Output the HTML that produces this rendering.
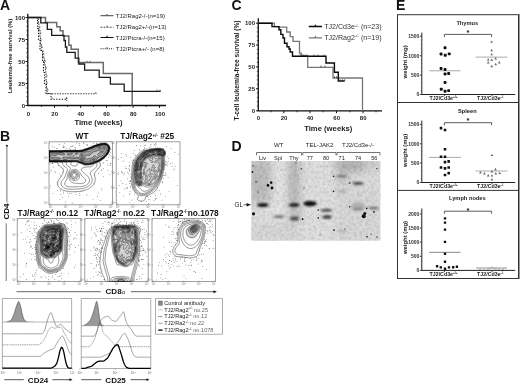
<!DOCTYPE html>
<html><head><meta charset="utf-8"><style>
html,body{margin:0;padding:0;background:#fff;width:520px;height:384px;overflow:hidden}
svg{position:absolute;left:0;top:0;display:block;-webkit-font-smoothing:antialiased;will-change:transform}
text{font-family:"Liberation Sans",sans-serif}
</style></head><body>
<svg width="520" height="384" viewBox="0 0 520 384">
<!-- PANEL A -->
<g id="A">
<text x="0" y="9.7" font-size="14" font-weight="bold" fill="#111">A</text>
<text transform="translate(11.5,56) rotate(-90)" text-anchor="middle" font-size="5.9" font-weight="bold" fill="#222">Leukemia-free survival (%)</text>
<g font-size="6" font-weight="bold" fill="#222" text-anchor="end">
<text x="25" y="19.6">100</text><text x="25" y="41.6">75</text><text x="25" y="63.6">50</text><text x="25" y="85.6">25</text><text x="25" y="107.6">0</text>
</g>
<g stroke="#111" fill="none">
<path d="M27.8,13.8 V105.5 H166" stroke-width="1.3"/>
<path d="M25.6,17.5H27.8M25.6,39.5H27.8M25.6,61.5H27.8M25.6,83.5H27.8M25.6,105.5H27.8" stroke-width="1"/>
<path d="M26.4,21.9H27.8M26.4,26.3H27.8M26.4,30.7H27.8M26.4,35.1H27.8M26.4,43.9H27.8M26.4,48.3H27.8M26.4,52.7H27.8M26.4,57.1H27.8M26.4,65.9H27.8M26.4,70.3H27.8M26.4,74.7H27.8M26.4,79.1H27.8M26.4,87.9H27.8M26.4,92.3H27.8M26.4,96.7H27.8M26.4,101.1H27.8" stroke-width="0.8"/>
<path d="M54.5,105.5V107.8M80.6,105.5V107.8M106.5,105.5V107.8M133,105.5V107.8M159.5,105.5V107.8" stroke-width="1"/>
<path d="M41.4,105.5V107M67.5,105.5V107M93.5,105.5V107M119.8,105.5V107M146.2,105.5V107" stroke-width="0.8"/>
</g>
<g font-size="6" font-weight="bold" fill="#222" text-anchor="middle">
<text x="28.5" y="115.5">0</text><text x="54.7" y="115.5">20</text><text x="80.8" y="115.5">40</text><text x="106.6" y="115.5">60</text><text x="133.3" y="115.5">80</text><text x="160" y="115.5">100</text>
</g>
<text x="98.5" y="125.4" text-anchor="middle" font-size="7.7" font-weight="bold" fill="#222">Time (weeks)</text>
<!-- curves -->
<g fill="none" stroke-linejoin="miter">
<path d="M27.8,17.5 H45.5 V22.5 H56.7 V26.7 H60.2 V30.8 H63 V36 H68.8 V45.2 H71.1 V49.3 H78.3 V62.5 H103.3 V73.4 H132.2 V105.5" stroke="#6a6a6a" stroke-width="1.5"/>
<path d="M27.8,17.5 H40.8 V22.9 H47.3 V29.3 H51.7 V35.4 H64 V40.5 H65.4 V47 H66.8 V52.3 H75.2 V58.1 H78.8 V64 H84.6 V70.2 H99.2 V77.3 H110.4 V84.2 H124.2 V91.3 H160.7" stroke="#1a1a1a" stroke-width="1.3"/>
<path d="M37,17.5 H38.5 V24 H39 V30 H40 V37 H40.5 V44 H41.5 V51 H43 V58 H44.5 V65 H45.5 V72 H46 V80 H46.5 V87 H47 V93.7 H96.4" stroke="#444" stroke-width="1.1" stroke-dasharray="1.5,1.1"/>
<path d="M37,17.5 H37.5 V28.5 H38.5 V39.5 H40 V50.5 H42.5 V61.5 H43.5 V72.5 H44.5 V83.5 H46 V93.5 H51 V99.2 H66.7 M66.7,97.5 V101" stroke="#222" stroke-width="1.1" stroke-dasharray="1.4,1.4"/>
</g>
<g stroke="#444" stroke-width="0.8">
<path d="M40.5,40H42M41.5,47H43M43,54H44.5M44.5,61H46M45.5,68H47M46,76H47.5M46.5,83H48M47,90H48.5M39,27H40.5M40,33H41.5"/>
<path d="M87,60.8V62.5M90,60.8V62.5M157,89.6V91.3M160,89.6V91.3M95.8,92V93.7M52,97.5V99.2M66.4,97.5V99.2"/>
</g>
<!-- legend A -->
<g font-size="6" fill="#222">
<text x="115.8" y="17.8">TJ2/Rag2-/-(n=19)</text>
<text x="115.8" y="29.2">TJ2/Rag2+/-(n=13)</text>
<text x="115.8" y="39.6">TJ2/Ptcra-/-(n=15)</text>
<text x="115.8" y="50.8">TJ2/Ptcra+/- (n=8)</text>
</g>
<g fill="none">
<path d="M100.5,15.7H113.5M107,14V15.7" stroke="#666" stroke-width="1.2"/>
<path d="M100.5,27.2H113.5" stroke="#444" stroke-width="1.1" stroke-dasharray="1.8,1.3"/><path d="M107,25.5V27.2" stroke="#444" stroke-width="0.8"/>
<path d="M100.5,37.5H113.5M107,35.8V37.5" stroke="#111" stroke-width="1.2"/>
<path d="M100.5,48.8H113.5" stroke="#222" stroke-width="1.1" stroke-dasharray="1,1.1"/><path d="M107,47.1V48.8" stroke="#222" stroke-width="0.8"/>
</g>
</g>

<!-- PANEL C -->
<g id="C">
<text x="231.4" y="9.7" font-size="14" font-weight="bold" fill="#111">C</text>
<text transform="translate(239,70.5) rotate(-90)" text-anchor="middle" font-size="6.6" font-weight="bold" fill="#222">T-cell leukemia-free survival (%)</text>
<g font-size="6" font-weight="bold" fill="#222" text-anchor="end">
<text x="255" y="25.3">100</text><text x="255" y="47.1">75</text><text x="255" y="69">50</text><text x="255" y="90.8">25</text><text x="255" y="112.7">0</text>
</g>
<g stroke="#111" fill="none">
<path d="M258.3,18.2 V110.8 H382" stroke-width="1.3"/>
<path d="M256,23.2H258.3M256,45H258.3M256,66.9H258.3M256,88.7H258.3M256,110.8H258.3" stroke-width="1"/>
<path d="M256.9,27.6H258.3M256.9,31.9H258.3M256.9,36.3H258.3M256.9,40.6H258.3M256.9,49.4H258.3M256.9,53.7H258.3M256.9,58.1H258.3M256.9,62.5H258.3M256.9,71.2H258.3M256.9,75.6H258.3M256.9,79.9H258.3M256.9,84.3H258.3M256.9,93H258.3M256.9,97.4H258.3M256.9,101.8H258.3M256.9,106.1H258.3" stroke-width="0.8"/>
<path d="M283.8,110.8V113.2M310,110.8V113.2M336.5,110.8V113.2M363,110.8V113.2" stroke-width="1"/>
<path d="M271,110.8V112.3M297,110.8V112.3M323.2,110.8V112.3M349.8,110.8V112.3M376,110.8V112.3" stroke-width="0.8"/>
</g>
<g font-size="6" font-weight="bold" fill="#222" text-anchor="middle">
<text x="258.3" y="120.3">0</text><text x="284" y="120.3">20</text><text x="310" y="120.3">40</text><text x="336.7" y="120.3">60</text><text x="363.2" y="120.3">80</text>
</g>
<text x="328.2" y="130.5" text-anchor="middle" font-size="7.7" font-weight="bold" fill="#222">Time (weeks)</text>
<g fill="none">
<path d="M258.3,23.2 H274.4 V26.6 H279 V27.1 H286.7 V32 H290.2 V36.7 H293 V41.4 H299.5 V53.1 H301.3 V55.5 H307.7 V67.3 H333 V78 H362.5 V110.8" stroke="#777" stroke-width="1.3"/>
<path d="M258.3,23.2 H272 V26.6 H279 V29.7 H280.8 V34.4 H283 V38 H284.5 V43.2 H287 V46.7 H289 V49 H290.2 V52 H292.5 V56.3 H326 V63 H334.4 V72.2 H338.3 V81 H344.7" stroke="#0a0a0a" stroke-width="1.4"/>
</g>
<g stroke="#333" stroke-width="0.8">
<path d="M300,54.5V56.3M303,54.5V56.3M314,54.5V56.3M318,54.5V56.3M324,54.5V56.3M321,65.6V67.3M325,65.6V67.3M334.5,76.3V78M336.5,76.3V78M340,79.3V81M342.5,79.3V81M344.7,79.3V81"/>
</g>
<g font-size="7.1" fill="#333">
<text x="324.2" y="29.4">TJ2/Cd3e<tspan font-size="4.2" dy="-2.9">-/-</tspan><tspan dy="2.9"> (n=23)</tspan></text>
<text x="324.2" y="40.2">TJ2/Rag2<tspan font-size="4.2" dy="-2.9">-/-</tspan><tspan dy="2.9"> (n=19)</tspan></text>
</g>
<g fill="none">
<path d="M308.8,26.5H322M315.4,24.8V26.5" stroke="#0a0a0a" stroke-width="1.4"/>
<path d="M308.8,37.8H322M315.4,36.1V37.8" stroke="#777" stroke-width="1.2"/>
</g>
</g>

<!-- PANEL E -->
<g id="E">
<text x="395.9" y="10" font-size="14" font-weight="bold" fill="#111">E</text>
<rect x="397.5" y="14.7" width="121" height="263.8" fill="none" stroke="#333" stroke-width="1"/>
<rect x="519" y="14" width="1" height="265" fill="#999"/>
<path d="M397.5,102.5H518.5M397.5,190.4H518.5" stroke="#333" stroke-width="1"/>
<text x="467.3" y="25.3" text-anchor="middle" font-size="5.7" font-weight="bold" fill="#222">Thymus</text>
<text x="468" y="35.4" text-anchor="middle" font-size="7.5" font-weight="bold" fill="#111">*</text>
<path d="M444.4,37V34.4H491.6V37" fill="none" stroke="#333" stroke-width="0.8"/>
<path d="M421.8,32.6V94.5H515.2" fill="none" stroke="#222" stroke-width="1"/>
<path d="M444.4,94.5V96.3M492,94.5V96.3" stroke="#222" stroke-width="0.8"/>
<path d="M419.8,36.2H421.8M419.8,55.7H421.8M419.8,75.2H421.8M419.8,94.5H421.8" stroke="#222" stroke-width="0.8"/>
<path d="M420.8,94.5H421.8M420.8,90.6H421.8M420.8,86.8H421.8M420.8,82.9H421.8M420.8,79.1H421.8M420.8,75.2H421.8M420.8,71.3H421.8M420.8,67.5H421.8M420.8,63.6H421.8M420.8,59.8H421.8M420.8,55.9H421.8M420.8,52H421.8M420.8,48.2H421.8M420.8,44.3H421.8M420.8,40.5H421.8M420.8,36.6H421.8" stroke="#444" stroke-width="0.6"/>
<text x="419.4" y="38" text-anchor="end" font-size="5" font-weight="bold" fill="#333">1500</text>
<text x="419.4" y="57.5" text-anchor="end" font-size="5" font-weight="bold" fill="#333">1000</text>
<text x="419.4" y="77" text-anchor="end" font-size="5" font-weight="bold" fill="#333">500</text>
<text x="419.4" y="96.3" text-anchor="end" font-size="5" font-weight="bold" fill="#333">0</text>
<text transform="translate(406.6,61.9) rotate(-90)" text-anchor="middle" font-size="5.9" font-weight="bold" fill="#222">weight (mg)</text>
<text x="443.6" y="100.4" text-anchor="middle" font-size="5.3" font-weight="bold" fill="#222">TJ2/Cd3e<tspan font-size="3.2" dy="-2.2">+/+</tspan></text>
<text x="490.4" y="100.4" text-anchor="middle" font-size="5.3" font-weight="bold" fill="#222">TJ2/Cd3e<tspan font-size="3.2" dy="-2.2">-/-</tspan></text>
<text x="467.3" y="112.9" text-anchor="middle" font-size="5.7" font-weight="bold" fill="#222">Spleen</text>
<text x="468" y="123.2" text-anchor="middle" font-size="7.5" font-weight="bold" fill="#111">*</text>
<path d="M444.4,125.3V122.7H491.6V125.3" fill="none" stroke="#333" stroke-width="0.8"/>
<path d="M421.8,120.6V182.5H515.2" fill="none" stroke="#222" stroke-width="1"/>
<path d="M444.4,182.5V184.3M492,182.5V184.3" stroke="#222" stroke-width="0.8"/>
<path d="M419.8,124.6H421.8M419.8,143.8H421.8M419.8,163H421.8M419.8,182.5H421.8" stroke="#222" stroke-width="0.8"/>
<path d="M420.8,182.5H421.8M420.8,178.6H421.8M420.8,174.7H421.8M420.8,170.8H421.8M420.8,166.9H421.8M420.8,163H421.8M420.8,159.1H421.8M420.8,155.2H421.8M420.8,151.3H421.8M420.8,147.4H421.8M420.8,143.5H421.8M420.8,139.6H421.8M420.8,135.7H421.8M420.8,131.8H421.8M420.8,127.9H421.8M420.8,124H421.8" stroke="#444" stroke-width="0.6"/>
<text x="419.4" y="126.4" text-anchor="end" font-size="5" font-weight="bold" fill="#333">1500</text>
<text x="419.4" y="145.6" text-anchor="end" font-size="5" font-weight="bold" fill="#333">1000</text>
<text x="419.4" y="164.8" text-anchor="end" font-size="5" font-weight="bold" fill="#333">500</text>
<text x="419.4" y="184.3" text-anchor="end" font-size="5" font-weight="bold" fill="#333">0</text>
<text transform="translate(406.6,150.4) rotate(-90)" text-anchor="middle" font-size="5.9" font-weight="bold" fill="#222">weight (mg)</text>
<text x="443.6" y="188.3" text-anchor="middle" font-size="5.3" font-weight="bold" fill="#222">TJ2/Cd3e<tspan font-size="3.2" dy="-2.2">+/+</tspan></text>
<text x="490.4" y="188.3" text-anchor="middle" font-size="5.3" font-weight="bold" fill="#222">TJ2/Cd3e<tspan font-size="3.2" dy="-2.2">-/-</tspan></text>
<text x="467.3" y="200.3" text-anchor="middle" font-size="5.7" font-weight="bold" fill="#222">Lymph nodes</text>
<text x="468" y="212.6" text-anchor="middle" font-size="7.5" font-weight="bold" fill="#111">*</text>
<path d="M444.4,213.8V211.2H491.6V213.8" fill="none" stroke="#333" stroke-width="0.8"/>
<path d="M421.8,208.5V270.4H515.2" fill="none" stroke="#222" stroke-width="1"/>
<path d="M444.4,270.4V272.2M492,270.4V272.2" stroke="#222" stroke-width="0.8"/>
<path d="M419.8,214H421.8M419.8,228.1H421.8M419.8,242.2H421.8M419.8,256.3H421.8M419.8,270.4H421.8" stroke="#222" stroke-width="0.8"/>
<path d="M420.8,270.4H421.8M420.8,267.6H421.8M420.8,264.8H421.8M420.8,261.9H421.8M420.8,259.1H421.8M420.8,256.3H421.8M420.8,253.5H421.8M420.8,250.7H421.8M420.8,247.8H421.8M420.8,245H421.8M420.8,242.2H421.8M420.8,239.4H421.8M420.8,236.6H421.8M420.8,233.7H421.8M420.8,230.9H421.8M420.8,228.1H421.8M420.8,225.3H421.8M420.8,222.5H421.8M420.8,219.6H421.8M420.8,216.8H421.8M420.8,214H421.8M420.8,211.2H421.8" stroke="#444" stroke-width="0.6"/>
<text x="419.4" y="215.8" text-anchor="end" font-size="5" font-weight="bold" fill="#333">2000</text>
<text x="419.4" y="229.9" text-anchor="end" font-size="5" font-weight="bold" fill="#333">1500</text>
<text x="419.4" y="244" text-anchor="end" font-size="5" font-weight="bold" fill="#333">1000</text>
<text x="419.4" y="258.1" text-anchor="end" font-size="5" font-weight="bold" fill="#333">500</text>
<text x="419.4" y="272.2" text-anchor="end" font-size="5" font-weight="bold" fill="#333">0</text>
<text transform="translate(406.6,237.5) rotate(-90)" text-anchor="middle" font-size="5.9" font-weight="bold" fill="#222">weight (mg)</text>
<text x="443.6" y="276.4" text-anchor="middle" font-size="5.3" font-weight="bold" fill="#222">TJ2/Cd3e<tspan font-size="3.2" dy="-2.2">+/+</tspan></text>
<text x="490.4" y="276.4" text-anchor="middle" font-size="5.3" font-weight="bold" fill="#222">TJ2/Cd3e<tspan font-size="3.2" dy="-2.2">-/-</tspan></text>
<path d="M429.3,70.8H460.5M475.5,57.1H507.3" stroke="#aaa" stroke-width="1"/>
<rect x="443.6" y="46.3" width="2.9" height="2.9" rx="0.8" fill="#111"/><rect x="439.6" y="52.6" width="2.9" height="2.9" rx="0.8" fill="#111"/><rect x="443.8" y="53.8" width="2.9" height="2.9" rx="0.8" fill="#111"/><rect x="447.8" y="52.4" width="2.9" height="2.9" rx="0.8" fill="#111"/><rect x="439.6" y="67" width="2.9" height="2.9" rx="0.8" fill="#111"/><rect x="443.6" y="68.1" width="2.9" height="2.9" rx="0.8" fill="#111"/><rect x="443.6" y="72.5" width="2.9" height="2.9" rx="0.8" fill="#111"/><rect x="447.2" y="72.1" width="2.9" height="2.9" rx="0.8" fill="#111"/><rect x="443.6" y="81" width="2.9" height="2.9" rx="0.8" fill="#111"/><rect x="439.8" y="87.8" width="2.9" height="2.9" rx="0.8" fill="#111"/><rect x="443.6" y="89.8" width="2.9" height="2.9" rx="0.8" fill="#111"/><rect x="447.2" y="89.2" width="2.9" height="2.9" rx="0.8" fill="#111"/>
<path d="M491.7,40.4L493,42.8H490.4Z" fill="#666"/><path d="M491.7,48.8L493,51.2H490.4Z" fill="#666"/><path d="M491.7,52.9L493,55.3H490.4Z" fill="#666"/><path d="M488.2,58.2L489.5,60.6H486.9Z" fill="#666"/><path d="M491.7,58.6L493,61H490.4Z" fill="#666"/><path d="M495.7,57L497,59.4H494.4Z" fill="#666"/><path d="M488.2,61.1L489.5,63.5H486.9Z" fill="#666"/><path d="M495.7,62.8L497,65.2H494.4Z" fill="#666"/><path d="M499.3,61.1L500.6,63.5H498Z" fill="#666"/><path d="M491.7,64.8L493,67.2H490.4Z" fill="#666"/>
<path d="M429,157.4H461M475.7,171H507.5" stroke="#aaa" stroke-width="1"/>
<rect x="439.7" y="126.8" width="2.6" height="2.6" rx="0.3" fill="#111"/><rect x="443.7" y="128.7" width="2.6" height="2.6" rx="0.3" fill="#111"/><rect x="443.7" y="147.9" width="2.6" height="2.6" rx="0.3" fill="#111"/><rect x="439.7" y="155.4" width="2.6" height="2.6" rx="0.3" fill="#111"/><rect x="443.7" y="155.4" width="2.6" height="2.6" rx="0.3" fill="#111"/><rect x="447.4" y="160.1" width="2.6" height="2.6" rx="0.3" fill="#111"/><rect x="443.7" y="160.8" width="2.6" height="2.6" rx="0.3" fill="#111"/><rect x="439.7" y="166.2" width="2.6" height="2.6" rx="0.3" fill="#111"/><rect x="443.7" y="167.1" width="2.6" height="2.6" rx="0.3" fill="#111"/><rect x="447.4" y="166.2" width="2.6" height="2.6" rx="0.3" fill="#111"/><rect x="447.4" y="171.8" width="2.6" height="2.6" rx="0.3" fill="#111"/><rect x="443.7" y="173.7" width="2.6" height="2.6" rx="0.3" fill="#111"/>
<path d="M491.9,153.7L493.2,156.1H490.6Z" fill="#666"/><path d="M495.5,167.8L496.8,170.2H494.2Z" fill="#666"/><path d="M480.4,171.1L481.7,173.5H479.1Z" fill="#666"/><path d="M484.4,172.1L485.7,174.5H483.1Z" fill="#666"/><path d="M491.9,170.1L493.2,172.4H490.6Z" fill="#666"/><path d="M495.8,172.1L497.1,174.5H494.5Z" fill="#666"/><path d="M499.7,171.7L501,174.1H498.4Z" fill="#666"/><path d="M488.2,174L489.5,176.4H486.9Z" fill="#666"/><path d="M491.9,174.2L493.2,176.6H490.6Z" fill="#666"/><path d="M491.9,178L493.2,180.4H490.6Z" fill="#666"/>
<path d="M429.2,252.3H460.6" stroke="#888" stroke-width="1"/><path d="M476,268H507" stroke="#888" stroke-width="0.9"/>
<rect x="443.8" y="217.2" width="2.4" height="2.4" rx="0.3" fill="#111"/><rect x="443.8" y="221.4" width="2.4" height="2.4" rx="0.3" fill="#111"/><rect x="443.8" y="228.4" width="2.4" height="2.4" rx="0.3" fill="#111"/><rect x="443.8" y="240.7" width="2.4" height="2.4" rx="0.3" fill="#111"/><rect x="443.8" y="252.6" width="2.4" height="2.4" rx="0.3" fill="#111"/><rect x="443.8" y="260.5" width="2.4" height="2.4" rx="0.3" fill="#111"/><rect x="435.9" y="265" width="2.4" height="2.4" rx="0.3" fill="#111"/><rect x="439.6" y="266.2" width="2.4" height="2.4" rx="0.3" fill="#111"/><rect x="443.8" y="267.5" width="2.4" height="2.4" rx="0.3" fill="#111"/><rect x="447.8" y="266.2" width="2.4" height="2.4" rx="0.3" fill="#111"/><rect x="452" y="266" width="2.4" height="2.4" rx="0.3" fill="#111"/><rect x="455.7" y="265.5" width="2.4" height="2.4" rx="0.3" fill="#111"/>
<path d="M480,268.5L480.9,270.1H479.1Z" fill="#888"/><path d="M484,268.7L484.9,270.3H483.1Z" fill="#888"/><path d="M488,268.2L488.9,269.8H487.1Z" fill="#888"/><path d="M490,267.2L490.9,268.8H489.1Z" fill="#888"/><path d="M492,266.2L492.9,267.8H491.1Z" fill="#888"/><path d="M494,267.7L494.9,269.3H493.1Z" fill="#888"/><path d="M496,267.7L496.9,269.3H495.1Z" fill="#888"/><path d="M499,268.2L499.9,269.8H498.1Z" fill="#888"/><path d="M503,268.5L503.9,270.1H502.1Z" fill="#888"/>
</g>
<!-- PANEL D -->
<g id="D">
<text x="231.6" y="150.8" font-size="14" font-weight="bold" fill="#111">D</text>
<g font-size="6.1" fill="#222" text-anchor="middle">
<text x="278.8" y="147.3">WT</text><text x="319.6" y="147.3">TEL-JAK2</text><text x="358" y="147.3">TJ2/Cd3e-/-</text>
</g>
<g font-size="5.6" fill="#222" text-anchor="middle">
<text x="262.6" y="160">Liv</text>
<text x="278" y="160">Spl</text>
<text x="294" y="160">Thy</text>
<text x="309.8" y="160">77</text>
<text x="326" y="160">80</text>
<text x="341.7" y="160">71</text>
<text x="358" y="160">74</text>
<text x="374.3" y="160">56</text>
</g>
<path d="M256.5,155.3V152.5H301.5V155.3M302.8,155.3V152.5H336V155.3M337,155.3V152.5H380V155.3" fill="none" stroke="#444" stroke-width="0.75"/>
<text x="243" y="206.8" text-anchor="end" font-size="6.3" fill="#222">GL</text>
<path d="M243.6,204.8H246.3" stroke="#222" stroke-width="0.7"/><path d="M246.5,203.1L251,204.8L246.5,206.5Z" fill="#111"/>
<defs>
<filter id="bl1" x="-50%" y="-50%" width="200%" height="200%"><feGaussianBlur stdDeviation="0.9"/></filter>
<filter id="bl2" x="-50%" y="-50%" width="200%" height="200%"><feGaussianBlur stdDeviation="2"/></filter>
<filter id="bl4" x="-50%" y="-50%" width="200%" height="200%"><feGaussianBlur stdDeviation="4"/></filter>
<filter id="bl05" x="-50%" y="-50%" width="200%" height="200%"><feGaussianBlur stdDeviation="0.5"/></filter>
<filter id="grain" x="0" y="0" width="100%" height="100%"><feTurbulence type="fractalNoise" baseFrequency="0.35" numOctaves="2" seed="3"/><feColorMatrix type="matrix" values="0 0 0 0 0  0 0 0 0 0  0 0 0 0 0  0 0 0 -1.2 0.75"/></filter>
<clipPath id="gelclip"><rect x="251.2" y="161" width="129.3" height="79.7"/></clipPath>
</defs>
<g clip-path="url(#gelclip)">
<rect x="251.2" y="161" width="129.3" height="79.7" fill="#e0e0e0"/>
<g filter="url(#bl4)">
<rect x="249" y="159" width="22" height="44" fill="#bdbdbd"/>
<rect x="274" y="163" width="13" height="80" fill="#e6e6e6"/>
<rect x="288.5" y="158" width="11" height="50" fill="#b4b4b4"/>
<rect x="288.5" y="208" width="11" height="28" fill="#bcbcbc"/>
<rect x="301" y="175" width="35" height="68" fill="#e0e0e0"/>
<rect x="336" y="158" width="28" height="14" fill="#b0b0b0"/>
<rect x="336" y="172" width="14" height="30" fill="#cacaca"/>
<rect x="364" y="158" width="17" height="14" fill="#cfcfcf"/>
<rect x="336" y="185" width="44" height="58" fill="#d9d9d9"/>
<rect x="251" y="222" width="50" height="21" fill="#d8d8d8"/>
</g>
<rect x="251.2" y="161" width="129.3" height="79.7" filter="url(#grain)" opacity="0.2"/>
<g filter="url(#bl1)">
<ellipse cx="262.8" cy="205" rx="5.8" ry="2.1" fill="#181818"/>
<ellipse cx="279" cy="216.6" rx="5.6" ry="1.3" fill="#6a6a6a"/>
<ellipse cx="294.2" cy="205" rx="5.6" ry="1.9" fill="#222"/>
<ellipse cx="294.5" cy="218.5" rx="4.5" ry="2.3" fill="#555"/>
<ellipse cx="310" cy="203.6" rx="6.6" ry="2.6" fill="#080808"/>
<ellipse cx="326.5" cy="210.2" rx="5.5" ry="1.5" fill="#4a4a4a"/>
<ellipse cx="327" cy="217" rx="4.8" ry="1.8" fill="#3a3a3a"/>
<ellipse cx="341.8" cy="176.3" rx="5.8" ry="1.5" fill="#777"/>
<ellipse cx="341.8" cy="191.5" rx="5" ry="1.2" fill="#a8a8a8"/>
<ellipse cx="358" cy="183.3" rx="5.8" ry="1.6" fill="#4a4a4a"/>
<ellipse cx="358" cy="206" rx="7" ry="4" fill="#b0b0b0"/>
<ellipse cx="358" cy="209" rx="5.5" ry="1.5" fill="#8a8a8a"/>
<ellipse cx="373.5" cy="208" rx="5" ry="1.3" fill="#6a6a6a"/>
<ellipse cx="342" cy="231" rx="5" ry="1.3" fill="#b0b0b0"/>
</g>
<g filter="url(#bl05)" fill="#111">
<circle cx="268" cy="185.4" r="1.4"/>
<circle cx="271.2" cy="182.6" r="1.3"/>
<circle cx="272" cy="188" r="1.4"/>
<circle cx="253.5" cy="213.8" r="1.6"/>
<circle cx="302.7" cy="219" r="0.8"/>
<circle cx="318.3" cy="210" r="0.8"/>
<circle cx="318.3" cy="217.9" r="0.8"/>
<circle cx="302.5" cy="219.2" r="0.8"/>
<circle cx="334" cy="230.1" r="0.9"/>
<circle cx="333.5" cy="176.3" r="0.8"/>
<circle cx="333.5" cy="191.2" r="0.8"/>
<circle cx="349.8" cy="183" r="0.8"/>
<circle cx="349.8" cy="206.8" r="0.8"/>
<circle cx="366.7" cy="208.4" r="0.8"/>
<circle cx="373.9" cy="211.8" r="0.9"/>
<circle cx="367" cy="236.7" r="0.8"/>
<circle cx="363.7" cy="216.2" r="2.0"/>
<circle cx="364.8" cy="213.6" r="1.5"/>
<circle cx="256" cy="182" r="0.8"/>
<circle cx="252.5" cy="172" r="0.9"/>
<circle cx="301.3" cy="168.6" r="0.6"/>
<circle cx="376.8" cy="168.6" r="0.6"/>
<circle cx="253" cy="166" r="0.7"/>
<circle cx="258" cy="192" r="0.5"/>
<circle cx="281" cy="170" r="0.4"/>
<circle cx="304" cy="188" r="0.5"/>
<circle cx="320" cy="235" r="0.5"/>
<circle cx="345" cy="229" r="0.5"/>
<circle cx="371" cy="234" r="0.6"/>
<circle cx="377" cy="237" r="0.7"/>
<circle cx="296" cy="163" r="0.6"/>
<circle cx="327" cy="166" r="0.4"/>
</g>
</g>
</g>
<!-- PANEL B -->
<g id="B">
<text x="0" y="141" font-size="14" font-weight="bold" fill="#111">B</text>
<circle cx="6.9" cy="145.7" r="1" fill="#111"/>
<path d="M6.9,146V202.5M6.2,223.4V281" stroke="#666" stroke-width="0.9"/>
<text transform="translate(9.3,211.5) rotate(-90)" text-anchor="middle" font-size="8" font-weight="bold" fill="#111">CD4</text>
<path d="M16.5,291.7H100.6M130.9,291.7H214" stroke="#555" stroke-width="0.9"/>
<path d="M213.5,290.2L216.8,291.7L213.5,293.2Z" fill="#111"/>
<text x="105.6" y="294.2" font-size="8" font-weight="bold" fill="#111">CD8</text><text x="121.8" y="294.2" font-size="6.2" fill="#333">α</text>
<g font-size="8.3" font-weight="bold" fill="#111">
<text x="82" y="139.3" text-anchor="middle">WT</text>
<text x="120.2" y="139.3">TJ/Rag2<tspan font-size="4.6" dy="-2.8">+/-</tspan><tspan dy="2.8"> #25</tspan></text>
<text x="17.4" y="215.6">TJ/Rag2<tspan font-size="4.6" dy="-2.8">-/-</tspan><tspan dy="2.8"> no.12</tspan></text>
<text x="84.2" y="215.6">TJ/Rag2<tspan font-size="4.6" dy="-2.8">-/-</tspan><tspan dy="2.8"> no.22</tspan></text>
<text x="151.1" y="215.6">TJ/Rag2<tspan font-size="4.6" dy="-2.8">-/-</tspan><tspan dy="2.8">no.1078</tspan></text>
</g>
<rect x="49" y="141.8" width="63.5" height="63" fill="#fff" stroke="#888" stroke-width="0.8"/>
<clipPath id="cp_wt"><rect x="49" y="141.8" width="63.5" height="63"/></clipPath>
<g clip-path="url(#cp_wt)">
<path d="M89.4,162.9 88.6,163 87.9,163.1 87.1,163.1 86.4,163.1 85.6,163.1 84.9,163 84.4,162.9 83.7,162.7 83.1,162.5 82.6,162.3 82.1,162.1 81.4,161.9 80.9,161.8 80.4,161.6 79.8,161.4 79.3,161.2 78.9,160.9 78.3,160.7 77.6,160.5 76.9,160.4 76.4,160.4 75.6,160.4 74.9,160.4 74.1,160.4 73.4,160.4 72.6,160.4 71.9,160.4 71.1,160.4 70.4,160.4 69.6,160.4 68.9,160.4 68.1,160.4 67.4,160.4 66.6,160.4 65.9,160.4 65.1,160.4 64.4,160.4 63.6,160.4 62.9,160.4 62.1,160.4 61.4,160.4 60.6,160.4 59.9,160.4 59.1,160.4 58.4,160.3 57.6,160.3 56.9,160.3 56.1,160.3 55.4,160.3 54.6,160.3 53.9,160.3 53.1,160.3 52.4,160.3 51.6,160.3 50.9,160.3 50.1,160.3 49.4,160.3 49,159.9 49,159.2 49,158.4 49,157.7 49,156.9 49,156.2 49,155.4 49,154.7 49,153.9 49,153.2 49.1,152.4 49.6,152.3 50.4,152.3 51.1,152.3 51.9,152.3 52.6,152.3 53.4,152.3 54.1,152.3 54.9,152.3 55.6,152.3 56.4,152.3 57.1,152.3 57.9,152.3 58.6,152.3 59.4,152.3 60.1,152.3 60.9,152.3 61.6,152.3 62.4,152.2 63.1,152.2 63.6,152.1 64.4,152.1 65.1,152 65.9,152 66.6,152 67.4,152 68.1,152 68.9,152 69.6,152 70.4,152 71.1,152 71.9,152 72.6,152 73.4,152 74.1,152 74.9,152 75.6,152 76.4,152 77.1,152 77.9,152 78.6,152 79.4,152 80.1,152 80.7,151.9 81.4,151.8 82.1,151.7 82.6,151.6 83.4,151.4 83.9,151.3 84.4,151.1 85,150.9 85.6,150.7 86.1,150.5 86.6,150.4 87.2,150.2 87.9,150 88.4,149.8 88.9,149.6 89.4,149.4 90.1,149.2 90.6,149 91.1,148.8 91.6,148.6 92.1,148.3 92.6,148.1 93.1,147.9 93.7,147.7 94.3,147.4 94.9,147.2 95.4,147 95.9,146.8 96.4,146.6 96.9,146.4 97.6,146.2 98.1,146 98.6,145.9 99.4,145.7 99.9,145.6 100.5,145.4 101.1,145.3 101.6,145.2 102.4,145 103.1,145 103.9,145 104.6,145 105.4,145.1 105.9,145.3 106.4,145.5 106.9,145.9 107.2,146.2 107.6,146.7 107.8,147.2 107.9,147.7 108,148.4 107.9,149.2 107.8,149.7 107.7,150.4 107.5,150.9 107.3,151.4 107,151.9 106.7,152.4 106.4,152.9 106.1,153.4 105.9,153.7 105.6,154.2 105.2,154.7 104.9,155.1 104.6,155.4 104.1,155.9 103.8,156.2 103.4,156.5 102.9,156.9 102.5,157.2 102.1,157.4 101.6,157.8 101.1,158.1 100.7,158.4 100.3,158.7 99.9,159 99.4,159.3 98.9,159.6 98.4,159.9 97.9,160.1 97.4,160.4 96.9,160.6 96.4,160.8 95.9,161 95.4,161.2 94.7,161.4 94.1,161.7 93.6,161.9 93.1,162.1 92.6,162.3 92.1,162.4 91.4,162.6 90.9,162.7 90.1,162.9 89.5,162.9Z M73.9,155.9 73.4,155.8 73.6,156.1Z" fill="#888" fill-opacity="0.45" stroke="none"/>
<path d="M84.1,161.9 83.6,161.9 82.9,161.7 82.4,161.6 81.8,161.4 81.1,161.2 80.6,161.1 80.1,160.8 79.7,160.4 79.4,160 79.1,159.6 78.9,159.1 78.6,158.7 77.9,158.5 77.1,158.6 76.4,158.7 75.6,158.7 74.9,158.6 74.1,158.6 73.6,158.7 73.1,158.9 72.4,159.2 71.6,159.1 70.9,158.9 70.4,158.8 69.9,158.6 69.2,158.4 68.6,158.3 68.1,158.5 67.6,158.8 67.1,159.1 66.6,159.3 66.1,159.5 65.4,159.5 64.6,159.5 64.1,159.4 63.4,159.2 62.9,159 62.5,158.7 62.3,158.2 62.6,157.7 63,157.4 63.5,157.2 64.1,157 64.9,157 65.6,157 66.4,157 67.1,157.1 67.6,157.2 68.4,157.4 69.1,157.2 69.6,157 70.1,156.9 70.9,156.8 71.4,156.9 72,157.2 72.5,157.4 73.1,157.7 73.6,157.9 74.4,157.8 74.9,157.6 75.6,157.4 76.1,157.4 76.9,157.4 77.4,157.5 78.1,157.5 78.6,157.3 79.1,157 79.5,156.7 79.9,156.2 80,155.7 79.9,154.9 79.9,154.6 80,153.9 80.3,153.4 80.6,153.1 81.1,152.9 81.9,152.7 82.6,152.8 83.4,152.7 83.9,152.5 84.4,152.3 84.9,152 85.4,151.8 85.9,151.7 86.6,151.5 87.1,151.4 87.9,151.3 88.6,151.2 89.4,151.3 89.9,151.4 90.4,151.4 90.8,150.9 91.1,150.4 91.4,150 91.8,149.7 92.4,149.4 92.9,149.3 93.4,149.2 94.1,149 94.6,148.8 95.1,148.6 95.6,148.3 96,147.9 96.4,147.6 96.9,147.2 97.4,146.9 97.9,146.7 98.4,146.6 99.1,146.4 99.6,146.3 100.4,146.3 101.1,146.2 101.9,146.2 102.4,146.2 103.1,146.1 103.9,146 104.6,146.1 105.1,146.3 105.6,146.5 106.1,146.8 106.6,147.2 106.8,147.7 106.9,148.4 106.8,149.2 106.6,149.9 106.5,150.4 106.2,150.9 105.9,151.4 105.6,151.8 105.4,152.2 105,152.7 104.7,153.2 104.5,153.7 104.2,154.2 103.9,154.5 103.5,154.9 103.1,155.2 102.7,155.7 102.4,156 101.9,156.4 101.5,156.7 100.9,156.9 100.1,156.8 99.6,156.7 99.1,156.4 98.6,155.9 98.4,155.7 98,155.2 97.8,154.7 97.9,154.2 98.3,153.7 98.6,153.4 99.1,153.1 99.6,152.8 100.1,152.5 100.6,152.2 101.1,152 101.9,152.1 102.4,152.2 103.1,152.2 103.4,151.9 103.3,151.4 102.9,151.1 102.1,151.2 101.6,151.4 101.1,151.5 100.6,151.3 100.1,151.1 99.6,150.8 99.1,150.5 98.6,150.4 97.9,150.4 97.4,150.7 97.1,150.9 96.6,151.2 96.1,151.4 95.4,151.6 94.6,151.6 94.1,151.7 93.4,151.9 92.9,152.1 92.4,152.4 92.1,152.9 91.9,153.3 91.5,153.7 91.1,154.1 90.8,154.4 90.4,154.8 89.9,155.1 89.4,155.3 88.8,155.4 88.1,155.5 87.4,155.5 86.6,155.6 85.9,155.7 85.4,155.8 84.9,156.1 84.7,156.7 84.9,157.2 85.3,157.7 85.6,158 86,158.4 86.4,158.8 86.9,159.1 87.4,158.9 87.9,158.6 88.4,158.4 89.1,158.3 89.9,158.3 90.6,158.2 91.1,158.1 91.7,157.9 92.2,157.7 92.6,157.4 93.1,156.9 93.4,156.7 93.9,156.2 94.2,155.9 94.6,155.7 95.3,155.7 95.6,155.9 96,156.4 96.3,156.9 96.6,157.2 97.4,157.3 97.9,157.2 98.6,157 98.6,157.4 98.3,157.9 97.9,158.3 97.4,158.7 97.1,158.9 96.6,159.3 96.1,159.7 95.8,159.9 95.4,160.2 94.9,160.5 94.4,160.8 93.9,161 93.3,161.2 92.6,161.4 92.1,161.5 91.6,161.7 90.9,161.8 90.1,161.8 89.4,161.7 88.6,161.7 87.9,161.7 87.1,161.7 86.4,161.7 85.9,161.7 85.4,161.7 84.6,161.9 84.1,161.9Z M56.4,159.5 55.6,159.6 54.9,159.5 54.4,159.4 53.9,159.2 53.1,159 52.4,158.9 51.6,159 50.9,159 50.1,158.9 49.6,158.9 49.1,158.7 49.1,157.9 49.1,157.2 49.1,156.4 49.1,155.7 49.1,154.9 49.1,154.2 49.1,153.5 49.8,153.4 50.4,153.3 51.1,153.2 51.9,153.2 52.6,153.3 53.3,153.4 53.9,153.6 54.6,153.7 55.4,153.6 56.1,153.5 56.9,153.5 57.6,153.6 58.4,153.6 58.9,153.3 59.4,153 59.9,152.9 60.6,152.9 61.4,152.9 61.9,152.9 62.6,153.1 63.1,153.2 63.9,153.4 64.4,153.7 64.7,153.9 64.7,154.7 64.3,154.9 63.6,155.1 62.9,155 62.3,154.9 61.6,154.8 60.9,154.8 60.1,154.7 59.6,154.5 59.1,154.3 58.6,154.1 58.1,154.2 57.6,154.6 57.1,154.9 56.6,155.2 56.1,155.3 55.6,155.4 54.9,155.5 54.1,155.5 53.6,155.4 52.9,155.2 52.3,155.2 51.8,155.2 51.1,155.3 50.6,155.5 50.1,155.8 49.7,156.2 50.1,156.6 50.6,156.8 51.1,157 51.9,157.1 52.4,157.2 52.9,157.2 53.6,157.1 54.4,157.1 55.1,157.1 55.6,157.2 56.4,157.3 56.9,157.4 57.6,157.6 58.1,157.7 58.9,157.8 59.6,157.9 60.1,158 60.6,158.4 60.4,158.9 59.9,159.2 59.1,159.4 58.4,159.3 57.6,159.3 56.9,159.3 56.4,159.5Z M76.6,154.7 75.9,154.7 75.4,154.4 75.1,154 75.1,153.6 75.5,153.2 76.1,153 76.6,152.9 77.2,152.9 77.8,153.2 77.9,153.6 77.6,154 77.2,154.4 76.8,154.7Z M69.9,155.2 69.4,155.2 68.6,155.1 67.9,155 67.4,154.8 66.9,154.4 66.9,154.1 67.3,153.7 67.9,153.5 68.4,153.4 68.9,153.4 69.6,153.5 70.4,153.4 70.9,153.3 71.4,153.1 72.1,153.1 72.6,153.4 72.6,153.7 72.1,154.1 71.7,154.4 71.3,154.7 70.9,154.9 70.1,155.2Z" fill="#444" fill-opacity="0.35" stroke="none"/>
<path d="M74.4,191.7 73.6,191.7 72.9,191.7 72.1,191.7 71.4,191.7 70.8,191.7 70.1,191.6 69.4,191.6 68.6,191.5 68,191.4 67.4,191.3 66.6,191.2 66.1,191.1 65.5,190.9 64.9,190.7 64.4,190.6 63.9,190.4 63.3,190.2 62.7,189.9 62.2,189.7 61.8,189.4 61.3,189.2 60.9,188.9 60.4,188.5 60,188.2 59.6,187.9 59.2,187.4 58.9,187.1 58.6,186.7 58.2,186.2 58,185.7 57.8,185.2 57.6,184.6 57.5,183.9 57.5,183.2 57.6,182.5 57.8,181.9 57.9,181.4 58.2,180.9 58.4,180.4 58.7,179.9 59.1,179.4 59.4,179 59.6,178.7 60,178.2 60.4,177.7 60.6,177.3 60.9,176.9 61.2,176.4 61.5,175.9 61.8,175.4 62.1,174.9 62.3,174.4 62.5,173.9 62.7,173.4 62.9,172.9 63.1,172.3 63.3,171.7 63.4,171.2 63.5,170.4 63.4,169.7 63.2,169.2 62.9,168.7 62.6,168.4 62.2,167.9 61.9,167.7 61.4,167.3 60.9,166.9 60.5,166.7 60.1,166.4 59.6,166 59.2,165.7 58.9,165.4 58.4,164.9 58.1,164.5 57.9,163.9 57.9,163.2 57.6,162.8 57.1,162.6 56.5,162.4 55.9,162.4 55.1,162.3 54.4,162.2 53.6,162.2 53.1,162.2 52.4,162.1 51.6,162.1 50.9,162.1 50.1,162.1 49.4,162.1 49,161.7 48.9,160.9 48.9,160.2 48.9,159.4 48.9,158.7 48.9,157.9 48.9,157.2 48.9,156.4 48.9,155.7 48.9,154.9 48.9,154.2 48.9,153.4 48.9,152.7 48.9,151.9 48.9,151.2 49.1,150.6 49.9,150.6 50.6,150.6 51.4,150.6 52.1,150.6 52.9,150.6 53.6,150.6 54.4,150.6 55.1,150.6 55.9,150.6 56.6,150.6 57.4,150.6 58.1,150.6 58.9,150.6 59.6,150.6 60.4,150.6 61.1,150.6 61.9,150.6 62.6,150.6 63.4,150.5 64.1,150.4 64.6,150.4 65.4,150.4 66.1,150.4 66.9,150.4 67.6,150.4 68.4,150.4 69.1,150.4 69.9,150.4 70.6,150.4 71.4,150.4 72.1,150.4 72.9,150.4 73.6,150.4 74.4,150.4 75.1,150.4 75.9,150.4 76.6,150.4 77.4,150.4 78.1,150.4 78.9,150.4 79.6,150.4 80.4,150.3 81.1,150.2 81.6,150.1 82.4,149.9 82.9,149.8 83.4,149.6 83.9,149.4 84.6,149.2 85.1,149 85.6,148.8 86.2,148.7 86.9,148.4 87.4,148.3 87.9,148.1 88.4,147.9 89.1,147.7 89.6,147.5 90.1,147.3 90.6,147.1 91.1,146.9 91.6,146.7 92.2,146.4 92.8,146.2 93.4,145.9 93.9,145.7 94.4,145.5 94.9,145.3 95.4,145.1 95.9,144.9 96.6,144.7 97.1,144.5 97.6,144.4 98.4,144.2 98.9,144 99.4,143.9 100.1,143.7 100.6,143.6 101.4,143.4 101.9,143.3 102.6,143.2 103.4,143.2 103.9,143.2 104.6,143.1 105.1,143.2 105.9,143.3 106.4,143.4 107,143.7 107.4,143.9 107.9,144.2 108.3,144.7 108.6,145 109,145.4 109.3,145.9 109.6,146.4 109.8,146.9 109.9,147.4 109.9,148.2 109.9,148.7 109.8,149.4 109.6,149.9 109.4,150.7 109.3,151.2 109.1,151.7 108.9,152.2 108.6,152.7 108.3,153.2 108,153.7 107.7,154.2 107.4,154.6 107.1,154.9 106.7,155.4 106.4,155.8 106.1,156.2 105.6,156.7 105.4,157 105,157.4 104.6,157.8 104.2,158.2 103.9,158.4 103.4,158.8 102.9,159.2 102.5,159.4 102.1,159.7 101.6,160.1 101.2,160.4 100.9,160.7 100.4,161.2 100.1,161.4 99.7,161.9 99.6,162.4 99.9,162.9 100.1,163.4 100.3,163.9 100.4,164.4 100.3,164.9 100.1,165.6 99.9,166.2 99.6,166.6 99.4,167 99.1,167.4 98.7,167.9 98.4,168.4 98.1,168.7 97.7,169.2 97.4,169.6 97.1,169.9 96.7,170.4 96.4,170.8 96.1,171.2 95.7,171.7 95.4,172.1 95.1,172.5 94.9,173 94.6,173.7 94.5,174.2 94.5,174.9 94.6,175.7 94.7,176.2 94.9,176.9 95,177.4 95.1,178.2 95.2,178.7 95.2,179.4 95.2,180.2 95.1,180.7 95,181.4 94.8,181.9 94.6,182.5 94.4,183 94.1,183.5 93.9,184 93.6,184.4 93.2,184.9 92.9,185.4 92.6,185.7 92.1,186.2 91.9,186.4 91.4,186.9 91,187.2 90.6,187.5 90.1,187.8 89.6,188.2 89.2,188.4 88.8,188.7 88.4,188.9 87.9,189.2 87.3,189.4 86.7,189.7 86.1,189.9 85.6,190.1 85.1,190.3 84.6,190.4 83.9,190.6 83.4,190.7 82.6,190.9 82.1,191 81.4,191.1 80.9,191.2 80.1,191.3 79.4,191.4 78.8,191.4 78.1,191.5 77.4,191.5 76.6,191.6 75.9,191.6 75.1,191.7 74.6,191.7 M74.4,189.2 73.6,189.2 72.9,189.2 72.1,189.3 71.4,189.3 70.6,189.3 69.9,189.2 69.1,189.2 68.6,189.1 67.9,189 67.4,188.9 66.6,188.8 66.1,188.6 65.5,188.4 64.9,188.2 64.4,187.9 63.9,187.7 63.5,187.4 63.1,187.2 62.6,186.8 62.3,186.4 61.9,186 61.6,185.6 61.4,185.1 61.1,184.4 61.1,183.9 61.1,183.2 61.2,182.7 61.4,182.1 61.6,181.6 61.9,181.1 62.2,180.7 62.5,180.2 62.9,179.7 63.1,179.4 63.5,178.9 63.9,178.4 64.1,178 64.4,177.6 64.6,177.2 64.9,176.7 65.1,176.2 65.4,175.5 65.6,174.9 65.8,174.4 65.9,173.9 66.1,173.4 66.4,172.8 66.6,172.2 66.8,171.7 67,171.2 67.2,170.7 67.4,169.9 67.4,169.5 67.3,168.9 67,168.4 66.6,168 66.3,167.7 65.9,167.3 65.4,166.9 65,166.7 64.6,166.4 64.1,166 63.7,165.7 63.4,165.3 63,164.9 62.7,164.4 62.6,163.9 62.6,163.4 62.6,162.7 62.1,162.5 61.6,162.4 60.9,162.2 60.4,162.2 59.6,162.1 58.9,162.1 58.1,162 57.4,162 56.6,161.9 56.1,161.9 55.4,161.9 54.6,161.9 53.9,161.9 53.1,161.9 52.4,161.9 51.6,161.8 50.9,161.8 50.1,161.8 49.4,161.8 49,161.4 48.9,160.7 48.9,159.9 48.9,159.2 48.9,158.4 48.9,157.7 48.9,156.9 48.9,156.2 48.9,155.4 48.9,154.7 48.9,153.9 48.9,153.2 48.9,152.4 48.9,151.7 49.1,150.9 49.6,150.8 50.4,150.8 51.1,150.8 51.9,150.8 52.6,150.8 53.4,150.8 54.1,150.8 54.9,150.8 55.6,150.8 56.4,150.8 57.1,150.8 57.9,150.8 58.6,150.8 59.4,150.8 60.1,150.8 60.9,150.8 61.6,150.8 62.4,150.8 63.1,150.7 63.9,150.7 64.4,150.6 65.1,150.6 65.9,150.6 66.6,150.6 67.4,150.6 68.1,150.6 68.9,150.6 69.6,150.6 70.4,150.6 71.1,150.6 71.9,150.6 72.6,150.6 73.4,150.6 74.1,150.6 74.9,150.6 75.6,150.6 76.4,150.6 77.1,150.6 77.9,150.6 78.6,150.6 79.4,150.6 80.1,150.6 80.9,150.5 81.4,150.4 82.1,150.2 82.6,150.1 83.1,149.9 83.9,149.7 84.4,149.5 84.9,149.3 85.4,149.2 86.1,148.9 86.6,148.7 87.1,148.6 87.6,148.4 88.4,148.2 88.9,148 89.4,147.8 89.9,147.6 90.4,147.4 91,147.2 91.6,146.9 92.1,146.7 92.6,146.5 93.1,146.3 93.6,146.1 94.1,145.9 94.6,145.7 95.2,145.4 95.9,145.2 96.4,145 96.9,144.8 97.4,144.7 98.1,144.5 98.6,144.3 99.4,144.2 99.9,144 100.4,143.9 101.1,143.7 101.6,143.6 102.4,143.5 103.1,143.5 103.8,143.4 104.4,143.4 104.9,143.4 105.6,143.5 106.2,143.7 106.9,143.9 107.3,144.2 107.7,144.4 108.1,144.8 108.5,145.2 108.8,145.7 109.1,146.1 109.4,146.6 109.6,147.2 109.6,147.8 109.6,148.3 109.6,148.9 109.4,149.7 109.3,150.2 109.1,150.8 109,151.4 108.8,151.9 108.5,152.4 108.2,152.9 107.9,153.4 107.6,153.8 107.4,154.2 107,154.7 106.7,155.2 106.4,155.5 106,155.9 105.6,156.4 105.4,156.7 105,157.2 104.6,157.5 104.1,157.9 103.8,158.2 103.4,158.5 102.9,158.8 102.4,159.2 102,159.4 101.6,159.7 101.1,160.1 100.7,160.4 100.3,160.7 99.9,161 99.4,161.3 98.9,161.7 98.4,161.9 98,162.2 97.6,162.4 97.1,162.8 96.8,163.2 96.6,163.7 96.7,164.2 96.9,164.7 96.9,165.4 96.7,165.9 96.5,166.4 96.2,166.9 95.9,167.4 95.6,167.7 95.2,168.2 94.9,168.5 94.4,168.9 94.1,169.2 93.6,169.6 93.2,169.9 92.8,170.2 92.4,170.5 91.9,170.8 91.4,171.2 91.1,171.5 90.7,171.9 90.4,172.4 90.3,172.9 90.3,173.7 90.4,174.2 90.6,174.8 90.9,175.4 91.1,175.9 91.3,176.4 91.5,176.9 91.7,177.4 91.9,178 92.1,178.7 92.1,179.2 92.2,179.9 92.2,180.7 92.1,181.2 91.9,181.9 91.7,182.4 91.4,182.9 91.1,183.4 90.9,183.8 90.6,184.2 90.2,184.7 89.9,185 89.4,185.4 89.1,185.7 88.6,186 88.1,186.4 87.7,186.7 87.2,186.9 86.7,187.2 86.2,187.4 85.6,187.6 85.1,187.8 84.6,188 84,188.2 83.4,188.3 82.9,188.4 82.1,188.6 81.4,188.7 80.9,188.7 80.1,188.8 79.4,188.9 78.9,188.9 78.1,189 77.4,189 76.6,189.1 75.9,189.1 75.1,189.1 74.4,189.2 M79.4,186.7 78.6,186.7 77.9,186.7 77.1,186.7 76.4,186.7 75.6,186.7 74.9,186.8 74.1,186.8 73.4,186.8 72.6,186.9 71.9,186.9 71.1,186.9 70.4,186.9 69.6,186.8 68.9,186.8 68.4,186.7 67.6,186.5 67.1,186.3 66.6,186.1 66.1,185.8 65.6,185.4 65.4,185.2 65,184.7 64.8,184.2 64.7,183.4 64.9,182.8 65.1,182.2 65.4,181.7 65.6,181.3 65.9,180.9 66.2,180.4 66.5,179.9 66.7,179.4 66.9,178.9 67.1,178.2 67.2,177.7 67.3,176.9 67.4,176.2 67.4,175.7 67.6,174.9 67.7,174.4 67.9,173.7 68,173.2 68.2,172.7 68.5,172.2 68.8,171.7 69.1,171.2 69.4,170.7 69.6,170.3 69.9,169.9 70.2,169.4 70.5,168.9 70.5,168.2 70.1,167.7 69.9,167.4 69.4,167 68.9,166.7 68.5,166.4 68.1,166.2 67.6,165.8 67.2,165.4 66.9,165.2 66.5,164.7 66.3,164.2 66.4,163.6 66.6,163 66.6,162.6 66.1,162.4 65.4,162.2 64.9,162.2 64.1,162.1 63.4,162 62.6,162 62.1,161.9 61.4,161.9 60.6,161.9 59.9,161.8 59.1,161.8 58.4,161.8 57.6,161.8 56.9,161.7 56.1,161.7 55.4,161.7 54.6,161.7 53.9,161.7 53.4,161.7 52.6,161.7 51.9,161.7 51.1,161.7 50.4,161.6 49.6,161.6 49,161.4 48.9,160.7 48.9,159.9 48.9,159.2 48.9,158.4 48.9,157.7 48.9,156.9 48.9,156.2 48.9,155.4 48.9,154.7 48.9,153.9 48.9,153.2 48.9,152.4 48.9,151.7 49.1,151 49.9,151 50.6,151 51.4,151 52.1,151 52.9,151 53.6,151 54.4,151 55.1,151 55.9,151 56.6,151 57.4,151 58.1,151 58.9,151 59.6,151 60.4,151 61.1,151 61.9,151 62.6,150.9 63.1,150.9 63.9,150.8 64.6,150.8 65.4,150.7 66.1,150.7 66.9,150.7 67.6,150.7 68.4,150.7 69.1,150.7 69.9,150.7 70.6,150.7 71.4,150.7 72.1,150.7 72.9,150.7 73.6,150.7 74.4,150.7 75.1,150.7 75.9,150.7 76.6,150.7 77.4,150.7 78.1,150.7 78.9,150.7 79.6,150.7 80.4,150.7 80.9,150.7 81.6,150.5 82.1,150.4 82.9,150.2 83.4,150 83.9,149.8 84.4,149.7 85.1,149.4 85.6,149.3 86.1,149.1 86.6,148.9 87.4,148.7 87.9,148.5 88.4,148.3 88.9,148.2 89.5,147.9 90.1,147.7 90.6,147.5 91.1,147.3 91.6,147.1 92.1,146.9 92.6,146.7 93.2,146.4 93.8,146.2 94.4,145.9 94.9,145.7 95.4,145.5 95.9,145.3 96.4,145.2 97.1,144.9 97.6,144.8 98.1,144.6 98.9,144.5 99.4,144.3 100,144.2 100.6,144 101.1,143.9 101.9,143.8 102.6,143.7 103.1,143.6 103.9,143.6 104.6,143.6 105.4,143.7 105.9,143.8 106.4,143.9 107,144.2 107.4,144.4 107.9,144.8 108.2,145.2 108.6,145.7 108.9,146.1 109.1,146.5 109.3,147.2 109.4,147.7 109.4,148.4 109.4,148.9 109.2,149.7 109.1,150.2 108.9,150.9 108.8,151.4 108.6,151.9 108.3,152.4 108,152.9 107.7,153.4 107.4,153.9 107.1,154.3 106.9,154.7 106.5,155.2 106.1,155.6 105.9,155.9 105.5,156.4 105.1,156.8 104.7,157.2 104.4,157.5 103.9,157.9 103.5,158.2 103.1,158.5 102.6,158.8 102.1,159.2 101.7,159.4 101.4,159.7 100.9,160 100.4,160.4 99.9,160.7 99.6,160.9 99.1,161.2 98.6,161.5 98.1,161.8 97.6,162 97.1,162.3 96.6,162.5 96.1,162.8 95.6,163 95.1,163.3 94.6,163.6 94.2,163.9 93.8,164.2 93.4,164.6 93.1,164.9 92.8,165.4 92.4,165.9 92.1,166.2 91.6,166.4 90.9,166.7 90.4,166.8 89.6,166.8 88.9,166.8 88.1,166.9 87.4,166.9 86.9,167 86.1,167.1 85.6,167.2 84.9,167.3 84.4,167.5 83.7,167.7 83.1,167.9 82.6,168.1 82.1,168.4 81.7,168.7 81.4,169 81.2,169.7 81.4,170.2 81.7,170.7 82.1,171.2 82.4,171.5 82.9,171.9 83.1,172.2 83.6,172.6 84,172.9 84.4,173.2 84.9,173.6 85.3,173.9 85.6,174.2 86.1,174.7 86.4,174.9 86.9,175.4 87.1,175.7 87.6,176.2 87.9,176.5 88.2,176.9 88.5,177.4 88.8,177.9 89.1,178.4 89.3,178.9 89.4,179.4 89.5,180.2 89.5,180.9 89.4,181.4 89.1,182.1 88.9,182.6 88.6,183 88.3,183.4 87.9,183.9 87.6,184.2 87.1,184.5 86.6,184.9 86.1,185.2 85.6,185.4 85.1,185.6 84.6,185.8 84.1,186 83.5,186.2 82.9,186.3 82.3,186.4 81.6,186.5 80.9,186.6 80.1,186.7 79.6,186.7 M75.4,165.9 74.6,166 73.9,166 73.4,165.9 72.6,165.7 72.1,165.5 71.6,165.3 71.2,164.9 70.9,164.6 70.7,163.9 71.1,163.4 71.4,163.1 71.8,162.7 71.4,162.4 70.6,162.2 70.1,162.2 69.4,162.1 68.6,162 67.9,162 67.4,161.9 66.6,161.9 65.9,161.8 65.1,161.8 64.4,161.8 63.6,161.7 62.9,161.7 62.1,161.7 61.6,161.7 60.9,161.7 60.1,161.6 59.4,161.6 58.6,161.6 57.9,161.6 57.1,161.6 56.4,161.6 55.6,161.6 54.9,161.6 54.1,161.5 53.4,161.5 52.6,161.5 51.9,161.5 51.1,161.5 50.4,161.5 49.6,161.5 49.1,161.4 48.9,160.7 48.9,159.9 48.9,159.2 48.9,158.4 48.9,157.7 48.9,156.9 48.9,156.2 48.9,155.4 48.9,154.7 48.9,153.9 48.9,153.2 48.9,152.4 49,151.7 49.1,151.1 49.9,151.1 50.6,151.1 51.4,151.1 52.1,151.1 52.9,151.1 53.6,151.1 54.4,151.1 55.1,151.1 55.9,151.1 56.6,151.1 57.4,151.1 58.1,151.1 58.9,151.1 59.6,151.1 60.4,151.1 61.1,151.1 61.9,151.1 62.6,151.1 63.4,151 64.1,150.9 64.6,150.9 65.4,150.9 66.1,150.9 66.9,150.9 67.6,150.9 68.4,150.9 69.1,150.9 69.9,150.9 70.6,150.9 71.4,150.9 72.1,150.9 72.9,150.9 73.6,150.9 74.4,150.9 75.1,150.9 75.9,150.9 76.6,150.9 77.4,150.9 78.1,150.9 78.9,150.9 79.6,150.9 80.4,150.8 81.1,150.7 81.6,150.7 82.4,150.5 82.9,150.3 83.4,150.2 84.1,149.9 84.6,149.7 85.1,149.6 85.6,149.4 86.3,149.2 86.9,149 87.4,148.8 87.9,148.7 88.6,148.4 89.1,148.2 89.6,148 90.1,147.8 90.6,147.6 91.2,147.4 91.8,147.2 92.4,146.9 92.9,146.7 93.4,146.5 93.9,146.3 94.4,146.1 94.9,145.9 95.4,145.7 96.1,145.4 96.6,145.2 97.1,145.1 97.6,144.9 98.4,144.7 98.9,144.6 99.6,144.4 100.1,144.3 100.6,144.2 101.4,144 101.9,143.9 102.6,143.8 103.4,143.8 104.1,143.7 104.9,143.8 105.6,143.9 106.1,144 106.6,144.2 107.1,144.5 107.6,144.8 108,145.2 108.4,145.6 108.6,146 108.9,146.4 109.1,147.1 109.3,147.7 109.3,148.4 109.2,149.2 109.1,149.7 108.9,150.4 108.8,150.9 108.6,151.4 108.4,152 108.1,152.5 107.9,152.9 107.6,153.4 107.2,153.9 106.9,154.4 106.6,154.8 106.3,155.2 105.9,155.7 105.6,156 105.3,156.4 104.9,156.9 104.5,157.2 104.1,157.5 103.6,157.9 103.3,158.2 102.9,158.4 102.4,158.8 101.9,159.1 101.5,159.4 101.1,159.7 100.6,160 100.1,160.4 99.6,160.7 99.2,160.9 98.8,161.2 98.3,161.4 97.8,161.7 97.3,161.9 96.7,162.2 96.2,162.4 95.6,162.7 95.1,162.9 94.6,163.1 94.1,163.4 93.6,163.6 93.1,163.9 92.6,164.1 92.1,164.2 91.4,164.4 90.9,164.6 90.2,164.7 89.6,164.8 88.9,164.9 88.3,164.9 87.6,165 86.9,165.1 86.1,165.1 85.4,165.2 84.6,165.1 83.9,165 83.4,164.8 82.9,164.4 82.6,164.2 82.1,163.9 81.6,163.6 81.1,163.4 80.4,163.2 79.9,163.1 79.3,162.9 78.6,162.8 78.1,162.7 77.6,162.7 77.3,163.2 77.3,163.9 77.2,164.7 76.9,165.2 76.6,165.4 76.1,165.7 75.4,165.9 M82.4,183.5 81.6,183.6 80.9,183.6 80.1,183.6 79.4,183.6 78.6,183.5 77.9,183.4 77.4,183.4 76.6,183.3 75.9,183.2 75.3,183.2 74.6,183.1 73.9,183 73.4,182.9 72.7,182.7 72.1,182.5 71.6,182.2 71.3,181.9 70.9,181.6 70.6,181.2 70.2,180.7 69.9,180.2 69.7,179.7 69.5,179.2 69.3,178.7 69.1,178.2 68.9,177.4 68.9,176.9 68.8,176.2 68.8,175.4 68.9,174.7 69,174.2 69.1,173.7 69.4,173 69.6,172.5 69.9,172.1 70.2,171.7 70.6,171.2 70.9,170.9 71.4,170.5 71.9,170.2 72.4,169.9 72.9,169.7 73.4,169.5 73.9,169.4 74.6,169.3 75.4,169.4 75.9,169.5 76.4,169.7 76.9,169.9 77.4,170.2 77.9,170.6 78.3,170.9 78.6,171.3 79,171.7 79.4,172.1 79.6,172.4 80,172.9 80.3,173.4 80.6,173.9 80.9,174.3 81.1,174.7 81.4,175.2 81.8,175.7 82.1,176.1 82.4,176.4 82.9,176.9 83.2,177.2 83.6,177.5 84.1,177.9 84.4,178.2 84.8,178.7 85.1,179.1 85.4,179.5 85.6,180.2 85.6,180.7 85.5,181.2 85.3,181.7 84.9,182.2 84.6,182.5 84.1,182.8 83.6,183.1 83.1,183.3 82.6,183.4 M86.1,164.7 85.4,164.7 84.9,164.7 84.1,164.5 83.6,164.3 83.1,164.1 82.6,163.8 82.1,163.6 81.6,163.4 81.1,163.2 80.4,162.9 79.9,162.8 79.4,162.7 78.7,162.4 78.2,162.2 77.6,162 76.9,161.9 76.1,161.9 75.4,161.9 74.6,161.9 74.1,161.9 73.4,161.9 72.6,161.9 71.9,161.9 71.1,161.8 70.4,161.8 69.6,161.8 68.9,161.7 68.1,161.7 67.5,161.7 66.9,161.7 66.1,161.6 65.4,161.6 64.6,161.6 63.9,161.6 63.1,161.6 62.4,161.5 61.6,161.5 60.9,161.5 60.1,161.5 59.4,161.5 58.6,161.5 57.9,161.5 57.1,161.4 56.4,161.4 55.6,161.4 55.1,161.4 54.4,161.4 53.6,161.4 52.9,161.4 52.1,161.4 51.4,161.4 50.6,161.4 49.9,161.4 49.1,161.4 48.9,160.7 48.9,159.9 48.9,159.2 48.9,158.4 48.9,157.7 48.9,156.9 48.9,156.2 48.9,155.4 48.9,154.7 48.9,153.9 48.9,153.2 48.9,152.4 49,151.7 49.4,151.2 50.1,151.2 50.9,151.2 51.6,151.2 52.4,151.2 53.1,151.2 53.9,151.2 54.6,151.2 55.4,151.2 56.1,151.2 56.9,151.2 57.6,151.2 58.4,151.2 59.1,151.2 59.9,151.2 60.6,151.2 61.4,151.2 62.1,151.2 62.8,151.2 63.4,151.1 64.1,151 64.9,151 65.6,151 66.4,151 67.1,151 67.9,151 68.6,151 69.4,151 70.1,151 70.9,151 71.6,151 72.4,151 73.1,151 73.9,151 74.6,151 75.4,151 76.1,151 76.9,151 77.6,151 78.4,151 79.1,151 79.9,151 80.6,150.9 81.1,150.9 81.9,150.7 82.4,150.6 82.9,150.4 83.6,150.2 84.1,150 84.6,149.9 85.2,149.7 85.9,149.4 86.4,149.3 86.9,149.1 87.4,148.9 88.1,148.7 88.6,148.5 89.1,148.3 89.6,148.2 90.2,147.9 90.8,147.7 91.4,147.5 91.9,147.2 92.4,147 92.9,146.8 93.4,146.6 93.9,146.4 94.5,146.2 95.1,145.9 95.6,145.7 96.1,145.5 96.6,145.3 97.2,145.2 97.9,145 98.4,144.8 99.1,144.7 99.6,144.5 100.1,144.4 100.9,144.2 101.4,144.1 102.1,144 102.8,143.9 103.4,143.9 104.1,143.9 104.9,143.9 105.4,144 106.1,144.1 106.6,144.3 107.1,144.6 107.6,144.9 107.9,145.2 108.3,145.7 108.6,146.2 108.9,146.7 109,147.2 109.1,147.9 109.1,148.4 109.1,148.9 109,149.7 108.9,150.2 108.7,150.9 108.5,151.4 108.3,151.9 108,152.4 107.7,152.9 107.4,153.4 107.1,153.9 106.9,154.2 106.6,154.7 106.2,155.2 105.9,155.6 105.6,155.9 105.1,156.4 104.9,156.7 104.4,157.2 104.1,157.4 103.6,157.8 103.1,158.1 102.7,158.4 102.3,158.7 101.9,159 101.4,159.3 100.9,159.7 100.5,159.9 100.1,160.2 99.6,160.5 99.1,160.8 98.6,161.1 98.1,161.4 97.6,161.6 97.1,161.8 96.6,162 96.1,162.3 95.6,162.5 95.1,162.7 94.6,162.9 94,163.2 93.4,163.4 92.9,163.7 92.4,163.9 91.9,164 91.1,164.2 90.6,164.3 89.9,164.4 89.4,164.5 88.6,164.5 87.9,164.6 87.1,164.6 86.4,164.7 M75.6,180.5 74.9,180.5 74.1,180.5 73.6,180.4 72.9,180.2 72.4,180 71.9,179.7 71.5,179.4 71.1,179 70.8,178.7 70.5,178.2 70.2,177.7 70,177.2 69.9,176.7 69.7,175.9 69.7,175.2 69.8,174.4 69.9,173.9 70.1,173.4 70.4,172.9 70.7,172.4 71.1,172 71.4,171.7 71.9,171.3 72.4,171.1 72.9,170.8 73.4,170.7 74.1,170.6 74.9,170.6 75.4,170.7 76.1,170.9 76.6,171.2 77,171.4 77.4,171.7 77.8,172.2 78.1,172.5 78.4,172.9 78.7,173.4 79,173.9 79.2,174.4 79.4,175.2 79.4,175.7 79.5,176.4 79.4,177.2 79.3,177.7 79.1,178.2 78.8,178.7 78.4,179.2 78.1,179.4 77.6,179.8 77.1,180 76.6,180.2 75.9,180.4 M85.9,164.4 85.4,164.4 84.6,164.3 84.1,164.2 83.4,163.9 82.9,163.7 82.4,163.5 81.9,163.3 81.4,163.1 80.9,162.9 80.1,162.7 79.6,162.6 79.1,162.4 78.6,162.1 78.1,161.9 77.4,161.7 76.9,161.7 76.1,161.7 75.4,161.7 74.6,161.6 73.9,161.6 73.1,161.6 72.4,161.6 71.6,161.6 70.9,161.6 70.1,161.6 69.4,161.6 68.6,161.5 67.9,161.5 67.1,161.5 66.4,161.5 65.6,161.5 64.9,161.4 64.1,161.4 63.6,161.4 62.9,161.4 62.1,161.4 61.4,161.4 60.6,161.4 59.9,161.4 59.1,161.4 58.4,161.4 57.6,161.3 56.9,161.3 56.1,161.3 55.4,161.3 54.6,161.3 53.9,161.3 53.1,161.3 52.4,161.3 51.6,161.3 50.9,161.3 50.1,161.3 49.4,161.3 49,160.9 48.9,160.2 48.9,159.4 48.9,158.7 48.9,157.9 48.9,157.2 48.9,156.4 48.9,155.7 48.9,154.9 48.9,154.2 48.9,153.4 48.9,152.7 49,151.9 49.1,151.3 49.9,151.3 50.6,151.3 51.4,151.3 52.1,151.3 52.9,151.3 53.6,151.3 54.4,151.3 55.1,151.3 55.9,151.3 56.6,151.3 57.4,151.3 58.1,151.3 58.9,151.3 59.6,151.3 60.4,151.3 61.1,151.3 61.9,151.3 62.6,151.3 63.4,151.2 63.9,151.2 64.6,151.1 65.4,151.1 66.1,151.1 66.9,151.1 67.6,151.1 68.4,151.1 69.1,151.1 69.9,151.1 70.6,151.1 71.4,151.1 72.1,151.1 72.9,151.1 73.6,151.1 74.4,151.1 75.1,151.1 75.9,151.1 76.6,151.1 77.4,151.1 78.1,151.1 78.9,151.1 79.6,151.1 80.4,151 81.1,151 81.6,150.9 82.4,150.7 82.9,150.5 83.4,150.4 84,150.2 84.6,150 85.1,149.8 85.6,149.6 86.3,149.4 86.9,149.2 87.4,149.1 87.9,148.9 88.5,148.7 89.1,148.5 89.6,148.3 90.1,148.1 90.6,147.9 91.1,147.7 91.7,147.4 92.3,147.2 92.9,146.9 93.4,146.7 93.9,146.5 94.4,146.3 94.9,146.1 95.4,145.9 96,145.7 96.6,145.5 97.1,145.3 97.6,145.2 98.4,145 98.9,144.8 99.5,144.7 100.1,144.5 100.6,144.4 101.4,144.2 101.9,144.1 102.6,144 103.4,144 104.1,144 104.9,144 105.6,144.1 106.1,144.3 106.6,144.5 107.1,144.8 107.6,145.1 107.9,145.4 108.3,145.9 108.6,146.4 108.8,146.9 109,147.4 109,148.2 109,148.9 108.9,149.5 108.7,150.2 108.6,150.7 108.4,151.4 108.2,151.9 107.9,152.4 107.6,152.9 107.4,153.3 107.1,153.7 106.8,154.2 106.4,154.7 106.1,155.1 105.9,155.4 105.5,155.9 105.1,156.3 104.8,156.7 104.4,157 103.9,157.4 103.6,157.7 103.1,158 102.6,158.3 102.1,158.7 101.8,158.9 101.4,159.2 100.9,159.5 100.4,159.9 99.9,160.2 99.5,160.4 99.1,160.7 98.6,161 98.1,161.2 97.6,161.4 97.1,161.7 96.5,161.9 95.9,162.2 95.4,162.4 94.9,162.6 94.4,162.8 93.9,163 93.4,163.3 92.9,163.5 92.2,163.7 91.6,163.9 91.1,164 90.4,164.1 89.7,164.2 89.1,164.3 88.4,164.3 87.6,164.4 86.9,164.4 86.1,164.4 M75.6,179 74.9,179.1 74.1,179.2 73.4,179 72.9,178.9 72.4,178.6 71.9,178.2 71.6,177.9 71.2,177.4 70.9,176.9 70.7,176.4 70.6,175.9 70.5,175.2 70.6,174.5 70.8,173.9 71,173.4 71.4,172.9 71.6,172.6 72.1,172.2 72.5,171.9 73.1,171.7 73.6,171.6 74.4,171.5 75.1,171.6 75.6,171.8 76.1,172 76.6,172.4 77,172.7 77.4,173.2 77.6,173.6 77.9,174.1 78,174.7 78.1,175.4 78.1,175.7 78,176.4 77.9,176.9 77.6,177.4 77.3,177.9 76.9,178.3 76.4,178.6 75.9,178.9 M87.6,164.2 86.9,164.2 86.1,164.3 85.4,164.2 84.8,164.2 84.1,164 83.6,163.8 83.1,163.6 82.6,163.4 82.1,163.2 81.4,162.9 80.9,162.8 80.4,162.6 79.7,162.4 79.1,162.2 78.6,161.9 78.1,161.7 77.6,161.6 76.9,161.5 76.1,161.5 75.4,161.5 74.6,161.5 73.9,161.5 73.1,161.5 72.4,161.5 71.6,161.4 71,161.4 70.4,161.4 69.6,161.4 68.9,161.4 68.1,161.4 67.4,161.4 66.6,161.4 65.9,161.3 65.1,161.3 64.4,161.3 63.6,161.3 62.9,161.3 62.1,161.3 61.4,161.3 60.6,161.3 59.9,161.3 59.1,161.3 58.4,161.2 57.6,161.2 56.9,161.2 56.1,161.2 55.4,161.2 54.6,161.2 53.9,161.2 53.1,161.2 52.4,161.2 51.6,161.2 50.9,161.2 50.1,161.2 49.4,161.2 49,160.9 48.9,160.2 48.9,159.4 48.9,158.7 48.9,157.9 48.9,157.2 48.9,156.4 48.9,155.7 48.9,154.9 48.9,154.2 48.9,153.4 48.9,152.7 49,151.9 49.4,151.4 50.1,151.4 50.9,151.4 51.6,151.4 52.4,151.4 53.1,151.4 53.9,151.4 54.6,151.4 55.4,151.4 56.1,151.4 56.9,151.4 57.6,151.4 58.4,151.4 59.1,151.4 59.9,151.4 60.6,151.4 61.4,151.4 61.9,151.4 62.6,151.4 63.4,151.3 64.1,151.2 64.9,151.2 65.6,151.2 66.4,151.2 67.1,151.2 67.9,151.2 68.6,151.2 69.4,151.2 70.1,151.2 70.9,151.2 71.6,151.2 72.4,151.2 73.1,151.2 73.9,151.2 74.6,151.2 75.4,151.2 76.1,151.2 76.9,151.2 77.6,151.2 78.4,151.2 79,151.2 79.6,151.2 80.4,151.1 81.1,151 81.8,150.9 82.4,150.8 82.9,150.7 83.6,150.4 84.1,150.2 84.6,150.1 85.1,149.9 85.9,149.7 86.4,149.5 86.9,149.3 87.4,149.2 88.1,148.9 88.6,148.7 89.1,148.6 89.6,148.4 90.1,148.2 90.8,147.9 91.4,147.7 91.9,147.5 92.4,147.3 92.9,147 93.4,146.8 93.9,146.6 94.4,146.4 95,146.2 95.6,145.9 96.1,145.7 96.6,145.6 97.1,145.4 97.9,145.2 98.4,145.1 98.9,144.9 99.6,144.7 100.1,144.6 100.9,144.4 101.4,144.3 102.1,144.2 102.6,144.1 103.4,144.1 104.1,144.1 104.9,144.1 105.4,144.2 106.1,144.4 106.6,144.6 107.1,144.9 107.5,145.2 107.9,145.5 108.2,145.9 108.5,146.4 108.7,146.9 108.9,147.7 108.9,148.2 108.9,148.8 108.8,149.4 108.6,150.2 108.5,150.7 108.4,151.2 108.1,151.8 107.9,152.3 107.6,152.7 107.3,153.2 107,153.7 106.7,154.2 106.4,154.6 106.1,154.9 105.8,155.4 105.4,155.9 105.1,156.2 104.6,156.7 104.3,156.9 103.9,157.3 103.4,157.7 103,157.9 102.6,158.2 102.1,158.6 101.6,158.9 101.2,159.2 100.9,159.4 100.4,159.8 99.9,160.1 99.4,160.4 98.9,160.7 98.4,160.9 97.9,161.2 97.4,161.4 96.9,161.6 96.4,161.9 95.9,162.1 95.4,162.3 94.9,162.5 94.4,162.7 93.8,162.9 93.2,163.2 92.6,163.4 92.1,163.6 91.6,163.7 90.9,163.9 90.3,163.9 89.6,164 88.9,164.1 88.1,164.2 87.6,164.2 M74.4,178.2 73.9,178.2 73.1,178 72.6,177.7 72.3,177.4 71.9,177 71.6,176.5 71.4,175.9 71.3,175.4 71.4,174.7 71.5,174.2 71.7,173.7 72.1,173.2 72.4,172.9 72.9,172.6 73.4,172.4 74.1,172.3 74.9,172.4 75.4,172.5 75.9,172.8 76.3,173.2 76.6,173.6 76.9,174 77.1,174.7 77.2,175.2 77.1,175.8 77,176.4 76.7,176.9 76.4,177.3 75.9,177.7 75.5,177.9 74.9,178.1 74.4,178.2 M88.9,164 88.1,164 87.4,164 86.6,164.1 85.9,164.1 85.1,164.1 84.5,163.9 83.9,163.8 83.4,163.6 82.9,163.4 82.4,163.2 81.8,162.9 81.1,162.7 80.6,162.6 80.1,162.4 79.4,162.2 78.9,161.9 78.4,161.7 77.9,161.5 77.4,161.4 76.6,161.3 75.9,161.3 75.1,161.3 74.4,161.3 73.6,161.3 72.9,161.3 72.1,161.3 71.4,161.3 70.6,161.3 69.9,161.3 69.1,161.3 68.4,161.3 67.6,161.2 66.9,161.2 66.1,161.2 65.4,161.2 64.6,161.2 63.9,161.2 63.1,161.2 62.6,161.2 61.9,161.2 61.1,161.2 60.4,161.2 59.6,161.1 58.9,161.1 58.1,161.1 57.4,161.1 56.6,161.1 55.9,161.1 55.1,161.1 54.4,161.1 53.6,161.1 52.9,161.1 52.1,161.1 51.4,161.1 50.6,161.1 49.9,161.1 49.1,161.1 49,160.4 48.9,159.7 48.9,158.9 48.9,158.2 48.9,157.4 48.9,156.7 48.9,155.9 48.9,155.2 48.9,154.4 48.9,153.7 48.9,152.9 49,152.2 49.1,151.5 49.9,151.5 50.6,151.5 51.4,151.5 52.1,151.5 52.9,151.5 53.6,151.5 54.4,151.5 55.1,151.5 55.9,151.5 56.6,151.5 57.4,151.5 58.1,151.5 58.9,151.5 59.6,151.5 60.4,151.5 61.1,151.5 61.9,151.5 62.6,151.5 63.2,151.4 63.9,151.3 64.6,151.3 65.4,151.3 66.1,151.3 66.9,151.3 67.6,151.3 68.4,151.3 69.1,151.3 69.9,151.3 70.6,151.3 71.4,151.3 72.1,151.3 72.9,151.3 73.6,151.3 74.4,151.3 75.1,151.3 75.9,151.3 76.6,151.3 77.4,151.3 78.1,151.3 78.9,151.3 79.6,151.3 80.4,151.2 80.9,151.2 81.6,151.1 82.3,150.9 82.9,150.8 83.4,150.6 83.9,150.4 84.6,150.2 85.1,150 85.6,149.9 86.2,149.7 86.9,149.4 87.4,149.3 87.9,149.1 88.4,148.9 89.1,148.7 89.6,148.5 90.1,148.3 90.6,148.1 91.1,147.9 91.7,147.7 92.3,147.4 92.9,147.2 93.4,147 93.9,146.7 94.4,146.5 94.9,146.3 95.4,146.2 96,145.9 96.6,145.7 97.1,145.5 97.6,145.4 98.4,145.2 98.9,145 99.4,144.9 100.1,144.7 100.6,144.6 101.4,144.4 101.9,144.3 102.6,144.2 103.4,144.2 104.1,144.2 104.9,144.2 105.6,144.4 106.1,144.5 106.6,144.7 107.1,145 107.6,145.4 107.9,145.7 108.2,146.2 108.5,146.7 108.7,147.2 108.8,147.9 108.8,148.7 108.7,149.4 108.6,149.9 108.4,150.7 108.3,151.2 108.1,151.7 107.8,152.2 107.5,152.7 107.2,153.2 106.9,153.7 106.6,154 106.4,154.4 106,154.9 105.6,155.4 105.4,155.7 105,156.2 104.6,156.5 104.2,156.9 103.9,157.2 103.4,157.6 102.9,157.9 102.5,158.2 102.1,158.4 101.6,158.8 101.1,159.1 100.7,159.4 100.3,159.7 99.9,159.9 99.4,160.3 98.9,160.6 98.4,160.8 97.9,161.1 97.4,161.3 96.9,161.5 96.4,161.7 95.8,161.9 95.2,162.2 94.6,162.4 94.1,162.6 93.6,162.8 93.1,163 92.6,163.2 92,163.4 91.4,163.6 90.9,163.7 90.1,163.8 89.4,163.9 88.9,164 M74.6,177 73.9,177 73.4,176.8 72.9,176.5 72.6,176.2 72.4,175.6 72.3,174.9 72.5,174.4 72.8,173.9 73.1,173.6 73.6,173.4 74.4,173.3 74.9,173.5 75.4,173.8 75.7,174.2 76,174.7 76,175.4 75.9,175.9 75.6,176.4 75.1,176.8 74.6,177 M86.6,163.9 85.9,164 85.3,163.9 84.6,163.8 84.1,163.7 83.4,163.4 82.9,163.2 82.4,163 81.9,162.9 81.3,162.7 80.6,162.5 80.1,162.3 79.6,162.1 79.1,161.9 78.6,161.6 78.1,161.4 77.4,161.2 76.6,161.2 75.9,161.2 75.1,161.2 74.4,161.2 73.6,161.2 72.9,161.2 72.4,161.2 71.6,161.2 70.9,161.2 70.1,161.2 69.4,161.1 68.6,161.1 67.9,161.1 67.1,161.1 66.4,161.1 65.6,161.1 64.9,161.1 64.1,161.1 63.4,161.1 62.6,161.1 61.9,161.1 61.1,161.1 60.4,161.1 59.6,161.1 58.9,161.1 58.1,161 57.4,161 56.6,161 55.9,161 55.1,161 54.4,161 53.6,161 52.9,161 52.1,161 51.4,161 50.6,161 49.9,161 49.1,161 49,160.4 49,159.7 48.9,158.9 48.9,158.2 48.9,157.4 48.9,156.7 48.9,155.9 48.9,155.2 48.9,154.4 48.9,153.7 48.9,152.9 49,152.2 49.1,151.6 49.9,151.6 50.6,151.6 51.4,151.6 52.1,151.6 52.9,151.6 53.6,151.6 54.4,151.6 55.1,151.6 55.9,151.6 56.6,151.6 57.4,151.6 58.1,151.6 58.9,151.6 59.6,151.6 60.4,151.6 61.1,151.6 61.9,151.6 62.6,151.6 63.4,151.5 64,151.4 64.6,151.4 65.4,151.4 66.1,151.4 66.9,151.4 67.6,151.4 68.4,151.4 69.1,151.4 69.9,151.4 70.6,151.4 71.4,151.4 72.1,151.4 72.9,151.4 73.6,151.4 74.4,151.4 75.1,151.4 75.9,151.4 76.6,151.4 77.4,151.4 78.1,151.4 78.9,151.4 79.6,151.3 80.4,151.3 81.1,151.2 81.6,151.2 82.4,151 82.9,150.9 83.5,150.7 84.1,150.5 84.6,150.3 85.1,150.1 85.7,149.9 86.4,149.7 86.9,149.5 87.4,149.4 88,149.2 88.6,149 89.1,148.8 89.6,148.6 90.1,148.4 90.7,148.2 91.3,147.9 91.9,147.7 92.4,147.5 92.9,147.3 93.4,147.1 93.9,146.8 94.4,146.7 94.9,146.4 95.6,146.2 96.1,146 96.6,145.8 97.1,145.6 97.8,145.4 98.4,145.3 98.9,145.1 99.6,145 100.1,144.8 100.7,144.7 101.4,144.5 102,144.4 102.6,144.3 103.4,144.3 104.1,144.3 104.9,144.3 105.5,144.4 106.1,144.6 106.6,144.8 107.1,145.1 107.5,145.4 107.9,145.9 108.1,146.2 108.4,146.7 108.6,147.4 108.7,147.9 108.7,148.7 108.6,149.2 108.5,149.9 108.4,150.4 108.2,151.2 108,151.7 107.7,152.2 107.4,152.7 107.1,153.1 106.9,153.5 106.6,153.9 106.3,154.4 105.9,154.9 105.6,155.3 105.3,155.7 104.9,156.2 104.6,156.4 104.1,156.9 103.7,157.2 103.4,157.4 102.9,157.8 102.4,158.1 102,158.4 101.6,158.7 101.1,159 100.6,159.3 100.1,159.7 99.7,159.9 99.3,160.2 98.9,160.4 98.4,160.7 97.9,160.9 97.4,161.2 96.8,161.4 96.2,161.7 95.6,161.9 95.1,162.1 94.6,162.3 94.1,162.5 93.6,162.7 93.1,162.9 92.4,163.2 91.9,163.4 91.4,163.5 90.6,163.6 90.1,163.7 89.4,163.8 88.6,163.8 87.9,163.9 87.1,163.9 86.6,163.9 M88.6,163.7 87.9,163.7 87.1,163.7 86.4,163.8 85.6,163.8 84.9,163.7 84.4,163.6 83.8,163.4 83.2,163.2 82.6,163 82.1,162.8 81.6,162.6 81,162.4 80.4,162.3 79.9,162.1 79.4,161.9 78.9,161.6 78.4,161.4 77.9,161.2 77.1,161.1 76.4,161.1 75.6,161 74.9,161 74.1,161 73.4,161 72.6,161 71.9,161 71.1,161 70.4,161 69.6,161 68.9,161 68.1,161 67.4,161 66.6,161 65.9,161 65.1,161 64.4,161 63.6,161 62.9,160.9 62.1,160.9 61.4,160.9 60.6,160.9 60,160.9 59.4,160.9 58.6,160.9 57.9,160.9 57.1,160.9 56.4,160.9 55.6,160.9 54.9,160.9 54.1,160.9 53.4,160.9 52.6,160.9 51.9,160.9 51.1,160.9 50.4,160.9 49.6,160.9 49.1,160.7 49,159.9 48.9,159.2 48.9,158.4 48.9,157.7 48.9,156.9 48.9,156.2 48.9,155.4 48.9,154.7 48.9,153.9 48.9,153.2 49,152.4 49.1,151.7 49.9,151.7 50.6,151.7 51.4,151.7 52.1,151.7 52.9,151.7 53.6,151.7 54.4,151.7 55.1,151.7 55.9,151.7 56.6,151.7 57.4,151.7 58.1,151.7 58.9,151.7 59.6,151.7 60.4,151.7 61.1,151.7 61.9,151.7 62.6,151.7 63.1,151.6 63.9,151.5 64.6,151.5 65.4,151.5 66.1,151.5 66.9,151.5 67.6,151.5 68.4,151.5 69.1,151.5 69.9,151.5 70.6,151.5 71.4,151.5 72.1,151.5 72.9,151.5 73.6,151.5 74.4,151.5 75.1,151.5 75.9,151.5 76.6,151.5 77.4,151.5 78.1,151.5 78.9,151.5 79.6,151.5 80.4,151.4 80.9,151.4 81.6,151.3 82.1,151.2 82.9,151 83.4,150.8 83.9,150.7 84.6,150.4 85.1,150.3 85.6,150.1 86.1,149.9 86.9,149.7 87.4,149.5 87.9,149.3 88.4,149.2 89.1,148.9 89.6,148.7 90.1,148.5 90.6,148.3 91.1,148.1 91.6,147.9 92.2,147.7 92.8,147.4 93.4,147.2 93.9,147 94.4,146.8 94.9,146.6 95.4,146.4 95.9,146.2 96.6,145.9 97.1,145.7 97.6,145.6 98.2,145.4 98.9,145.3 99.4,145.1 100.1,145 100.6,144.8 101.3,144.7 101.9,144.6 102.6,144.5 103.2,144.4 103.9,144.4 104.5,144.4 105.1,144.5 105.9,144.7 106.4,144.8 106.9,145.1 107.3,145.4 107.6,145.8 107.9,146.2 108.2,146.7 108.4,147.2 108.6,147.9 108.6,148.7 108.5,149.4 108.4,149.9 108.2,150.7 108,151.2 107.8,151.7 107.6,152.2 107.3,152.7 106.9,153.2 106.6,153.6 106.4,154 106.1,154.4 105.7,154.9 105.4,155.4 105.1,155.7 104.7,156.2 104.4,156.5 103.9,156.9 103.5,157.2 103.1,157.5 102.6,157.8 102.1,158.2 101.7,158.4 101.4,158.7 100.9,159 100.4,159.3 99.9,159.7 99.5,159.9 99.1,160.2 98.6,160.4 98.1,160.7 97.6,160.9 97,161.2 96.4,161.4 95.9,161.6 95.4,161.9 94.9,162.1 94.4,162.2 93.9,162.4 93.3,162.7 92.7,162.9 92.1,163.1 91.6,163.3 90.9,163.4 90.4,163.5 89.6,163.6 88.9,163.7 M89.6,163.4 88.9,163.5 88.1,163.6 87.4,163.6 86.6,163.6 85.9,163.6 85.1,163.6 84.4,163.4 83.9,163.3 83.4,163.1 82.9,162.9 82.2,162.7 81.6,162.5 81.1,162.4 80.5,162.2 79.9,161.9 79.4,161.7 78.9,161.5 78.4,161.2 77.9,161 77.1,160.9 76.6,160.9 75.9,160.9 75.1,160.9 74.4,160.9 73.6,160.9 72.9,160.9 72.1,160.9 71.4,160.9 70.6,160.9 69.9,160.9 69.1,160.9 68.4,160.9 67.6,160.9 66.9,160.9 66.1,160.9 65.4,160.9 64.6,160.9 63.9,160.8 63.1,160.8 62.4,160.8 61.6,160.8 60.9,160.8 60.1,160.8 59.4,160.8 58.6,160.8 57.9,160.8 57.1,160.8 56.4,160.8 55.6,160.8 54.9,160.8 54.1,160.8 53.4,160.8 52.6,160.8 51.9,160.8 51.1,160.8 50.4,160.8 49.6,160.8 49.1,160.7 49,159.9 49,159.2 48.9,158.4 48.9,157.7 48.9,156.9 48.9,156.2 48.9,155.4 48.9,154.7 48.9,153.9 48.9,153.2 49,152.4 49.1,151.8 49.9,151.8 50.6,151.8 51.4,151.8 52.1,151.8 52.9,151.8 53.6,151.8 54.4,151.8 55.1,151.8 55.9,151.8 56.6,151.8 57.4,151.8 58.1,151.8 58.9,151.8 59.6,151.8 60.4,151.8 61.1,151.8 61.9,151.8 62.6,151.8 63.4,151.7 63.9,151.7 64.6,151.6 65.4,151.6 66.1,151.6 66.9,151.6 67.6,151.6 68.4,151.6 69.1,151.6 69.9,151.6 70.6,151.6 71.4,151.6 72.1,151.6 72.9,151.6 73.6,151.6 74.4,151.6 75.1,151.6 75.9,151.6 76.6,151.6 77.4,151.6 78.1,151.6 78.9,151.6 79.6,151.6 80.4,151.5 81.1,151.4 81.6,151.4 82.4,151.2 82.9,151.1 83.5,150.9 84.1,150.7 84.6,150.5 85.1,150.4 85.7,150.2 86.4,150 86.9,149.8 87.4,149.6 88,149.4 88.6,149.2 89.1,149 89.6,148.8 90.1,148.6 90.7,148.4 91.3,148.2 91.9,147.9 92.4,147.7 92.9,147.5 93.4,147.3 93.9,147.1 94.4,146.9 94.9,146.7 95.6,146.4 96.1,146.2 96.6,146 97.1,145.9 97.7,145.7 98.4,145.5 98.9,145.4 99.6,145.2 100.1,145.1 100.7,144.9 101.4,144.8 101.9,144.7 102.6,144.6 103.4,144.5 104.1,144.5 104.9,144.6 105.5,144.7 106.1,144.9 106.6,145.1 107.1,145.4 107.4,145.7 107.8,146.2 108.1,146.7 108.3,147.2 108.4,147.7 108.5,148.4 108.4,149.2 108.3,149.7 108.1,150.4 108,150.9 107.8,151.4 107.6,151.9 107.3,152.4 107,152.9 106.6,153.4 106.4,153.8 106.1,154.2 105.8,154.7 105.4,155.2 105.1,155.5 104.8,155.9 104.4,156.3 104,156.7 103.6,157 103.1,157.3 102.6,157.7 102.3,157.9 101.9,158.2 101.4,158.5 100.9,158.9 100.4,159.2 100.1,159.4 99.6,159.7 99.1,160 98.6,160.3 98.1,160.6 97.6,160.8 97.1,161 96.6,161.2 96.1,161.4 95.5,161.7 94.9,161.9 94.4,162.1 93.9,162.3 93.4,162.5 92.9,162.7 92.3,162.9 91.6,163.1 91.1,163.2 90.4,163.4 89.8,163.4 M89.9,163.2 89.1,163.3 88.4,163.3 87.6,163.4 86.9,163.4 86.1,163.4 85.4,163.4 84.6,163.3 84.1,163.1 83.5,162.9 82.9,162.7 82.4,162.5 81.9,162.4 81.2,162.2 80.6,162 80.1,161.8 79.6,161.6 79.1,161.4 78.6,161.1 78.1,160.9 77.4,160.7 76.6,160.7 75.9,160.7 75.1,160.7 74.4,160.7 73.6,160.7 72.9,160.7 72.1,160.7 71.4,160.7 70.6,160.7 69.9,160.7 69.1,160.7 68.6,160.7 67.9,160.7 67.1,160.7 66.4,160.7 65.6,160.7 64.9,160.7 64.1,160.6 63.4,160.6 62.6,160.6 61.9,160.6 61.1,160.6 60.4,160.6 59.6,160.6 58.9,160.6 58.1,160.6 57.4,160.6 56.6,160.6 55.9,160.6 55.1,160.6 54.4,160.6 53.6,160.6 52.9,160.6 52.1,160.6 51.4,160.6 50.6,160.6 49.9,160.6 49.1,160.6 49,159.9 49,159.2 48.9,158.4 48.9,157.7 48.9,156.9 49,156.2 48.9,155.4 48.9,154.7 48.9,153.9 49,153.2 49,152.4 49.4,152 50.1,152 50.9,152 51.6,152 52.4,152 53.1,152 53.9,152 54.6,152 55.4,152 56.1,152 56.9,152 57.6,152 58.4,152 59.1,152 59.9,152 60.6,152 61.4,152 62.1,152 62.9,151.9 63.4,151.9 64.1,151.8 64.9,151.8 65.6,151.8 66.4,151.8 67.1,151.8 67.9,151.8 68.6,151.8 69.4,151.8 70.1,151.8 70.9,151.8 71.6,151.8 72.4,151.8 73.1,151.8 73.9,151.8 74.6,151.8 75.4,151.8 76.1,151.8 76.9,151.8 77.6,151.8 78.4,151.8 79.1,151.8 79.9,151.7 80.6,151.7 81.1,151.6 81.9,151.5 82.4,151.4 83.1,151.2 83.6,151.1 84.1,150.9 84.8,150.7 85.4,150.5 85.9,150.3 86.4,150.2 87.1,149.9 87.6,149.7 88.1,149.6 88.6,149.4 89.3,149.2 89.9,149 90.4,148.8 90.9,148.6 91.4,148.4 91.9,148.2 92.4,147.9 93,147.7 93.6,147.4 94.1,147.2 94.6,147 95.1,146.8 95.6,146.6 96.1,146.4 96.8,146.2 97.4,146 97.9,145.8 98.5,145.7 99.1,145.5 99.6,145.4 100.4,145.2 100.9,145.1 101.5,144.9 102.1,144.8 102.9,144.7 103.6,144.7 104.4,144.7 105.1,144.8 105.7,144.9 106.3,145.2 106.8,145.4 107.1,145.7 107.5,146.2 107.9,146.7 108.1,147.2 108.2,147.7 108.3,148.4 108.2,149.2 108.1,149.7 107.9,150.4 107.8,150.9 107.6,151.4 107.4,151.9 107.1,152.4 106.7,152.9 106.4,153.4 106.1,153.8 105.9,154.2 105.6,154.7 105.2,155.2 104.9,155.5 104.5,155.9 104.1,156.3 103.7,156.7 103.3,156.9 102.9,157.3 102.4,157.6 101.9,157.9 101.5,158.2 101.1,158.5 100.6,158.8 100.1,159.1 99.7,159.4 99.3,159.7 98.9,159.9 98.4,160.2 97.9,160.4 97.4,160.7 96.8,160.9 96.2,161.2 95.6,161.4 95.1,161.6 94.6,161.8 94.1,162 93.6,162.2 93,162.4 92.4,162.7 91.9,162.8 91.4,162.9 90.6,163.1 90,163.2 M88.1,162.9 87.4,163 86.6,163 85.9,163 85.2,162.9 84.6,162.8 84.1,162.7 83.4,162.4 82.9,162.3 82.4,162.1 81.7,161.9 81.1,161.8 80.6,161.6 80.1,161.4 79.5,161.2 79.1,160.9 78.6,160.7 77.9,160.4 77.4,160.3 76.6,160.3 75.9,160.3 75.1,160.3 74.4,160.3 73.6,160.3 72.9,160.3 72.1,160.3 71.4,160.3 70.6,160.3 69.9,160.3 69.1,160.3 68.4,160.3 67.6,160.3 66.9,160.3 66.1,160.3 65.4,160.3 64.6,160.3 63.9,160.3 63.1,160.3 62.4,160.3 61.6,160.3 60.9,160.3 60.1,160.3 59.4,160.3 58.6,160.3 57.9,160.2 57.1,160.2 56.4,160.2 55.6,160.2 54.9,160.2 54.1,160.2 53.4,160.2 52.6,160.2 51.9,160.2 51.1,160.2 50.4,160.2 49.6,160.2 49.1,160.2 49.1,159.4 49,158.7 49,157.9 49,157.2 49,156.4 49,155.7 49,154.9 49,154.2 49,153.4 49.1,152.7 49.4,152.4 50.1,152.4 50.9,152.4 51.6,152.4 52.4,152.4 53.1,152.4 53.9,152.4 54.6,152.4 55.4,152.4 56.1,152.4 56.9,152.4 57.6,152.4 58.4,152.4 59.1,152.4 59.9,152.4 60.6,152.4 61.4,152.4 62.1,152.4 62.9,152.3 63.6,152.2 64.2,152.2 64.9,152.1 65.6,152.1 66.4,152.1 67.1,152.1 67.9,152.1 68.6,152.1 69.4,152.1 70.1,152.1 70.9,152.1 71.6,152.1 72.4,152.1 73.1,152.1 73.9,152.1 74.6,152.1 75.4,152.1 76.1,152.1 76.9,152.1 77.6,152.1 78.4,152.1 79.1,152.1 79.9,152.1 80.6,152 81.3,151.9 81.9,151.8 82.6,151.7 83.1,151.6 83.8,151.4 84.4,151.2 84.9,151.1 85.4,150.9 86,150.7 86.6,150.5 87.1,150.3 87.6,150.1 88.3,149.9 88.9,149.7 89.4,149.5 89.9,149.4 90.4,149.2 91,148.9 91.6,148.7 92.1,148.5 92.6,148.3 93.1,148 93.6,147.8 94.1,147.6 94.6,147.4 95.2,147.2 95.9,146.9 96.4,146.7 96.9,146.5 97.4,146.4 98.1,146.2 98.6,146 99.1,145.9 99.9,145.7 100.4,145.6 100.9,145.4 101.6,145.3 102.1,145.2 102.9,145.1 103.6,145 104.4,145.1 105.1,145.2 105.6,145.3 106.1,145.5 106.6,145.8 107.1,146.2 107.4,146.6 107.6,147 107.8,147.7 107.9,148.2 107.9,148.7 107.8,149.4 107.6,150.1 107.5,150.7 107.3,151.2 107.1,151.7 106.8,152.2 106.5,152.7 106.1,153.2 105.9,153.5 105.6,153.9 105.3,154.4 104.9,154.9 104.6,155.3 104.2,155.7 103.9,156 103.4,156.4 103,156.7 102.6,157 102.1,157.3 101.6,157.7 101.2,157.9 100.9,158.2 100.4,158.5 99.9,158.8 99.4,159.2 99,159.4 98.5,159.7 98.1,159.9 97.5,160.2 97,160.4 96.4,160.7 95.9,160.9 95.4,161.1 94.9,161.3 94.4,161.5 93.8,161.7 93.2,161.9 92.6,162.1 92.1,162.3 91.6,162.5 90.9,162.6 90.4,162.7 89.6,162.8 88.9,162.9 88.3,162.9 M74.3,156.2 74.4,155.9 74,155.4 73.4,155.3 72.9,155.7 72.9,156 73.4,156.4 74.1,156.3 M84.1,161.9 83.6,161.9 82.9,161.7 82.4,161.6 81.8,161.4 81.1,161.2 80.6,161.1 80.1,160.8 79.7,160.4 79.4,160 79.1,159.6 78.9,159.1 78.6,158.7 77.9,158.5 77.1,158.6 76.4,158.7 75.6,158.7 74.9,158.6 74.1,158.6 73.6,158.7 73.1,158.9 72.4,159.2 71.6,159.1 70.9,158.9 70.4,158.8 69.9,158.6 69.2,158.4 68.6,158.3 68.1,158.5 67.6,158.8 67.1,159.1 66.6,159.3 66.1,159.5 65.4,159.5 64.6,159.5 64.1,159.4 63.4,159.2 62.9,159 62.5,158.7 62.3,158.2 62.6,157.7 63,157.4 63.5,157.2 64.1,157 64.9,157 65.6,157 66.4,157 67.1,157.1 67.6,157.2 68.4,157.4 69.1,157.2 69.6,157 70.1,156.9 70.9,156.8 71.4,156.9 72,157.2 72.5,157.4 73.1,157.7 73.6,157.9 74.4,157.8 74.9,157.6 75.6,157.4 76.1,157.4 76.9,157.4 77.4,157.5 78.1,157.5 78.6,157.3 79.1,157 79.5,156.7 79.9,156.2 80,155.7 79.9,154.9 79.9,154.6 80,153.9 80.3,153.4 80.6,153.1 81.1,152.9 81.9,152.7 82.6,152.8 83.4,152.7 83.9,152.5 84.4,152.3 84.9,152 85.4,151.8 85.9,151.7 86.6,151.5 87.1,151.4 87.9,151.3 88.6,151.2 89.4,151.3 89.9,151.4 90.4,151.4 90.8,150.9 91.1,150.4 91.4,150 91.8,149.7 92.4,149.4 92.9,149.3 93.4,149.2 94.1,149 94.6,148.8 95.1,148.6 95.6,148.3 96,147.9 96.4,147.6 96.9,147.2 97.4,146.9 97.9,146.7 98.4,146.6 99.1,146.4 99.6,146.3 100.4,146.3 101.1,146.2 101.9,146.2 102.4,146.2 103.1,146.1 103.9,146 104.6,146.1 105.1,146.3 105.6,146.5 106.1,146.8 106.6,147.2 106.8,147.7 106.9,148.4 106.8,149.2 106.6,149.9 106.5,150.4 106.2,150.9 105.9,151.4 105.6,151.8 105.4,152.2 105,152.7 104.7,153.2 104.5,153.7 104.2,154.2 103.9,154.5 103.5,154.9 103.1,155.2 102.7,155.7 102.4,156 101.9,156.4 101.5,156.7 100.9,156.9 100.1,156.8 99.6,156.7 99.1,156.4 98.6,155.9 98.4,155.7 98,155.2 97.8,154.7 97.9,154.2 98.3,153.7 98.6,153.4 99.1,153.1 99.6,152.8 100.1,152.5 100.6,152.2 101.1,152 101.9,152.1 102.4,152.2 103.1,152.2 103.4,151.9 103.3,151.4 102.9,151.1 102.1,151.2 101.6,151.4 101.1,151.5 100.6,151.3 100.1,151.1 99.6,150.8 99.1,150.5 98.6,150.4 97.9,150.4 97.4,150.7 97.1,150.9 96.6,151.2 96.1,151.4 95.4,151.6 94.6,151.6 94.1,151.7 93.4,151.9 92.9,152.1 92.4,152.4 92.1,152.9 91.9,153.3 91.5,153.7 91.1,154.1 90.8,154.4 90.4,154.8 89.9,155.1 89.4,155.3 88.8,155.4 88.1,155.5 87.4,155.5 86.6,155.6 85.9,155.7 85.4,155.8 84.9,156.1 84.7,156.7 84.9,157.2 85.3,157.7 85.6,158 86,158.4 86.4,158.8 86.9,159.1 87.4,158.9 87.9,158.6 88.4,158.4 89.1,158.3 89.9,158.3 90.6,158.2 91.1,158.1 91.7,157.9 92.2,157.7 92.6,157.4 93.1,156.9 93.4,156.7 93.9,156.2 94.2,155.9 94.6,155.7 95.3,155.7 95.6,155.9 96,156.4 96.3,156.9 96.6,157.2 97.4,157.3 97.9,157.2 98.6,157 98.6,157.4 98.3,157.9 97.9,158.3 97.4,158.7 97.1,158.9 96.6,159.3 96.1,159.7 95.8,159.9 95.4,160.2 94.9,160.5 94.4,160.8 93.9,161 93.3,161.2 92.6,161.4 92.1,161.5 91.6,161.7 90.9,161.8 90.1,161.8 89.4,161.7 88.6,161.7 87.9,161.7 87.1,161.7 86.4,161.7 85.9,161.7 85.4,161.7 84.6,161.9 84.1,161.9 M56.4,159.5 55.6,159.6 54.9,159.5 54.4,159.4 53.9,159.2 53.1,159 52.4,158.9 51.6,159 50.9,159 50.1,158.9 49.6,158.9 49.1,158.7 49.1,157.9 49.1,157.2 49.1,156.4 49.1,155.7 49.1,154.9 49.1,154.2 49.1,153.5 49.8,153.4 50.4,153.3 51.1,153.2 51.9,153.2 52.6,153.3 53.3,153.4 53.9,153.6 54.6,153.7 55.4,153.6 56.1,153.5 56.9,153.5 57.6,153.6 58.4,153.6 58.9,153.3 59.4,153 59.9,152.9 60.6,152.9 61.4,152.9 61.9,152.9 62.6,153.1 63.1,153.2 63.9,153.4 64.4,153.7 64.7,153.9 64.7,154.7 64.3,154.9 63.6,155.1 62.9,155 62.3,154.9 61.6,154.8 60.9,154.8 60.1,154.7 59.6,154.5 59.1,154.3 58.6,154.1 58.1,154.2 57.6,154.6 57.1,154.9 56.6,155.2 56.1,155.3 55.6,155.4 54.9,155.5 54.1,155.5 53.6,155.4 52.9,155.2 52.3,155.2 51.8,155.2 51.1,155.3 50.6,155.5 50.1,155.8 49.7,156.2 50.1,156.6 50.6,156.8 51.1,157 51.9,157.1 52.4,157.2 52.9,157.2 53.6,157.1 54.4,157.1 55.1,157.1 55.6,157.2 56.4,157.3 56.9,157.4 57.6,157.6 58.1,157.7 58.9,157.8 59.6,157.9 60.1,158 60.6,158.4 60.4,158.9 59.9,159.2 59.1,159.4 58.4,159.3 57.6,159.3 56.9,159.3 56.4,159.5 M76.6,154.7 75.9,154.7 75.4,154.4 75.1,154 75.1,153.6 75.5,153.2 76.1,153 76.6,152.9 77.2,152.9 77.8,153.2 77.9,153.6 77.6,154 77.2,154.4 76.8,154.7 M69.9,155.2 69.4,155.2 68.6,155.1 67.9,155 67.4,154.8 66.9,154.4 66.9,154.1 67.3,153.7 67.9,153.5 68.4,153.4 68.9,153.4 69.6,153.5 70.4,153.4 70.9,153.3 71.4,153.1 72.1,153.1 72.6,153.4 72.6,153.7 72.1,154.1 71.7,154.4 71.3,154.7 70.9,154.9 70.1,155.2 M100.4,148.9 99.9,148.9 99.1,148.7 98.6,148.5 98.3,148.2 98.5,147.7 99.1,147.4 99.6,147.3 100.4,147.4 100.9,147.7 101.1,148 101.1,148.5 100.6,148.9 M104.6,149.4 103.9,149.4 103.4,149.2 103.1,148.9 102.8,148.4 102.9,147.9 103.4,147.5 103.9,147.3 104.5,147.4 104.9,147.9 104.9,148.4 104.9,148.9 104.6,149.4 M83.4,160.7 82.6,160.7 82.1,160.7 81.4,160.5 80.9,160.3 80.4,159.9 80.2,159.4 80.2,158.7 80.4,158.2 80.7,157.7 81.1,157.2 81.6,156.9 81.9,156.7 81.9,155.9 81.7,155.4 81.7,154.7 82.1,154.4 82.7,154.4 83.1,154.9 82.9,155.7 82.7,156.2 82.9,156.8 83.2,157.2 83.6,157.7 83.9,158.1 84.1,158.6 84.3,159.2 84.4,159.7 84.2,160.2 83.9,160.5 83.4,160.7 M93.9,160 93.1,160.1 92.4,159.9 92.4,159.4 92.6,159.1 93.1,158.7 93.6,158.4 94.1,158.3 94.6,158.6 94.7,159.2 94.4,159.7 93.9,159.9 M90.6,160.4 90.1,160.4 90.4,160 91,160.2 90.6,160.4 M82.9,159.7 82.1,159.9 81.5,159.7 81.2,159.2 81.4,158.6 81.9,158.3 82.6,158.4 83,158.7 83.2,159.2 83,159.7" fill="none" stroke="#111" stroke-width="0.45"/>
<g fill="#333"><circle cx="101.9" cy="170.7" r="0.42"/><circle cx="60.9" cy="194.5" r="0.42"/><circle cx="111.1" cy="186.9" r="0.42"/><circle cx="54.1" cy="147.1" r="0.42"/><circle cx="56.3" cy="148.8" r="0.42"/><circle cx="67.9" cy="193.1" r="0.42"/><circle cx="83.8" cy="143" r="0.42"/><circle cx="60.6" cy="191" r="0.42"/><circle cx="60.1" cy="189.2" r="0.42"/><circle cx="107.2" cy="160.7" r="0.42"/><circle cx="66.4" cy="148.7" r="0.42"/><circle cx="69.2" cy="148.2" r="0.42"/><circle cx="74.7" cy="147.6" r="0.42"/><circle cx="103.9" cy="158.4" r="0.42"/><circle cx="52.7" cy="163.1" r="0.42"/><circle cx="110.2" cy="165.7" r="0.42"/><circle cx="72.2" cy="203" r="0.42"/><circle cx="101.5" cy="188.6" r="0.42"/><circle cx="108.1" cy="170.4" r="0.42"/><circle cx="65.3" cy="201.9" r="0.42"/><circle cx="64.5" cy="147" r="0.42"/><circle cx="87.5" cy="145.7" r="0.42"/><circle cx="51.1" cy="169.9" r="0.42"/><circle cx="96.9" cy="143.4" r="0.42"/><circle cx="64.2" cy="143.4" r="0.42"/><circle cx="52.4" cy="163.7" r="0.42"/><circle cx="101" cy="160.6" r="0.42"/><circle cx="79.9" cy="195.5" r="0.42"/><circle cx="54.7" cy="171.2" r="0.42"/><circle cx="110.8" cy="163.5" r="0.42"/><circle cx="103.7" cy="162.8" r="0.42"/><circle cx="88.9" cy="147.5" r="0.42"/><circle cx="100.3" cy="142.8" r="0.42"/><circle cx="70.8" cy="146.4" r="0.42"/><circle cx="103.6" cy="176.6" r="0.42"/><circle cx="52.6" cy="146.6" r="0.42"/><circle cx="73.9" cy="149.8" r="0.42"/><circle cx="76.4" cy="142.8" r="0.42"/><circle cx="81.1" cy="191.3" r="0.42"/><circle cx="63.6" cy="145.7" r="0.42"/><circle cx="75.4" cy="148" r="0.42"/><circle cx="79.3" cy="193.4" r="0.42"/><circle cx="52.3" cy="163.5" r="0.42"/><circle cx="75.2" cy="192" r="0.42"/><circle cx="62.8" cy="171.9" r="0.42"/><circle cx="57.1" cy="182.6" r="0.42"/><circle cx="59.2" cy="144.5" r="0.42"/><circle cx="107.8" cy="165" r="0.42"/><circle cx="102.9" cy="163.1" r="0.42"/><circle cx="52.9" cy="193.3" r="0.42"/><circle cx="111.1" cy="149.7" r="0.42"/><circle cx="103.7" cy="168.7" r="0.42"/><circle cx="96.8" cy="143.7" r="0.42"/><circle cx="52.9" cy="150.5" r="0.42"/><circle cx="110.4" cy="148.9" r="0.42"/><circle cx="93.2" cy="145.5" r="0.42"/><circle cx="57.7" cy="190.6" r="0.42"/><circle cx="65.5" cy="150.2" r="0.42"/><circle cx="100.3" cy="200.4" r="0.42"/><circle cx="62.5" cy="168.1" r="0.42"/><circle cx="101.6" cy="169.2" r="0.42"/><circle cx="50.9" cy="171.8" r="0.42"/><circle cx="94.6" cy="175.1" r="0.42"/><circle cx="94.4" cy="145.5" r="0.42"/><circle cx="108.3" cy="157.6" r="0.42"/><circle cx="63.4" cy="147.4" r="0.42"/><circle cx="60.3" cy="150.6" r="0.42"/><circle cx="86.1" cy="144.3" r="0.42"/><circle cx="59.9" cy="199.4" r="0.42"/><circle cx="63.1" cy="146.8" r="0.42"/><circle cx="109.4" cy="174.6" r="0.42"/><circle cx="57.3" cy="148.6" r="0.42"/><circle cx="71" cy="193.3" r="0.42"/><circle cx="59.3" cy="173.9" r="0.42"/><circle cx="73" cy="145.2" r="0.42"/><circle cx="63.3" cy="191.9" r="0.42"/><circle cx="62.5" cy="197.4" r="0.42"/><circle cx="76.4" cy="194.6" r="0.42"/><circle cx="53.2" cy="167" r="0.42"/><circle cx="79.7" cy="145.5" r="0.42"/><circle cx="71.1" cy="146.3" r="0.42"/><circle cx="68.6" cy="196.2" r="0.42"/><circle cx="100.3" cy="165.6" r="0.42"/><circle cx="72.6" cy="146.2" r="0.42"/><circle cx="69.7" cy="193.6" r="0.42"/><circle cx="55.5" cy="172.2" r="0.42"/><circle cx="56.4" cy="150.2" r="0.42"/><circle cx="110.5" cy="152.8" r="0.42"/><circle cx="63.2" cy="147.5" r="0.42"/><circle cx="79.1" cy="143.5" r="0.42"/><circle cx="98.3" cy="193.2" r="0.42"/><circle cx="106.2" cy="160.7" r="0.42"/><circle cx="58.4" cy="165.4" r="0.42"/><circle cx="84.4" cy="148.8" r="0.42"/><circle cx="94" cy="183.9" r="0.42"/><circle cx="93.3" cy="143.2" r="0.42"/><circle cx="80.4" cy="149.9" r="0.42"/><circle cx="103.5" cy="143.3" r="0.42"/><circle cx="87.6" cy="144.8" r="0.42"/><circle cx="92.9" cy="199.3" r="0.42"/><circle cx="98.5" cy="173.5" r="0.42"/><circle cx="110" cy="156" r="0.42"/><circle cx="110.5" cy="163.8" r="0.42"/><circle cx="63.5" cy="193.1" r="0.42"/><circle cx="75.3" cy="149.4" r="0.42"/><circle cx="98.1" cy="168.2" r="0.42"/><circle cx="60.3" cy="176" r="0.42"/><circle cx="70.6" cy="149.7" r="0.42"/><circle cx="50" cy="163.9" r="0.42"/><circle cx="50.5" cy="185.9" r="0.42"/><circle cx="86.8" cy="195" r="0.42"/><circle cx="108.9" cy="145.3" r="0.42"/><circle cx="97.5" cy="196.5" r="0.42"/><circle cx="83.7" cy="142.9" r="0.42"/><circle cx="57.6" cy="184.1" r="0.42"/><circle cx="83.5" cy="190.1" r="0.42"/><circle cx="91.1" cy="145.1" r="0.42"/><circle cx="109" cy="154.5" r="0.42"/><circle cx="101.9" cy="190.3" r="0.42"/><circle cx="105.7" cy="142.9" r="0.42"/></g>
</g>
<g font-size="2.6" fill="#777" text-anchor="end"><text x="48" y="144.3">10<tspan font-size="1.8" dy="-1">4</tspan></text><text x="48" y="159.3">10<tspan font-size="1.8" dy="-1">3</tspan></text><text x="48" y="174.3">10<tspan font-size="1.8" dy="-1">2</tspan></text><text x="48" y="189.3">10<tspan font-size="1.8" dy="-1">1</tspan></text><text x="48" y="204.3">10<tspan font-size="1.8" dy="-1">0</tspan></text></g>
<g font-size="2.6" fill="#777" text-anchor="middle"><text x="50.5" y="208.4">10<tspan font-size="1.8" dy="-1">0</tspan></text><text x="65.6" y="208.4">10<tspan font-size="1.8" dy="-1">1</tspan></text><text x="80.8" y="208.4">10<tspan font-size="1.8" dy="-1">2</tspan></text><text x="95.9" y="208.4">10<tspan font-size="1.8" dy="-1">3</tspan></text><text x="111" y="208.4">10<tspan font-size="1.8" dy="-1">4</tspan></text></g>
<path d="M50.5,204.8v-1M65.6,204.8v-1M80.8,204.8v-1M95.9,204.8v-1M111,204.8v-1M49,143.3h1M49,158.3h1M49,173.3h1M49,188.3h1M49,203.3h1" stroke="#777" stroke-width="0.5"/>
<rect x="116.2" y="141.8" width="63.8" height="63" fill="#fff" stroke="#888" stroke-width="0.8"/>
<clipPath id="cp_p25"><rect x="116.2" y="141.8" width="63.8" height="63"/></clipPath>
<g clip-path="url(#cp_p25)">
<path d="M140.1,184.7 139.3,184.7 138.8,184.6 138.3,184.3 137.8,183.9 137.6,183.6 137.2,183.2 136.9,182.7 136.8,182.2 136.8,181.6 137,180.9 137.1,180.4 137,179.9 136.8,179.4 136.6,178.9 136.4,178.2 136.4,177.4 136.7,176.9 136.9,176.4 136.8,175.7 136.6,175.3 136.3,174.9 136.1,174.4 136,173.7 136.1,173.2 136.4,172.7 136.6,172.2 136.6,171.4 136.5,170.9 136.3,170.2 136.3,169.7 136.3,168.9 136.3,168.3 136.3,167.7 136.3,167.2 136.2,166.4 136.3,165.7 136.4,165.2 136.5,164.4 136.6,163.9 136.8,163.2 136.9,162.7 137.1,162.2 137.3,161.6 137.6,161.1 137.9,160.7 138.3,160.2 138.5,159.7 138.8,159.2 139,158.7 139.3,158.2 139.6,157.9 140.1,157.5 140.5,157.2 140.8,156.9 141.2,156.4 141.5,155.9 141.8,155.4 142.1,155 142.4,154.7 142.8,154.3 143.3,153.9 143.7,153.7 144.1,153.4 144.6,153.1 145.1,152.9 145.8,152.8 146.6,152.7 147.1,152.5 147.6,152.2 148,151.9 148.4,151.7 148.8,151.4 149.6,151.2 150.1,151.1 150.8,151 151.3,150.9 152.1,150.7 152.6,150.5 153.3,150.4 153.8,150.4 154.6,150.2 155.1,150.2 155.8,150.1 156.6,150 157.3,150 158.1,150 158.8,150 159.6,150 160.3,150.2 160.8,150.3 161.3,150.5 161.8,150.7 162.3,151.1 162.7,151.4 163.1,151.9 163.3,152.3 163.5,152.9 163.6,153.4 163.5,153.9 163.3,154.6 163.1,154.9 162.6,155.4 162.1,155.6 161.6,155.7 160.8,155.8 160.1,155.8 159.3,155.9 158.8,156.1 158.3,156.4 158.2,156.9 158.1,157.7 158,158.2 158.1,158.7 158.3,159.2 158.6,159.7 158.8,160.4 158.9,160.9 159,161.7 159.2,162.2 159.5,162.7 159.8,163.2 159.9,163.7 160,164.4 159.9,165.2 159.8,165.7 159.6,166.2 159.3,166.8 159.1,167.4 159,167.9 158.9,168.7 158.8,169.2 158.8,169.9 158.8,170.7 158.6,171.3 158.3,171.7 157.8,172.1 157.3,172.2 156.8,172.1 156.4,171.7 156.1,171.2 155.8,170.9 155.1,170.9 154.8,171.2 154.8,171.9 155.1,172.2 155.6,172.5 156,172.9 156,173.7 156,174.4 156.2,174.9 156.4,175.4 156.6,175.9 156.6,176.5 156.3,176.9 155.9,177.4 155.6,177.8 155.3,178.2 155,178.7 154.6,179.1 154.1,179.2 153.3,179.4 152.9,179.7 152.6,180 152.3,180.4 152,180.9 151.7,181.4 151.4,181.9 151.2,182.4 150.9,182.9 150.7,183.4 150.3,183.9 150,184.2 149.3,184.4 148.6,184.3 148.1,184.1 147.6,183.7 147.3,183.4 146.8,183 146.1,182.9 145.3,183.1 144.6,183 144.1,182.7 143.8,182.4 143.6,181.9 143.5,181.2 142.9,181.2 142.6,181.7 142.5,182.2 142.3,182.7 142.1,183.2 141.7,183.7 141.3,184.1 140.9,184.4 140.3,184.7Z M151.1,159.7 151.6,159.3 151.8,158.8 151.9,158.2 151.8,157.6 151.3,157.3 150.6,157.2 150,157.4 149.7,157.9 149.9,158.4 150.2,158.9 150.5,159.4 150.8,159.8Z M143.8,177.2 144.1,176.9 144.4,176.4 144.3,175.8 144,175.4 143.8,174.9 143.7,174.2 143.7,173.4 143.7,172.7 143.6,171.9 143.6,171.4 143.5,170.7 143.5,169.9 143.6,169.3 143.8,168.8 144.2,168.4 144.6,168.2 145,167.7 145.2,167.2 145.3,166.4 145.4,165.9 145.6,165.3 145.8,164.7 146.1,164.3 146.2,163.7 145.8,163.4 145.1,163.2 144.6,163.1 144.1,162.8 143.6,162.6 142.8,162.5 142.4,162.9 142.4,163.7 142.4,164.4 142.5,165.2 142.4,165.9 142.3,166.4 142.1,167.2 142,167.7 141.9,168.4 141.8,168.9 141.7,169.7 141.6,170.4 141.5,170.9 141.3,171.4 141.1,171.9 141,172.7 141.1,173.2 141.3,173.9 141.4,174.4 141.6,175.1 141.8,175.7 142,176.2 142.3,176.7 142.6,177 143.1,177.2 143.8,177.2Z M153.4,168.2 153.9,167.9 154,167.2 153.6,166.8 153,166.9 152.8,167.4 152.9,167.9 153.3,168.2Z M144.7,178.9 144.6,178.2 144.3,178.2 144.3,178.9 144.7,178.9Z" fill="#888" fill-opacity="0.35" stroke="none"/>
<path d="M139.1,171 138.3,171 137.8,170.8 137.5,170.4 137.2,169.9 137.2,169.2 137.3,168.4 137.4,167.9 137.4,167.2 137.4,166.4 137.4,165.7 137.5,164.9 137.6,164.4 137.8,163.7 137.9,163.2 138.1,162.6 138.4,162.2 138.8,161.8 139.2,161.4 139.5,160.9 139.8,160.4 140,159.9 140.2,159.4 140.4,158.9 140.7,158.4 141.1,158.1 141.5,157.7 141.8,157.2 142.1,156.7 142.3,156.3 142.6,155.9 142.9,155.4 143.3,155 143.7,154.7 144.1,154.4 144.6,154 145.1,153.9 145.8,153.8 146.6,153.8 147.1,153.6 147.6,153.4 148.1,153.1 148.5,152.7 148.8,152.4 149.3,152.1 150.1,152 150.7,151.9 151.3,151.8 151.8,151.6 152.4,151.4 153.1,151.3 153.7,151.4 154.3,151.5 154.9,151.4 155.5,151.2 156.1,151 156.8,151 157.6,150.9 158.1,150.9 158.8,150.8 159.6,150.9 160.1,151 160.7,151.2 161.1,151.4 161.6,151.9 161.9,152.2 162.3,152.7 162.5,153.2 162.6,153.7 162.5,154.2 162.1,154.6 161.6,154.8 160.8,154.9 160.1,154.8 159.3,154.8 158.6,154.8 157.8,154.9 157.1,154.9 156.3,154.8 155.6,154.7 154.8,154.8 154.1,154.9 153.6,155 152.8,155.1 152.3,155.2 151.6,155.3 151.1,155.4 150.3,155.6 149.8,155.8 149.3,156 148.8,156.3 148.3,156.6 147.8,156.8 147.3,156.9 146.8,157.2 146.4,157.7 146.1,158.2 145.8,158.6 145.5,158.9 145.1,159.3 144.6,159.5 144.1,159.9 143.8,160.2 143.3,160.7 142.8,160.9 142.3,161.1 141.8,161.4 141.6,161.7 141.3,162.4 141.3,162.9 141.3,163.7 141.3,164.4 141.2,165.2 141.2,165.9 141.1,166.4 140.8,167.2 140.6,167.7 140.4,168.2 140.3,168.7 140.2,169.4 140.1,170.1 139.8,170.6 139.3,170.9Z M140.3,183.5 139.6,183.7 138.9,183.4 138.6,183.2 138.1,182.7 138,182.2 138.1,181.4 138.3,180.9 138.6,180.6 138.8,180.2 138.8,179.6 138.6,179.2 138.2,178.7 138,178.2 138,177.4 138.2,176.9 138.2,176.2 138.1,175.7 137.8,175.1 137.6,174.7 137.3,173.9 137.4,173.7 137.8,173.2 138.1,172.9 138.6,172.7 139.1,172.7 139.6,172.9 139.9,173.4 140.1,173.9 140.2,174.7 140.3,175.4 140.5,175.9 140.7,176.4 140.9,176.9 141.1,177.6 141.1,178.1 140.9,178.7 140.6,179.2 140.3,179.6 140.3,180.2 140.6,180.7 140.8,181.2 140.9,181.7 141,182.4 140.8,183 140.5,183.4Z" fill="#444" fill-opacity="0.3" stroke="none"/>
<path d="M142.6,201 141.8,201.1 141.1,201.1 140.3,201.1 139.7,200.9 139.1,200.7 138.6,200.5 138.1,200.2 137.8,199.9 137.5,199.4 137.4,198.7 137.6,198.2 137.9,197.7 138.3,197.2 138.5,196.7 138.4,195.9 138.1,195.5 137.8,195.2 137.4,194.7 137.1,194.3 136.7,193.9 136.3,193.5 136,193.2 135.6,192.7 135.3,192.4 134.8,191.9 134.6,191.6 134.2,191.2 133.8,190.7 133.6,190.3 133.3,189.9 133.1,189.4 132.8,188.8 132.7,188.2 132.5,187.7 132.4,186.9 132.3,186.3 132.2,185.7 132.2,184.9 132.1,184.2 132,183.7 131.9,182.9 131.8,182.2 131.8,181.7 131.7,180.9 131.6,180.2 131.6,179.7 131.5,178.9 131.5,178.2 131.5,177.4 131.5,176.7 131.5,175.9 131.5,175.2 131.6,174.4 131.6,173.9 131.6,173.2 131.7,172.4 131.7,171.7 131.7,170.9 131.8,170.2 131.8,169.7 131.9,168.9 131.9,168.2 132,167.4 132.1,166.7 132.1,166.2 132.2,165.4 132.3,164.7 132.4,164.2 132.5,163.4 132.7,162.9 132.8,162.4 133.1,161.7 133.3,161.2 133.6,160.7 133.8,160.2 134.1,159.7 134.3,159.3 134.6,158.9 134.9,158.4 135.2,157.9 135.5,157.4 135.8,156.9 136.1,156.6 136.3,156.2 136.7,155.7 137.1,155.2 137.3,154.9 137.7,154.4 138.1,154 138.4,153.7 138.8,153.3 139.2,152.9 139.6,152.6 140.1,152.2 140.5,151.9 140.9,151.7 141.3,151.4 141.8,151.1 142.3,150.9 142.9,150.7 143.6,150.5 144.1,150.4 144.8,150.2 145.3,150.2 146.1,150 146.6,149.9 147.3,149.7 147.8,149.6 148.6,149.5 149.1,149.4 149.8,149.2 150.3,149.1 151.1,148.9 151.6,148.8 152.3,148.7 152.8,148.6 153.6,148.5 154.3,148.5 154.8,148.4 155.6,148.3 156.3,148.3 157.1,148.2 157.8,148.2 158.6,148.2 159.3,148.2 160.1,148.3 160.8,148.4 161.3,148.5 162,148.7 162.6,148.8 163.1,149.1 163.6,149.4 164,149.7 164.3,150 164.7,150.4 165,150.9 165.2,151.4 165.4,151.9 165.5,152.7 165.5,153.4 165.4,154.2 165.3,154.7 165.1,155.3 164.9,155.9 164.7,156.4 164.6,157 164.5,157.7 164.6,158.4 164.6,158.9 164.6,159.7 164.6,160.4 164.6,161.2 164.6,161.9 164.7,162.7 164.7,163.4 164.7,164.2 164.6,164.9 164.6,165.6 164.5,166.2 164.4,166.9 164.3,167.5 164.2,168.2 164.1,168.8 163.9,169.4 163.8,169.9 163.6,170.7 163.5,171.2 163.3,171.9 163.2,172.4 163.1,172.9 162.9,173.7 162.8,174.2 162.6,174.9 162.5,175.4 162.3,176.1 162.2,176.7 162.1,177.2 161.9,177.9 161.7,178.4 161.6,178.9 161.3,179.7 161.1,180.2 160.9,180.7 160.7,181.2 160.5,181.7 160.2,182.2 160,182.7 159.7,183.2 159.5,183.7 159.2,184.2 159,184.7 158.7,185.2 158.5,185.7 158.2,186.2 157.9,186.7 157.7,187.2 157.4,187.7 157.1,188.2 156.8,188.7 156.6,189.1 156.3,189.4 155.9,189.9 155.6,190.4 155.3,190.7 154.8,191.2 154.6,191.4 154.1,191.8 153.7,192.2 153.3,192.4 152.8,192.8 152.3,193.1 151.8,193.4 151.3,193.7 150.9,193.9 150.4,194.2 150,194.4 149.5,194.7 149,194.9 148.5,195.2 148.1,195.4 147.5,195.7 147,195.9 146.5,196.2 146.1,196.4 145.6,196.8 145.3,197.2 145.3,197.9 145.3,198.4 145.3,198.9 145.1,199.5 144.7,199.9 144.3,200.2 143.8,200.5 143.3,200.7 142.7,200.9 M142.8,195.7 142.1,195.8 141.3,195.8 140.8,195.7 140.1,195.4 139.7,195.2 139.3,194.9 138.8,194.6 138.4,194.2 138.1,193.9 137.6,193.4 137.3,193.2 136.8,192.7 136.6,192.4 136.1,191.9 135.8,191.6 135.4,191.2 135.1,190.8 134.8,190.4 134.4,189.9 134.1,189.4 133.9,188.9 133.7,188.4 133.6,187.9 133.4,187.2 133.3,186.7 133.2,185.9 133.1,185.2 133.1,184.7 133,183.9 132.9,183.2 132.8,182.6 132.7,181.9 132.7,181.2 132.6,180.4 132.5,179.9 132.5,179.2 132.4,178.4 132.4,177.7 132.4,176.9 132.4,176.2 132.5,175.4 132.5,174.7 132.6,173.9 132.6,173.4 132.6,172.7 132.7,171.9 132.7,171.2 132.8,170.4 132.8,169.9 132.9,169.2 133,168.4 133,167.7 133.1,167.2 133.1,166.4 133.2,165.7 133.3,164.9 133.4,164.4 133.6,163.7 133.7,163.2 133.9,162.7 134.1,162.2 134.3,161.6 134.6,161.1 134.8,160.6 135.1,160.1 135.3,159.7 135.7,159.2 136,158.7 136.3,158.2 136.6,157.7 136.8,157.4 137.1,156.9 137.5,156.4 137.8,155.9 138.1,155.6 138.4,155.2 138.8,154.7 139.1,154.4 139.6,153.9 139.9,153.7 140.3,153.2 140.7,152.9 141.1,152.7 141.6,152.3 142.1,152 142.6,151.7 143.1,151.5 143.6,151.3 144.1,151.1 144.7,150.9 145.3,150.8 145.8,150.7 146.6,150.5 147.1,150.3 147.6,150.2 148.3,150 148.8,149.8 149.6,149.7 150.1,149.6 150.7,149.4 151.3,149.3 151.8,149.2 152.6,149.1 153.3,149 153.8,148.9 154.6,148.8 155.3,148.7 156.1,148.7 156.6,148.7 157.3,148.6 158.1,148.6 158.8,148.6 159.6,148.6 160.1,148.7 160.8,148.8 161.5,148.9 162.1,149.1 162.6,149.2 163.1,149.5 163.6,149.8 164,150.2 164.3,150.6 164.6,151 164.8,151.4 165.1,152.2 165.1,152.7 165.2,153.4 165.1,153.9 164.9,154.7 164.7,155.2 164.4,155.7 164.2,156.2 164,156.7 163.8,157.2 163.8,157.9 163.8,158.7 163.8,159.2 163.9,159.9 163.9,160.7 163.9,161.4 164,162.2 164,162.9 164,163.7 164,164.4 163.9,165.2 163.9,165.9 163.8,166.4 163.7,167.2 163.6,167.9 163.5,168.4 163.3,169 163.2,169.7 163,170.2 162.8,170.9 162.7,171.4 162.6,172 162.4,172.7 162.3,173.2 162.1,173.9 162,174.4 161.8,174.9 161.6,175.7 161.5,176.2 161.3,176.8 161.2,177.4 161,177.9 160.8,178.5 160.6,179.2 160.4,179.7 160.1,180.2 159.9,180.7 159.6,181.2 159.3,181.7 159.1,182.1 158.8,182.6 158.6,183 158.3,183.4 158,183.9 157.7,184.4 157.4,184.9 157.1,185.4 156.8,185.9 156.6,186.4 156.3,186.8 156.1,187.2 155.7,187.7 155.4,188.2 155.1,188.5 154.7,188.9 154.3,189.4 154,189.7 153.6,190.1 153.2,190.4 152.8,190.7 152.3,191.1 151.9,191.4 151.6,191.7 151.1,192 150.6,192.4 150.1,192.7 149.8,192.9 149.3,193.2 148.8,193.5 148.3,193.8 147.8,194.1 147.3,194.4 146.8,194.6 146.3,194.8 145.8,195 145.2,195.2 144.6,195.3 144.1,195.5 143.3,195.6 142.8,195.7 M143.8,194.4 143.1,194.5 142.3,194.6 141.6,194.6 140.8,194.5 140.3,194.3 139.8,194.1 139.3,193.7 138.9,193.4 138.6,193.1 138.1,192.7 137.8,192.4 137.4,191.9 137.1,191.6 136.6,191.2 136.3,190.9 135.9,190.4 135.6,190 135.3,189.6 135,189.2 134.8,188.7 134.6,188.2 134.4,187.4 134.3,186.9 134.1,186.2 134.1,185.7 134,184.9 133.9,184.2 133.8,183.7 133.7,182.9 133.6,182.2 133.6,181.6 133.5,180.9 133.4,180.2 133.3,179.4 133.3,178.9 133.3,178.2 133.3,177.4 133.3,176.7 133.3,175.9 133.3,175.2 133.3,174.4 133.3,173.9 133.4,173.2 133.4,172.4 133.5,171.7 133.5,170.9 133.6,170.2 133.6,169.7 133.7,168.9 133.7,168.2 133.8,167.4 133.9,166.9 133.9,166.2 134,165.4 134.1,164.9 134.2,164.2 134.4,163.7 134.6,163.1 134.8,162.4 135,161.9 135.2,161.4 135.4,160.9 135.7,160.4 136,159.9 136.3,159.4 136.6,159 136.8,158.6 137.1,158.2 137.4,157.7 137.7,157.2 138.1,156.7 138.3,156.3 138.7,155.9 139.1,155.5 139.3,155.2 139.8,154.7 140.1,154.4 140.5,153.9 140.8,153.6 141.3,153.2 141.7,152.9 142.1,152.7 142.6,152.4 143.1,152.1 143.6,151.8 144.1,151.6 144.6,151.4 145.3,151.2 145.8,151 146.3,150.9 147.1,150.7 147.6,150.5 148.1,150.4 148.7,150.2 149.3,150 149.8,149.9 150.6,149.7 151.1,149.6 151.8,149.5 152.3,149.4 153.1,149.3 153.8,149.2 154.3,149.1 155.1,149 155.8,149 156.6,148.9 157.1,148.9 157.8,148.8 158.6,148.8 159.3,148.9 159.8,148.9 160.6,149 161.3,149.2 161.8,149.3 162.3,149.5 162.8,149.7 163.3,150 163.8,150.4 164.1,150.7 164.4,151.2 164.6,151.7 164.8,152.4 164.9,152.9 164.8,153.7 164.7,154.2 164.6,154.7 164.3,155.2 164,155.7 163.7,156.2 163.4,156.7 163.2,157.2 163.1,157.9 163.2,158.7 163.2,159.4 163.3,160.2 163.3,160.7 163.4,161.4 163.4,162.2 163.4,162.9 163.5,163.7 163.4,164.4 163.4,165.2 163.3,165.9 163.3,166.4 163.2,167.2 163.1,167.7 162.9,168.4 162.8,168.9 162.6,169.7 162.5,170.2 162.3,170.7 162.1,171.4 162,171.9 161.8,172.6 161.7,173.2 161.5,173.7 161.4,174.4 161.2,174.9 161.1,175.5 160.9,176.2 160.7,176.7 160.6,177.2 160.3,177.9 160.1,178.4 159.9,178.9 159.7,179.4 159.5,179.9 159.2,180.4 158.9,180.9 158.6,181.4 158.3,181.9 158.1,182.3 157.8,182.7 157.5,183.2 157.2,183.7 156.9,184.2 156.6,184.7 156.3,185.1 156.1,185.5 155.8,185.9 155.4,186.4 155.1,186.9 154.8,187.3 154.5,187.7 154.1,188.2 153.8,188.5 153.4,188.9 153.1,189.2 152.6,189.7 152.2,189.9 151.8,190.3 151.3,190.6 150.9,190.9 150.6,191.2 150.1,191.5 149.6,191.9 149.1,192.2 148.8,192.4 148.3,192.7 147.8,193 147.3,193.3 146.8,193.6 146.3,193.8 145.8,194 145.1,194.2 144.6,194.3 144,194.4 M143.3,193.4 142.6,193.5 141.8,193.5 141.3,193.4 140.6,193.2 140.1,192.9 139.8,192.7 139.3,192.3 138.9,191.9 138.6,191.6 138.1,191.2 137.8,190.9 137.4,190.4 137.1,190.1 136.7,189.7 136.3,189.2 136.1,188.8 135.8,188.3 135.6,187.7 135.4,187.2 135.3,186.7 135.1,185.9 135,185.4 134.9,184.7 134.8,184.2 134.6,183.4 134.6,182.9 134.5,182.2 134.4,181.4 134.3,180.8 134.2,180.2 134.1,179.4 134.1,178.8 134,178.2 134,177.4 134,176.7 134,175.9 134,175.2 133.9,174.4 134,173.7 134,172.9 134.1,172.2 134.1,171.7 134.1,170.9 134.1,170.2 134.2,169.4 134.2,168.7 134.3,168.1 134.4,167.4 134.5,166.7 134.5,165.9 134.6,165.4 134.7,164.7 134.8,164.2 135.1,163.4 135.2,162.9 135.4,162.4 135.6,161.9 135.8,161.3 136.1,160.7 136.3,160.3 136.6,159.9 136.9,159.4 137.2,158.9 137.5,158.4 137.8,157.9 138.1,157.5 138.3,157.1 138.6,156.7 139,156.2 139.3,155.9 139.7,155.4 140.1,155 140.4,154.7 140.8,154.2 141.1,153.9 141.6,153.6 142.1,153.2 142.5,152.9 142.9,152.7 143.3,152.4 143.8,152.1 144.3,151.9 144.8,151.7 145.5,151.4 146.1,151.3 146.6,151.1 147.1,150.9 147.8,150.7 148.3,150.5 148.8,150.4 149.6,150.2 150.1,150.1 150.8,149.9 151.3,149.8 151.8,149.7 152.6,149.6 153.3,149.5 153.8,149.4 154.6,149.3 155.3,149.2 156.1,149.2 156.6,149.1 157.3,149.1 158.1,149 158.8,149 159.6,149.1 160.1,149.2 160.8,149.3 161.5,149.4 162.1,149.6 162.6,149.8 163.1,150.1 163.5,150.4 163.8,150.8 164.1,151.2 164.4,151.7 164.6,152.3 164.7,152.9 164.6,153.7 164.5,154.2 164.3,154.7 164,155.2 163.7,155.7 163.3,156.2 163.1,156.5 162.8,156.9 162.6,157.7 162.6,157.9 162.6,158.7 162.7,159.4 162.8,160.2 162.8,160.7 162.9,161.4 162.9,162.2 163,162.9 163,163.7 163,164.4 163,165.2 162.9,165.9 162.8,166.6 162.7,167.2 162.6,167.9 162.5,168.4 162.3,169 162.1,169.7 162,170.2 161.8,170.9 161.7,171.4 161.5,171.9 161.3,172.7 161.2,173.2 161.1,173.7 160.9,174.4 160.7,174.9 160.6,175.4 160.4,176.2 160.2,176.7 160,177.2 159.8,177.7 159.6,178.4 159.3,178.9 159.1,179.4 158.8,179.9 158.6,180.3 158.3,180.7 158,181.2 157.7,181.7 157.3,182.2 157.1,182.6 156.8,183 156.5,183.4 156.2,183.9 155.9,184.4 155.6,184.8 155.3,185.2 155,185.7 154.6,186.2 154.3,186.6 154.1,186.9 153.6,187.4 153.3,187.8 152.9,188.2 152.6,188.5 152.1,188.9 151.8,189.2 151.3,189.5 150.8,189.9 150.4,190.2 150.1,190.4 149.6,190.8 149.1,191.1 148.6,191.4 148.2,191.7 147.8,191.9 147.3,192.2 146.8,192.5 146.3,192.7 145.8,192.9 145.1,193.2 144.6,193.3 143.8,193.4 143.3,193.4 M145.3,191.2 144.6,191.2 144,191.2 143.3,191 142.8,190.8 142.3,190.5 141.8,190.2 141.5,189.9 141.1,189.5 140.8,189.2 140.3,188.7 140.1,188.4 139.6,187.9 139.3,187.7 138.8,187.4 138.3,187.1 137.8,186.8 137.4,186.4 137.1,186.2 136.6,185.7 136.3,185.3 136.1,184.9 135.8,184.4 135.6,183.9 135.3,183.2 135.2,182.7 135.1,181.9 135.1,181.2 135.1,180.7 134.9,179.9 134.8,179.3 134.7,178.7 134.7,177.9 134.7,177.2 134.6,176.4 134.6,175.7 134.5,175.2 134.4,174.4 134.4,173.7 134.5,172.9 134.6,172.2 134.6,171.4 134.5,170.7 134.5,169.9 134.6,169.4 134.7,168.7 134.8,167.9 134.9,167.4 134.9,166.7 134.9,165.9 135,165.2 135.1,164.7 135.3,164 135.5,163.4 135.7,162.9 135.8,162.4 136.1,161.7 136.3,161.2 136.5,160.7 136.8,160.2 137.1,159.7 137.3,159.4 137.6,158.9 137.9,158.4 138.2,157.9 138.5,157.4 138.8,157 139.1,156.7 139.5,156.2 139.8,155.8 140.2,155.4 140.6,155 140.8,154.7 141.3,154.2 141.6,153.9 142.1,153.6 142.6,153.2 143.1,152.9 143.4,152.7 143.9,152.4 144.3,152.2 144.9,151.9 145.5,151.7 146.1,151.5 146.6,151.3 147.1,151.2 147.8,150.9 148.3,150.7 148.8,150.6 149.5,150.4 150.1,150.3 150.6,150.2 151.3,150 151.8,149.9 152.6,149.7 153.2,149.7 153.8,149.6 154.6,149.5 155.2,149.4 155.8,149.4 156.6,149.3 157.3,149.3 158.1,149.2 158.8,149.2 159.6,149.3 160.3,149.4 160.8,149.5 161.6,149.6 162.1,149.8 162.6,150 163.1,150.3 163.5,150.7 163.8,151.1 164.1,151.5 164.3,152.1 164.4,152.7 164.4,153.4 164.3,154 164.1,154.7 163.8,155.1 163.6,155.5 163.2,155.9 162.8,156.3 162.5,156.7 162.1,157.2 162,157.7 162.1,158.4 162.1,158.9 162.2,159.7 162.3,160.4 162.4,160.9 162.5,161.7 162.5,162.4 162.6,163.2 162.6,163.7 162.6,164.4 162.6,164.9 162.5,165.7 162.4,166.4 162.3,167 162.2,167.7 162.1,168.2 161.9,168.9 161.8,169.4 161.6,170.1 161.4,170.7 161.3,171.2 161.1,171.9 160.9,172.4 160.8,172.9 160.6,173.7 160.4,174.2 160.3,174.7 160.1,175.4 159.9,175.9 159.8,176.4 159.6,176.9 159.3,177.6 159.1,178.2 158.8,178.7 158.6,179.1 158.3,179.6 158.1,180 157.8,180.4 157.4,180.9 157.1,181.4 156.8,181.8 156.5,182.2 156.2,182.7 155.8,183.2 155.6,183.5 155.3,183.9 154.9,184.4 154.6,184.9 154.3,185.2 153.9,185.7 153.6,186.1 153.3,186.4 152.8,186.9 152.6,187.2 152.1,187.6 151.7,187.9 151.3,188.2 150.8,188.5 150.3,188.9 149.8,189.2 149.4,189.4 149,189.7 148.5,189.9 148.1,190.2 147.6,190.4 147,190.7 146.4,190.9 145.8,191.1 145.3,191.2 M149.1,187.2 148.3,187.2 147.6,187.2 147.1,187.1 146.4,186.9 145.8,186.8 145.3,186.6 144.8,186.4 144.3,186.2 143.8,185.9 143.1,185.7 142.6,185.6 142.1,185.7 141.3,185.9 140.8,186 140.1,186.1 139.3,186 138.8,185.9 138.1,185.7 137.6,185.4 137.2,185.2 136.8,184.8 136.5,184.4 136.2,183.9 136,183.4 135.8,182.9 135.7,182.2 135.6,181.4 135.6,180.7 135.5,180.2 135.4,179.4 135.2,178.9 135.1,178.2 135.1,177.4 135.1,176.7 135.1,176 135,175.4 134.9,174.7 134.8,173.9 134.9,173.2 134.9,172.4 135,171.7 134.9,170.9 134.9,170.2 134.9,169.4 135.1,168.7 135.1,168.2 135.2,167.4 135.3,166.7 135.3,165.9 135.3,165.4 135.5,164.7 135.7,164.2 135.8,163.7 136.1,162.9 136.2,162.4 136.3,161.9 136.6,161.3 136.8,160.7 137.1,160.3 137.3,159.9 137.6,159.4 138,158.9 138.2,158.4 138.5,157.9 138.8,157.5 139.1,157.1 139.5,156.7 139.8,156.3 140.1,155.9 140.6,155.4 140.8,155.1 141.2,154.7 141.6,154.4 142.1,153.9 142.4,153.7 142.8,153.4 143.3,153.1 143.8,152.7 144.3,152.4 144.8,152.2 145.3,152 145.8,151.8 146.3,151.6 147,151.4 147.6,151.2 148.1,151 148.6,150.9 149.3,150.7 149.8,150.5 150.4,150.4 151.1,150.2 151.6,150.1 152.3,150 152.8,149.9 153.6,149.8 154.3,149.7 154.8,149.6 155.6,149.6 156.3,149.5 157.1,149.5 157.8,149.4 158.3,149.4 159,149.4 159.6,149.5 160.3,149.6 160.9,149.7 161.6,149.8 162.1,150 162.6,150.2 163.1,150.6 163.5,150.9 163.8,151.4 164.1,151.9 164.2,152.4 164.3,153.2 164.2,153.9 164,154.4 163.7,154.9 163.3,155.4 163.1,155.7 162.6,156.2 162.2,156.4 161.8,156.8 161.5,157.2 161.4,157.9 161.5,158.7 161.6,159.2 161.7,159.9 161.8,160.5 161.9,161.2 162,161.9 162.1,162.7 162.1,163.2 162.1,163.9 162.1,164.7 162.1,165.4 162,165.9 161.9,166.7 161.8,167.3 161.7,167.9 161.6,168.4 161.4,169.2 161.2,169.7 161.1,170.2 160.9,170.9 160.7,171.4 160.6,172 160.4,172.7 160.2,173.2 160.1,173.7 159.9,174.4 159.7,174.9 159.6,175.4 159.3,176.1 159.1,176.7 158.9,177.2 158.7,177.7 158.4,178.2 158.2,178.7 157.9,179.2 157.6,179.6 157.3,180 157,180.4 156.6,180.9 156.3,181.3 156,181.7 155.6,182.2 155.3,182.6 155,182.9 154.6,183.4 154.3,183.8 154,184.2 153.6,184.6 153.3,184.9 152.8,185.4 152.5,185.7 152.1,186 151.6,186.3 151.1,186.6 150.6,186.8 150.1,187 149.3,187.2 M149.6,185.7 148.8,185.8 148.1,185.7 147.6,185.7 146.8,185.5 146.3,185.4 145.6,185.2 145.1,185 144.6,184.8 144.1,184.5 143.6,184.4 142.9,184.4 142.3,184.7 141.9,184.9 141.3,185.2 140.8,185.4 140.3,185.5 139.6,185.5 138.8,185.4 138.3,185.3 137.8,185.1 137.3,184.7 137,184.4 136.6,183.9 136.4,183.4 136.2,182.9 136.1,182.4 136,181.7 136,180.9 135.9,180.2 135.8,179.7 135.6,178.9 135.5,178.4 135.5,177.7 135.5,176.9 135.5,176.2 135.3,175.4 135.2,174.9 135.2,174.2 135.2,173.4 135.3,172.7 135.3,171.9 135.3,171.2 135.2,170.4 135.2,169.7 135.3,168.9 135.4,168.4 135.6,167.7 135.6,167.2 135.6,166.4 135.6,165.7 135.8,164.9 135.9,164.4 136.1,163.9 136.3,163.2 136.4,162.7 136.6,162.2 136.8,161.4 137,160.9 137.3,160.4 137.6,160 137.8,159.7 138.1,159.2 138.4,158.7 138.7,158.2 139,157.7 139.3,157.2 139.6,156.9 140.1,156.4 140.3,156.1 140.7,155.7 141.1,155.2 141.4,154.9 141.8,154.5 142.2,154.2 142.6,153.9 143.1,153.5 143.6,153.2 144,152.9 144.4,152.7 144.9,152.4 145.4,152.2 146.1,152 146.6,151.8 147.1,151.6 147.6,151.4 148.2,151.2 148.8,151 149.3,150.9 150.1,150.7 150.6,150.6 151.1,150.4 151.8,150.3 152.3,150.2 153.1,150.1 153.8,150 154.3,149.9 155.1,149.8 155.8,149.7 156.6,149.7 157.1,149.7 157.8,149.6 158.6,149.6 159.3,149.6 159.8,149.7 160.6,149.8 161.2,149.9 161.8,150.1 162.3,150.3 162.8,150.6 163.2,150.9 163.6,151.4 163.8,151.8 164,152.4 164.1,152.9 164.1,153.4 163.9,154.2 163.6,154.7 163.3,155.1 163,155.4 162.6,155.8 162.1,156.2 161.6,156.4 161.2,156.7 160.8,157 160.6,157.7 160.8,158.4 160.9,158.9 161.1,159.6 161.2,160.2 161.3,160.9 161.4,161.4 161.5,162.2 161.6,162.8 161.6,163.4 161.7,164.2 161.6,164.9 161.6,165.7 161.5,166.2 161.4,166.9 161.3,167.4 161.1,168.2 161,168.7 160.8,169.3 160.6,169.9 160.5,170.4 160.3,171 160.1,171.7 160,172.2 159.8,172.7 159.6,173.4 159.5,173.9 159.3,174.4 159.1,175.1 158.9,175.7 158.7,176.2 158.5,176.7 158.3,177.2 158,177.7 157.7,178.2 157.4,178.7 157.1,179.2 156.8,179.5 156.5,179.9 156.1,180.4 155.8,180.8 155.5,181.2 155.1,181.7 154.8,182 154.4,182.4 154.1,182.8 153.7,183.2 153.3,183.6 153,183.9 152.6,184.3 152.1,184.7 151.7,184.9 151.2,185.2 150.6,185.4 150.1,185.6 149.6,185.7 M160.4,159.2 160.2,158.7 159.9,158.2 159.6,157.7 159.5,157.9 159.6,158.5 159.9,158.9 160.3,159.3 M135.7,171.4 135.7,170.7 135.7,169.9 135.7,169.2 135.4,169.4 135.4,170.2 135.4,170.9 135.6,171.5 M135.9,176.4 135.9,175.7 135.7,175.9 135.8,176.6 M139.6,185.2 139.1,185.1 138.5,184.9 138.1,184.7 137.6,184.2 137.3,183.9 137,183.4 136.7,182.9 136.4,182.4 136.4,181.7 136.5,180.9 136.6,180.4 136.5,179.9 136.3,179.4 136.1,178.9 135.9,178.2 136,177.4 136.1,176.9 136.3,176.4 136.3,175.8 136.1,175.2 135.8,174.8 135.6,174.2 135.7,173.4 135.8,172.9 136.1,172.2 136.1,171.7 136.1,171.2 136,170.4 136,169.7 135.9,168.9 135.9,168.2 135.9,167.4 135.9,166.7 135.9,165.9 136,165.2 136.1,164.7 136.3,164 136.5,163.4 136.6,162.9 136.8,162.2 136.9,161.7 137.2,161.2 137.5,160.7 137.8,160.2 138.1,159.8 138.3,159.3 138.6,158.8 138.9,158.4 139.1,157.9 139.5,157.4 139.8,157.1 140.3,156.8 140.7,156.4 141.1,155.9 141.3,155.5 141.6,155.1 142,154.7 142.3,154.3 142.8,154 143.2,153.7 143.6,153.4 144.1,153.1 144.6,152.8 145.1,152.6 145.6,152.4 146.3,152.3 146.8,152.1 147.3,151.9 147.8,151.7 148.3,151.4 148.9,151.2 149.6,151 150.1,150.9 150.8,150.8 151.3,150.6 152,150.4 152.6,150.3 153.3,150.2 153.8,150.1 154.6,150 155.3,150 155.8,149.8 156.6,149.8 157.3,149.8 158.1,149.8 158.8,149.8 159.6,149.8 160.3,149.9 160.8,150 161.4,150.2 162,150.4 162.3,150.7 162.8,151.1 163.2,151.4 163.5,151.9 163.8,152.4 163.9,152.9 163.9,153.7 163.7,154.2 163.5,154.7 163.1,155.1 162.8,155.4 162.3,155.8 161.8,156 161.1,156.1 160.6,156.2 159.8,156.4 159.4,156.7 159.1,157.2 159,157.7 158.9,158.4 159.1,158.9 159.5,159.4 159.8,159.9 160,160.4 160.2,160.9 160.4,161.4 160.8,161.9 160.9,162.4 161,163.2 161.1,163.7 161.1,164.4 161,164.9 160.9,165.7 160.7,166.2 160.6,166.7 160.3,167.4 160.1,167.9 159.9,168.4 159.8,168.9 159.7,169.7 159.6,170.4 159.5,170.9 159.3,171.4 159.1,171.9 158.8,172.4 158.4,172.9 158.1,173.2 157.6,173.6 157.3,174 157.3,174.5 157.5,175.2 157.5,175.9 157.4,176.7 157.1,177.1 156.8,177.4 156.3,177.9 156.1,178.2 155.8,178.9 155.8,179.4 155.6,180 155.2,180.4 154.8,180.8 154.4,181.2 154.2,181.7 153.8,182 153.5,182.4 153.1,182.8 152.7,183.2 152.3,183.5 151.8,183.8 151.3,184.1 150.8,184.4 150.3,184.6 149.8,184.9 149.1,184.9 148.3,184.9 147.6,184.8 147.1,184.5 146.6,184.3 146,184.2 145.3,184.1 144.8,183.9 144.3,183.6 143.6,183.5 142.8,183.5 142.3,183.8 141.9,184.2 141.6,184.5 141.1,184.8 140.6,185 139.8,185.2 M144.1,167.2 144.4,166.7 144.5,165.9 144.7,165.4 144.8,164.9 144.8,164.4 144.3,164 143.8,163.7 143.3,163.6 143.2,164.2 143.3,164.9 143.4,165.4 143.4,166.2 143.4,166.9 143.8,167.3 M142.6,174.2 142.8,173.7 143,172.9 142.8,172.3 142.4,171.9 142.1,171.9 141.7,172.4 141.7,173.2 141.8,173.9 142.1,174.3 142.6,174.2 M140.3,184.7 139.6,184.8 138.8,184.7 138.3,184.4 138,184.2 137.6,183.7 137.3,183.4 137,182.9 136.8,182.4 136.7,181.7 136.8,181.2 137,180.4 136.8,179.7 136.6,179.2 136.4,178.7 136.3,178.2 136.3,177.5 136.6,176.9 136.8,176.4 136.7,175.7 136.4,175.2 136.1,174.7 135.9,174.2 136,173.4 136.2,172.9 136.4,172.4 136.5,171.7 136.4,170.9 136.3,170.4 136.2,169.7 136.2,168.9 136.3,168.2 136.2,167.4 136.1,166.7 136.2,165.9 136.3,165.2 136.4,164.7 136.6,164 136.7,163.4 136.8,162.9 137,162.2 137.2,161.7 137.5,161.2 137.8,160.7 138.1,160.3 138.3,159.9 138.6,159.4 138.8,158.9 139.1,158.4 139.4,157.9 139.8,157.5 140.3,157.2 140.7,156.9 141.1,156.5 141.3,156.1 141.6,155.6 141.9,155.2 142.3,154.7 142.6,154.4 143.1,154 143.6,153.7 143.9,153.4 144.3,153.2 144.9,152.9 145.6,152.7 146.1,152.7 146.8,152.5 147.3,152.3 147.8,152 148.3,151.7 148.7,151.4 149.3,151.2 149.8,151.1 150.6,151 151.2,150.9 151.8,150.7 152.3,150.5 153,150.4 153.6,150.3 154.3,150.2 154.8,150.2 155.6,150 156.3,150 157.1,150 157.8,150 158.6,150 159.3,150 160.1,150.1 160.6,150.2 161.3,150.4 161.8,150.6 162.2,150.9 162.6,151.3 163,151.7 163.3,152.2 163.5,152.7 163.6,153.2 163.6,153.9 163.4,154.4 163.1,154.9 162.8,155.2 162.3,155.6 161.8,155.7 161.1,155.8 160.3,155.9 159.6,155.9 159.1,156.1 158.6,156.4 158.4,156.9 158.3,157.4 158.2,158.2 158.3,158.8 158.6,159.3 158.8,159.8 159,160.4 159.1,160.9 159.2,161.7 159.5,162.2 159.8,162.7 160,163.2 160.1,163.7 160.1,164.4 160.1,165.2 160,165.7 159.8,166.2 159.6,166.7 159.3,167.4 159.2,167.9 159.1,168.5 159,169.2 159,169.9 158.9,170.7 158.8,171.2 158.5,171.7 158.1,172.1 157.6,172.4 157.1,172.4 156.4,172.7 156.3,173.2 156.2,173.9 156.3,174.7 156.5,175.2 156.7,175.7 156.8,176.4 156.5,176.9 156.1,177.4 155.8,177.7 155.5,178.2 155.2,178.7 154.8,179.2 154.3,179.4 153.8,179.5 153.2,179.7 152.8,180 152.5,180.4 152.2,180.9 152.1,181.4 151.8,182 151.5,182.4 151.2,182.9 150.9,183.4 150.6,183.9 150.3,184.2 149.8,184.5 149.1,184.6 148.3,184.4 147.9,184.2 147.6,183.9 147.1,183.4 146.6,183.2 145.8,183.2 145.1,183.3 144.5,183.2 144,182.9 143.6,182.6 143.2,182.2 142.8,182.2 142.5,182.7 142.2,183.2 141.8,183.7 141.6,184 141.1,184.4 140.6,184.7 M151.3,159.2 151.6,158.7 151.7,158.2 151.4,157.7 150.8,157.4 150.2,157.7 150.1,158 150.3,158.6 150.6,159 151.1,159.3 M143.5,176.7 143.8,176.2 143.7,175.4 143.5,174.9 143.5,174.2 143.6,173.5 143.6,172.9 143.6,172.4 143.4,171.7 143.3,170.9 143.3,170.2 143.3,169.7 143.4,169.2 143.6,168.7 144.1,168.3 144.6,168 144.8,167.7 145.1,167.2 145.2,166.4 145.3,165.7 145.5,165.2 145.7,164.7 145.9,164.2 145.8,163.7 145.2,163.4 144.6,163.2 144.1,163 143.6,162.8 143.1,162.6 142.6,162.9 142.5,163.4 142.5,164.2 142.6,164.9 142.6,165.4 142.5,165.9 142.4,166.7 142.3,167.2 142.1,167.9 142,168.4 141.9,169.2 141.8,169.7 141.7,170.4 141.6,171.1 141.3,171.6 141.1,172.2 141.2,172.9 141.3,173.7 141.4,174.2 141.6,174.8 141.8,175.4 142,175.9 142.3,176.4 142.6,176.7 143.3,176.8 M153.7,167.7 153.6,167.2 153.1,167.4 153.1,167.7 153.7,167.7 M156.1,171.9 156,171.4 155.6,171.1 155.1,171.3 155.1,171.8 155.6,172.1 156.1,171.9 M140.1,184.5 139.3,184.5 138.8,184.3 138.3,184 137.9,183.7 137.6,183.3 137.3,182.9 137.1,182.3 137.1,181.7 137.2,181.2 137.3,180.7 137.4,179.9 137.2,179.4 136.9,178.9 136.7,178.4 136.7,177.7 136.9,177.2 137.1,176.7 137.2,175.9 137,175.4 136.6,174.9 136.3,174.4 136.2,173.9 136.3,173.4 136.6,172.9 136.8,172.4 137,171.7 136.8,171.2 136.6,170.4 136.5,169.9 136.5,169.2 136.5,168.4 136.6,167.9 136.6,167.4 136.5,166.7 136.5,165.9 136.6,165.4 136.7,164.7 136.8,164.2 137,163.4 137.1,162.9 137.3,162.2 137.6,161.7 137.8,161.3 138.1,160.9 138.5,160.4 138.8,159.9 139,159.4 139.2,158.9 139.5,158.4 139.8,158 140.2,157.7 140.6,157.4 141.1,157 141.3,156.6 141.6,156.2 141.9,155.7 142.2,155.2 142.6,154.8 143,154.4 143.3,154.2 143.8,153.8 144.3,153.5 144.8,153.2 145.3,153.1 146.1,153 146.7,152.9 147.3,152.7 147.7,152.4 148.1,152.1 148.6,151.8 149.1,151.5 149.6,151.4 150.3,151.3 151.1,151.2 151.6,151 152.1,150.8 152.8,150.7 153.3,150.6 154.1,150.5 154.8,150.4 155.3,150.3 156.1,150.2 156.8,150.2 157.6,150.2 158.3,150.2 159.1,150.2 159.8,150.2 160.6,150.4 161.1,150.6 161.6,150.8 162.1,151.2 162.3,151.4 162.8,151.9 163.1,152.4 163.3,152.9 163.4,153.4 163.3,153.9 163.1,154.6 162.8,154.9 162.3,155.3 161.8,155.5 161.1,155.6 160.3,155.5 159.6,155.6 158.8,155.6 158.3,155.8 157.8,156 157.3,156.3 156.8,156.5 156.3,156.3 155.8,156.2 155.1,156.1 154.6,156.2 154.1,156.5 154,157.2 154.3,157.7 154.6,158.1 154.9,158.4 155.5,158.7 155.8,158.7 156.6,158.5 157.1,158.9 157.3,159.3 157.6,159.9 157.6,160.4 157.3,160.8 156.6,160.7 155.8,160.7 155.3,160.9 155,161.4 154.8,161.9 154.8,162.4 155.3,162.7 155.8,162.6 156.4,162.4 156.8,162.2 157.3,161.8 157.8,161.9 158.3,162.4 158.6,162.9 158.8,163.3 159.1,163.8 159.2,164.4 159.2,165.2 159.1,165.7 158.8,166.2 158.5,166.7 158.2,167.2 158,167.7 158.1,168.2 158.2,168.9 158.2,169.7 158.2,170.4 158,170.9 157.6,171.3 157.1,171.1 156.6,170.7 156.2,170.4 155.6,170.2 154.8,170.3 154.3,170.5 154,170.9 154,171.7 154.1,172.2 154.3,172.8 154.6,173.3 154.8,173.7 155.1,174.2 155.3,174.7 155.6,175.2 155.9,175.7 156,176.4 155.7,176.9 155.3,177.4 155.1,177.7 154.6,178.1 154.1,178.4 153.6,178.6 153.1,178.8 152.6,179.2 152.3,179.5 152,179.9 151.6,180.3 151.1,180.7 150.8,181 150.6,181.7 150.4,182.2 150.2,182.7 150,183.2 149.6,183.5 148.8,183.6 148.3,183.4 147.9,182.9 147.6,182.5 147.1,182.2 146.6,182 145.8,182 145.1,182 144.7,181.7 144.8,181 145.1,180.5 145.3,180.1 145.6,179.4 145.6,178.9 145.6,178.2 145.5,177.7 145.6,177.2 145.8,176.4 145.8,175.9 145.6,175.4 145.3,175 145,174.7 144.6,174.2 144.4,173.7 144.4,172.9 144.3,172.2 144.3,171.7 144.3,170.9 144.2,170.2 144.3,169.4 144.6,169 144.9,168.7 145.3,168.3 145.6,167.9 145.8,167.2 145.8,166.4 145.9,165.9 146.1,165.4 146.4,164.9 146.8,164.6 147.3,164.2 147.2,163.4 146.9,162.9 146.6,162.6 145.8,162.5 145.1,162.5 144.5,162.4 143.8,162.2 143.3,162.1 142.6,162.1 142.2,162.4 142.1,162.9 142.1,163.7 142.1,164.2 142.1,164.9 142.1,165.7 142,166.2 141.8,166.9 141.7,167.4 141.6,167.9 141.4,168.7 141.3,169.2 141.2,169.9 141.1,170.7 141,171.2 140.7,171.7 140.7,172.4 140.8,173.1 140.9,173.7 141,174.4 141.2,174.9 141.3,175.4 141.6,176.1 141.8,176.7 142,177.2 142.3,177.7 142.6,178 143,178.4 143.2,178.9 143.1,179.6 142.8,179.9 142.4,180.4 142.2,180.9 142,181.4 142,182.2 141.8,182.9 141.6,183.4 141.3,183.8 140.8,184.2 140.3,184.4 M151.1,160.7 151.6,160.4 152.1,160 152.4,159.7 152.6,159.2 152.7,158.4 152.8,157.9 153.1,157.2 153.1,156.9 152.5,156.7 151.8,156.6 151.1,156.6 150.6,156.7 149.8,156.9 149.3,157.2 149,157.4 148.6,157.8 148.3,158.2 148.3,158.9 148.8,159.1 149.3,159.4 149.6,159.8 149.8,160.3 150.1,160.7 150.8,160.8 M152.8,170.9 153.2,170.7 153.4,170.2 153.4,169.4 153.8,168.9 154.1,168.7 154.6,168.3 155.1,167.9 155.3,167.4 154.9,166.9 154.6,166.6 154.2,166.2 153.9,165.7 153.7,165.2 153.4,164.7 153.1,164.9 152.9,165.4 152.6,165.9 152.4,166.4 152.2,166.9 152.1,167.5 152,168.2 151.9,168.9 151.6,169.4 151.5,169.9 151.6,170.7 151.8,171 152.6,171 M140.3,184 139.6,184.1 139,183.9 138.5,183.7 138.1,183.3 137.8,182.9 137.5,182.4 137.5,181.7 137.6,181.2 137.9,180.7 138,179.9 137.8,179.4 137.5,178.9 137.3,178.4 137.3,177.7 137.5,177.2 137.7,176.7 137.7,175.9 137.5,175.4 137.2,174.9 136.8,174.5 136.7,173.9 136.8,173.4 137.1,172.9 137.5,172.4 137.6,171.9 137.5,171.4 137.2,170.9 137,170.4 136.8,169.8 136.8,169.2 136.9,168.7 137,167.9 137,167.2 136.9,166.4 136.9,165.7 137.1,165 137.2,164.4 137.3,163.8 137.4,163.2 137.6,162.7 137.8,162.1 138.1,161.7 138.6,161.2 138.8,160.9 139.1,160.4 139.4,159.9 139.6,159.4 139.8,158.8 140.1,158.4 140.6,157.9 140.9,157.7 141.3,157.2 141.6,156.9 141.9,156.4 142.1,155.9 142.5,155.4 142.8,155 143.2,154.7 143.6,154.4 144.1,154 144.6,153.7 145.1,153.5 145.8,153.4 146.3,153.4 147.1,153.2 147.6,153 148,152.7 148.3,152.4 148.8,152 149.3,151.8 149.8,151.7 150.6,151.6 151.3,151.4 151.8,151.2 152.3,151.1 153.1,151 153.8,151 154.5,150.9 155.1,150.8 155.6,150.7 156.3,150.6 157.1,150.6 157.8,150.5 158.6,150.5 159.3,150.5 160.1,150.6 160.6,150.7 161.1,151 161.6,151.3 162,151.7 162.3,152.1 162.6,152.4 162.9,152.9 163,153.7 162.8,154.3 162.6,154.7 162.1,155 161.6,155.2 160.8,155.2 160.3,155.2 159.6,155.1 158.9,155.2 158.3,155.3 157.6,155.4 157.1,155.5 156.3,155.5 155.8,155.4 155.1,155.3 154.3,155.4 153.8,155.5 153.1,155.7 152.6,155.8 151.8,155.9 151.3,156 150.6,156.1 150.1,156.2 149.5,156.4 149.1,156.7 148.6,157 148.1,157.2 147.6,157.5 147.1,157.8 146.8,158.2 146.6,158.7 146.3,159.2 145.8,159.6 145.3,159.9 145,160.2 144.6,160.7 144.3,161.1 143.8,161.3 143.3,161.4 142.6,161.5 142.1,161.8 141.8,162.2 141.7,162.9 141.7,163.7 141.7,164.4 141.7,165.2 141.6,165.9 141.5,166.4 141.3,167 141.1,167.7 140.9,168.2 140.8,168.7 140.7,169.4 140.6,170.2 140.5,170.7 140.3,171.2 140,171.7 140,172.4 140.3,172.9 140.5,173.4 140.6,174.2 140.6,174.7 140.8,175.4 141,175.9 141.2,176.4 141.4,176.9 141.6,177.6 141.7,178.2 141.6,178.9 141.5,179.4 141.4,180.2 141.4,180.9 141.4,181.7 141.5,182.4 141.3,183 141.1,183.4 140.6,183.9 M152.1,162.5 151.3,162.4 151.6,161.9 152.1,161.5 152.6,161.3 153.1,161.4 153.1,161.9 152.6,162.3 152.1,162.5 M148.8,181.2 148.2,181.2 147.6,180.9 147.2,180.7 147,180.2 147.1,179.6 147.2,178.9 147.1,178.3 147,177.7 147.1,177.2 147.3,176.7 147.3,176.1 147,175.7 146.6,175.2 146.3,174.8 146.1,174.4 145.8,173.8 145.8,173.2 146,172.7 146.3,172.4 146.6,171.9 146.8,171.4 147.2,170.9 147.6,170.5 147.9,170.2 148.2,169.7 148.5,169.2 148.9,168.9 149.6,168.9 150,169.2 150.1,169.7 150.1,170.3 150,170.9 150,171.7 150,172.4 150.1,172.9 150.4,173.4 150.8,173.8 151.3,173.9 151.8,173.9 152.4,173.9 152.9,174.2 153.3,174.7 153.6,174.9 154.1,175.3 154.5,175.7 154.7,176.2 154.4,176.7 153.8,176.9 153.3,177.1 152.8,177.2 152.1,177.2 151.6,176.9 151.3,176.7 151.1,176.2 150.9,175.4 150.7,174.9 150.3,174.5 149.8,174.2 149.3,174.1 149,174.4 148.8,175 148.7,175.7 149,176.2 149.4,176.4 149.8,176.8 150.1,177.3 150.3,177.9 150.5,178.4 150.7,178.9 150.3,179.3 149.7,179.4 149.2,179.7 149.2,180.4 149.1,181 M139.1,171 138.3,171 137.8,170.8 137.5,170.4 137.2,169.9 137.2,169.2 137.3,168.4 137.4,167.9 137.4,167.2 137.4,166.4 137.4,165.7 137.5,164.9 137.6,164.4 137.8,163.7 137.9,163.2 138.1,162.6 138.4,162.2 138.8,161.8 139.2,161.4 139.5,160.9 139.8,160.4 140,159.9 140.2,159.4 140.4,158.9 140.7,158.4 141.1,158.1 141.5,157.7 141.8,157.2 142.1,156.7 142.3,156.3 142.6,155.9 142.9,155.4 143.3,155 143.7,154.7 144.1,154.4 144.6,154 145.1,153.9 145.8,153.8 146.6,153.8 147.1,153.6 147.6,153.4 148.1,153.1 148.5,152.7 148.8,152.4 149.3,152.1 150.1,152 150.7,151.9 151.3,151.8 151.8,151.6 152.4,151.4 153.1,151.3 153.7,151.4 154.3,151.5 154.9,151.4 155.5,151.2 156.1,151 156.8,151 157.6,150.9 158.1,150.9 158.8,150.8 159.6,150.9 160.1,151 160.7,151.2 161.1,151.4 161.6,151.9 161.9,152.2 162.3,152.7 162.5,153.2 162.6,153.7 162.5,154.2 162.1,154.6 161.6,154.8 160.8,154.9 160.1,154.8 159.3,154.8 158.6,154.8 157.8,154.9 157.1,154.9 156.3,154.8 155.6,154.7 154.8,154.8 154.1,154.9 153.6,155 152.8,155.1 152.3,155.2 151.6,155.3 151.1,155.4 150.3,155.6 149.8,155.8 149.3,156 148.8,156.3 148.3,156.6 147.8,156.8 147.3,156.9 146.8,157.2 146.4,157.7 146.1,158.2 145.8,158.6 145.5,158.9 145.1,159.3 144.6,159.5 144.1,159.9 143.8,160.2 143.3,160.7 142.8,160.9 142.3,161.1 141.8,161.4 141.6,161.7 141.3,162.4 141.3,162.9 141.3,163.7 141.3,164.4 141.2,165.2 141.2,165.9 141.1,166.4 140.8,167.2 140.6,167.7 140.4,168.2 140.3,168.7 140.2,169.4 140.1,170.1 139.8,170.6 139.3,170.9 M140.3,183.5 139.6,183.7 138.9,183.4 138.6,183.2 138.1,182.7 138,182.2 138.1,181.4 138.3,180.9 138.6,180.6 138.8,180.2 138.8,179.6 138.6,179.2 138.2,178.7 138,178.2 138,177.4 138.2,176.9 138.2,176.2 138.1,175.7 137.8,175.1 137.6,174.7 137.3,173.9 137.4,173.7 137.8,173.2 138.1,172.9 138.6,172.7 139.1,172.7 139.6,172.9 139.9,173.4 140.1,173.9 140.2,174.7 140.3,175.4 140.5,175.9 140.7,176.4 140.9,176.9 141.1,177.6 141.1,178.1 140.9,178.7 140.6,179.2 140.3,179.6 140.3,180.2 140.6,180.7 140.8,181.2 140.9,181.7 141,182.4 140.8,183 140.5,183.4 M139.1,170.3 138.3,170.4 137.8,170.2 137.5,169.7 137.5,168.9 137.7,168.4 137.8,167.9 137.9,167.2 137.8,166.7 137.8,165.9 137.9,165.4 138.1,164.7 138.2,164.2 138.3,163.6 138.5,162.9 138.8,162.5 139.1,162.2 139.6,161.7 139.8,161.3 140.1,160.9 140.4,160.4 140.6,159.8 140.8,159.2 141.1,158.8 141.3,158.4 141.7,157.9 142.1,157.4 142.3,156.9 142.6,156.5 142.8,156 143.1,155.7 143.5,155.2 143.8,154.9 144.3,154.5 144.8,154.2 145.3,154.1 146.1,154.1 146.8,154 147.3,153.9 147.8,153.7 148.3,153.3 148.8,152.9 149.1,152.7 149.6,152.4 150.3,152.3 151.1,152.2 151.6,152.1 152.1,151.9 152.8,151.7 153.6,151.8 154.1,152 154.6,152.2 155.1,152.2 155.6,151.9 156.1,151.6 156.8,151.4 157.3,151.3 158,151.2 158.6,151.1 159.3,151.1 159.8,151.2 160.4,151.4 160.8,151.7 161.3,152.1 161.6,152.4 162,152.9 162.2,153.4 162.1,154 161.6,154.4 161.1,154.5 160.3,154.5 159.6,154.5 158.8,154.5 158.1,154.5 157.3,154.5 156.8,154.3 156.3,154.1 155.6,154 155.1,154.2 154.4,154.4 153.8,154.6 153.1,154.6 152.3,154.6 151.8,154.7 151.1,154.9 150.6,155 150.1,155.2 149.6,155.5 149.1,155.7 148.6,156 148.1,156.3 147.5,156.4 146.8,156.6 146.4,156.9 146.1,157.4 145.8,157.9 145.6,158.3 145.1,158.7 144.7,158.9 144.2,159.2 143.8,159.4 143.3,159.8 142.9,160.2 142.5,160.4 142,160.7 141.6,161 141.2,161.4 141.1,161.9 141,162.7 140.9,163.4 140.9,164.2 140.9,164.9 140.9,165.7 140.8,166.2 140.6,166.9 140.3,167.4 140.1,167.8 139.9,168.4 139.8,168.9 139.7,169.7 139.3,170.1 M140.1,178.8 139.3,178.8 138.8,178.4 138.6,177.9 138.6,177.2 138.8,176.4 138.6,175.7 138.4,175.2 138.2,174.7 138.2,173.9 138.6,173.6 139.3,173.6 139.6,173.9 139.7,174.7 139.7,175.4 139.9,175.9 140.2,176.4 140.5,176.9 140.6,177.4 140.6,178.1 140.3,178.6 M140.1,183.2 139.3,183.2 138.9,182.9 138.6,182.5 138.4,181.9 138.6,181.4 139.1,181 139.6,180.9 140.1,181.1 140.3,181.4 140.6,182 140.6,182.5 140.3,183 M161.1,154.2 160.3,154.3 159.6,154.3 158.8,154.2 158.1,154.2 157.6,154.1 157.1,153.8 156.8,153.4 156.6,152.7 156.8,152.1 157.3,151.8 157.8,151.5 158.3,151.4 159.1,151.4 159.6,151.4 160.2,151.7 160.6,151.9 161.1,152.3 161.4,152.7 161.7,153.2 161.6,153.9 161.3,154.2 M142.1,159.9 141.3,159.9 141.3,159.6 141.6,159 141.8,158.6 142.1,158.2 142.3,157.7 142.6,157.1 142.8,156.6 143.1,156.1 143.4,155.7 143.8,155.2 144.2,154.9 144.6,154.6 145.3,154.4 145.6,154.4 146.3,154.5 146.8,154.4 147.4,154.2 148,153.9 148.4,153.7 148.8,153.4 149.3,153 149.8,152.8 150.6,152.8 151.3,152.7 151.8,152.4 152.3,152.2 152.8,152.1 153.4,152.2 154,152.4 154.5,152.7 154.8,152.9 154.9,153.7 154.6,153.9 154,154.2 153.3,154.3 152.7,154.2 152.1,154 151.6,153.8 151,153.9 150.6,154.2 150.1,154.7 149.7,154.9 149.3,155.2 148.8,155.5 148.3,155.8 147.8,156 147.1,156 146.5,156.2 146.1,156.6 145.8,157.1 145.6,157.6 145.3,158 144.9,158.4 144.4,158.7 143.8,158.9 143.3,159.1 142.8,159.4 142.5,159.7 142.1,159.9 M138.8,169.8 138.1,169.7 137.9,169.2 138.1,168.6 138.3,167.9 138.3,167.4 138.3,166.9 138.2,166.2 138.3,165.5 138.5,164.9 138.8,164.4 139,163.9 139.1,163.4 139.3,162.9 139.7,162.4 140.1,162 140.4,161.9 140.5,162.7 140.5,163.4 140.5,164.2 140.5,164.9 140.5,165.7 140.4,166.4 140.2,166.9 139.8,167.4 139.6,167.8 139.4,168.4 139.3,169.1 139.1,169.6 M139.6,178.2 139.3,177.9 139.2,177.2 139.6,176.8 140.1,177.1 140.2,177.7 139.8,178.1 M139.8,182.7 139.3,182.6 139,182.2 139.2,181.7 139.8,181.7 140.1,182 140.1,182.5 M160.6,154 159.8,154 159.1,154 158.3,153.9 157.8,153.8 157.4,153.4 157.2,152.9 157.3,152.4 157.7,151.9 158.3,151.7 158.8,151.6 159.5,151.7 160.1,151.9 160.4,152.2 160.8,152.5 161.1,152.9 161.2,153.7 160.8,153.9 M154.1,153.7 153.3,153.8 152.8,153.7 152.3,153.3 152.3,152.8 152.8,152.5 153.6,152.7 154,152.9 154.3,153.4 M143.6,158.5 143.1,158.4 142.8,157.9 142.9,157.4 143.1,156.8 143.3,156.3 143.6,155.9 144,155.4 144.3,155.1 144.8,154.8 145.6,154.8 146.2,154.9 146.7,154.9 147.2,154.7 147.7,154.4 148.3,154.2 148.8,154 149.3,153.9 149.4,154.4 149.1,154.8 148.6,155.2 148.1,155.4 147.6,155.6 146.8,155.4 146.6,155.4 146.1,155.9 145.8,156.3 145.6,156.9 145.3,157.4 145.1,157.8 144.6,158.2 144.1,158.4 143.6,158.5 M139.3,167.2 138.8,167 138.7,166.4 138.8,165.7 139,165.2 139.3,164.8 139.6,164.7 140.1,165.1 140.2,165.7 140.1,166.4 139.8,166.8 139.3,167.2 M160.1,153.7 159.3,153.8 158.6,153.7 158.1,153.5 157.8,153.2 157.8,152.4 158.1,152.1 158.6,151.9 159.3,151.9 159.8,152.1 160.3,152.4 160.6,152.8 160.7,153.4 160.3,153.7 M144.6,157.7 143.8,157.9 143.3,157.4 143.5,156.7 143.7,156.2 144.1,155.7 144.4,155.4 144.9,155.2 145.3,155.2 145.6,155.7 145.5,156.2 145.3,156.7 145.1,157.2 144.7,157.7 M159.6,153.5 158.8,153.4 158.3,153.2 158.2,152.7 158.6,152.2 159.3,152.2 159.8,152.5 160.2,152.9 159.8,153.4 M144.3,157.2 143.9,156.9 144.1,156.4 144.4,155.9 145,155.9 144.9,156.7 144.6,157.1" fill="none" stroke="#111" stroke-width="0.45"/>
<g fill="#333"><circle cx="129.7" cy="170.8" r="0.42"/><circle cx="133.8" cy="153.7" r="0.42"/><circle cx="129.3" cy="169.9" r="0.42"/><circle cx="168.1" cy="177.6" r="0.42"/><circle cx="121.3" cy="171.5" r="0.42"/><circle cx="165.6" cy="161.1" r="0.42"/><circle cx="156.9" cy="190.8" r="0.42"/><circle cx="146.1" cy="196.1" r="0.42"/><circle cx="151.1" cy="148.4" r="0.42"/><circle cx="149.1" cy="147.4" r="0.42"/><circle cx="166.1" cy="146.6" r="0.42"/><circle cx="129.8" cy="202.2" r="0.42"/><circle cx="155.4" cy="199.6" r="0.42"/><circle cx="134.2" cy="150.4" r="0.42"/><circle cx="146.3" cy="201.4" r="0.42"/><circle cx="139.2" cy="149.4" r="0.42"/><circle cx="164.9" cy="169.2" r="0.42"/><circle cx="126" cy="168.6" r="0.42"/><circle cx="156.8" cy="198.2" r="0.42"/><circle cx="154.3" cy="144.5" r="0.42"/><circle cx="126.4" cy="156" r="0.42"/><circle cx="163.4" cy="175.7" r="0.42"/><circle cx="144.8" cy="145.4" r="0.42"/><circle cx="139.6" cy="150.7" r="0.42"/><circle cx="172.2" cy="166.2" r="0.42"/><circle cx="165.6" cy="196.3" r="0.42"/><circle cx="126.5" cy="188.1" r="0.42"/><circle cx="130" cy="193.8" r="0.42"/><circle cx="127.2" cy="188.1" r="0.42"/><circle cx="131" cy="183.7" r="0.42"/><circle cx="134.7" cy="194.9" r="0.42"/><circle cx="130.7" cy="181.6" r="0.42"/><circle cx="131.1" cy="185.8" r="0.42"/><circle cx="135.1" cy="154.9" r="0.42"/><circle cx="149.8" cy="148.3" r="0.42"/><circle cx="157.2" cy="187.8" r="0.42"/><circle cx="144.7" cy="148.2" r="0.42"/><circle cx="155.2" cy="198.5" r="0.42"/><circle cx="164.8" cy="175.5" r="0.42"/><circle cx="167" cy="156.8" r="0.42"/><circle cx="149.9" cy="199.3" r="0.42"/><circle cx="144.5" cy="147.8" r="0.42"/><circle cx="173.7" cy="169.8" r="0.42"/><circle cx="150.9" cy="146.2" r="0.42"/><circle cx="141.6" cy="201.2" r="0.42"/><circle cx="165.3" cy="174" r="0.42"/><circle cx="169.1" cy="191.6" r="0.42"/><circle cx="121.8" cy="153.6" r="0.42"/><circle cx="130.1" cy="191.7" r="0.42"/><circle cx="122.8" cy="183.5" r="0.42"/><circle cx="127.6" cy="178.9" r="0.42"/><circle cx="162" cy="200.1" r="0.42"/><circle cx="165.5" cy="163.9" r="0.42"/><circle cx="129.3" cy="162.8" r="0.42"/><circle cx="162.3" cy="182.5" r="0.42"/><circle cx="160.6" cy="194" r="0.42"/><circle cx="130.6" cy="157.1" r="0.42"/><circle cx="121.1" cy="180.9" r="0.42"/><circle cx="143.7" cy="149.5" r="0.42"/><circle cx="127.6" cy="172.4" r="0.42"/><circle cx="124.8" cy="189" r="0.42"/><circle cx="136.5" cy="145.5" r="0.42"/><circle cx="119" cy="185.5" r="0.42"/><circle cx="155.5" cy="143.4" r="0.42"/><circle cx="154" cy="200.7" r="0.42"/><circle cx="175.2" cy="166.3" r="0.42"/><circle cx="132.8" cy="162.2" r="0.42"/><circle cx="131.9" cy="184.6" r="0.42"/><circle cx="129.6" cy="170.4" r="0.42"/><circle cx="177.7" cy="185.4" r="0.42"/><circle cx="155.1" cy="146" r="0.42"/><circle cx="128.4" cy="173.1" r="0.42"/><circle cx="122.6" cy="173" r="0.42"/><circle cx="148.8" cy="199.1" r="0.42"/><circle cx="150.9" cy="144.5" r="0.42"/><circle cx="129.3" cy="165.5" r="0.42"/><circle cx="131.3" cy="177.9" r="0.42"/><circle cx="121.9" cy="172.4" r="0.42"/><circle cx="145.5" cy="145.6" r="0.42"/><circle cx="166" cy="175.1" r="0.42"/><circle cx="144.8" cy="149.8" r="0.42"/><circle cx="146.5" cy="148.9" r="0.42"/><circle cx="147" cy="196.5" r="0.42"/><circle cx="163.2" cy="148.9" r="0.42"/><circle cx="167.1" cy="165.4" r="0.42"/><circle cx="130.5" cy="187.1" r="0.42"/><circle cx="129.7" cy="183.7" r="0.42"/><circle cx="165.1" cy="172.3" r="0.42"/><circle cx="119.8" cy="192.3" r="0.42"/><circle cx="125.4" cy="166.3" r="0.42"/><circle cx="130.3" cy="177.1" r="0.42"/><circle cx="135.1" cy="192.8" r="0.42"/><circle cx="130.5" cy="181.5" r="0.42"/><circle cx="163.6" cy="178.7" r="0.42"/><circle cx="166.2" cy="161.9" r="0.42"/><circle cx="124.2" cy="172.9" r="0.42"/><circle cx="168.2" cy="161.1" r="0.42"/><circle cx="130.1" cy="186.8" r="0.42"/><circle cx="132.1" cy="160.2" r="0.42"/><circle cx="129.3" cy="166.4" r="0.42"/><circle cx="127.6" cy="187.7" r="0.42"/><circle cx="174.6" cy="168.9" r="0.42"/><circle cx="121.5" cy="157.4" r="0.42"/><circle cx="154.8" cy="193.3" r="0.42"/><circle cx="133.9" cy="160.3" r="0.42"/><circle cx="129.5" cy="194.7" r="0.42"/><circle cx="159.4" cy="190.2" r="0.42"/><circle cx="165.8" cy="164.9" r="0.42"/><circle cx="126.1" cy="184.2" r="0.42"/><circle cx="156.1" cy="144.1" r="0.42"/><circle cx="123.2" cy="161" r="0.42"/><circle cx="155.5" cy="195.4" r="0.42"/><circle cx="118.2" cy="174.5" r="0.42"/><circle cx="118.4" cy="172.8" r="0.42"/><circle cx="130.5" cy="180.4" r="0.42"/><circle cx="129.1" cy="181.5" r="0.42"/><circle cx="124" cy="174.6" r="0.42"/><circle cx="172.6" cy="162.9" r="0.42"/><circle cx="171.1" cy="148.4" r="0.42"/><circle cx="178.2" cy="154.1" r="0.42"/><circle cx="125.9" cy="154.5" r="0.42"/><circle cx="170.7" cy="163.7" r="0.42"/><circle cx="148.5" cy="203.7" r="0.42"/><circle cx="168.7" cy="158.3" r="0.42"/><circle cx="166.2" cy="164.9" r="0.42"/><circle cx="118.4" cy="159.7" r="0.42"/><circle cx="130" cy="174.3" r="0.42"/><circle cx="132" cy="200.1" r="0.42"/><circle cx="147.8" cy="196.8" r="0.42"/><circle cx="133.3" cy="159.9" r="0.42"/><circle cx="174.8" cy="152.4" r="0.42"/><circle cx="150.7" cy="196.6" r="0.42"/><circle cx="126.1" cy="168.4" r="0.42"/><circle cx="162.6" cy="182" r="0.42"/><circle cx="140.8" cy="145.8" r="0.42"/><circle cx="123.4" cy="195.9" r="0.42"/><circle cx="135.1" cy="155.6" r="0.42"/><circle cx="129" cy="168.4" r="0.42"/><circle cx="163.8" cy="149" r="0.42"/><circle cx="167.7" cy="163" r="0.42"/></g>
</g>
<g font-size="2.6" fill="#777" text-anchor="end"><text x="115.2" y="144.3">10<tspan font-size="1.8" dy="-1">4</tspan></text><text x="115.2" y="159.3">10<tspan font-size="1.8" dy="-1">3</tspan></text><text x="115.2" y="174.3">10<tspan font-size="1.8" dy="-1">2</tspan></text><text x="115.2" y="189.3">10<tspan font-size="1.8" dy="-1">1</tspan></text><text x="115.2" y="204.3">10<tspan font-size="1.8" dy="-1">0</tspan></text></g>
<g font-size="2.6" fill="#777" text-anchor="middle"><text x="117.7" y="208.4">10<tspan font-size="1.8" dy="-1">0</tspan></text><text x="132.9" y="208.4">10<tspan font-size="1.8" dy="-1">1</tspan></text><text x="148.1" y="208.4">10<tspan font-size="1.8" dy="-1">2</tspan></text><text x="163.3" y="208.4">10<tspan font-size="1.8" dy="-1">3</tspan></text><text x="178.5" y="208.4">10<tspan font-size="1.8" dy="-1">4</tspan></text></g>
<path d="M117.7,204.8v-1M132.9,204.8v-1M148.1,204.8v-1M163.3,204.8v-1M178.5,204.8v-1M116.2,143.3h1M116.2,158.3h1M116.2,173.3h1M116.2,188.3h1M116.2,203.3h1" stroke="#777" stroke-width="0.5"/>
<rect x="17.2" y="218.5" width="63.8" height="63.1" fill="#fff" stroke="#888" stroke-width="0.8"/>
<clipPath id="cp_p12"><rect x="17.2" y="218.5" width="63.8" height="63.1"/></clipPath>
<g clip-path="url(#cp_p12)">
<path d="M48.8,256.9 48.1,256.9 47.6,256.9 46.8,256.7 46.3,256.5 45.8,256.3 45.3,256 44.8,255.6 44.5,255.4 44.1,255 43.8,254.6 43.3,254.1 43.1,253.7 42.8,253.2 42.6,252.6 42.5,252.1 42.4,251.4 42.3,250.6 42.3,250.1 42.3,249.4 42.3,248.6 42.2,247.9 42.2,247.1 42.2,246.4 42.2,245.6 42.2,244.9 42.1,244.1 42.1,243.4 42.1,242.9 42,242.1 42,241.4 42,240.6 42,239.9 42,239.1 42,238.4 41.9,237.6 41.9,236.9 41.9,236.1 42,235.4 42.1,234.9 42.3,234.2 42.5,233.6 42.7,233.1 43,232.6 43.2,232.1 43.5,231.6 43.7,231.1 44,230.6 44.3,230.1 44.6,229.8 45,229.4 45.4,229.1 45.9,228.9 46.6,228.7 47.1,228.6 47.8,228.5 48.6,228.4 49.1,228.4 49.8,228.3 50.6,228.2 51.3,228.2 51.8,228.1 52.6,228 53.3,228 54.1,227.9 54.6,227.9 55.3,227.8 56.1,227.7 56.8,227.6 57.3,227.6 58.1,227.5 58.8,227.5 59.5,227.6 60.1,227.8 60.6,228.1 60.9,228.4 61.2,228.9 61.4,229.4 61.6,230 61.6,230.6 61.6,231.4 61.6,232.1 61.6,232.6 61.5,233.4 61.5,234.1 61.4,234.9 61.4,235.6 61.3,236.4 61.3,236.9 61.2,237.6 61.2,238.4 61.2,239.1 61.1,239.9 61.1,240.6 61,241.1 61,241.9 60.9,242.6 60.9,243.4 60.9,244.1 60.8,244.9 60.8,245.4 60.7,246.1 60.7,246.9 60.6,247.6 60.6,248.4 60.5,248.9 60.4,249.6 60.2,250.1 59.9,250.6 59.6,251.1 59.3,251.4 58.8,251.8 58.5,252.1 58.1,252.5 57.7,252.9 57.3,253.3 57,253.6 56.6,254.1 56.3,254.4 55.8,254.8 55.5,255.1 55.1,255.5 54.6,255.8 54.1,256.1 53.6,256.3 53.1,256.4 52.3,256.5 51.6,256.6 51.1,256.7 50.3,256.8 49.6,256.8 49,256.9Z M45.8,231.1 46.3,230.9 46.6,230.5 46.6,229.9 46.4,229.4 46.1,229.5 45.6,229.7 45.2,230.1 44.8,230.5 44.5,230.9 44.8,231.2 45.6,231.2Z M60.8,234.6 61.3,234.1 61.2,233.4 60.9,233.6 60.8,234.1 60.8,234.7Z M42.6,236.4 42.8,235.9 42.9,235.1 42.8,235.4 42.4,235.9 42.6,236.4Z M53.6,239.6 54.1,239.3 54.3,238.6 54.3,237.9 54.1,237.1 53.9,236.6 53.8,236.1 53.3,236.1 53,236.6 52.6,237.1 52.3,237.5 52.1,238 52,238.6 52.2,239.1 52.6,239.4 53.2,239.6 53.6,239.6Z M42.9,242.4 43.1,241.8 43.2,241.1 43.4,240.6 43.5,239.9 43.1,239.4 42.8,239.4 42.7,240.1 42.7,240.9 42.7,241.6 42.8,242.4Z M52.1,244.9 52.2,244.1 51.8,243.8 51.3,244 51.1,244.6 51.6,245.1 52.1,244.9Z M48.6,248.4 49.1,248.1 49.2,247.4 48.8,247 48.3,246.6 47.8,246.4 47.3,246.2 46.8,246.1 46.3,245.7 46,245.4 45.6,245.1 45.1,245.3 44.9,245.9 45,246.6 45.3,247 45.8,247.3 46.3,247.5 46.8,247.8 47.3,248.1 47.8,248.3 48.3,248.4Z M52.6,249.6 52.6,248.9 52.1,248.7 51.7,249.1 51.8,249.7 52.6,249.7Z M55.3,253.4 55.8,253.1 56.3,253.1 56.8,253 57.2,252.6 57.3,252.2 56.6,252.3 56.1,252 55.6,251.7 55.1,251.9 54.8,252.4 54.8,253.1 55.1,253.5Z M54.4,255.1 54.9,254.9 55.3,254.4 55.1,254.3 54.7,254.6 54.3,255 54.4,255.1Z M50.5,256.1 51.1,256 51.8,256 52.4,255.9 52.1,255.6 51.6,255.2 51.1,255.1 50.6,255.1 50.1,255.4 49.8,255.9 50.1,256.3Z" fill="#888" fill-opacity="0.35" stroke="none"/>
<path d="M47.3,255.4 46.6,255.5 45.8,255.4 45.3,255.2 45,254.9 44.6,254.5 44.3,254.1 44.1,253.7 44.6,253.4 45.1,253.1 45.4,252.9 45.8,252.4 45.8,252 45.3,251.6 44.8,251.4 44.3,251.3 43.6,251.2 43.3,250.9 43.2,250.1 43.6,249.7 43.9,249.4 44.3,249.1 44.8,248.6 45.2,248.4 45.8,248.2 46.6,248.3 47.1,248.6 47.6,248.8 48.1,249.1 48.6,249.2 49.1,249 49.6,248.7 50,248.4 50.3,247.9 50,247.4 49.6,246.9 49.2,246.6 48.8,246.4 48.3,246.1 47.8,245.9 47.3,245.6 46.8,245.3 46.5,244.9 46.3,244.3 46.3,243.8 46.4,243.1 46.3,242.6 45.8,242.1 45.3,242 44.7,241.9 44.3,241.5 44.3,240.9 44.5,240.4 44.8,240 45.6,240 46.1,240.3 46.8,240.3 47.3,239.9 47.6,239.4 47.3,238.7 46.8,238.6 46.1,238.5 45.3,238.6 44.8,238.7 44.2,238.6 43.7,238.4 43.4,237.9 43.3,237.4 43.5,236.9 43.8,236.5 44.1,235.9 43.9,235.1 43.7,234.6 43.7,233.9 44,233.4 44.6,233.2 45.1,233.6 45.3,234.1 45.6,234.5 46.1,234.8 46.8,234.7 47.2,234.4 47.3,233.6 47.1,232.9 46.9,232.4 47.1,231.7 47.3,231.1 47.5,230.6 47.7,230.1 48,229.6 48.6,229.5 49.3,229.4 49.8,229.4 50.6,229.1 51.1,229 51.6,228.8 52.3,228.8 52.8,228.6 53.6,228.6 54.2,228.6 54.8,228.8 55.3,229 56.1,229 56.8,228.9 57.3,228.7 57.8,228.6 58.6,228.4 59.1,228.3 59.8,228.4 60.1,228.6 60.3,229.1 60.4,229.9 60.5,230.6 60.7,231.1 60.8,231.9 60.7,232.6 60.6,233.1 60.3,233.8 60.1,234.4 60.1,234.8 60.3,235.4 60.6,235.7 60.8,236.4 60.8,236.6 60.6,237.4 60.3,237.7 60.1,238.3 60.1,238.6 60.3,239.3 60.5,239.9 60.6,240.6 60.5,241.4 60.4,242.1 60.4,242.9 60.3,243.4 60.1,244.1 59.9,244.6 59.8,245.1 59.9,245.6 60.1,246.2 60.2,246.9 60.2,247.6 60.1,248.4 59.8,248.7 59.3,248.9 58.9,249.4 58.8,249.9 58.7,250.6 58.4,251.1 58,251.4 57.3,251.5 56.7,251.4 56.2,251.1 55.6,250.9 55.2,250.9 54.8,251.1 54.5,251.6 54.3,252.1 54.1,252.9 54,253.4 53.8,254.1 53.6,254.4 53.1,254.7 52.3,254.7 51.8,254.5 51.2,254.4 50.6,254.3 49.8,254.4 49.3,254.5 48.8,254.7 48.3,255 47.8,255.2 47.3,255.4Z M55.3,232.6 55.4,232.1 55.1,231.7 54.8,231.6 54.5,232.1 54.7,232.6 55.3,232.6Z M51.7,233.4 52.1,233.1 52.1,232.6 51.6,232.2 51.1,232.4 50.9,233.1 51.3,233.4Z M50.1,236.6 50.1,235.9 50.1,235.6 50.2,234.9 50.1,234.1 49.7,234.1 49.3,234.4 49,234.9 49.1,235.5 49.3,236 49.6,236.5 50.1,236.7Z M54.2,240.4 54.6,240.1 54.9,239.6 55.1,238.9 55.1,238.1 55,237.4 54.8,236.8 54.7,236.1 54.6,235.6 54.3,235 53.8,234.7 53.2,234.9 52.8,235.2 52.5,235.6 52.1,236.1 51.8,236.4 51.3,236.8 50.9,237.1 50.8,237.7 50.6,238.4 50.4,238.9 50.3,239.4 50.6,239.8 51.1,239.9 51.8,240 52.3,240.2 52.8,240.4 53.6,240.5 54.2,240.4Z M43.8,245.8 43.4,245.4 43.3,244.9 43.3,244.1 43.5,243.6 43.8,243.2 44.3,243.1 44.7,243.4 44.9,243.9 44.7,244.4 44.4,244.9 44.1,245.4 43.8,245.8Z M50.3,252.4 50.6,252.1 50.9,251.6 51.1,251.1 51.6,250.9 52.3,250.6 52.8,250.4 53.1,250.1 53.6,249.7 53.8,249.1 53.4,248.6 53.1,248.3 52.7,247.9 52.5,247.4 52.4,246.6 52.6,246 52.8,245.4 52.9,244.9 53,244.1 52.9,243.4 52.6,243.1 51.8,243 51.3,243.2 50.8,243.4 50.5,243.9 50.5,244.6 50.7,245.1 51.1,245.6 51.3,246 51.7,246.4 51.6,247.1 51.3,247.5 51,247.9 50.7,248.4 50.6,249.1 50.6,249.7 50.3,250.1 49.6,250.3 48.8,250.2 48.1,250.2 47.6,250.5 47.2,250.9 46.8,251.3 46.5,251.6 46.6,252.1 47.3,252.3 48.1,252.3 48.7,252.4 49.3,252.5 50.1,252.5Z M58.2,246.9 58.5,246.4 58.3,245.9 57.6,245.8 57.3,246.1 57.3,246.7 57.8,247Z" fill="#444" fill-opacity="0.35" stroke="none"/>
<path d="M51.3,273.4 50.6,273.5 49.8,273.4 49.3,273.4 48.6,273.2 48.1,273.1 47.5,272.9 47,272.6 46.4,272.4 46,272.1 45.5,271.9 45.1,271.6 44.6,271.3 44.1,271 43.6,270.6 43.2,270.4 42.8,270.1 42.3,269.7 41.9,269.4 41.5,269.1 41.1,268.7 40.6,268.4 40.3,268.1 39.8,267.6 39.6,267.4 39.1,266.9 38.8,266.5 38.6,266.1 38.3,265.6 38.1,265.1 37.8,264.4 37.7,263.9 37.5,263.4 37.4,262.6 37.3,262.1 37.2,261.4 37.1,260.7 37,260.1 36.9,259.4 36.8,258.7 36.8,258.1 36.7,257.4 36.6,256.6 36.5,256.1 36.5,255.4 36.4,254.6 36.3,253.9 36.3,253.4 36.2,252.6 36.1,251.9 36,251.4 36,250.6 35.9,249.9 35.8,249.4 35.8,248.6 35.7,247.9 35.7,247.1 35.7,246.4 35.8,245.6 35.9,245.1 36,244.4 36.1,243.8 36.2,243.1 36.3,242.4 36.4,241.9 36.5,241.1 36.6,240.5 36.7,239.9 36.8,239.1 36.9,238.6 37,237.9 37.1,237.2 37.2,236.6 37.3,235.9 37.4,235.4 37.5,234.6 37.6,234.1 37.7,233.4 37.9,232.9 38.1,232.2 38.3,231.6 38.6,231.2 38.8,230.7 39.1,230.3 39.4,229.9 39.8,229.4 40.1,229 40.4,228.6 40.8,228.1 41.1,227.8 41.4,227.4 41.8,226.9 42.1,226.6 42.6,226.2 43,225.9 43.4,225.6 43.8,225.4 44.4,225.1 45.1,224.9 45.6,224.8 46.3,224.7 47,224.6 47.6,224.6 48.3,224.5 49.1,224.4 49.8,224.4 50.3,224.4 51.1,224.3 51.8,224.2 52.6,224.2 53.3,224.1 53.8,224.1 54.6,224 55.3,224 56.1,223.9 56.7,223.9 57.3,223.8 58.1,223.8 58.8,223.7 59.6,223.7 60.3,223.6 60.8,223.6 61.6,223.6 62.1,223.6 62.8,223.7 63.3,223.9 63.9,224.1 64.3,224.4 64.8,224.9 65.1,225.2 65.4,225.6 65.6,226.1 65.8,226.8 66,227.4 66.1,227.9 66.3,228.6 66.4,229.1 66.6,229.9 66.7,230.4 66.8,231 67,231.6 67.1,232.2 67.2,232.9 67.3,233.4 67.4,234.1 67.5,234.9 67.6,235.4 67.6,236.1 67.6,236.9 67.6,237.6 67.6,238.4 67.6,238.9 67.5,239.6 67.5,240.4 67.5,241.1 67.5,241.9 67.5,242.6 67.5,243.4 67.5,244.1 67.4,244.9 67.4,245.6 67.4,246.4 67.4,247.1 67.3,247.9 67.4,248.6 67.4,249.4 67.4,250.1 67.4,250.9 67.3,251.6 67.3,252.3 67.3,252.9 67.3,253.6 67.3,254.4 67.3,255.1 67.3,255.9 67.3,256.6 67.2,257.4 67.1,258.1 67,258.6 66.8,259.1 66.6,259.8 66.4,260.4 66.1,260.9 65.9,261.4 65.7,261.9 65.5,262.4 65.2,262.9 65,263.4 64.7,263.9 64.5,264.4 64.2,264.9 64,265.4 63.7,265.9 63.5,266.4 63.2,266.9 62.9,267.4 62.6,267.9 62.3,268.2 62,268.6 61.6,269.1 61.3,269.4 60.8,269.8 60.4,270.1 60,270.4 59.5,270.6 59.1,270.9 58.5,271.1 58,271.4 57.4,271.6 56.8,271.8 56.3,272 55.8,272.2 55.3,272.4 54.6,272.6 54.1,272.8 53.6,272.9 52.9,273.1 52.3,273.2 51.6,273.4 M48.4,247.6 48.2,247.1 47.6,246.9 47.3,247.4 47.7,247.6 48.3,247.7 M50.3,272.4 49.8,272.4 49.1,272.2 48.6,272.1 48,271.9 47.4,271.6 46.9,271.4 46.5,271.1 46,270.9 45.6,270.6 45.1,270.3 44.6,270 44.1,269.6 43.7,269.4 43.3,269.1 42.8,268.7 42.4,268.4 42,268.1 41.6,267.8 41.1,267.4 40.8,267.1 40.3,266.7 40,266.4 39.6,265.9 39.3,265.4 39.1,264.9 38.8,264.4 38.7,263.9 38.5,263.4 38.4,262.6 38.3,262.1 38.2,261.4 38.1,260.8 38,260.1 37.9,259.4 37.8,258.9 37.7,258.1 37.6,257.4 37.6,256.9 37.5,256.1 37.4,255.4 37.3,254.8 37.2,254.1 37.2,253.4 37.1,252.7 37,252.1 36.9,251.4 36.8,250.6 36.8,250.1 36.7,249.4 36.6,248.6 36.6,248.1 36.6,247.4 36.6,246.6 36.6,246.1 36.7,245.4 36.8,244.6 36.9,244.1 37,243.4 37.1,242.8 37.2,242.1 37.3,241.4 37.4,240.9 37.5,240.1 37.6,239.5 37.7,238.9 37.8,238.1 37.8,237.6 37.9,236.9 38.1,236.1 38.1,235.6 38.3,234.9 38.3,234.4 38.5,233.6 38.6,233.1 38.8,232.6 39.1,232 39.3,231.5 39.6,231.1 39.9,230.6 40.2,230.1 40.6,229.6 40.8,229.3 41.2,228.9 41.6,228.4 41.8,228.1 42.2,227.6 42.6,227.2 43,226.9 43.3,226.6 43.8,226.2 44.3,226 44.8,225.8 45.4,225.6 46.1,225.5 46.8,225.4 47.3,225.3 48.1,225.3 48.8,225.2 49.6,225.2 50.1,225.1 50.8,225.1 51.6,225 52.3,224.9 53.1,224.9 53.6,224.8 54.3,224.8 55.1,224.7 55.8,224.7 56.4,224.6 57.1,224.6 57.8,224.5 58.6,224.5 59.3,224.4 60.1,224.4 60.8,224.4 61.6,224.4 62.3,224.5 62.8,224.6 63.4,224.9 63.8,225.2 64.3,225.6 64.6,226 64.8,226.5 65.1,227.1 65.2,227.6 65.3,228.1 65.5,228.9 65.6,229.4 65.8,230.1 65.9,230.6 66.1,231.4 66.2,231.9 66.3,232.6 66.4,233.1 66.6,233.9 66.6,234.4 66.7,235.1 66.8,235.9 66.8,236.6 66.8,237.4 66.8,238.1 66.7,238.9 66.7,239.6 66.7,240.4 66.7,241.1 66.7,241.9 66.7,242.6 66.7,243.4 66.6,244.1 66.6,244.9 66.6,245.4 66.5,246.1 66.5,246.9 66.5,247.6 66.5,248.4 66.5,249.1 66.5,249.9 66.5,250.6 66.5,251.4 66.5,252.1 66.5,252.9 66.4,253.6 66.4,254.4 66.4,255.1 66.4,255.9 66.4,256.6 66.3,257.2 66.2,257.9 66.1,258.5 65.9,259.1 65.7,259.6 65.5,260.1 65.3,260.6 65,261.1 64.8,261.6 64.6,262.1 64.3,262.6 64.1,263.1 63.8,263.6 63.6,264.1 63.3,264.6 63,265.1 62.8,265.6 62.5,266.1 62.2,266.6 61.9,267.1 61.6,267.6 61.3,267.9 60.9,268.4 60.6,268.7 60.1,269.1 59.7,269.4 59.2,269.6 58.7,269.9 58.2,270.1 57.6,270.4 57.1,270.6 56.6,270.8 56.1,270.9 55.6,271.1 54.9,271.4 54.3,271.6 53.8,271.7 53.3,271.9 52.6,272.1 52.1,272.2 51.3,272.3 50.6,272.4 M48.5,247.6 48.2,247.1 47.6,246.9 47.3,246.9 47.3,247.4 47.8,247.7 48.5,247.6 M51.6,271.4 50.8,271.5 50.1,271.5 49.3,271.4 48.8,271.3 48.3,271.1 47.8,270.9 47.3,270.6 46.8,270.4 46.3,270.1 45.8,269.8 45.3,269.4 44.9,269.1 44.5,268.9 44.1,268.6 43.6,268.2 43.1,267.9 42.8,267.6 42.3,267.3 41.8,266.9 41.5,266.6 41.1,266.2 40.7,265.9 40.3,265.4 40.1,265 39.8,264.6 39.6,264 39.4,263.4 39.3,262.9 39.1,262.1 39,261.6 38.9,260.9 38.8,260.3 38.7,259.6 38.6,258.9 38.6,258.4 38.5,257.6 38.4,256.9 38.3,256.4 38.2,255.6 38.2,254.9 38.1,254.2 38,253.6 37.9,252.9 37.8,252.1 37.8,251.6 37.7,250.9 37.6,250.1 37.6,249.6 37.5,248.9 37.4,248.1 37.4,247.4 37.4,246.6 37.5,245.9 37.6,245.1 37.6,244.6 37.8,243.9 37.8,243.4 38,242.6 38.1,241.9 38.1,241.4 38.3,240.6 38.3,240.1 38.4,239.4 38.5,238.6 38.6,238.1 38.7,237.4 38.8,236.6 38.8,236.1 38.9,235.4 39.1,234.6 39.2,234.1 39.3,233.5 39.5,232.9 39.7,232.4 40,231.9 40.3,231.4 40.6,230.9 40.8,230.5 41.1,230.1 41.4,229.6 41.8,229.1 42.1,228.7 42.3,228.4 42.8,227.9 43.1,227.6 43.6,227.1 43.9,226.9 44.4,226.6 45,226.4 45.6,226.2 46.1,226.1 46.8,226 47.6,225.9 48.1,225.9 48.8,225.8 49.6,225.7 50.3,225.7 51,225.6 51.6,225.6 52.3,225.5 53.1,225.5 53.8,225.4 54.3,225.4 55.1,225.3 55.8,225.2 56.6,225.2 57.1,225.1 57.8,225.1 58.6,225 59.3,225 60.1,225 60.8,225.1 61.3,225.1 62.1,225.3 62.6,225.5 63.1,225.7 63.5,226.1 63.8,226.5 64.1,227 64.3,227.6 64.5,228.1 64.6,228.6 64.8,229.4 64.9,229.9 65,230.6 65.1,231.1 65.3,231.9 65.4,232.4 65.5,233.1 65.6,233.6 65.8,234.4 65.8,234.9 65.9,235.6 65.9,236.4 65.9,237.1 65.9,237.9 65.9,238.6 65.8,239.4 65.8,239.9 65.8,240.6 65.8,241.4 65.8,242.1 65.8,242.9 65.8,243.6 65.8,244.4 65.7,245.1 65.7,245.9 65.7,246.6 65.7,247.4 65.7,248.1 65.7,248.9 65.7,249.6 65.7,250.4 65.7,251.1 65.7,251.9 65.6,252.6 65.6,253.4 65.6,254.1 65.6,254.9 65.6,255.6 65.6,256.3 65.5,256.9 65.4,257.6 65.3,258.1 65.1,258.9 64.9,259.4 64.7,259.9 64.5,260.4 64.3,260.9 64,261.4 63.8,261.9 63.5,262.4 63.3,262.9 63,263.4 62.8,263.9 62.5,264.4 62.3,264.9 62,265.4 61.7,265.9 61.4,266.4 61.1,266.9 60.8,267.2 60.5,267.6 60.1,268 59.6,268.4 59.3,268.6 58.8,268.9 58.3,269.2 57.8,269.4 57.2,269.6 56.6,269.9 56.1,270.1 55.6,270.2 55.1,270.4 54.4,270.6 53.8,270.8 53.3,271 52.8,271.1 52.1,271.3 51.6,271.4 M48.6,247.6 48.3,247.1 47.8,246.9 47.1,246.9 47.1,247.2 47.5,247.6 48.1,247.8 M51.6,270.6 50.8,270.7 50.1,270.7 49.4,270.6 48.8,270.5 48.3,270.3 47.8,270 47.3,269.8 46.8,269.5 46.3,269.2 45.9,268.9 45.5,268.6 45.1,268.4 44.6,268 44.1,267.6 43.7,267.4 43.3,267.1 42.8,266.7 42.4,266.4 42.1,266.1 41.6,265.6 41.3,265.4 40.9,264.9 40.6,264.4 40.4,263.9 40.2,263.4 40.1,262.9 39.9,262.1 39.8,261.6 39.7,260.9 39.6,260.1 39.5,259.6 39.4,258.9 39.3,258.1 39.3,257.6 39.2,256.9 39.1,256.1 39.1,255.5 39,254.9 38.9,254.1 38.9,253.4 38.8,252.9 38.8,252.1 38.7,251.4 38.6,250.6 38.6,250.1 38.5,249.4 38.4,248.6 38.4,247.9 38.4,247.1 38.5,246.4 38.5,245.6 38.6,245.1 38.7,244.4 38.8,243.6 38.9,243.1 38.9,242.4 39,241.6 39.1,241.1 39.2,240.4 39.2,239.6 39.3,238.9 39.3,238.1 39.3,237.6 39.4,236.9 39.4,236.1 39.5,235.4 39.6,234.9 39.8,234.1 39.9,233.6 40.1,233.1 40.3,232.6 40.6,232.1 40.8,231.6 41.1,231.1 41.4,230.6 41.7,230.1 42,229.6 42.3,229.2 42.6,228.8 42.9,228.4 43.3,227.9 43.7,227.6 44.1,227.3 44.6,227 45.1,226.8 45.8,226.6 46.3,226.5 47.1,226.4 47.6,226.4 48.3,226.3 49.1,226.2 49.8,226.2 50.3,226.1 51.1,226 51.8,226 52.6,225.9 53.2,225.9 53.8,225.8 54.6,225.8 55.3,225.7 56.1,225.6 56.6,225.6 57.3,225.5 58.1,225.5 58.8,225.4 59.6,225.4 60.3,225.5 60.9,225.6 61.6,225.8 62.1,226 62.6,226.4 62.8,226.6 63.2,227.1 63.5,227.6 63.7,228.1 63.8,228.6 64,229.4 64.1,229.9 64.2,230.6 64.3,231.4 64.3,231.9 64.4,232.6 64.5,233.4 64.6,233.9 64.7,234.6 64.8,235.4 64.8,236.1 64.8,236.6 64.8,237.2 64.8,237.9 64.8,238.6 64.7,239.4 64.7,240.1 64.7,240.9 64.7,241.6 64.7,242.4 64.7,243.1 64.7,243.9 64.7,244.6 64.6,245.4 64.6,246.1 64.6,246.9 64.6,247.6 64.6,248.4 64.7,249.1 64.7,249.9 64.7,250.6 64.7,251.4 64.7,252.1 64.7,252.9 64.7,253.6 64.7,254.4 64.7,255.1 64.7,255.9 64.7,256.6 64.6,257.3 64.5,257.9 64.3,258.4 64.1,259.1 63.9,259.6 63.7,260.1 63.4,260.6 63.2,261.1 63,261.6 62.7,262.1 62.5,262.6 62.3,263.1 62,263.6 61.8,264.1 61.5,264.6 61.2,265.1 60.9,265.6 60.6,266.1 60.3,266.6 60.1,266.9 59.6,267.4 59.3,267.6 58.8,268 58.3,268.3 57.8,268.5 57.3,268.7 56.8,269 56.3,269.1 55.7,269.4 55.1,269.6 54.6,269.8 54.1,269.9 53.5,270.1 52.8,270.3 52.3,270.5 51.6,270.6 M53.4,238.4 53.1,238 53.1,238.5 M48.3,247.9 48.6,247.6 48.4,247.1 47.9,246.9 47.3,246.8 46.9,247.1 47.3,247.5 47.8,247.8 48.3,247.9 M51.8,269.6 51.1,269.8 50.3,269.8 49.6,269.7 49.1,269.6 48.6,269.4 48.1,269.1 47.6,268.9 47.1,268.6 46.6,268.3 46.1,267.9 45.6,267.6 45.3,267.4 44.8,267.1 44.3,266.7 43.9,266.4 43.6,266.1 43.1,265.7 42.7,265.4 42.3,265 42,264.6 41.7,264.1 41.4,263.6 41.2,263.1 41.1,262.6 40.9,261.9 40.8,261.3 40.7,260.6 40.6,259.9 40.6,259.2 40.5,258.6 40.5,257.9 40.4,257.1 40.4,256.4 40.3,255.9 40.2,255.1 40.1,254.4 40,253.9 39.9,253.1 39.9,252.4 39.8,251.6 39.8,251.1 39.8,250.4 39.7,249.6 39.7,248.9 39.7,248.1 39.7,247.4 39.8,246.6 39.8,245.9 39.8,245.1 39.8,244.4 39.8,243.6 39.8,242.9 39.8,242.1 39.8,241.6 39.9,240.9 39.9,240.1 39.9,239.4 39.9,238.6 39.9,237.9 39.9,237.1 39.9,236.4 40,235.6 40.1,235.1 40.2,234.4 40.4,233.9 40.6,233.3 40.8,232.7 41.1,232.1 41.3,231.6 41.6,231.2 41.8,230.7 42.1,230.3 42.3,229.9 42.6,229.4 43,228.9 43.3,228.5 43.7,228.1 44.1,227.8 44.6,227.5 45.1,227.2 45.6,227.1 46.3,226.9 46.8,226.8 47.6,226.7 48.3,226.6 48.8,226.6 49.6,226.5 50.3,226.5 51.1,226.4 51.6,226.4 52.3,226.3 53.1,226.2 53.8,226.2 54.4,226.1 55.1,226.1 55.8,226 56.6,225.9 57.2,225.9 57.8,225.8 58.6,225.8 59.3,225.8 60,225.9 60.6,226 61.1,226.2 61.6,226.4 62.1,226.8 62.4,227.1 62.8,227.6 63,228.1 63.2,228.6 63.3,229.1 63.5,229.9 63.5,230.6 63.5,231.4 63.5,232.1 63.5,232.9 63.5,233.6 63.5,234.4 63.5,235.1 63.5,235.9 63.4,236.6 63.4,237.4 63.3,237.9 63.3,238.6 63.2,239.4 63.2,240.1 63.2,240.9 63.1,241.6 63.1,242.4 63.1,242.9 63,243.6 63,244.4 63,245.1 62.9,245.9 62.9,246.6 62.9,247.4 62.9,248.1 62.9,248.9 62.8,249.6 62.8,250.1 62.8,250.9 62.7,251.6 62.7,252.4 62.7,253.1 62.8,253.8 62.9,254.4 63,255.1 63.1,255.9 63.1,256.4 63.1,257 63,257.6 62.9,258.4 62.7,258.9 62.6,259.4 62.3,260.1 62.1,260.6 61.9,261.1 61.7,261.6 61.5,262.1 61.3,262.6 61.1,263.1 60.8,263.6 60.6,264.1 60.3,264.6 60,265.1 59.7,265.6 59.4,266.1 59.1,266.4 58.6,266.9 58.3,267.1 57.8,267.4 57.3,267.7 56.8,267.9 56.3,268.1 55.8,268.4 55.1,268.6 54.6,268.8 54.1,269 53.6,269.2 52.9,269.4 52.3,269.5 51.8,269.6 M53.4,238.6 53.6,238.1 53.3,237.7 52.9,238.1 52.8,238.4 53.3,238.7 M48.5,247.9 48.6,247.4 48.3,247 47.8,246.8 47.1,246.7 46.8,247.1 47.1,247.4 47.6,247.7 48.1,247.9 M52.3,267.9 51.6,268 50.8,268.1 50.1,268 49.3,267.9 48.8,267.7 48.3,267.5 47.8,267.2 47.3,266.9 46.9,266.6 46.6,266.4 46.1,266 45.6,265.6 45.3,265.3 44.9,264.9 44.6,264.5 44.3,264.1 44,263.6 43.7,263.1 43.5,262.6 43.3,261.9 43.3,261.4 43.2,260.6 43.2,259.9 43.3,259.1 43.2,258.4 43.1,257.8 42.8,257.3 42.6,256.9 42.3,256.4 41.9,255.9 41.6,255.4 41.4,254.9 41.1,254.4 41,253.9 40.8,253.3 40.7,252.6 40.6,251.9 40.6,251.1 40.5,250.6 40.5,249.9 40.5,249.1 40.5,248.4 40.5,247.6 40.5,246.9 40.5,246.1 40.5,245.4 40.4,244.6 40.4,243.9 40.4,243.1 40.4,242.4 40.4,241.6 40.4,240.9 40.4,240.1 40.4,239.4 40.4,238.6 40.3,237.9 40.3,237.4 40.3,236.6 40.3,236.1 40.4,235.4 40.6,234.6 40.7,234.1 40.9,233.6 41.1,233.1 41.3,232.5 41.6,232 41.8,231.5 42.1,231 42.3,230.5 42.6,230.1 42.9,229.6 43.2,229.1 43.6,228.7 43.9,228.4 44.3,228 44.8,227.7 45.3,227.5 45.8,227.3 46.6,227.2 47.1,227.1 47.8,227 48.6,226.9 49.3,226.9 49.8,226.8 50.6,226.8 51.3,226.7 52.1,226.6 52.6,226.6 53.3,226.5 54.1,226.5 54.8,226.4 55.3,226.4 56.1,226.3 56.8,226.2 57.6,226.2 58.1,226.1 58.8,226.1 59.3,226.1 60.1,226.2 60.6,226.4 61.1,226.6 61.6,226.9 62,227.4 62.3,227.7 62.6,228.2 62.8,228.9 62.9,229.4 63,230.1 63,230.9 63,231.6 63,232.4 63,233.1 62.9,233.9 62.9,234.6 62.8,235.4 62.8,235.9 62.8,236.6 62.7,237.4 62.7,238.1 62.6,238.9 62.6,239.5 62.5,240.1 62.5,240.9 62.4,241.6 62.4,242.4 62.3,243.1 62.3,243.6 62.3,244.4 62.2,245.1 62.2,245.9 62.2,246.6 62.1,247.4 62.1,247.9 62,248.6 62,249.4 61.8,250.1 61.7,250.6 61.5,251.1 61.3,251.6 61,252.1 60.6,252.6 60.3,253 60.1,253.4 59.7,253.9 59.3,254.4 59.1,254.7 58.8,255.1 58.6,255.6 58.3,256.3 58.2,256.9 58.3,257.5 58.5,258.1 58.6,258.6 58.8,259.4 58.8,259.9 58.9,260.6 58.8,261.1 58.7,261.9 58.6,262.5 58.4,263.1 58.2,263.6 57.9,264.1 57.7,264.6 57.3,265.1 57.1,265.4 56.6,265.9 56.2,266.1 55.8,266.4 55.3,266.7 54.8,267 54.3,267.2 53.8,267.4 53.2,267.6 52.6,267.8 M53.3,238.9 53.7,238.4 53.6,237.7 53.2,237.6 52.8,237.9 52.8,238.6 53.2,238.9 M48.6,247.9 48.6,247.2 48.1,246.9 47.6,246.7 47.1,246.6 46.6,246.8 46.7,247.1 47.1,247.5 47.6,247.8 48.1,248 48.6,247.9 M51.3,255.9 50.8,255.8 51.1,255.9 M51.6,262.9 50.8,263 50.3,262.9 49.8,262.6 49.3,262.1 49.1,261.6 49,261.1 48.9,260.4 48.6,259.9 48.3,259.6 47.8,259.4 47.2,259.1 46.7,258.9 46.1,258.6 45.7,258.4 45.3,258.1 44.8,257.8 44.3,257.4 44.1,257.1 43.6,256.7 43.3,256.4 42.8,255.9 42.6,255.6 42.2,255.1 41.9,254.6 41.6,254.1 41.4,253.6 41.3,253.1 41.1,252.4 41.1,251.7 41,251.1 41,250.4 40.9,249.6 40.9,248.9 40.9,248.1 40.9,247.4 40.9,246.6 40.9,245.9 40.9,245.1 40.8,244.4 40.8,243.9 40.8,243.1 40.8,242.4 40.7,241.6 40.7,240.9 40.7,240.1 40.7,239.4 40.7,238.6 40.7,237.9 40.6,237.1 40.6,236.4 40.7,235.6 40.8,235 41,234.4 41.1,233.9 41.3,233.3 41.6,232.7 41.8,232.2 42.1,231.7 42.3,231.2 42.6,230.7 42.8,230.3 43.1,229.8 43.4,229.4 43.8,228.9 44.1,228.6 44.6,228.2 45.1,227.9 45.6,227.7 46.1,227.6 46.8,227.4 47.3,227.4 48.1,227.3 48.8,227.2 49.6,227.1 50.1,227.1 50.8,227 51.6,227 52.3,226.9 52.8,226.9 53.6,226.8 54.3,226.7 55.1,226.7 55.6,226.6 56.3,226.5 57.1,226.5 57.8,226.4 58.6,226.4 59.3,226.4 60.1,226.5 60.6,226.7 61.1,227 61.6,227.4 61.8,227.7 62.2,228.1 62.4,228.6 62.6,229.3 62.7,229.9 62.7,230.6 62.7,231.4 62.7,232.1 62.6,232.9 62.6,233.6 62.6,234.1 62.5,234.9 62.5,235.6 62.4,236.4 62.3,237.1 62.3,237.6 62.3,238.4 62.2,239.1 62.2,239.9 62.1,240.6 62.1,241.3 62,241.9 62,242.6 62,243.4 61.9,244.1 61.9,244.9 61.8,245.6 61.8,246.1 61.8,246.9 61.7,247.6 61.7,248.4 61.6,249.1 61.5,249.6 61.3,250.3 61.1,250.9 60.8,251.4 60.6,251.8 60.3,252.1 59.9,252.6 59.6,253 59.3,253.4 58.8,253.9 58.6,254.1 58.2,254.6 57.8,255 57.5,255.4 57.1,255.9 56.8,256.2 56.5,256.6 56.1,257.1 55.7,257.4 55.3,257.7 54.8,258.1 54.4,258.4 54,258.6 53.6,259 53.1,259.4 53,259.9 53,260.6 53,261.4 52.8,261.9 52.4,262.4 52.1,262.7 51.6,262.9 M53.6,238.9 53.8,238.4 53.8,237.9 53.3,237.4 52.8,237.8 52.6,238.3 52.6,238.6 53.1,239 53.6,238.9 M48.7,247.9 48.8,247.5 48.6,247.1 48.1,246.8 47.6,246.6 46.8,246.5 46.2,246.4 45.8,246.1 45.8,246.4 46.3,246.8 46.6,247.1 47.1,247.6 47.6,247.9 48.1,248 48.7,247.9 M51.5,255.9 51.1,255.6 50.6,255.9 50.8,255.9 51.5,255.9 M50.1,258.1 49.3,258.2 48.6,258.2 47.8,258.2 47.3,258.1 46.6,257.9 46.1,257.8 45.6,257.5 45.1,257.2 44.6,256.9 44.3,256.6 43.8,256.2 43.5,255.9 43.1,255.5 42.8,255.1 42.4,254.6 42.1,254.1 41.9,253.6 41.7,253.1 41.6,252.5 41.5,251.9 41.4,251.1 41.3,250.4 41.3,249.9 41.3,249.1 41.3,248.4 41.3,247.6 41.3,246.9 41.3,246.1 41.3,245.4 41.2,244.6 41.2,243.9 41.1,243.1 41.1,242.4 41.1,241.6 41.1,240.9 41.1,240.1 41.1,239.5 41.1,238.9 41,238.1 41,237.4 41,236.6 41,235.9 41.1,235.3 41.2,234.6 41.4,234.1 41.6,233.6 41.8,232.9 42.1,232.4 42.3,231.9 42.6,231.4 42.8,230.9 43.1,230.4 43.3,230 43.6,229.6 44,229.1 44.3,228.8 44.8,228.4 45.3,228.1 45.8,227.9 46.3,227.8 47.1,227.7 47.6,227.6 48.3,227.5 49.1,227.5 49.8,227.4 50.3,227.4 51.1,227.3 51.8,227.2 52.6,227.2 53.1,227.1 53.8,227 54.6,227 55.3,226.9 55.8,226.9 56.6,226.8 57.3,226.7 58.1,226.7 58.8,226.7 59.6,226.7 60.1,226.9 60.7,227.1 61.1,227.4 61.6,227.9 61.8,228.2 62.1,228.7 62.3,229.4 62.4,229.9 62.4,230.6 62.4,231.4 62.4,232.1 62.3,232.8 62.3,233.4 62.3,234.1 62.2,234.9 62.2,235.6 62.1,236.4 62.1,236.9 62,237.6 62,238.4 61.9,239.1 61.9,239.9 61.8,240.6 61.8,241.1 61.7,241.9 61.7,242.6 61.7,243.4 61.6,244.1 61.6,244.8 61.5,245.4 61.5,246.1 61.4,246.9 61.4,247.6 61.3,248.4 61.3,248.9 61.2,249.6 61,250.1 60.8,250.7 60.6,251.1 60.2,251.6 59.8,252.1 59.6,252.4 59.1,252.9 58.8,253.2 58.4,253.6 58.1,254 57.8,254.4 57.3,254.8 57.1,255.1 56.6,255.6 56.3,255.9 55.8,256.4 55.5,256.6 55.1,257 54.6,257.2 54.1,257.4 53.5,257.6 52.8,257.8 52.3,257.9 51.6,258 50.8,258.1 50.3,258.1 M45.8,230.1 45.6,229.9 45.3,230.3 M53.5,239.1 53.8,238.8 53.9,238.1 53.8,237.6 53.3,237.2 52.8,237.6 52.6,237.9 52.5,238.6 52.8,239 53.3,239.2 M48.4,248.1 48.9,247.9 48.8,247.3 48.4,246.9 47.8,246.6 47.3,246.5 46.7,246.4 46.2,246.1 45.8,245.8 45.3,246.1 45.8,246.6 46.1,246.9 46.6,247.3 47,247.6 47.4,247.9 48.1,248.1 48.4,248.1 M50.3,256.1 51.1,255.9 51.7,255.9 51.3,255.5 50.6,255.6 50.3,256.1 50.3,256.1 M51.3,257.4 50.6,257.5 49.8,257.5 49.1,257.6 48.3,257.6 47.6,257.6 46.8,257.4 46.3,257.3 45.8,257.1 45.3,256.8 44.8,256.4 44.4,256.1 44.1,255.8 43.6,255.4 43.3,255.1 42.9,254.6 42.6,254.1 42.3,253.6 42.1,253.1 42,252.6 41.9,251.9 41.8,251.4 41.7,250.6 41.7,249.9 41.7,249.1 41.7,248.4 41.7,247.6 41.7,246.9 41.6,246.1 41.6,245.4 41.6,244.6 41.5,244.1 41.5,243.4 41.5,242.6 41.5,241.9 41.4,241.1 41.4,240.4 41.4,239.6 41.4,238.9 41.4,238.1 41.3,237.4 41.3,236.9 41.3,236.2 41.4,235.6 41.5,234.9 41.7,234.4 41.8,233.9 42.1,233.2 42.3,232.7 42.6,232.1 42.8,231.6 43.1,231.1 43.3,230.7 43.6,230.2 43.8,229.9 44.2,229.4 44.6,229 45.1,228.6 45.6,228.4 46.1,228.2 46.6,228.1 47.3,228 48.1,227.9 48.6,227.8 49.3,227.8 50.1,227.7 50.8,227.6 51.3,227.6 52.1,227.5 52.8,227.5 53.6,227.4 54.1,227.3 54.8,227.3 55.6,227.2 56.3,227.1 56.8,227.1 57.6,227 58.3,227 59.1,227 59.8,227.1 60.3,227.3 60.8,227.6 61.1,227.9 61.5,228.4 61.8,228.9 62,229.4 62.1,230.1 62.1,230.6 62.1,231.4 62.1,231.9 62,232.6 62,233.4 61.9,234.1 61.9,234.9 61.8,235.6 61.8,236.1 61.7,236.9 61.7,237.6 61.7,238.4 61.6,239.1 61.6,239.9 61.5,240.4 61.5,241.1 61.4,241.9 61.4,242.6 61.4,243.4 61.3,243.9 61.3,244.6 61.2,245.4 61.2,246.1 61.1,246.9 61.1,247.6 61,248.1 61,248.9 60.8,249.6 60.7,250.1 60.5,250.6 60.2,251.1 59.8,251.6 59.5,251.9 59.1,252.4 58.8,252.6 58.3,253.1 58.1,253.4 57.6,253.9 57.3,254.2 56.9,254.6 56.6,255 56.2,255.4 55.8,255.7 55.3,256.1 55,256.4 54.6,256.6 54,256.9 53.3,257.1 52.8,257.2 52.1,257.3 51.4,257.4 M45.9,230.6 46.2,230.1 46,229.6 45.6,229.8 45.3,230.1 44.8,230.6 45.1,230.7 45.8,230.7 M61.1,234.4 61.1,233.8 61.1,234.4 M53.8,239.1 54,238.6 54.1,238.1 54,237.6 53.7,237.1 53.1,237.1 52.8,237.4 52.4,237.9 52.3,238.4 52.4,238.9 52.8,239.2 53.6,239.3 M42.9,240.9 43.1,240.4 43,239.9 42.8,240.1 42.8,240.9 M51.9,244.6 51.8,244.1 51.4,244.4 51.8,244.7 M48.7,248.1 49.1,247.6 48.8,247.1 48.3,246.8 47.8,246.6 47.2,246.4 46.6,246.2 46.2,245.9 45.8,245.6 45.2,245.6 45.2,246.4 45.6,246.7 46.1,247.1 46.5,247.4 46.9,247.6 47.3,247.9 47.8,248.1 48.6,248.2 M55.6,252.6 55.6,252.2 55.3,252.1 55.1,252.6 55.6,252.6 M50.4,256.1 51.1,256 51.8,255.9 51.7,255.6 51.3,255.4 50.7,255.4 50.3,255.6 50.3,256.2 M50.1,256.9 49.3,257 48.6,257 47.8,257 47.1,256.9 46.6,256.7 46.1,256.5 45.6,256.3 45.1,255.9 44.7,255.6 44.3,255.3 43.9,254.9 43.6,254.6 43.2,254.1 42.9,253.6 42.7,253.1 42.5,252.6 42.4,251.9 42.3,251.4 42.3,250.6 42.2,249.9 42.2,249.1 42.2,248.4 42.2,247.6 42.2,246.9 42.1,246.1 42.1,245.4 42.1,244.6 42,244.1 42,243.4 42,242.6 41.9,241.9 41.9,241.1 41.9,240.4 41.9,239.6 41.9,238.9 41.9,238.1 41.8,237.6 41.8,236.9 41.8,236.1 41.9,235.6 42,234.9 42.2,234.4 42.3,233.9 42.6,233.3 42.8,232.7 43.1,232.2 43.3,231.7 43.6,231.2 43.8,230.7 44.1,230.3 44.4,229.9 44.8,229.4 45.2,229.1 45.7,228.9 46.3,228.6 46.8,228.5 47.6,228.4 48.1,228.4 48.8,228.3 49.6,228.2 50.3,228.2 50.8,228.1 51.6,228 52.3,228 53.1,227.9 53.6,227.9 54.3,227.8 55.1,227.7 55.8,227.6 56.3,227.6 57.1,227.5 57.8,227.5 58.6,227.4 59.3,227.5 59.8,227.6 60.4,227.9 60.8,228.2 61.2,228.6 61.4,229.1 61.6,229.6 61.7,230.4 61.7,231.1 61.7,231.9 61.6,232.6 61.6,233.4 61.6,233.9 61.5,234.6 61.5,235.4 61.4,236.1 61.4,236.9 61.3,237.4 61.3,238.1 61.3,238.9 61.2,239.6 61.2,240.4 61.1,241.1 61.1,241.6 61,242.4 61,243.1 60.9,243.9 60.9,244.6 60.9,245.4 60.8,245.9 60.8,246.6 60.7,247.4 60.7,248.1 60.6,248.9 60.5,249.4 60.3,250 60.1,250.5 59.8,250.9 59.4,251.4 59.1,251.7 58.6,252.1 58.3,252.4 57.8,252.9 57.6,253.1 57.1,253.6 56.8,253.9 56.4,254.4 56.1,254.7 55.6,255.1 55.3,255.4 54.8,255.8 54.3,256.1 53.8,256.3 53.3,256.4 52.6,256.6 52.1,256.7 51.3,256.8 50.6,256.8 50.1,256.9 M45.4,231.1 46.1,231 46.5,230.6 46.6,230.1 46.4,229.6 46.3,229.4 45.7,229.6 45.3,230 44.9,230.4 44.6,230.8 44.6,231.2 45.3,231.1 M61.2,234.4 61.2,233.6 61,233.4 60.8,234.1 60.8,234.5 M42.7,236.1 42.9,235.6 42.8,235.1 42.6,235.5 42.5,236.1 M53.9,239.4 54.2,238.9 54.3,238.1 54.1,237.4 53.9,236.9 53.8,236.4 53.4,236.1 53.1,236.5 52.8,236.9 52.5,237.4 52.2,237.9 52,238.4 52.1,238.9 52.6,239.3 53.1,239.6 53.8,239.5 M42.9,242.4 43,241.6 43.1,241.1 43.3,240.6 43.4,239.9 43.1,239.5 42.8,239.4 42.7,240.1 42.7,240.9 42.7,241.6 42.8,242.4 M52.1,244.9 52.2,244.1 51.8,243.8 51.3,244 51.2,244.6 51.6,245 52.1,244.9 M48.3,248.4 49,248.1 49.2,247.6 49,247.1 48.6,246.8 48.1,246.5 47.6,246.3 46.9,246.1 46.5,245.9 46.1,245.5 45.6,245.2 45.1,245.4 44.9,246.1 45.1,246.7 45.6,247.1 46.1,247.4 46.6,247.6 47,247.9 47.5,248.1 48.1,248.3 48.3,248.4 M52.6,249.6 52.7,249.1 52.3,248.8 51.8,248.9 51.8,249.6 52.3,249.8 M56.6,253.1 57.1,252.7 57.4,252.4 56.8,252.4 56.5,252.4 56.1,252.1 55.6,251.8 55.1,251.9 54.8,252.4 54.8,253.1 55.3,253.3 55.8,253 56.1,252.9 56.6,253.2 M54.3,255.1 54.9,254.9 55.1,254.4 54.6,254.8 54.3,255.1 M50.5,256.1 51.1,256 51.8,256 52.3,255.9 52.1,255.6 51.6,255.3 50.8,255.1 50.2,255.4 49.8,255.9 49.8,256.2 50.5,256.1 M48.3,256.4 47.8,256.4 47.1,256.2 46.6,256.1 46.1,255.9 45.6,255.6 45.1,255.2 44.7,254.9 44.3,254.5 44,254.1 43.6,253.6 43.3,253.1 43.3,252.6 43,252.1 42.8,251.4 42.8,250.6 42.8,250.1 42.7,249.4 42.7,248.6 42.7,247.9 42.7,247.1 42.7,246.4 42.6,245.6 42.6,244.9 42.6,244.1 42.6,243.5 42.5,242.9 42.5,242.1 42.5,241.4 42.5,240.6 42.5,239.9 42.5,239.1 42.6,239.4 42.6,240.1 42.6,240.9 42.6,241.6 42.6,242.4 42.6,243.1 43,242.9 43.3,242.4 43.4,241.9 43.5,241.1 43.6,240.6 43.8,239.9 43.5,239.4 43.1,239 42.7,238.6 42.4,238.1 42.4,237.4 42.6,236.9 42.9,236.4 43.1,235.9 43.1,235.1 43,234.6 42.8,234.2 43.1,233.6 43.3,233.1 43.5,232.6 43.7,232.1 44.1,231.9 44.8,231.7 45.3,231.6 46,231.4 46.4,231.1 46.8,230.6 46.9,230.1 46.8,229.5 46.8,229.1 47.6,228.9 48.3,228.9 48.8,228.9 49.6,228.8 50.3,228.6 51.1,228.6 51.6,228.6 52.3,228.5 53.1,228.4 53.8,228.4 54.3,228.3 55.1,228.3 55.6,228.5 56.3,228.4 56.6,228.1 57.3,227.9 58.1,227.9 58.8,227.9 59.6,228.1 60.1,228.3 60.6,228.6 60.8,228.9 61.1,229.5 60.9,229.9 61,230.6 61.1,231.1 61.3,231.9 61.1,232.6 60.9,233.1 60.8,233.6 60.6,234.4 60.6,234.6 60.8,235.1 61.1,235.9 61.1,236.6 61,237.4 60.8,238 60.9,238.4 60.9,239.1 60.8,239.6 60.8,240.4 60.8,241.1 60.8,241.9 60.6,242.6 60.6,243.4 60.6,243.9 60.5,244.6 60.5,245.4 60.5,246.1 60.4,246.9 60.3,247.4 60.3,248.1 60.3,248.9 60.1,249.4 59.6,249.8 59.6,250.3 59.3,250.6 59.1,251.1 58.7,251.4 58.3,251.7 57.8,252.1 57.1,252 56.4,251.9 55.9,251.6 55.3,251.5 54.8,251.9 54.6,252.4 54.5,252.9 54.6,253.6 54.4,254.4 54.1,254.8 53.8,255.1 53.3,255.5 53,255.9 52.5,255.9 52.6,255.6 52.1,255.3 51.6,255 50.8,254.9 50.1,255.1 49.7,255.4 49.4,255.9 49.1,256.3 48.4,256.4 M61.1,235.3 61,234.6 61.1,234.9 M53.7,239.9 54.1,239.6 54.4,239.1 54.5,238.4 54.4,237.6 54.3,237.1 54.1,236.4 54,235.9 53.6,235.5 53.1,235.8 52.8,236.3 52.6,236.7 52.3,237.1 52,237.6 51.8,238.1 51.7,238.9 52.1,239.4 52.5,239.6 53.1,239.8 53.6,239.9 M52.2,245.1 52.5,244.6 52.4,243.9 52,243.6 51.6,243.6 51.1,243.9 51,244.6 51.3,245.1 51.8,245.3 M49,248.4 49.3,248.1 49.4,247.4 49.1,247 48.6,246.6 48.1,246.4 47.6,246.2 47.1,246 46.6,245.7 46.3,245.4 45.8,244.9 45.3,244.9 45,245.1 44.7,245.6 44.6,246.4 44.8,247.1 45.1,247.4 45.8,247.6 46.3,247.7 46.8,248 47.3,248.2 47.8,248.5 48.6,248.6 M43.3,248.9 43.7,248.6 44.1,248.2 44.1,247.7 43.6,247.6 42.9,247.6 42.9,248.4 43.1,249 M52.7,249.9 53,249.4 52.8,248.8 52.3,248.4 52,248.4 51.6,248.7 51.4,249.4 51.6,249.9 52.3,250 M51.3,256.1 50.6,256.2 50.8,256.1 51.4,256.1 M48.1,255.9 47.3,256 46.6,255.9 46.1,255.8 45.6,255.5 45.1,255.1 44.8,254.8 44.4,254.4 44.1,254 43.7,253.6 43.8,253.1 44.1,252.6 43.9,252.1 43.5,251.9 43.1,251.5 43,250.9 43,250.1 43.1,249.5 43.6,249.2 44,248.9 44.3,248.6 44.8,248.2 45.3,247.9 46.1,247.9 46.7,248.1 47.2,248.4 47.7,248.6 48.3,248.8 49.1,248.6 49.5,248.4 49.8,247.9 49.6,247.3 49.2,246.9 48.8,246.6 48.3,246.3 47.8,246.1 47.3,245.9 46.8,245.6 46.4,245.1 46.1,244.7 45.7,244.4 45.3,244.4 44.8,244.9 44.6,245.3 44.3,245.9 44.2,246.4 44,246.9 43.4,246.9 43.1,246.4 43,245.9 43,245.1 42.9,244.4 43,243.6 43.3,243.1 43.6,242.8 43.8,242.1 43.8,241.4 43.9,240.9 44.1,240.4 44.2,239.6 43.8,239.1 43.5,238.9 43.1,238.5 42.8,237.9 42.8,237.6 43,236.9 43.2,236.4 43.5,235.9 43.4,235.1 43.3,234.6 43.3,233.9 43.5,233.4 43.8,232.9 44.1,232.6 44.8,232.4 45.4,232.6 45.8,232.4 46.1,232 46.5,231.6 46.8,231.3 47.1,230.8 47.3,230.1 47.3,229.4 47.6,229.1 48.3,229 49.1,229.1 49.8,228.9 50.3,228.8 51.1,228.8 51.8,228.7 52.4,228.6 53.1,228.5 53.8,228.5 54.6,228.5 55.1,228.6 55.8,228.8 56.6,228.6 57.1,228.4 57.6,228.1 58.1,228.1 58.8,228 59.4,228.1 60,228.4 60.4,228.6 60.7,229.1 60.7,229.9 60.8,230.6 60.9,231.1 61,231.9 60.9,232.6 60.8,233.1 60.6,233.6 60.3,234.4 60.3,234.7 60.6,235.3 60.8,235.6 60.9,236.4 60.9,237.1 60.7,237.6 60.4,238.1 60.4,238.9 60.6,239.4 60.7,240.1 60.7,240.9 60.7,241.6 60.5,242.1 60.5,242.9 60.4,243.6 60.3,244.2 60.1,244.9 60.2,245.6 60.3,246.1 60.2,246.6 60.3,247.4 60.2,248.1 60.1,248.9 59.8,249.1 59.3,249.4 59.1,249.9 59,250.6 58.8,251.1 58.3,251.5 57.8,251.7 57.1,251.8 56.5,251.6 56,251.4 55.3,251.2 54.8,251.5 54.6,251.9 54.3,252.6 54.3,253.1 54.2,253.9 54,254.4 53.6,254.9 53.2,255.1 52.6,255.1 52.1,254.9 51.6,254.7 50.8,254.6 50.1,254.7 49.6,255 49.1,255.4 48.8,255.6 48.3,255.9 M53.9,240.1 54.3,239.9 54.6,239.4 54.8,238.6 54.7,237.9 54.6,237.1 54.5,236.6 54.4,235.9 54.2,235.4 53.8,235.1 53.3,235.2 52.9,235.6 52.6,236.1 52.3,236.5 52,236.9 51.7,237.4 51.4,237.9 51.3,238.4 51.2,239.1 51.6,239.5 52.1,239.8 52.6,240 53.1,240.2 53.8,240.2 M46.9,239.6 46.8,239.1 46.2,239.1 46,239.6 46.6,239.8 M52.2,245.6 52.6,245.1 52.7,244.6 52.7,243.9 52.3,243.4 51.8,243.3 51.3,243.4 50.8,243.8 50.7,244.4 50.8,244.9 51.2,245.4 51.6,245.7 52.2,245.6 M57.8,246.6 57.8,246.1 57.6,246.4 57.8,246.6 M52.1,250.4 52.7,250.1 53.1,249.8 53.3,249.4 53.2,248.9 52.8,248.4 52.5,248.1 51.8,247.9 51.3,248.4 51.1,248.9 51,249.4 51.1,249.9 51.6,250.4 52.1,250.4 M50.1,251.9 50.4,251.4 50.2,250.9 49.6,250.8 48.8,250.7 48.1,250.7 47.6,251 47.4,251.6 47.9,251.9 48.6,251.9 49.3,252 50.1,251.9 M46.1,255.6 45.6,255.5 45.2,255.1 44.8,254.7 44.5,254.4 44.1,253.9 44.1,253.6 44.6,253.3 45.1,253 45.5,252.6 45.6,252.1 45.3,251.8 44.8,251.5 44.1,251.4 43.6,251.3 43.2,250.9 43.1,250.4 43.3,249.9 43.6,249.6 44.1,249.2 44.5,248.9 44.8,248.6 45.3,248.3 46.1,248.2 46.8,248.4 47.3,248.6 47.7,248.9 48.3,249.1 49.1,248.9 49.6,248.7 49.9,248.4 50.2,247.9 50,247.4 49.6,247 49.1,246.6 48.7,246.4 48.2,246.1 47.7,245.9 47.2,245.6 46.8,245.3 46.5,244.9 46.3,244.4 46.3,243.6 46.4,243.1 46.2,242.6 45.8,242.2 45.3,242.1 44.6,242 44.3,241.6 44.3,240.9 44.5,240.4 44.8,239.9 45.3,239.8 45.8,240.1 46.3,240.3 47,240.1 47.3,239.8 47.5,239.1 47.1,238.7 46.6,238.6 45.8,238.6 45.3,238.8 44.6,238.8 44,238.6 43.6,238.4 43.3,237.9 43.3,237.1 43.6,236.7 43.8,236.3 43.9,235.6 43.8,235.1 43.6,234.4 43.8,233.6 44.1,233.2 44.6,233.1 45,233.4 45.3,233.9 45.6,234.4 45.8,234.6 46.6,234.7 47.1,234.4 47.2,233.9 47.1,233.2 46.8,232.7 46.8,232.1 47,231.6 47.3,231.1 47.4,230.6 47.6,230.1 47.8,229.6 48.6,229.4 49.3,229.4 49.8,229.3 50.5,229.1 51.1,228.9 51.6,228.8 52.3,228.8 52.8,228.6 53.6,228.6 54.3,228.6 54.8,228.8 55.3,229 56.1,229 56.7,228.9 57.3,228.7 57.8,228.6 58.5,228.4 59.1,228.3 59.8,228.4 60.2,228.6 60.4,229.1 60.4,229.9 60.6,230.6 60.7,231.1 60.8,231.7 60.8,232.1 60.7,232.9 60.5,233.4 60.3,233.9 60.1,234.6 60.3,235.3 60.6,235.7 60.8,236.2 60.8,236.9 60.6,237.4 60.3,237.8 60.1,238.4 60.3,239.1 60.5,239.6 60.6,240.1 60.6,240.9 60.5,241.4 60.4,242.1 60.4,242.9 60.3,243.5 60.1,244.1 59.9,244.6 59.9,245.4 60.1,246.1 60.2,246.6 60.2,247.4 60.1,248.1 59.9,248.6 59.6,248.9 59.1,249.2 58.8,249.6 58.7,250.4 58.6,251 58.1,251.4 57.6,251.5 56.8,251.5 56.3,251.3 55.8,251 55.1,251 54.7,251.4 54.4,251.9 54.2,252.4 54.1,253.1 54,253.6 53.8,254.2 53.4,254.6 52.8,254.8 52.1,254.6 51.6,254.5 50.8,254.4 50.3,254.4 49.8,254.4 49.3,254.6 48.7,254.9 48.3,255.1 47.8,255.4 47.1,255.5 46.3,255.6 M55.3,232.4 55.1,231.8 54.6,232.1 54.6,232.4 55.3,232.4 M52,233.1 52.1,232.8 51.7,232.4 51.3,232.4 51,232.9 51.3,233.3 52,233.1 M49.8,236.1 50,235.4 50.1,234.7 50,234.4 49.5,234.4 49.2,234.9 49.3,235.6 49.6,236.1 49.8,236.1 M54.1,240.4 54.6,240 54.8,239.6 55,238.9 55,238.1 54.9,237.4 54.8,236.9 54.7,236.1 54.5,235.6 54.3,235.1 53.8,234.7 53.3,234.9 52.8,235.3 52.5,235.6 52.2,236.1 51.8,236.5 51.4,236.9 51.1,237.3 50.9,237.9 50.7,238.4 50.5,238.9 50.5,239.6 51.1,239.9 51.6,239.9 52.2,240.1 52.8,240.4 53.3,240.5 54.1,240.4 M43.8,245.9 43.4,245.6 43.3,245.1 43.2,244.4 43.3,243.8 43.6,243.4 44.1,243 44.6,243.1 44.9,243.6 44.8,244.3 44.6,244.7 44.3,245.1 44,245.6 M50.2,252.4 50.6,252 50.8,251.6 51.1,251.1 51.6,250.8 52.2,250.6 52.7,250.4 53.1,250.1 53.6,249.6 53.7,249.1 53.3,248.6 53.1,248.4 52.7,247.9 52.4,247.4 52.2,246.9 52.3,246.4 52.6,245.8 52.8,245.2 53,244.6 53,243.9 52.8,243.4 52.3,243.1 51.6,243.1 51.1,243.3 50.7,243.6 50.5,244.1 50.6,244.7 50.8,245.3 51.1,245.6 51.6,246.1 51.8,246.4 51.8,247 51.6,247.4 51.1,247.9 50.8,248.3 50.7,248.9 50.7,249.6 50.4,250.1 49.8,250.3 49.1,250.3 48.3,250.2 47.8,250.4 47.3,250.8 47,251.1 46.7,251.6 46.9,252.1 47.6,252.2 48.3,252.3 49,252.4 49.6,252.5 50.2,252.4 M58.1,246.9 58.4,246.4 58.3,245.9 57.6,245.8 57.3,246.1 57.3,246.7 57.8,247 M46.3,255.2 45.6,255.3 45.1,254.9 44.8,254.6 44.4,254.1 44.8,253.8 45.3,253.6 45.8,253.2 46.3,252.9 46.8,252.7 47.6,252.7 48.3,252.7 49.1,252.9 49.6,253.1 50.3,252.9 50.6,252.6 50.9,252.1 51.2,251.6 51.6,251.2 52.1,250.9 52.6,250.7 53.1,250.4 53.4,250.1 53.8,249.9 54.6,249.7 55.2,249.6 55.6,249.1 55.6,248.6 55.1,248.6 54.6,248.9 54.1,248.9 53.7,248.6 53.3,248.3 53,247.9 52.8,247.4 52.8,246.9 52.9,246.1 53.1,245.4 53.1,244.9 53.3,244.1 53.3,243.4 52.8,242.9 52.3,242.8 51.6,242.9 51.1,243 50.6,243.4 50.3,243.8 50.3,244.4 50.4,244.9 50.7,245.4 51,245.9 51.2,246.4 51.1,247 50.6,247.3 50.1,247 49.6,246.7 49.1,246.4 48.6,246.1 48.1,245.9 47.6,245.6 47.2,245.4 46.8,244.9 46.6,244.4 46.7,243.6 46.8,242.9 46.6,242.3 46.1,241.9 45.6,241.6 45.1,241.5 44.7,241.1 44.8,240.6 45.6,240.5 46.1,240.6 46.8,240.6 47.3,240.4 47.7,240.1 47.9,239.6 48.1,238.9 47.6,238.4 47.1,238.3 46.3,238.2 45.8,238 45.4,237.6 45.3,237.1 45.1,236.4 44.9,235.9 44.6,235.5 44.3,235.1 44.1,234.6 44.1,234.1 44.6,233.8 44.9,234.1 45.1,234.6 45.5,235.1 46.1,235.2 46.7,235.1 47.3,234.9 47.8,234.6 48,234.1 47.9,233.4 47.8,232.9 47.6,232.4 47.5,231.6 47.6,231.1 47.8,230.4 48.1,230 48.6,229.8 49.3,229.7 49.8,229.6 50.6,229.5 51.1,229.3 51.6,229.1 52.3,228.9 52.8,228.9 53.6,228.8 54.2,228.9 54.8,229.1 55.3,229.2 56.1,229.2 56.6,229.1 57.3,229 58.1,229 58.6,228.8 59.3,228.6 59.9,228.9 60.1,229.4 60.2,230.1 60.4,230.6 60.6,231.2 60.7,231.9 60.6,232.6 60.5,233.1 60.2,233.6 60,234.1 59.9,234.9 60.1,235.4 60.4,235.9 60.6,236.4 60.6,236.9 60.3,237.4 60,237.9 59.9,238.6 60.1,239.1 60.3,239.9 60.3,240.4 60.3,240.9 60.1,241.6 60.1,242.4 60.1,243.1 60,243.6 59.8,244.2 59.6,244.9 59.6,245.4 59.7,245.9 59.9,246.4 60.1,246.9 60.1,247.6 60,248.1 59.6,248.5 59.1,248.8 58.7,249.1 58.6,249.7 58.5,250.4 58.3,250.9 57.8,251.2 57.1,251.3 56.6,251.1 56.1,250.8 55.6,250.5 54.9,250.6 54.6,251.1 54.3,251.6 54.1,252.1 54,252.6 53.9,253.4 53.7,253.9 53.3,254.4 52.8,254.5 52.1,254.4 51.6,254.2 51.1,254.1 50.3,254 49.6,253.9 48.8,254.1 48.3,254.2 47.6,254.4 47.3,254.6 46.8,254.9 46.3,255.2 M55.6,232.9 55.6,232.1 55.4,231.6 55.1,231.3 54.5,231.4 54.2,231.9 54.1,232.6 54.6,233.1 55.3,233.1 M54.2,240.6 54.6,240.4 55,239.9 55.2,239.4 55.3,238.6 55.3,237.9 55.1,237.1 55,236.6 54.8,235.9 54.7,235.4 54.5,234.9 54.1,234.4 53.6,234.4 53.1,234.6 52.8,234.9 52.4,235.4 52.1,235.8 51.7,236.1 51.1,236.2 50.6,235.9 50.5,235.4 50.6,234.9 50.8,234.3 51.3,233.9 51.8,233.7 52.3,233.5 52.7,233.1 52.6,232.6 52.1,232.1 51.7,231.9 51.1,231.7 50.6,232.1 50.4,232.6 50.2,233.1 49.8,233.4 49.3,233.7 48.8,234 48.4,234.4 48.3,234.7 48.6,235.4 48.8,235.9 49,236.4 49.1,236.9 49.1,237.6 49.3,238.3 49.6,238.9 49.6,239.4 49.7,240.1 50.1,240.4 50.6,240.4 51.3,240.3 52.1,240.4 52.6,240.6 53.1,240.7 53.8,240.8 M43.8,245 43.6,244.6 43.6,244.1 44.1,243.6 44.3,243.7 44.4,244.4 44.1,244.8 M58.2,247.1 58.6,246.6 58.7,246.1 58.4,245.6 57.8,245.5 57.3,245.7 57.1,246.1 57.1,246.7 57.4,247.1 58.1,247.2 M46.3,251.3 45.6,251.3 45.1,251.1 44.6,250.8 44,250.6 43.8,250.1 44.1,249.7 44.3,249.4 44.8,248.9 45.2,248.6 45.8,248.4 46.6,248.5 47.1,248.7 47.6,249.1 47.9,249.4 47.8,249.9 47.4,250.4 47.1,250.7 46.6,251.1 M49.6,249.9 49.1,249.7 49.1,249.4 49.6,249.1 50.1,249.1 50.1,249.6 49.6,249.9 M57.8,251 57.1,251.1 56.6,250.9 56.1,250.5 55.8,250.1 55.8,249.6 56.1,248.9 56.1,248.4 55.8,248.1 55.2,248.1 54.7,248.4 54.1,248.5 53.6,248.2 53.3,247.9 53.1,247.1 53.3,246.4 53.3,245.8 53.4,245.1 53.5,244.4 53.6,243.9 53.8,243.1 53.5,242.6 52.8,242.4 52.1,242.5 51.5,242.6 50.8,242.8 50.4,243.1 50.1,243.6 50.1,244.1 50.2,244.6 50.4,245.1 50.6,245.6 50.7,246.4 50.3,246.7 49.8,246.6 49.3,246.4 48.8,246.1 48.3,245.8 47.8,245.6 47.3,245.2 47.1,244.9 47,244.1 47.1,243.6 47.3,243.1 47.4,242.4 47.1,242 46.8,241.6 47.1,241.2 47.6,241.4 47.8,242 48.3,242.3 49.1,242.2 49.5,241.9 49.8,241.6 50.2,241.1 50.6,240.9 51.3,240.6 51.6,240.6 52.3,240.8 52.8,241 53.6,241.1 54.3,240.9 54.8,240.7 55.1,240.4 55.5,239.9 55.6,239.4 55.6,238.6 55.6,238.1 55.5,237.4 55.3,236.8 55.2,236.1 55,235.6 54.8,235 54.6,234.4 54.4,233.9 54.8,233.6 55.6,233.4 56,233.1 56.1,232.6 55.9,232.1 55.6,231.6 55.3,231.1 54.9,230.9 54.6,230.9 54.1,231.4 53.9,231.9 53.6,232.3 53.1,232.4 52.6,232.1 52.2,231.9 51.8,231.6 51.3,231.2 51,231.1 50.5,231.4 50.1,231.9 49.8,232.4 49.5,232.6 48.8,232.7 48.4,232.4 48.1,232 47.9,231.4 48.1,230.6 48.3,230.3 48.8,230.1 49.6,230 50.3,229.9 50.8,229.8 51.3,229.6 52,229.4 52.6,229.2 53.2,229.1 53.8,229.1 54.3,229.2 54.9,229.4 55.6,229.4 56.1,229.4 56.8,229.3 57.6,229.3 58.1,229.4 58.8,229.4 59.3,229.2 59.8,229.6 59.9,230.1 60.2,230.6 60.4,231.1 60.6,231.9 60.5,232.6 60.3,233.1 60.1,233.6 59.8,234.1 59.7,234.9 59.9,235.4 60.2,235.9 60.4,236.4 60.3,237 60.1,237.4 59.7,237.9 59.7,238.6 59.9,239.1 60.1,239.8 60.1,240.4 60,240.9 59.8,241.4 59.8,242.1 59.8,242.7 59.8,243.2 59.7,243.9 59.5,244.4 59.3,244.9 59,245.4 58.6,245.3 57.8,245.2 57.3,245.4 57,245.9 56.8,246.6 57.1,247.2 57.6,247.5 58.3,247.4 58.6,247.1 58.9,246.6 59.3,246.2 59.8,246.6 59.9,247.1 59.8,247.9 59.6,248.2 59.1,248.5 58.6,248.8 58.4,249.4 58.3,250 58.2,250.6 57.8,251 M51.6,235.7 51.1,235.5 51,234.9 51.3,234.5 51.8,234.2 52.3,234 52.7,234.4 52.4,234.9 52.1,235.3 51.7,235.6 M47.6,237.9 47,237.9 46.3,237.7 46,237.4 45.8,236.7 45.8,236.1 46.1,235.7 46.6,235.5 47.1,235.4 47.8,235.3 48.2,235.6 48.5,236.1 48.6,236.6 48.6,237.1 48.2,237.6 47.7,237.9 M46.3,250.9 45.6,250.9 45.1,250.7 44.7,250.4 44.5,249.9 44.7,249.4 45.1,249 45.6,248.7 46.1,248.6 46.6,248.7 47.1,249 47.4,249.4 47.3,250 47,250.4 46.6,250.8 M53.1,254.2 52.3,254.2 51.8,254 51.3,253.8 50.8,253.4 50.8,253.1 51.1,252.6 51.3,252 51.6,251.6 52.1,251.2 52.6,250.9 53,250.6 53.5,250.4 54.1,250.2 54.4,250.6 54.3,251.1 54.1,251.8 53.9,252.4 53.8,252.9 53.6,253.6 53.3,254 M57.8,250.7 57.1,250.8 56.6,250.6 56.2,250.1 56.2,249.4 56.4,248.9 56.4,248.1 56.1,247.8 55.3,247.7 54.8,247.9 54.3,248.2 53.8,248.1 53.4,247.6 53.5,246.9 53.6,246.4 53.6,245.6 53.6,244.9 53.8,244.1 54,243.6 54.3,243.1 54.6,242.6 54.6,242.3 54.3,241.9 54.6,241.5 55.1,241.1 55.5,240.9 56,240.9 56.3,241.4 56.6,241.7 57.3,241.8 57.8,241.5 58,240.9 57.6,240.4 57.1,240.1 56.6,239.9 56.3,239.6 56.1,239.1 55.9,238.4 55.8,237.9 55.7,237.1 55.6,236.5 55.4,235.9 55.2,235.4 55.1,234.9 55,234.1 55.3,233.9 56.1,233.6 56.6,233.4 56.6,233 56.3,232.5 56.1,232.1 55.8,231.6 55.6,231.1 55.2,230.6 54.6,230.4 54.1,230.9 53.8,231.3 53.6,231.7 53.1,231.9 52.6,231.8 52.1,231.4 51.8,231.1 51.6,230.6 51.7,230.1 52.1,229.9 52.6,229.6 53.3,229.5 54.1,229.5 54.6,229.7 55.3,229.8 55.9,229.6 56.6,229.5 57.3,229.5 57.8,229.8 58.1,230.3 58.1,230.9 58.3,231.6 58.6,231.6 58.8,231.1 59.1,230.5 59.6,230.3 59.9,230.6 60.2,231.1 60.4,231.6 60.4,232.4 60.3,232.9 60,233.4 59.7,233.9 59.5,234.4 59.5,235.1 59.8,235.6 60.1,236 60.2,236.6 60,237.1 59.6,237.6 59.4,238.1 59.6,238.8 59.8,239.4 59.9,239.9 59.8,240.5 59.6,241.1 59.4,241.6 59.5,242.4 59.6,243.1 59.4,243.9 59.3,244.4 58.9,244.9 58.3,245 57.6,245 57.1,245.3 56.8,245.7 56.6,246.4 56.7,247.1 57.1,247.6 57.6,247.8 58.1,247.9 58.5,247.6 58.8,247.2 59.1,246.9 59.6,247 59.6,247.6 59.3,248 58.8,248.2 58.3,248.6 58.2,249.1 58.1,249.9 58,250.4 M49.1,231.9 48.6,231.7 48.3,231.4 48.4,230.9 48.8,230.4 49.3,230.3 49.8,230.4 50.1,230.9 49.8,231.4 49.6,231.7 49.1,231.9 M47.8,237.4 47.1,237.5 46.6,237.3 46.3,236.9 46.3,236.2 46.6,235.9 47.3,235.7 48,235.9 48.3,236.4 48.1,237.1 47.8,237.4 M50.8,242.4 50.3,242.4 50.3,241.9 50.7,241.4 51.1,241.1 51.8,241.1 52.3,241.4 52.3,241.7 51.8,242.1 51.3,242.3 50.8,242.4 M50.3,246.2 49.6,246.3 49.1,246 48.6,245.8 48.1,245.5 47.6,245.1 47.3,244.7 47.3,244.1 47.6,243.7 47.9,243.4 48.5,243.1 49.1,243 49.6,243.1 49.8,243.9 49.9,244.4 50.1,244.9 50.3,245.6 50.3,246.1 M46.1,250.7 45.6,250.6 45.1,250.2 44.9,249.6 45.3,249.1 45.8,248.9 46.2,248.9 46.8,249.1 47.1,249.5 47.1,249.9 46.7,250.4 46.2,250.6 M53.1,253.9 52.3,253.9 51.8,253.7 51.5,253.4 51.4,252.6 51.6,252.1 51.9,251.6 52.3,251.3 52.8,251 53.3,250.7 53.8,250.6 54.1,251.1 53.8,251.9 53.7,252.4 53.6,253.1 53.4,253.6 53.1,253.9 M59.1,241.1 58.5,240.9 58.1,240.4 57.8,240.1 57.3,239.8 56.8,239.5 56.5,239.1 56.3,238.6 56.1,237.9 56.1,237.1 56,236.6 55.8,236 55.6,235.5 55.4,234.9 55.6,234.2 56.1,234.1 56.8,233.9 57.3,233.6 57.4,233.1 57.1,232.8 56.6,232.4 56.3,232.1 56,231.6 55.8,231.1 55.5,230.6 55.6,230.1 56.1,229.8 56.8,229.6 57.5,229.9 57.8,230.4 57.8,230.9 57.9,231.6 58.1,232.3 58.6,232.1 58.9,231.6 59.2,231.1 59.6,230.8 60,231.1 60.2,231.6 60.2,232.4 60.1,232.9 59.8,233.4 59.5,233.9 59.2,234.4 59.3,235.1 59.6,235.6 59.8,236 60,236.6 59.7,237.1 59.3,237.4 59.1,237.9 59.2,238.4 59.4,238.9 59.6,239.4 59.7,240.1 59.5,240.6 59.1,241.1 M53.3,231.4 52.6,231.4 52.3,231.1 52.3,230.4 52.7,230.1 53.3,230 53.8,230.4 53.6,231 53.3,231.4 M47.6,237 46.9,236.9 46.8,236.4 47.1,236.1 47.6,236.1 47.9,236.6 47.6,237 M54.6,247.7 53.8,247.6 53.8,247.1 54,246.6 54,245.9 53.9,245.1 54,244.4 54.2,243.9 54.6,243.4 54.8,243.1 55.3,242.7 55.8,242.4 56.5,242.6 56.8,242.9 57.3,242.6 57.6,242.3 58.1,241.9 58.6,241.7 59,242.1 59.2,242.6 59.3,243.4 59.1,244.1 58.8,244.5 58.3,244.7 57.6,244.7 57.1,245 56.8,245.4 56.5,245.9 56.3,246.6 56.2,247.1 55.6,247.3 55.1,247.4 54.6,247.7 M49.8,246 49.2,245.9 48.7,245.6 48.3,245.4 47.8,245 47.7,244.4 48,243.9 48.6,243.6 48.9,243.6 49.4,243.9 49.6,244.4 49.8,244.9 50,245.6 M57.6,250.5 56.8,250.4 56.5,250.1 56.5,249.4 56.7,248.9 56.9,248.4 57.6,248.3 57.9,248.6 57.9,249.4 57.8,250.1 57.6,250.5 M46.3,250.3 45.6,250.2 45.3,249.9 45.5,249.4 46.1,249.1 46.6,249.4 46.6,250.1 M52.8,253.7 52.3,253.6 51.9,253.1 51.8,252.6 51.9,252.1 52.3,251.6 52.6,251.4 53.1,251.1 53.7,251.1 53.6,251.9 53.5,252.4 53.4,253.1 53.1,253.5 M57.1,232.1 56.6,231.9 56.3,231.6 56,231.1 56,230.4 56.3,230 57.1,230 57.4,230.4 57.5,231.1 57.4,231.9 57.1,232.1 M58.8,233.6 58.7,233.1 58.9,232.6 59.2,232.1 59.5,231.6 59.8,231.6 59.9,232.4 59.8,232.9 59.4,233.4 58.9,233.6 M59.1,240.2 58.5,240.1 58.1,239.9 57.6,239.5 57.2,239.1 56.8,238.7 56.6,238.1 56.7,237.4 56.8,236.8 56.9,236.1 56.8,235.5 56.8,235.1 57.3,234.7 57.8,234.6 58.3,234.6 58.8,235.1 59.1,235.5 59.4,235.9 59.5,236.6 59.1,237 58.6,237.4 58.5,237.9 58.8,238.4 59,238.9 59.2,239.4 59.2,240.1 M58.3,243.9 58.1,243.4 58.3,242.8 58.7,243.1 58.6,243.8 M55.6,246.2 55.1,246.1 54.6,245.6 54.4,245.1 54.3,244.6 54.5,244.1 54.8,243.8 55.3,243.4 55.8,243.4 56.2,243.6 56.6,244.1 56.7,244.6 56.5,245.1 56.2,245.6 55.8,246.1 M49.3,245.3 48.7,245.1 48.4,244.6 49.1,244.5 49.4,244.9 M52.8,253 52.4,252.6 52.6,252.1 53.1,251.8 53.1,252.4 53,252.9 M56.8,231.4 56.5,230.9 56.8,230.6 57,231.1" fill="none" stroke="#111" stroke-width="0.45"/>
<g fill="#333"><circle cx="67" cy="240.2" r="0.42"/><circle cx="60.7" cy="223.4" r="0.42"/><circle cx="46" cy="278.1" r="0.42"/><circle cx="24.4" cy="253.6" r="0.42"/><circle cx="53.7" cy="223.4" r="0.42"/><circle cx="55.6" cy="274.3" r="0.42"/><circle cx="27" cy="222.8" r="0.42"/><circle cx="66.8" cy="222.3" r="0.42"/><circle cx="66.8" cy="232.6" r="0.42"/><circle cx="32.9" cy="276" r="0.42"/><circle cx="58.9" cy="220.7" r="0.42"/><circle cx="32.3" cy="275.1" r="0.42"/><circle cx="34.4" cy="247.6" r="0.42"/><circle cx="30.9" cy="221.8" r="0.42"/><circle cx="69.6" cy="245.1" r="0.42"/><circle cx="30.1" cy="239.5" r="0.42"/><circle cx="68.2" cy="244.9" r="0.42"/><circle cx="36.6" cy="257.3" r="0.42"/><circle cx="36.5" cy="252" r="0.42"/><circle cx="59" cy="280.2" r="0.42"/><circle cx="25.7" cy="224.2" r="0.42"/><circle cx="38.2" cy="268" r="0.42"/><circle cx="36.4" cy="236.9" r="0.42"/><circle cx="26.5" cy="263.5" r="0.42"/><circle cx="23.3" cy="274" r="0.42"/><circle cx="54.4" cy="279.7" r="0.42"/><circle cx="27.1" cy="229.1" r="0.42"/><circle cx="23.1" cy="239.1" r="0.42"/><circle cx="35" cy="276.3" r="0.42"/><circle cx="59.4" cy="276.5" r="0.42"/><circle cx="37" cy="234.8" r="0.42"/><circle cx="52.3" cy="276" r="0.42"/><circle cx="35.3" cy="236.6" r="0.42"/><circle cx="76.8" cy="234.9" r="0.42"/><circle cx="36" cy="259.7" r="0.42"/><circle cx="69" cy="239.9" r="0.42"/><circle cx="25.3" cy="239" r="0.42"/><circle cx="33.5" cy="235.7" r="0.42"/><circle cx="74.3" cy="238" r="0.42"/><circle cx="54" cy="223.6" r="0.42"/><circle cx="48.4" cy="221.7" r="0.42"/><circle cx="31.2" cy="259.3" r="0.42"/><circle cx="70.7" cy="244.8" r="0.42"/><circle cx="36.3" cy="251.7" r="0.42"/><circle cx="26" cy="266.3" r="0.42"/><circle cx="71.8" cy="226.8" r="0.42"/><circle cx="67.1" cy="227.1" r="0.42"/><circle cx="67.8" cy="229.5" r="0.42"/><circle cx="38.4" cy="231.2" r="0.42"/><circle cx="36.6" cy="260" r="0.42"/><circle cx="70.3" cy="234.9" r="0.42"/><circle cx="69.1" cy="232.2" r="0.42"/><circle cx="36.3" cy="249.1" r="0.42"/><circle cx="71.5" cy="224.6" r="0.42"/><circle cx="49.4" cy="222.9" r="0.42"/><circle cx="35.3" cy="253.7" r="0.42"/><circle cx="34.9" cy="259.6" r="0.42"/><circle cx="70.8" cy="230.7" r="0.42"/><circle cx="35.2" cy="249.2" r="0.42"/><circle cx="63.9" cy="220.6" r="0.42"/><circle cx="27.7" cy="236.6" r="0.42"/><circle cx="78.3" cy="245.6" r="0.42"/><circle cx="33.9" cy="228.3" r="0.42"/><circle cx="32.1" cy="233.6" r="0.42"/><circle cx="75.4" cy="247.5" r="0.42"/><circle cx="69.5" cy="246.5" r="0.42"/><circle cx="60.9" cy="223.8" r="0.42"/><circle cx="67.8" cy="254.3" r="0.42"/><circle cx="54.1" cy="222" r="0.42"/><circle cx="52" cy="277.8" r="0.42"/><circle cx="45.1" cy="225.5" r="0.42"/><circle cx="34.9" cy="228.3" r="0.42"/><circle cx="36.6" cy="225.3" r="0.42"/><circle cx="48.3" cy="279.7" r="0.42"/><circle cx="66.7" cy="230.2" r="0.42"/><circle cx="30.9" cy="247.3" r="0.42"/><circle cx="34.6" cy="279.6" r="0.42"/><circle cx="57.9" cy="276.5" r="0.42"/><circle cx="71.2" cy="220.9" r="0.42"/><circle cx="29.6" cy="242.5" r="0.42"/><circle cx="36.1" cy="247.1" r="0.42"/><circle cx="31.6" cy="254.2" r="0.42"/><circle cx="38.2" cy="232.8" r="0.42"/><circle cx="69.6" cy="232.5" r="0.42"/><circle cx="56.6" cy="219.7" r="0.42"/><circle cx="27.2" cy="221" r="0.42"/><circle cx="35.6" cy="244.2" r="0.42"/><circle cx="34.6" cy="222.2" r="0.42"/><circle cx="64.5" cy="225.4" r="0.42"/><circle cx="21.5" cy="232.8" r="0.42"/><circle cx="51.5" cy="221.9" r="0.42"/><circle cx="51.4" cy="220.7" r="0.42"/><circle cx="61" cy="275.3" r="0.42"/><circle cx="34.5" cy="238.2" r="0.42"/><circle cx="34.6" cy="225.6" r="0.42"/><circle cx="33.6" cy="254.7" r="0.42"/><circle cx="50.3" cy="219.8" r="0.42"/><circle cx="36.6" cy="228" r="0.42"/><circle cx="41.8" cy="277.3" r="0.42"/><circle cx="36.3" cy="274.1" r="0.42"/><circle cx="35.1" cy="249.1" r="0.42"/><circle cx="75.4" cy="222.3" r="0.42"/><circle cx="66.8" cy="231.9" r="0.42"/><circle cx="28.4" cy="220.7" r="0.42"/><circle cx="39.6" cy="226.5" r="0.42"/><circle cx="57.6" cy="220.5" r="0.42"/><circle cx="47.3" cy="223.3" r="0.42"/><circle cx="69.2" cy="248.8" r="0.42"/><circle cx="59.4" cy="222.7" r="0.42"/><circle cx="67.1" cy="223.8" r="0.42"/><circle cx="34.4" cy="274.3" r="0.42"/><circle cx="36.7" cy="233" r="0.42"/><circle cx="75" cy="232.5" r="0.42"/><circle cx="46.4" cy="222.4" r="0.42"/><circle cx="75.7" cy="265.1" r="0.42"/><circle cx="74.3" cy="251.9" r="0.42"/><circle cx="71.6" cy="244" r="0.42"/><circle cx="70.4" cy="247.8" r="0.42"/><circle cx="59.1" cy="222.6" r="0.42"/><circle cx="68.7" cy="228.5" r="0.42"/><circle cx="31.6" cy="246.2" r="0.42"/><circle cx="40.8" cy="276.8" r="0.42"/><circle cx="63.3" cy="268.3" r="0.42"/><circle cx="69.2" cy="249.3" r="0.42"/><circle cx="67.8" cy="242.3" r="0.42"/><circle cx="44.6" cy="220.1" r="0.42"/><circle cx="61.2" cy="273.7" r="0.42"/><circle cx="27.2" cy="221.8" r="0.42"/><circle cx="54.2" cy="223.3" r="0.42"/><circle cx="29.2" cy="253.4" r="0.42"/><circle cx="74.2" cy="267.7" r="0.42"/><circle cx="26.2" cy="264" r="0.42"/><circle cx="73.4" cy="239" r="0.42"/><circle cx="64.4" cy="224.3" r="0.42"/><circle cx="28.7" cy="220.9" r="0.42"/><circle cx="57.5" cy="271.6" r="0.42"/><circle cx="61.7" cy="278.4" r="0.42"/><circle cx="30.1" cy="228" r="0.42"/><circle cx="35.5" cy="272.7" r="0.42"/><circle cx="68.7" cy="236.3" r="0.42"/><circle cx="29.8" cy="231.5" r="0.42"/><circle cx="69.9" cy="241.5" r="0.42"/><circle cx="44" cy="220" r="0.42"/><circle cx="76.1" cy="238.4" r="0.42"/><circle cx="29.1" cy="225.3" r="0.42"/><circle cx="70" cy="254.9" r="0.42"/><circle cx="31" cy="241.6" r="0.42"/><circle cx="56.6" cy="272.7" r="0.42"/><circle cx="68.6" cy="273.8" r="0.42"/><circle cx="35" cy="232" r="0.42"/><circle cx="34.7" cy="229.9" r="0.42"/><circle cx="45" cy="276.2" r="0.42"/><circle cx="36.2" cy="241.6" r="0.42"/><circle cx="48.6" cy="222.7" r="0.42"/><circle cx="51.2" cy="221.2" r="0.42"/><circle cx="26.5" cy="279.5" r="0.42"/><circle cx="30.6" cy="246" r="0.42"/><circle cx="53.2" cy="221.4" r="0.42"/><circle cx="26.2" cy="242.1" r="0.42"/><circle cx="36.6" cy="241.7" r="0.42"/><circle cx="35.4" cy="238.2" r="0.42"/><circle cx="20" cy="276.9" r="0.42"/><circle cx="48.3" cy="276.6" r="0.42"/><circle cx="42.8" cy="223.4" r="0.42"/><circle cx="55" cy="223.8" r="0.42"/><circle cx="69" cy="236.6" r="0.42"/><circle cx="36.3" cy="270.5" r="0.42"/><circle cx="32.4" cy="248.3" r="0.42"/><circle cx="35.1" cy="256.7" r="0.42"/><circle cx="35.5" cy="245.6" r="0.42"/></g>
</g>
<g font-size="2.6" fill="#777" text-anchor="end"><text x="16.2" y="221">10<tspan font-size="1.8" dy="-1">4</tspan></text><text x="16.2" y="236">10<tspan font-size="1.8" dy="-1">3</tspan></text><text x="16.2" y="251.1">10<tspan font-size="1.8" dy="-1">2</tspan></text><text x="16.2" y="266.1">10<tspan font-size="1.8" dy="-1">1</tspan></text><text x="16.2" y="281.1">10<tspan font-size="1.8" dy="-1">0</tspan></text></g>
<g font-size="2.6" fill="#777" text-anchor="middle"><text x="18.7" y="285.2">10<tspan font-size="1.8" dy="-1">0</tspan></text><text x="33.9" y="285.2">10<tspan font-size="1.8" dy="-1">1</tspan></text><text x="49.1" y="285.2">10<tspan font-size="1.8" dy="-1">2</tspan></text><text x="64.3" y="285.2">10<tspan font-size="1.8" dy="-1">3</tspan></text><text x="79.5" y="285.2">10<tspan font-size="1.8" dy="-1">4</tspan></text></g>
<path d="M18.7,281.6v-1M33.9,281.6v-1M49.1,281.6v-1M64.3,281.6v-1M79.5,281.6v-1M17.2,220h1M17.2,235h1M17.2,250.1h1M17.2,265.1h1M17.2,280.1h1" stroke="#777" stroke-width="0.5"/>
<rect x="84.8" y="218.5" width="63.4" height="63.1" fill="#fff" stroke="#888" stroke-width="0.8"/>
<clipPath id="cp_p22"><rect x="84.8" y="218.5" width="63.4" height="63.1"/></clipPath>
<g clip-path="url(#cp_p22)">
<path d="M125.9,265.4 125.4,265.4 124.7,265.2 124.2,265.1 123.7,264.9 123,264.6 122.4,264.4 121.9,264.2 121.4,264 120.9,263.8 120.4,263.5 119.9,263.3 119.4,263 118.9,262.6 118.7,262.4 118.2,261.9 117.9,261.4 117.7,260.9 117.4,260.4 117.2,259.9 117,259.4 116.8,258.9 116.6,258.4 116.4,257.9 116.2,257.3 115.9,256.6 115.8,256.1 115.6,255.6 115.4,255.1 115.2,254.5 115,253.9 114.8,253.4 114.6,252.9 114.4,252.1 114.3,251.6 114.2,250.9 114.1,250.4 114,249.6 114,248.9 113.9,248.4 113.8,247.6 113.8,246.9 113.7,246.1 113.6,245.6 113.5,244.9 113.5,244.1 113.4,243.6 113.3,242.9 113.2,242.1 113.2,241.4 113.1,240.9 113,240.1 113,239.4 112.9,238.7 112.9,238.1 112.9,237.4 112.9,236.9 113,236.1 113,235.4 113,234.6 113,233.9 113,233.1 113.1,232.4 113.1,231.6 113.1,230.9 113.2,230.4 113.3,229.6 113.4,229.1 113.7,228.6 114.1,228.1 114.4,227.9 115,227.6 115.7,227.4 116.2,227.4 116.9,227.3 117.7,227.2 118.4,227.2 119.2,227.2 119.9,227.2 120.6,227.1 121.2,227.1 121.9,227 122.7,227 123.4,227 124.2,226.9 124.9,226.9 125.7,226.9 126.2,226.9 126.9,226.9 127.7,226.9 128.4,226.9 129.2,226.9 129.7,226.9 130.4,226.9 130.9,226.9 131.6,226.9 132.2,226.9 132.9,227 133.5,227.1 134.2,227.4 134.6,227.6 135,227.9 135.4,228.4 135.7,228.8 135.9,229.4 136,229.9 136,230.6 136,231.4 135.9,232.1 135.9,232.6 135.9,233.4 135.9,234.1 135.9,234.7 136,235.4 136,236.1 136.1,236.9 136.1,237.6 136.2,238.1 136.2,238.9 136.2,239.6 136.2,240.4 136.2,241.1 136.2,241.9 136.2,242.6 136.2,243.4 136.2,244.1 136.2,244.6 136.1,245.4 136.1,246.1 136,246.9 136,247.6 136,248.4 136,249.1 136,249.9 135.9,250.6 135.9,251.1 135.8,251.9 135.7,252.4 135.5,253.1 135.4,253.6 135.2,254.2 134.9,254.9 134.8,255.4 134.6,255.9 134.4,256.4 134.2,257.1 134,257.6 133.8,258.1 133.6,258.6 133.4,259.2 133.2,259.7 132.9,260.2 132.7,260.6 132.3,261.1 131.9,261.5 131.4,261.9 131.1,262.1 130.7,262.4 130.2,262.8 129.8,263.1 129.4,263.4 128.9,263.8 128.5,264.1 128.2,264.4 127.7,264.7 127.2,265 126.7,265.2 126,265.4Z M113.5,239.4 113.4,238.9 113.4,239.4Z M128.4,263.6 128.9,263.2 129.2,262.9 129.4,262.5 129.1,262.1 128.7,261.7 127.9,261.8 127.6,262.1 127.7,262.7 128.2,263.1 128.4,263.6Z M125.7,281.4 124.9,281.4 124.2,281.4 123.4,281.4 122.7,281.4 121.9,281.4 121.2,281.4 120.4,281.4 119.7,281.4 118.9,281.4 118.2,281.4 117.4,281.4 116.7,281.4 116.2,281.3 115.7,281 115.4,280.4 115.8,279.9 116.2,279.6 116.9,279.4 117.4,279.2 117.9,279.1 118.7,279 119.4,278.9 119.9,278.9 120.7,278.8 121.4,278.8 122.2,278.9 122.7,278.9 123.4,279 124.2,279.1 124.7,279.2 125.2,279.4 125.7,279.6 126.2,279.9 126.6,280.4 126.4,280.9 125.9,281.3Z" fill="#888" fill-opacity="0.22" stroke="none"/>
<path d="M124.9,263.7 124.2,263.8 123.4,263.8 122.9,263.6 122.4,263.4 121.9,263.1 121.4,262.8 120.9,262.4 120.4,262.2 119.9,261.9 119.4,261.6 119.1,261.4 118.7,260.9 118.4,260.6 118.2,260.1 117.9,259.5 117.7,258.9 117.5,258.4 117.3,257.9 117.2,257.3 117,256.6 117,255.9 117.1,255.1 117.2,254.4 117.2,254 116.9,253.4 116.7,253.1 116.2,252.7 115.9,252.4 115.6,251.9 115.4,251.3 115.3,250.6 115.2,249.9 115.2,249.4 115.1,248.6 115,247.9 115.1,247.1 115.1,246.4 115.1,245.6 115,244.9 115.1,244.1 115.3,243.6 115.6,243.1 115.9,242.7 116.2,242.4 116.6,241.9 116.9,241.6 117.4,241.4 118.2,241.1 118.7,241 119.2,240.6 119.4,240.2 119.6,239.6 119.7,239.1 119.8,238.4 119.8,237.6 119.4,237.2 118.9,237.1 118.3,237.1 117.7,237.2 116.9,237.1 116.6,236.9 116.6,236.1 116.4,235.5 115.9,235.1 115.2,235.2 114.6,235.1 114.2,234.7 113.9,234.2 113.8,233.6 113.8,232.9 113.9,232.2 114.1,231.6 114.2,231.1 114.4,230.4 114.6,229.9 114.8,229.4 115.1,228.9 115.4,228.5 115.9,228.2 116.4,228.1 117.2,227.9 117.9,227.9 118.7,228.1 119.2,228.3 119.6,228.6 120.1,228.9 120.4,228.8 120.9,228.4 121.4,228.1 121.9,227.9 122.4,227.8 123.2,227.7 123.9,227.7 124.7,227.7 125.4,227.7 126.2,227.7 126.8,227.6 127.4,227.6 128.2,227.5 128.8,227.6 129.4,227.8 129.9,228 130.4,228.2 131.2,228.4 131.7,228.4 132.4,228.4 133.2,228.5 133.7,228.8 134.2,229.1 134.4,229.4 134.8,229.9 135,230.4 135.1,231.1 135,231.9 134.9,232.6 134.9,233.1 134.8,233.9 134.8,234.6 134.9,235.4 134.9,236.1 134.9,236.6 134.9,237.1 134.9,237.9 134.8,238.6 134.7,239.4 134.7,240.1 134.9,240.9 135.1,241.4 135.2,242.1 135.1,242.9 134.9,243.4 134.6,243.9 134.5,244.6 134.6,245.4 134.8,245.9 135,246.4 135.2,247.1 135.2,247.6 135.3,248.4 135.2,249.1 135.2,249.7 135.1,250.4 134.9,251.1 134.8,251.6 134.6,252.1 134.4,252.6 134.2,253.4 134.1,253.9 134,254.6 133.9,255.1 133.7,255.9 133.5,256.4 133.2,256.9 133,257.4 132.8,257.9 132.6,258.4 132.3,258.9 132,259.4 131.7,259.8 131.2,260.1 130.7,260.3 129.9,260.2 129.4,260 128.7,260 128,260.1 127.4,260.3 126.9,260.4 126.2,260.5 125.7,260.7 125.3,261.1 125.4,261.9 125.5,262.4 125.4,263.1 125.2,263.5Z M130.4,235.4 130.9,235 131.3,234.6 131.7,234.1 131.9,233.6 131.9,232.9 131.8,232.1 131.7,231.4 131.5,230.9 130.9,230.8 130.4,231.1 130.1,231.4 129.7,231.8 129.3,232.1 128.9,232.6 128.7,233 128.6,233.6 128.7,234.1 129,234.6 129.4,235.1 129.8,235.4 130.4,235.4Z M124,235.6 124.1,234.9 123.8,234.4 123.5,233.9 123.2,233.5 122.7,233.2 122.1,233.4 121.8,233.9 121.9,234.6 122.2,235 122.7,235.4 123.2,235.6 123.7,235.8Z M125,241.9 125.4,241.5 125.5,240.9 125.4,240.4 125.2,239.9 124.8,239.4 124.4,239.1 123.8,239.1 123.4,239.4 123.1,239.9 123.1,240.6 123.2,241.1 123.7,241.6 124.2,241.9 124.7,241.9Z M129.7,249.1 129.9,248.4 129.9,247.9 130.1,247.1 130.3,246.6 130.5,246.1 130.3,245.6 129.7,245.6 129.2,245.9 128.9,246.2 128.5,246.6 128.2,247 127.9,247.4 127.8,248.1 128,248.6 128.4,249 128.9,249.2 129.7,249.1Z M121.5,248.4 121.8,247.9 121.7,247.1 121.4,247.1 120.9,247.4 120.7,248.1 121.2,248.5Z M122.3,251.6 122.7,251.4 122.7,250.8 122.2,250.6 121.6,250.6 121.1,250.9 121.1,251.6 121.7,251.8 122.3,251.6Z M130.2,253.1 130.7,252.9 131,252.4 131.2,251.9 131.2,251.2 130.9,250.9 130.4,251 130.1,251.4 129.8,251.9 129.7,252.4 129.7,252.9 130.2,253.1Z M124.7,253.9 124.7,253.4 124.2,253.1 124.1,253.6 124.4,254Z M124.3,258.1 124.7,257.7 124.9,257.2 124.9,256.6 124.7,256.4 124,256.4 123.6,256.6 123.3,257.1 123.3,257.9 123.7,258.2 124.3,258.1Z" fill="#444" fill-opacity="0.12" stroke="none"/>
<path d="M133.9,281.4 133.2,281.5 132.4,281.5 131.7,281.6 130.9,281.6 130.2,281.6 129.4,281.6 128.7,281.6 127.9,281.6 127.2,281.6 126.4,281.6 125.7,281.6 124.9,281.6 124.2,281.6 123.4,281.6 122.7,281.6 121.9,281.6 121.2,281.6 120.4,281.6 119.7,281.6 118.9,281.6 118.2,281.6 117.4,281.6 116.7,281.6 115.9,281.6 115.2,281.6 114.4,281.6 113.7,281.6 112.9,281.6 112.2,281.6 111.4,281.6 110.7,281.6 109.9,281.6 109.2,281.6 108.4,281.5 107.7,281.5 106.9,281.5 106.2,281.5 105.4,281.4 105.2,280.9 105.1,280.4 104.9,279.7 104.7,279.1 104.5,278.6 104.3,278.1 104.1,277.6 103.8,277.1 103.6,276.6 103.3,276.1 103,275.6 102.8,275.1 102.6,274.6 102.4,274.1 102.2,273.6 101.9,272.9 101.8,272.4 101.7,271.9 101.5,271.1 101.4,270.6 101.2,269.9 101.1,269.4 100.9,268.7 100.8,268.1 100.7,267.6 100.5,266.9 100.4,266.4 100.2,265.6 100.1,265.1 100,264.4 99.9,263.6 99.9,263.1 99.9,262.4 99.9,261.6 99.9,261.1 100,260.4 100.1,259.6 100.2,258.9 100.2,258.4 100.3,257.6 100.4,256.9 100.5,256.4 100.6,255.6 100.7,254.9 100.7,254.4 100.8,253.6 100.9,253.1 101,252.4 101.2,251.7 101.3,251.1 101.4,250.6 101.6,249.9 101.8,249.4 102,248.9 102.2,248.2 102.4,247.6 102.6,247.1 102.7,246.6 102.9,246.1 103.2,245.4 103.4,244.9 103.5,244.4 103.7,243.9 103.9,243.3 104.1,242.6 104.3,242.1 104.5,241.6 104.7,241.1 104.9,240.4 105.1,239.9 105.3,239.4 105.5,238.9 105.7,238.3 105.9,237.6 106.1,237.1 106.3,236.6 106.4,236.1 106.7,235.5 106.9,234.9 107.1,234.4 107.3,233.9 107.5,233.4 107.7,232.9 107.9,232.3 108.2,231.7 108.4,231.1 108.7,230.6 108.9,230.1 109.2,229.6 109.4,229.2 109.7,228.9 110.1,228.4 110.4,228 110.8,227.6 111.2,227.4 111.7,227 112.2,226.7 112.7,226.4 113.2,226.2 113.7,226 114.2,225.8 114.9,225.7 115.4,225.6 116,225.4 116.6,225.1 117.2,224.9 117.7,224.9 118.2,224.9 118.7,225.1 119.4,225.2 120.2,225.3 120.9,225.3 121.7,225.2 122.4,225.2 123.2,225.3 123.9,225.3 124.7,225.4 125.2,225.4 125.9,225.4 126.5,225.4 127.2,225.3 127.9,225.3 128.7,225.2 129.4,225.1 129.9,225.1 130.7,224.9 131.2,224.7 131.7,224.5 132.4,224.6 132.9,224.8 133.4,225.1 133.9,225.3 134.4,225.4 135.1,225.6 135.7,225.8 136.2,226 136.7,226.2 137.2,226.4 137.7,226.7 138.2,227 138.7,227.3 139.1,227.6 139.4,227.9 139.8,228.4 140.1,228.9 140.3,229.4 140.4,230.1 140.3,230.9 140.1,231.4 139.9,231.9 139.7,232.4 139.4,233.1 139.3,233.6 139.3,234.4 139.2,235.1 139.3,235.9 139.3,236.6 139.3,237.4 139.3,238.1 139.4,238.9 139.4,239.6 139.4,240.4 139.4,241.1 139.4,241.6 139.5,242.4 139.5,243.1 139.5,243.9 139.6,244.6 139.6,245.4 139.6,246.1 139.6,246.9 139.5,247.6 139.5,248.4 139.5,249.1 139.4,249.9 139.4,250.4 139.4,251.1 139.4,251.9 139.3,252.6 139.3,253.4 139.2,254.1 139.2,254.9 139.1,255.4 139.1,256.1 138.9,256.9 138.9,257.4 138.7,258.1 138.6,258.6 138.5,259.4 138.4,259.9 138.3,260.6 138.2,261.2 138,261.9 137.9,262.4 137.8,263.1 137.6,263.6 137.4,264.4 137.3,264.9 137.2,265.4 137,266.1 136.9,266.6 136.7,267.3 136.5,267.9 136.4,268.4 136.2,269.1 136.1,269.6 135.9,270.1 135.7,270.9 135.6,271.4 135.4,272 135.3,272.6 135.1,273.1 134.9,273.8 134.8,274.4 134.7,274.9 134.5,275.6 134.3,276.1 134.2,276.9 134.1,277.4 134,278.1 134.1,278.9 134.1,279.6 134.1,280.4 134,281.1 M132.4,281.4 131.7,281.5 130.9,281.5 130.2,281.5 129.4,281.5 128.7,281.6 127.9,281.6 127.2,281.6 126.4,281.6 125.7,281.6 124.9,281.6 124.2,281.6 123.4,281.6 122.7,281.6 121.9,281.6 121.2,281.6 120.4,281.6 119.7,281.6 118.9,281.6 118.2,281.6 117.4,281.6 116.7,281.6 115.9,281.6 115.2,281.6 114.4,281.6 113.7,281.6 112.9,281.6 112.2,281.5 111.4,281.5 110.7,281.5 109.9,281.5 109.2,281.5 108.4,281.4 107.9,281.4 107.7,280.6 107.7,280.1 107.7,279.4 107.7,278.6 107.6,277.9 107.4,277.1 107.3,276.6 107.1,276.1 106.9,275.5 106.7,274.9 106.5,274.4 106.4,273.9 106.2,273.2 106,272.6 105.8,272.1 105.7,271.6 105.5,270.9 105.3,270.4 105.2,269.8 105,269.1 104.9,268.6 104.7,267.9 104.5,267.4 104.4,266.9 104.2,266.1 104.1,265.6 103.9,265.1 103.7,264.4 103.6,263.9 103.4,263.1 103.3,262.6 103.2,261.9 103.2,261.4 103.1,260.6 103.2,259.9 103.2,259.4 103.2,258.6 103.3,257.9 103.4,257.1 103.4,256.6 103.5,255.9 103.6,255.1 103.6,254.4 103.7,253.9 103.8,253.1 103.9,252.4 103.9,251.8 104,251.1 104.2,250.4 104.3,249.9 104.4,249.1 104.5,248.6 104.7,248.1 104.9,247.4 105,246.9 105.2,246.3 105.4,245.6 105.5,245.1 105.7,244.5 105.9,243.9 106,243.4 106.2,242.7 106.3,242.1 106.5,241.6 106.7,241 106.8,240.4 107,239.9 107.2,239.2 107.4,238.6 107.5,238.1 107.7,237.6 107.9,236.9 108.1,236.4 108.3,235.9 108.4,235.4 108.7,234.7 108.9,234.1 109.1,233.6 109.3,233.1 109.4,232.6 109.7,231.9 109.9,231.4 110,230.9 110.2,230.4 110.5,229.9 110.7,229.4 111.1,228.9 111.4,228.4 111.7,228.1 112.2,227.6 112.4,227.4 112.9,227 113.4,226.7 113.9,226.5 114.4,226.3 115.2,226.2 115.7,226.1 116.4,225.9 116.9,225.8 117.7,225.7 118.4,225.7 119.2,225.8 119.9,225.8 120.7,225.8 121.4,225.8 122.2,225.7 122.9,225.7 123.7,225.7 124.4,225.7 125.2,225.7 125.9,225.7 126.7,225.7 127.4,225.7 128.2,225.7 128.9,225.6 129.5,225.6 130.2,225.6 130.9,225.5 131.7,225.4 132.4,225.4 133.1,225.6 133.7,225.8 134.2,225.9 134.8,226.1 135.4,226.4 135.9,226.6 136.4,226.9 136.8,227.1 137.2,227.4 137.7,227.7 138.1,228.1 138.4,228.5 138.7,228.9 138.9,229.6 139,230.1 138.9,230.8 138.8,231.4 138.6,231.9 138.4,232.5 138.3,233.1 138.2,233.7 138.1,234.4 138.1,235.1 138.1,235.9 138.2,236.6 138.2,237.2 138.2,237.9 138.2,238.6 138.2,239.4 138.3,240.1 138.3,240.9 138.3,241.6 138.3,242.4 138.3,243.1 138.3,243.9 138.4,244.6 138.4,245.4 138.4,246.1 138.4,246.9 138.3,247.6 138.3,248.4 138.3,249.1 138.3,249.9 138.3,250.6 138.2,251.4 138.2,252.1 138.2,252.6 138.1,253.4 138.1,254.1 138,254.9 137.9,255.6 137.9,256.1 137.7,256.9 137.6,257.4 137.5,258.1 137.4,258.6 137.2,259.4 137.1,259.9 137,260.6 136.8,261.1 136.7,261.8 136.5,262.4 136.4,262.9 136.2,263.6 136.1,264.1 135.9,264.8 135.8,265.4 135.6,265.9 135.4,266.6 135.3,267.1 135.2,267.6 135,268.4 134.8,268.9 134.7,269.5 134.5,270.1 134.4,270.6 134.2,271.4 134,271.9 133.9,272.4 133.7,273.1 133.6,273.6 133.4,274.2 133.2,274.9 133.1,275.4 132.9,276.1 132.8,276.6 132.7,277.4 132.6,277.9 132.6,278.6 132.7,279.1 132.8,279.9 132.7,280.6 132.6,281.1 M131.4,281.4 130.7,281.4 129.9,281.5 129.2,281.5 128.4,281.5 127.7,281.5 126.9,281.5 126.2,281.5 125.4,281.6 124.7,281.6 123.9,281.6 123.2,281.6 122.4,281.6 121.7,281.6 120.9,281.6 120.2,281.6 119.4,281.6 118.7,281.6 117.9,281.6 117.2,281.6 116.4,281.5 115.7,281.5 114.9,281.5 114.2,281.5 113.4,281.5 112.7,281.5 111.9,281.5 111.2,281.5 110.4,281.4 109.7,281.4 109.5,280.9 109.4,280.4 109.4,279.6 109.4,279.1 109.5,278.4 109.5,277.6 109.4,277.1 109.2,276.4 109.1,275.9 108.9,275.4 108.7,274.7 108.5,274.1 108.4,273.6 108.2,273 108,272.4 107.8,271.9 107.7,271.4 107.5,270.6 107.3,270.1 107.2,269.6 107,268.9 106.8,268.4 106.7,267.8 106.5,267.1 106.4,266.6 106.2,265.9 106,265.4 105.9,264.9 105.7,264.1 105.5,263.6 105.4,263.1 105.3,262.4 105.2,261.9 105.1,261.1 105,260.4 105,259.6 105.1,258.9 105.1,258.1 105.2,257.6 105.2,256.9 105.3,256.1 105.4,255.4 105.4,254.9 105.5,254.1 105.6,253.4 105.6,252.6 105.7,252.1 105.8,251.4 105.9,250.6 106,250.1 106.1,249.4 106.2,248.9 106.4,248.1 106.5,247.6 106.7,247.1 106.9,246.4 107,245.9 107.2,245.1 107.3,244.6 107.4,244.1 107.6,243.4 107.8,242.9 107.9,242.2 108.1,241.6 108.2,241.1 108.4,240.4 108.5,239.9 108.7,239.4 108.9,238.6 109,238.1 109.2,237.6 109.4,236.9 109.6,236.4 109.8,235.9 110,235.4 110.2,234.7 110.4,234.1 110.5,233.6 110.7,233.1 110.8,232.4 111,231.9 111.1,231.1 111.3,230.6 111.4,230.1 111.7,229.4 111.9,228.9 112.2,228.5 112.4,228.1 112.9,227.6 113.2,227.4 113.7,227 114.2,226.8 114.8,226.6 115.4,226.5 116.1,226.4 116.7,226.3 117.4,226.2 118.2,226.2 118.9,226.2 119.7,226.2 120.4,226.2 121.2,226.1 121.8,226.1 122.4,226.1 123.2,226.1 123.9,226.1 124.7,226 125.4,226 126.2,226 126.9,226 127.7,226 128.4,226 129.2,226 129.9,225.9 130.7,225.9 131.2,225.9 131.9,225.9 132.4,225.9 133.2,226 133.7,226.2 134.4,226.4 134.9,226.6 135.4,226.8 135.9,227.1 136.2,227.4 136.7,227.7 137.1,228.1 137.4,228.5 137.7,228.9 137.9,229.5 138,230.1 138,230.9 137.9,231.4 137.7,232.1 137.5,232.6 137.4,233.3 137.4,233.9 137.4,234.6 137.4,235.4 137.4,236.1 137.5,236.6 137.5,237.4 137.5,238.1 137.6,238.9 137.6,239.6 137.6,240.4 137.6,241.1 137.6,241.9 137.6,242.6 137.6,243.4 137.6,244.1 137.6,244.9 137.6,245.6 137.6,246.4 137.5,247.1 137.5,247.9 137.5,248.6 137.5,249.4 137.5,250.1 137.4,250.9 137.4,251.4 137.3,252.1 137.3,252.9 137.2,253.6 137.1,254.1 137,254.9 136.9,255.4 136.7,256.1 136.6,256.6 136.5,257.4 136.3,257.9 136.2,258.5 136,259.1 135.9,259.6 135.7,260.4 135.6,260.9 135.4,261.5 135.3,262.1 135.1,262.6 135,263.4 134.8,263.9 134.7,264.5 134.5,265.1 134.4,265.6 134.2,266.4 134,266.9 133.9,267.4 133.7,268.1 133.6,268.6 133.4,269.2 133.2,269.9 133.1,270.4 132.9,271 132.8,271.6 132.6,272.1 132.4,272.9 132.3,273.4 132.1,273.9 131.9,274.6 131.8,275.1 131.7,275.7 131.5,276.4 131.4,276.9 131.4,277.6 131.4,278.3 131.5,278.9 131.7,279.6 131.7,280.1 131.7,280.6 131.5,281.4 M126.9,266.6 126.2,266.8 125.4,266.8 124.7,266.7 124.2,266.6 123.5,266.4 122.9,266.2 122.4,266 121.9,265.9 121.3,265.6 120.7,265.4 120.2,265.2 119.7,265 119.2,264.9 118.4,264.8 117.7,264.8 117.2,264.6 116.8,264.1 116.5,263.6 116.3,263.1 116.1,262.6 115.9,262 115.7,261.4 115.6,260.9 115.4,260.2 115.2,259.6 115.1,259.1 114.9,258.5 114.7,257.9 114.5,257.4 114.4,256.9 114.2,256.3 113.9,255.6 113.7,255.1 113.5,254.6 113.4,254.1 113.2,253.6 112.9,252.9 112.8,252.4 112.7,251.6 112.6,251.1 112.5,250.4 112.4,249.6 112.4,249.1 112.3,248.4 112.2,247.6 112.2,247.1 112.1,246.4 112,245.6 111.9,244.9 111.9,244.4 111.8,243.6 111.7,242.9 111.7,242.4 111.6,241.6 111.5,240.9 111.5,240.1 111.4,239.6 111.4,238.9 111.4,238.1 111.4,237.4 111.5,236.9 111.5,236.1 111.6,235.4 111.7,234.7 111.7,234.1 111.8,233.4 111.8,232.6 111.9,231.9 111.9,231.4 112,230.6 112.2,229.9 112.3,229.4 112.5,228.9 112.8,228.4 113.2,227.9 113.4,227.6 113.9,227.3 114.4,227 115,226.9 115.7,226.7 116.4,226.6 116.9,226.6 117.7,226.5 118.4,226.5 119.2,226.5 119.9,226.5 120.7,226.5 121.4,226.4 122.2,226.4 122.9,226.4 123.4,226.4 124.2,226.3 124.9,226.3 125.7,226.3 126.4,226.3 127.2,226.3 127.9,226.3 128.7,226.2 129.4,226.2 130.2,226.2 130.9,226.2 131.7,226.2 132.4,226.2 133.2,226.4 133.7,226.5 134.2,226.6 134.8,226.9 135.3,227.1 135.7,227.4 136.2,227.9 136.4,228.2 136.8,228.6 137,229.1 137.2,229.6 137.3,230.4 137.2,231.1 137.1,231.6 137,232.4 136.9,232.9 136.9,233.6 136.9,234.4 136.9,235.1 136.9,235.9 137,236.4 137,237.1 137.1,237.9 137.1,238.6 137.1,239.4 137.1,240.1 137.1,240.9 137.1,241.6 137.1,242.4 137.1,243.1 137.1,243.9 137.1,244.6 137.1,245.4 137,246.1 137,246.9 137,247.6 137,248.4 137,249.1 137,249.9 136.9,250.4 136.9,251.1 136.8,251.9 136.7,252.6 136.6,253.1 136.4,253.8 136.3,254.4 136.1,254.9 135.9,255.6 135.8,256.1 135.6,256.6 135.4,257.1 135.2,257.9 135,258.4 134.9,258.9 134.7,259.4 134.4,260.1 134.2,260.6 134,261.1 133.8,261.6 133.5,262.1 133.3,262.6 133,263.1 132.8,263.6 132.5,264.1 132.2,264.5 131.7,264.8 130.9,264.7 130.3,264.9 129.8,265.1 129.4,265.4 128.9,265.7 128.4,266 127.9,266.3 127.4,266.5 126.9,266.6 M130.2,281.4 129.4,281.4 128.7,281.5 127.9,281.5 127.2,281.5 126.4,281.5 125.7,281.5 124.9,281.5 124.2,281.5 123.4,281.5 122.7,281.5 121.9,281.5 121.2,281.5 120.4,281.5 119.7,281.5 118.9,281.5 118.2,281.5 117.4,281.5 116.7,281.5 115.9,281.5 115.2,281.5 114.4,281.5 113.7,281.5 112.9,281.5 112.2,281.4 111.4,281.4 110.9,281.3 110.7,280.6 110.8,279.9 110.9,279.3 111.2,278.8 111.5,278.4 111.9,277.9 112.4,277.6 112.9,277.4 113.4,277.3 114.2,277.2 114.7,277.1 115.4,276.9 116,276.9 116.7,276.8 117.4,276.7 118.2,276.7 118.9,276.6 119.4,276.6 120.2,276.6 120.9,276.6 121.7,276.6 122.4,276.6 122.9,276.6 123.7,276.7 124.4,276.7 125.2,276.8 125.7,276.9 126.4,277 127.2,277.1 127.7,277.2 128.4,277.4 128.9,277.6 129.4,277.9 129.7,278.1 130.1,278.6 130.4,279.1 130.6,279.6 130.7,280.4 130.5,281.1 130.2,281.4 M126.7,265.9 125.9,266 125.2,265.9 124.7,265.8 124,265.6 123.4,265.4 122.9,265.3 122.4,265.1 121.9,264.8 121.4,264.6 120.8,264.4 120.2,264.1 119.7,263.9 119.2,263.6 118.8,263.4 118.4,263.1 117.9,262.7 117.7,262.4 117.3,261.9 117.1,261.4 116.9,260.9 116.6,260.4 116.4,259.8 116.2,259.1 116,258.6 115.8,258.1 115.7,257.6 115.4,257 115.2,256.4 115,255.9 114.9,255.4 114.7,254.9 114.4,254.2 114.2,253.6 114,253.1 113.9,252.6 113.7,251.9 113.6,251.4 113.5,250.6 113.5,249.9 113.4,249.4 113.3,248.6 113.2,247.9 113.2,247.3 113.1,246.6 113,245.9 112.9,245.1 112.9,244.6 112.8,243.9 112.7,243.1 112.7,242.6 112.6,241.9 112.5,241.1 112.4,240.4 112.4,239.9 112.3,239.1 112.3,238.4 112.3,237.6 112.3,236.9 112.4,236.1 112.4,235.4 112.4,234.6 112.4,233.9 112.4,233.4 112.5,232.6 112.5,231.9 112.6,231.1 112.6,230.4 112.7,229.9 112.9,229.1 113.1,228.6 113.4,228.2 113.7,227.9 114.2,227.5 114.7,227.3 115.3,227.1 115.9,227 116.7,226.9 117.2,226.9 117.9,226.8 118.7,226.8 119.4,226.8 120.2,226.8 120.9,226.7 121.7,226.7 122.4,226.7 123.2,226.6 123.7,226.6 124.4,226.6 125.2,226.6 125.9,226.5 126.7,226.5 127.4,226.5 128.2,226.5 128.9,226.5 129.7,226.5 130.4,226.5 131.2,226.5 131.9,226.5 132.7,226.6 133.2,226.7 133.9,226.9 134.4,227 134.9,227.3 135.4,227.6 135.7,227.9 136,228.4 136.3,228.9 136.5,229.4 136.6,230.1 136.6,230.9 136.6,231.6 136.5,232.4 136.4,232.9 136.4,233.6 136.4,234.4 136.4,234.9 136.5,235.6 136.5,236.4 136.6,237.1 136.6,237.9 136.7,238.4 136.7,239.1 136.7,239.9 136.7,240.6 136.7,241.4 136.7,242.1 136.7,242.9 136.7,243.6 136.7,244.4 136.7,244.9 136.6,245.6 136.6,246.4 136.5,247.1 136.5,247.9 136.5,248.6 136.5,249.4 136.5,250.1 136.4,250.9 136.4,251.4 136.3,252.1 136.2,252.6 136,253.4 135.9,253.9 135.7,254.4 135.4,255.1 135.3,255.6 135.1,256.1 134.9,256.6 134.7,257.3 134.5,257.9 134.3,258.4 134.1,258.9 133.9,259.5 133.7,260.1 133.4,260.6 133.2,261 132.9,261.4 132.5,261.9 132.2,262.2 131.7,262.6 131.3,262.9 130.9,263.1 130.4,263.5 129.9,263.8 129.5,264.1 129.2,264.4 128.7,264.8 128.2,265.1 127.8,265.4 127.4,265.6 126.7,265.9 M128.7,281.4 127.9,281.4 127.2,281.4 126.4,281.4 125.7,281.5 124.9,281.5 124.2,281.5 123.4,281.5 122.7,281.5 121.9,281.5 121.2,281.5 120.4,281.5 119.7,281.5 118.9,281.5 118.2,281.5 117.4,281.5 116.7,281.5 115.9,281.5 115.2,281.4 114.4,281.4 113.7,281.4 113,281.4 112.7,281 112.5,280.4 112.7,279.9 113.2,279.4 113.7,279.1 114.2,278.9 114.7,278.7 115.2,278.6 115.9,278.4 116.4,278.3 117.2,278.2 117.7,278.1 118.4,278 119.2,278 119.9,277.9 120.7,277.9 121.4,277.9 122.2,277.9 122.9,278 123.7,278 124.4,278.1 124.9,278.2 125.7,278.3 126.2,278.4 126.9,278.6 127.4,278.8 127.9,279 128.4,279.2 128.9,279.6 129.2,280.1 129.2,280.6 129,281.1 128.7,281.4 M126.4,265.4 125.7,265.5 124.9,265.4 124.4,265.3 123.9,265.1 123.3,264.9 122.7,264.6 122.2,264.4 121.7,264.2 121.2,264 120.7,263.8 120.2,263.5 119.7,263.3 119.2,263 118.7,262.6 118.4,262.3 118.1,261.9 117.8,261.4 117.5,260.9 117.3,260.4 117,259.9 116.8,259.4 116.6,258.9 116.4,258.3 116.2,257.6 116,257.1 115.8,256.6 115.6,256.1 115.4,255.5 115.2,254.9 115,254.4 114.8,253.9 114.7,253.4 114.4,252.6 114.3,252.1 114.2,251.5 114.1,250.9 114,250.1 113.9,249.6 113.8,248.9 113.8,248.1 113.7,247.4 113.6,246.9 113.6,246.1 113.5,245.4 113.4,244.8 113.3,244.1 113.3,243.4 113.2,242.6 113.1,242.1 113,241.4 113,240.6 112.9,240.1 112.9,239.4 112.8,238.6 112.8,237.9 112.8,237.1 112.8,236.4 112.9,235.6 112.9,234.9 112.9,234.1 112.9,233.4 112.9,232.9 113,232.1 113,231.4 113,230.6 113.1,229.9 113.2,229.4 113.4,228.9 113.7,228.4 114.2,227.9 114.7,227.7 115.2,227.5 115.7,227.4 116.4,227.2 117.2,227.2 117.9,227.1 118.4,227.1 119.2,227.1 119.9,227.1 120.7,227 121.4,227 122.2,227 122.9,226.9 123.7,226.9 124.2,226.9 124.9,226.8 125.7,226.8 126.4,226.8 127.2,226.8 127.9,226.8 128.7,226.8 129.4,226.8 130.2,226.8 130.9,226.8 131.7,226.8 132.4,226.8 132.9,226.9 133.7,227.1 134.2,227.3 134.7,227.5 135.1,227.9 135.4,228.2 135.7,228.6 135.9,229.1 136.1,229.9 136.2,230.6 136.1,231.4 136.1,232.1 136,232.9 136,233.6 136,234.4 136.1,235.1 136.1,235.9 136.2,236.6 136.2,237.1 136.3,237.9 136.3,238.6 136.3,239.4 136.3,240.1 136.3,240.9 136.3,241.6 136.3,242.4 136.3,243.1 136.3,243.9 136.3,244.6 136.2,245.4 136.2,246 136.1,246.6 136.1,247.4 136.1,248.1 136.1,248.9 136.1,249.6 136.1,250.4 136,251.1 135.9,251.6 135.8,252.4 135.7,252.9 135.5,253.6 135.3,254.1 135.1,254.6 134.9,255.2 134.7,255.9 134.5,256.4 134.4,256.9 134.2,257.4 133.9,258.1 133.7,258.6 133.6,259.1 133.4,259.6 133.1,260.1 132.8,260.6 132.4,261.1 132.2,261.4 131.7,261.9 131.3,262.1 130.9,262.4 130.4,262.8 130,263.1 129.7,263.4 129.2,263.8 128.7,264.1 128.4,264.4 127.9,264.7 127.4,265 126.9,265.3 126.4,265.4 M128.5,262.6 128.7,262.1 128.2,262 128.2,262.6 128.5,262.6 M126.4,281.4 125.7,281.4 124.9,281.4 124.2,281.4 123.4,281.4 122.7,281.4 121.9,281.4 121.2,281.5 120.4,281.5 119.7,281.4 118.9,281.4 118.2,281.4 117.4,281.4 116.7,281.4 115.9,281.4 115.4,281.3 114.9,280.9 114.8,280.4 115.2,279.9 115.5,279.6 116.1,279.4 116.7,279.2 117.2,279 117.9,278.9 118.4,278.8 119.2,278.7 119.9,278.7 120.7,278.6 121.4,278.6 122.2,278.7 122.9,278.7 123.7,278.8 124.2,278.9 124.9,279.1 125.4,279.2 125.9,279.4 126.4,279.6 126.9,280 127.2,280.6 126.8,281.1 126.4,281.4 M124.9,264.9 124.4,264.8 123.9,264.6 123.4,264.4 122.8,264.1 122.2,263.9 121.7,263.7 121.2,263.5 120.7,263.3 120.2,263 119.7,262.7 119.2,262.4 118.9,262.1 118.5,261.6 118.2,261.1 117.9,260.6 117.7,260.1 117.4,259.6 117.2,259.1 117,258.6 116.9,258.1 116.7,257.6 116.4,257 116.2,256.4 116.1,255.9 115.9,255.1 115.7,254.9 115.7,254.4 115.4,254.1 115.4,253.7 115.1,253.4 114.9,252.6 114.8,252.1 114.7,251.6 114.5,250.9 114.5,250.1 114.4,249.6 114.3,248.9 114.2,248.1 114.2,247.4 114.1,246.9 114.2,246.4 114.1,245.9 114,245.1 113.9,244.6 114,244.1 114.1,243.4 114.2,242.9 114.2,242.1 114.1,241.6 113.9,241 113.8,240.4 113.8,239.6 113.8,238.9 113.7,238.2 113.6,237.6 113.4,237 113.3,236.4 113.3,235.6 113.4,234.9 113.4,234.1 113.4,233.4 113.4,232.8 113.4,232.1 113.5,231.4 113.5,230.6 113.7,230 113.6,229.6 113.9,229.1 114.1,228.6 114.4,228.2 114.9,227.9 115.4,227.7 116.2,227.6 116.7,227.5 117.4,227.4 118.2,227.4 118.9,227.4 119.7,227.4 120.4,227.4 120.9,227.4 121.7,227.3 122.4,227.2 123.2,227.2 123.9,227.2 124.7,227.1 125.2,227.1 125.9,227.1 126.7,227.1 127.4,227.1 128.2,227.1 128.9,227.1 129.7,227.1 130.2,227.1 130.7,227.4 131.4,227.4 132.2,227.4 132.9,227.5 133.5,227.6 134,227.9 134.4,228.2 134.9,228.6 135.2,228.9 135.5,229.4 135.7,230.1 135.7,230.9 135.7,231.6 135.6,232.4 135.6,233.1 135.5,233.9 135.6,234.6 135.6,235.4 135.7,236 135.7,236.6 135.8,237.4 135.8,238.1 135.9,238.9 135.9,239.6 135.9,240.4 135.9,241.1 135.9,241.9 135.9,242.6 135.9,243.4 135.8,244.1 135.8,244.9 135.8,245.6 135.7,246.4 135.7,247.1 135.7,247.9 135.7,248.6 135.7,249.2 135.7,249.9 135.6,250.6 135.6,251.4 135.4,251.9 135.3,252.6 135.1,253.1 134.9,253.8 134.8,254.4 134.6,254.9 134.4,255.4 134.2,256 134,256.6 133.9,257.1 133.6,257.6 133.4,258.2 133.2,258.9 133,259.4 132.7,259.9 132.4,260.3 132.2,260.6 131.7,261.1 131.4,261.4 130.9,261.7 130.2,261.7 129.7,261.5 129.2,261.2 128.4,261.1 127.7,261.4 127.3,261.6 127,262.1 127,262.9 127,263.6 126.7,264 126.2,264.4 125.7,264.6 125.2,264.7 M118.1,239.6 118.2,239.1 117.7,239 117.5,239.6 118.1,239.6 M113.4,240.3 113.4,239.6 113.5,239.9 M122.4,281.4 121.7,281.4 120.9,281.4 120.2,281.4 119.4,281.4 118.9,281.3 118.4,281.1 117.9,280.9 117.9,280.1 118.4,279.9 118.9,279.7 119.4,279.6 120.2,279.5 120.9,279.5 121.7,279.5 122.4,279.6 122.9,279.6 123.6,279.9 124.1,280.1 124.3,280.6 123.9,281 123.4,281.2 122.7,281.4 M125.2,264.2 124.4,264.3 123.7,264.3 123.2,264.1 122.4,263.9 121.9,263.6 121.5,263.4 121.2,263.1 120.7,262.8 120.2,262.6 119.7,262.3 119.2,262.1 118.7,261.6 118.4,261.2 118.2,260.7 117.9,260.2 117.7,259.7 117.4,259.2 117.2,258.6 117.1,258.1 116.9,257.6 116.7,257 116.6,256.4 116.5,255.6 116.4,254.9 116.3,254.4 116.2,253.9 115.9,253.4 115.6,252.9 115.3,252.4 115.1,251.9 114.9,251.2 114.8,250.6 114.8,249.9 114.7,249.1 114.7,248.6 114.6,247.9 114.6,247.1 114.6,246.4 114.5,245.6 114.5,244.9 114.5,244.1 114.7,243.4 114.9,242.9 115.2,242.5 115.3,241.9 114.9,241.4 114.7,241.1 114.4,240.6 114.3,239.9 114.3,239.1 114.2,238.4 114.2,237.8 114.1,237.1 113.9,236.4 113.8,235.9 113.7,235.4 113.6,234.6 113.6,233.9 113.6,233.1 113.6,232.4 113.7,231.6 113.8,231.1 113.9,230.5 114.1,229.9 114.3,229.4 114.5,228.9 114.8,228.4 115.2,228.1 115.7,227.9 116.4,227.8 116.9,227.6 117.7,227.6 118.4,227.6 118.9,227.7 119.7,227.8 120.2,227.9 120.7,227.8 121.4,227.6 121.9,227.5 122.7,227.4 123.4,227.4 123.9,227.4 124.7,227.3 125.4,227.3 126.2,227.3 126.9,227.3 127.7,227.3 128.4,227.3 129.1,227.4 129.7,227.5 130.2,227.7 130.9,227.8 131.7,227.8 132.4,227.8 133,227.9 133.6,228.1 134,228.4 134.4,228.7 134.8,229.1 135.2,229.6 135.4,230.1 135.4,230.6 135.4,231.4 135.4,231.9 135.3,232.6 135.2,233.4 135.2,234.1 135.3,234.9 135.4,235.6 135.4,236.4 135.4,237.1 135.4,237.9 135.4,238.6 135.3,239.4 135.3,240.1 135.4,240.8 135.6,241.4 135.7,242.1 135.6,242.9 135.4,243.5 135.2,244.1 135.2,244.9 135.3,245.6 135.4,246.1 135.5,246.9 135.5,247.6 135.5,248.4 135.5,249.1 135.5,249.9 135.5,250.6 135.4,251.1 135.2,251.9 135,252.4 134.8,252.9 134.7,253.4 134.5,254.1 134.4,254.7 134.2,255.4 134,255.9 133.9,256.4 133.7,257 133.4,257.6 133.2,258.1 132.9,258.6 132.7,259.1 132.4,259.6 132.2,259.9 131.8,260.4 131.4,260.7 130.9,260.9 130.2,260.9 129.7,260.8 129.1,260.6 128.4,260.6 127.9,260.7 127.4,260.9 126.9,261.1 126.4,261.5 126.3,262.1 126.3,262.9 126.2,263.4 125.8,263.9 125.4,264.1 M130.5,234.1 130.9,233.9 131.2,233.4 131.3,232.6 131.1,232.1 130.7,231.9 130.2,232.1 129.9,232.4 129.6,232.9 129.6,233.6 129.9,234 130.4,234.2 M117.9,240.6 118.4,240.4 118.7,240.1 118.9,239.6 119,238.9 118.9,238.3 118.4,238 117.7,238.1 117.2,238.3 116.8,238.6 116.7,239.1 116.7,239.7 116.9,240.4 117.2,240.6 117.9,240.6 M122.9,281.2 122.2,281.2 121.4,281.1 120.9,281 120.2,280.9 119.4,281.1 119.2,281.1 118.4,280.9 118.1,280.6 118.4,280.1 118.9,280 119.4,279.8 120.2,279.8 120.9,279.8 121.7,279.8 122.4,279.8 123,279.9 123.5,280.1 123.8,280.6 123.4,281 122.9,281.2 M124.4,263.9 123.8,263.9 123.2,263.7 122.7,263.6 122.2,263.3 121.7,263 121.2,262.7 120.7,262.4 120.2,262.1 119.7,261.9 119.3,261.6 118.9,261.3 118.6,260.9 118.3,260.4 118,259.9 117.8,259.4 117.6,258.9 117.4,258.3 117.2,257.6 117.1,257.1 116.9,256.4 116.9,255.9 116.9,255.4 117,254.6 117,253.9 116.8,253.4 116.4,253.1 116,252.6 115.7,252.1 115.5,251.6 115.3,251.1 115.2,250.4 115.2,249.9 115.1,249.1 115,248.4 115,247.6 115,246.9 115.1,246.1 115,245.4 114.9,244.6 115.1,243.9 115.3,243.4 115.7,242.9 115.9,242.6 116.3,242.1 116.7,241.7 117.2,241.4 117.7,241.2 118.2,241.1 118.7,240.9 119.2,240.5 119.4,240 119.6,239.4 119.7,238.8 119.7,238.1 119.6,237.6 119.2,237.2 118.4,237.2 117.7,237.3 116.9,237.3 116.4,237 116.4,236.4 116.3,235.6 115.9,235.3 115.2,235.4 114.4,235.2 114.2,234.9 113.9,234.4 113.7,233.6 113.8,232.9 113.9,232.1 114,231.6 114.2,231 114.3,230.4 114.5,229.9 114.7,229.4 115,228.9 115.4,228.4 115.9,228.2 116.4,228 117.1,227.9 117.7,227.8 118.2,227.9 118.9,228.1 119.4,228.4 119.8,228.6 120.4,228.7 120.8,228.4 121.2,228.1 121.8,227.9 122.4,227.7 123.2,227.7 123.9,227.7 124.7,227.6 125.3,227.6 125.9,227.6 126.7,227.6 127.4,227.5 128.2,227.5 128.9,227.6 129.4,227.8 129.9,227.9 130.5,228.1 131.2,228.3 131.9,228.3 132.7,228.3 133.2,228.4 133.7,228.7 134.2,229.1 134.5,229.4 134.8,229.9 135,230.4 135.1,231.1 135.1,231.9 135,232.6 134.9,233.1 134.9,233.9 134.9,234.6 134.9,235.1 135,235.9 135,236.6 135,237.4 134.9,238.1 134.9,238.6 134.8,239.4 134.8,240.1 134.9,240.7 135.1,241.4 135.2,241.9 135.2,242.6 135,243.1 134.8,243.6 134.6,244.1 134.6,244.9 134.7,245.4 134.9,246 135.1,246.6 135.2,247.1 135.3,247.9 135.3,248.6 135.3,249.4 135.2,250.1 135.1,250.6 134.9,251.4 134.8,251.9 134.6,252.4 134.4,252.9 134.2,253.6 134.1,254.1 134,254.9 133.9,255.4 133.7,256 133.4,256.6 133.2,257.1 132.9,257.6 132.7,258.1 132.5,258.6 132.3,259.1 131.9,259.6 131.7,259.9 131.2,260.2 130.4,260.3 129.7,260.2 129.2,260.1 128.4,260.1 127.9,260.2 127.4,260.4 126.7,260.5 126.2,260.7 125.7,260.9 125.5,261.6 125.6,262.4 125.5,263.1 125.2,263.6 124.7,263.8 M130.6,235.1 130.9,234.9 131.4,234.4 131.7,233.9 131.8,233.4 131.8,232.6 131.7,231.9 131.5,231.4 131.2,230.9 130.5,231.1 130.2,231.4 129.7,231.8 129.4,232.1 129,232.6 128.7,233.1 128.8,233.9 129,234.4 129.4,234.9 129.7,235.2 130.4,235.2 M123.9,235.4 123.9,235 123.7,234.4 123.4,233.9 123.1,233.6 122.7,233.4 122.2,233.5 121.9,233.9 121.9,234.4 122.2,234.9 122.7,235.2 123.2,235.5 123.9,235.4 M115.4,240.2 115.1,239.9 115.1,239.1 115.4,238.7 115.7,239.2 115.7,239.9 115.4,240.2 M125.2,241.6 125.4,241.1 125.3,240.4 125.1,239.9 124.7,239.4 124.2,239.2 123.6,239.4 123.2,239.9 123.1,240.4 123.2,240.9 123.5,241.4 123.9,241.7 124.7,241.8 M129.5,248.6 129.7,247.9 129.8,247.4 130,246.9 130.2,246.2 130,245.9 129.7,245.9 129.2,246.3 128.9,246.6 128.5,247.1 128.2,247.6 128.2,248.1 128.4,248.6 128.9,248.8 129.5,248.6 M121.4,247.9 121.2,247.6 121.2,248 M130.2,252.9 130.7,252.6 131,252.1 130.9,251.4 130.4,251.3 130.2,251.6 129.9,252.1 129.9,252.7 130.2,252.9 M124.1,257.9 124.4,257.5 124.5,256.9 123.9,256.8 123.6,257.1 123.7,257.9 124.1,257.9 M130.9,259.7 130.2,259.7 129.7,259.5 128.9,259.4 128.2,259.5 127.6,259.6 126.9,259.8 126.2,259.7 125.7,259.4 125.5,258.9 125.8,258.4 126.2,257.9 126.6,257.6 127.1,257.4 127.7,257.1 128.2,256.9 128.7,256.7 129.4,256.7 129.9,256.9 130.7,257.1 131.3,256.9 131.3,256.1 131.1,255.6 130.8,255.1 130.7,254.4 130.9,253.9 131.2,253.4 131.5,252.9 131.8,252.4 132,251.9 132.2,251.2 132.3,250.6 132.2,250.1 131.9,249.6 131.6,249.1 131.2,248.6 131.1,248.1 131.1,247.4 131.4,246.9 131.7,246.4 131.7,246.1 131.4,245.6 131.1,245.1 130.8,244.6 130.6,244.1 130.4,243.4 130.3,242.9 130.1,242.4 129.7,241.9 129.2,241.8 128.6,241.9 127.9,242.1 127.4,242.3 126.9,242.4 126.6,242.1 126.4,241.6 126.2,241 125.9,240.4 125.7,239.9 125.4,239.4 125.2,239 124.9,238.6 124.4,238.2 123.7,238.4 123.4,238.6 122.9,239.1 122.7,239.4 122.4,240.1 122.4,240.5 122.6,241.1 122.8,241.6 123.2,242.1 123.6,242.4 124.2,242.6 124.8,242.6 125.4,242.6 126,242.6 126.5,242.6 126.9,242.9 127.4,243.3 127.9,243.4 128.6,243.6 128.9,244.1 128.9,244.4 128.5,244.9 128.1,245.1 127.6,245.4 127.2,245.7 126.8,246.1 126.4,246.6 126.2,247.1 126.1,247.6 125.9,248.2 125.7,248.8 125.4,249.1 124.9,249.4 124.3,249.4 123.8,249.1 123.4,248.8 123.2,248.1 123.4,247.4 123.6,246.9 123.8,246.4 123.8,245.6 123.6,245.1 123.3,244.6 122.7,244.4 122.2,244.6 121.8,245.1 121.4,245.6 121.2,246 120.8,246.4 120.4,246.8 120.2,247.2 119.9,247.7 119.8,248.4 119.8,249.1 119.7,249.9 119.6,250.4 119.4,250.9 119.2,251.6 119,252.1 118.8,252.6 118.4,253 117.7,252.9 117.2,252.7 116.7,252.5 116.3,252.1 115.9,251.6 115.7,251.1 115.6,250.6 115.6,249.9 115.5,249.1 115.4,248.4 115.4,247.9 115.4,247.4 115.5,246.6 115.6,245.9 115.5,245.1 115.5,244.4 115.7,243.9 116,243.4 116.4,242.9 116.7,242.6 117.1,242.1 117.5,241.9 118,241.6 118.7,241.4 119.2,241.3 119.7,240.9 119.9,240.6 120.2,239.9 120.3,239.4 120.4,238.6 120.4,238.1 120.4,237.4 120.3,236.9 119.9,236.4 119.4,236.3 118.7,236.3 118.2,236.4 117.7,236.3 117.4,235.9 117.2,235.2 116.9,234.8 116.4,234.5 115.7,234.5 114.9,234.4 114.5,234.1 114.2,233.6 114.1,233.1 114.2,232.6 114.3,231.9 114.4,231.4 114.7,230.6 114.8,230.1 115.1,229.6 115.4,229.1 115.7,228.8 116.2,228.5 116.7,228.3 117.4,228.2 118.2,228.3 118.7,228.5 119,228.9 119.4,229.4 119.7,229.7 120.4,229.8 120.8,229.4 121.2,228.9 121.4,228.6 121.9,228.2 122.4,228 123.2,228 123.9,228 124.7,228 125.4,228 126.2,228 126.9,227.9 127.4,227.8 128.2,227.8 128.8,227.9 129.4,228.1 129.9,228.3 130.4,228.6 130.9,228.9 131.1,229.4 130.9,229.9 130.5,230.4 130.2,230.7 129.8,231.1 129.4,231.5 129.1,231.9 128.7,232.2 128.2,232.6 127.9,233 127.8,233.6 127.9,234.1 128.2,234.6 128.5,235.1 128.9,235.6 129.2,235.9 129.7,236.3 130.2,236.5 130.7,236.4 131.2,235.9 131.4,235.5 131.7,235.1 132,234.6 132.3,234.1 132.4,233.4 132.3,232.6 132.2,231.9 132.2,231.1 132.3,230.4 132.3,229.6 132.7,229.2 133.4,229.3 133.9,229.5 134.3,229.9 134.6,230.4 134.7,230.9 134.7,231.6 134.7,232.3 134.6,232.9 134.5,233.6 134.4,234.3 134.4,234.7 134.4,235.4 134.5,236.1 134.4,236.6 134.3,237.4 134.2,238.1 134.2,238.9 134.2,239.4 134.2,239.9 134.4,240.6 134.6,241.1 134.7,241.6 134.7,242.4 134.6,242.9 134.4,243.4 134.2,243.9 133.9,244.6 133.8,245.1 133.9,245.8 134.2,246.1 134.5,246.6 134.7,247.1 134.9,247.9 134.9,248.6 134.8,249.4 134.7,250.1 134.6,250.6 134.5,251.4 134.3,251.9 134.1,252.4 133.9,252.9 133.8,253.6 133.7,254.4 133.6,254.9 133.4,255.6 133.2,256.1 132.9,256.5 132.7,256.9 132.4,257.4 132.2,258.1 132,258.6 131.7,259.1 131.4,259.4 130.9,259.7 M124.3,236.9 124.7,236.6 125,236.1 125,235.4 124.9,234.9 124.6,234.4 124.3,233.9 123.9,233.5 123.6,233.1 123.2,232.8 122.7,232.6 121.9,232.6 121.5,232.9 121.2,233.4 121,233.9 121,234.6 121.2,235.2 121.6,235.6 122.1,235.9 122.6,236.1 123,236.4 123.5,236.6 124,236.9 M127.4,253.9 126.9,253.9 126.5,253.4 126.2,252.9 125.9,252.5 125.7,251.9 125.9,251.3 126.4,250.9 126.7,250.6 127.2,250.4 127.9,250.3 128.4,250.4 128.8,250.9 128.9,251.6 128.7,252.2 128.4,252.8 128.2,253.3 127.9,253.6 127.4,253.9 M123.9,263.4 123.4,263.4 122.7,263.1 122.2,262.9 121.8,262.6 121.4,262.3 120.9,262 120.4,261.7 119.9,261.5 119.4,261.2 119.1,260.9 118.7,260.4 118.5,259.9 118.3,259.4 118.1,258.9 117.9,258.3 117.7,257.6 117.5,257.1 117.4,256.4 117.4,256.1 117.6,255.4 117.8,254.9 118.2,254.4 118.7,254.2 118.9,254.6 119.1,255.4 119.3,255.9 119.5,256.4 119.9,256.8 120.5,256.6 120.9,256.2 121.2,255.6 121.3,255.1 121.6,254.6 121.9,254.3 122.4,254.6 122.6,255.1 122.4,255.8 122.2,256.3 122.1,256.9 122.2,257.5 122.4,258.1 122.7,258.5 123,258.9 123.4,259.3 123.7,259.6 124,260.1 124.2,260.8 124.4,261.4 124.6,261.9 124.8,262.4 124.7,263.1 124.2,263.4 M132.7,245.2 132,245.1 131.6,244.9 131.3,244.4 131.1,243.9 131,243.1 130.9,242.6 130.7,242.1 130.4,241.6 129.9,241.1 129.4,240.9 128.7,240.9 127.9,241 127.2,240.9 126.9,240.6 126.5,240.1 126.2,239.6 125.9,239.1 125.7,238.7 125.5,238.1 125.4,237.6 125.5,237.1 125.7,236.6 125.9,236.1 126,235.4 125.9,234.9 125.6,234.4 125.2,234 124.8,233.6 124.4,233.2 124,232.9 123.7,232.6 123.2,232.3 122.7,232.1 121.9,231.9 121.6,231.9 121.1,232.1 120.7,232.6 120.4,233.1 120.2,233.5 119.9,233.9 119.6,234.4 119.2,234.7 118.7,234.9 118.2,234.7 117.8,234.4 117.4,234.1 116.8,233.9 116.2,233.8 115.4,233.8 114.9,233.6 114.6,233.1 114.6,232.4 114.7,231.9 114.9,231.1 115.1,230.6 115.3,230.1 115.5,229.6 115.9,229.1 116.2,228.9 116.9,228.6 117.4,228.6 117.9,228.7 118.4,229 118.7,229.4 118.9,229.9 119.3,230.4 119.7,230.6 120.4,230.7 120.9,230.4 121.2,230 121.4,229.4 121.7,229 122,228.6 122.4,228.4 123.2,228.3 123.9,228.3 124.5,228.4 125.2,228.4 125.9,228.4 126.4,228.3 127.2,228.2 127.7,228.1 128.4,228.1 128.9,228.2 129.4,228.4 129.9,228.8 130.2,229.1 130.2,229.9 130,230.4 129.7,230.8 129.4,231.1 128.9,231.5 128.5,231.9 128.1,232.1 127.7,232.4 127.2,232.8 126.9,233.3 126.8,233.9 126.9,234.5 127.2,234.9 127.6,235.4 127.9,235.7 128.3,236.1 128.7,236.5 129.1,236.9 129.4,237.1 129.9,237.5 130.4,237.8 130.9,238.1 131.4,238.2 132,238.4 132.6,238.6 133,238.9 133.3,239.4 133.5,239.9 133.7,240.4 133.9,240.9 134.2,241.6 134.3,242.1 134.2,242.6 133.9,243.2 133.7,243.8 133.4,244.4 133.2,244.8 132.8,245.1 M133.4,233.9 133.2,233.6 132.9,232.9 132.8,232.4 132.8,231.6 132.9,230.9 133.2,230.4 133.7,230.3 134.1,230.6 134.3,231.1 134.3,231.9 134.2,232.6 134,233.1 133.8,233.6 133.4,233.9 M132.9,236.3 132.6,235.9 132.9,235.5 133.3,235.9 132.9,236.3 M121.7,239 121.3,238.6 121.3,237.9 121.4,237.1 121.7,236.9 122.2,236.9 122.7,237.1 122.9,237.6 122.7,238.1 122.4,238.5 121.9,238.9 M117.7,252 116.9,251.9 116.5,251.6 116.2,251.1 116.1,250.6 116.1,249.9 116,249.1 115.9,248.5 115.9,247.9 115.9,247.1 116,246.6 116,245.9 116,245.1 116.1,244.4 116.3,243.9 116.6,243.4 116.9,243 117.3,242.6 117.7,242.3 118.2,242.1 118.9,242 119.5,241.9 120.1,241.6 120.5,241.4 120.9,241 121.5,241.1 121.8,241.6 122,242.1 122.1,242.9 121.7,243.4 121.4,243.7 121.1,244.1 120.9,244.6 120.7,245.1 120.4,245.6 120.1,246.1 119.9,246.6 119.6,247.1 119.4,247.6 119.2,248.2 119,248.9 118.8,249.4 118.7,250.1 118.6,250.6 118.4,251.2 118.2,251.6 117.7,252 M125.2,244.8 124.8,244.4 125.2,244.1 125.4,244.6 M133.7,250.6 133.4,250.1 133.1,249.6 132.7,249.1 132.4,248.7 132.2,248.1 132.4,247.6 132.9,247.3 133.4,247.1 133.9,247.2 134.2,247.6 134.4,248.4 134.2,249.1 134.1,249.6 133.9,250.1 M132.7,255.7 132,255.6 131.7,255.1 131.6,254.6 131.7,253.9 131.9,253.4 132.2,253.1 132.5,252.6 132.9,252.2 133.2,252.6 133.2,253.4 133.3,254.1 133.2,254.9 133,255.4 132.7,255.7 M123.4,262.7 122.9,262.6 122.4,262.4 121.9,262.1 121.4,261.7 120.9,261.4 120.4,261.2 119.9,260.9 119.6,260.6 119.2,260.2 118.9,259.6 118.8,259.1 118.9,258.4 119.4,258.2 120.2,258.2 120.7,258.1 121.2,258.2 121.7,258.6 122,258.9 122.4,259.3 122.7,259.6 123,260.1 123.2,260.6 123.4,261.2 123.7,261.9 123.8,262.4 123.4,262.7 M130.9,258.7 130.3,258.6 130.7,258.3 131,258.6 M125.7,233.1 125.2,233 124.7,232.7 124.2,232.4 123.7,232.1 123.3,231.9 122.8,231.6 122.3,231.4 121.9,231 121.7,230.4 121.8,229.6 122.1,229.1 122.4,228.8 122.9,228.6 123.7,228.6 124.2,228.8 124.7,228.9 125.4,229 125.9,228.9 126.6,228.6 127.2,228.5 127.9,228.4 128.2,228.4 128.9,228.5 129.4,228.8 129.7,229.1 129.8,229.9 129.6,230.4 129.2,230.9 128.9,231.1 128.4,231.5 127.9,231.8 127.4,232.1 126.9,232.4 126.6,232.6 126.2,232.9 125.7,233.1 M116.7,233.1 115.9,233.2 115.4,233.1 115.1,232.6 115.1,231.9 115.3,231.4 115.5,230.9 115.7,230.3 115.9,229.8 116.3,229.4 116.7,229.1 117.4,229 117.9,229.3 118.2,229.6 118.4,230.3 118.6,230.9 118.8,231.4 119.1,231.9 118.8,232.4 118.4,232.6 117.9,232.9 117.2,233.1 116.7,233.1 M132.7,244.5 131.9,244.4 131.7,244.1 131.5,243.4 131.4,242.9 131.2,242.1 131,241.6 130.8,241.1 130.5,240.6 130.2,240.1 129.7,240 128.9,240.1 128.4,240.2 127.8,240.1 127.3,239.9 126.9,239.5 126.7,239.1 126.4,238.6 126.3,237.9 126.4,237.3 126.8,236.9 127.4,236.7 127.9,236.9 128.4,237.3 128.8,237.6 129.2,238 129.5,238.4 129.8,238.9 130.2,239.3 130.9,239.3 131.7,239.3 132.2,239.4 132.7,239.8 132.9,240.1 133.2,240.6 133.5,241.1 133.7,241.7 133.7,242.4 133.6,242.9 133.4,243.4 133.2,243.9 132.8,244.4 M117.4,251.2 116.9,251.1 116.7,250.6 116.7,250.1 116.8,249.4 116.7,248.8 116.4,248.1 116.4,247.6 116.4,246.9 116.5,246.4 116.5,245.6 116.6,244.9 116.7,244.4 116.9,243.9 117.4,243.4 117.7,243.1 118.2,242.9 118.8,242.9 119.2,243.2 119.4,243.9 119.5,244.4 119.6,245.1 119.6,245.9 119.4,246.4 119.2,247 118.9,247.6 118.7,248.1 118.4,248.6 118.2,249 117.9,249.5 117.9,250.1 117.7,250.9 117.4,251.2 M121.9,260.9 121.4,260.8 120.9,260.5 120.5,260.1 120.4,259.7 120.9,259.6 121.4,259.8 121.8,260.1 122.1,260.6 M125.7,232.4 125.2,232.4 124.7,232.1 124.2,231.9 123.7,231.6 123.2,231.3 122.7,231 122.4,230.6 122.3,229.9 122.5,229.4 122.9,229.1 123.7,229.1 124.2,229.3 124.7,229.5 125.4,229.5 125.9,229.4 126.4,229.1 127,228.9 127.7,228.7 128.4,228.7 128.9,228.9 129.3,229.4 129.3,230.1 129,230.6 128.7,231 128.2,231.3 127.7,231.6 127.2,231.8 126.7,232 126.2,232.2 125.7,232.4 M116.9,232.1 116.2,232.3 115.9,231.9 115.9,231.4 116.2,230.6 116.4,230.1 116.7,229.8 117.4,229.8 117.7,230.2 117.7,230.9 117.6,231.4 117.3,231.9 116.9,232.1 M132.4,243.8 132,243.4 131.8,242.9 131.7,242.3 131.5,241.6 131.4,241.1 131.4,240.6 131.9,240.3 132.4,240.5 132.7,240.9 133,241.4 133.2,242.1 133.2,242.4 133,243.1 132.7,243.6 M117.7,248.2 117.2,247.9 116.9,247.4 116.9,246.9 116.9,246.4 117,245.6 117.2,244.9 117.4,244.5 117.9,244.3 118.4,244.6 118.7,245 118.9,245.6 118.9,246.1 118.8,246.6 118.6,247.1 118.4,247.6 117.9,248.1 M126.2,231.6 125.4,231.7 124.9,231.5 124.4,231.3 123.9,231 123.4,230.7 123.1,230.4 123.2,229.8 123.8,229.9 124.3,230.1 124.9,230.3 125.6,230.1 126,229.9 126.4,229.6 126.9,229.3 127.4,229.1 128.2,229 128.7,229.3 128.9,229.7 128.9,230.1 128.6,230.6 128.2,231 127.7,231.2 127.1,231.4 126.4,231.6 M117.9,246.7 117.7,246.4 117.9,245.9 118.1,246.1 117.9,246.7 M127.4,230.6 126.9,230.6 126.9,230.1 127.4,229.8 128.2,229.9 127.9,230.4 127.4,230.6" fill="none" stroke="#111" stroke-width="0.45"/>
<g fill="#333"><circle cx="147" cy="237" r="0.42"/><circle cx="97.6" cy="248.8" r="0.42"/><circle cx="101.2" cy="276.2" r="0.42"/><circle cx="112.8" cy="223.4" r="0.42"/><circle cx="139.2" cy="276.7" r="0.42"/><circle cx="95.7" cy="249.8" r="0.42"/><circle cx="97" cy="259.4" r="0.42"/><circle cx="102" cy="247.9" r="0.42"/><circle cx="96.1" cy="266.3" r="0.42"/><circle cx="91.6" cy="230.1" r="0.42"/><circle cx="100.9" cy="252.6" r="0.42"/><circle cx="103.1" cy="226.1" r="0.42"/><circle cx="102" cy="240.5" r="0.42"/><circle cx="98.1" cy="250.9" r="0.42"/><circle cx="111.9" cy="224.6" r="0.42"/><circle cx="124.1" cy="221.4" r="0.42"/><circle cx="138.4" cy="259" r="0.42"/><circle cx="139.5" cy="260.3" r="0.42"/><circle cx="95.1" cy="250" r="0.42"/><circle cx="109.1" cy="229.7" r="0.42"/><circle cx="97.5" cy="249.4" r="0.42"/><circle cx="143" cy="221.9" r="0.42"/><circle cx="99.3" cy="249.6" r="0.42"/><circle cx="101.4" cy="244.4" r="0.42"/><circle cx="94.6" cy="246.9" r="0.42"/><circle cx="141.3" cy="237" r="0.42"/><circle cx="135.3" cy="224.8" r="0.42"/><circle cx="139.2" cy="254" r="0.42"/><circle cx="106" cy="238.2" r="0.42"/><circle cx="97.7" cy="255.4" r="0.42"/><circle cx="144.9" cy="232.3" r="0.42"/><circle cx="119.8" cy="222.2" r="0.42"/><circle cx="141.6" cy="242.3" r="0.42"/><circle cx="101.6" cy="247.1" r="0.42"/><circle cx="98.2" cy="271.8" r="0.42"/><circle cx="99.9" cy="268.2" r="0.42"/><circle cx="105" cy="221.4" r="0.42"/><circle cx="99.4" cy="257.3" r="0.42"/><circle cx="114.8" cy="225.9" r="0.42"/><circle cx="101.2" cy="251.8" r="0.42"/><circle cx="107.6" cy="233.3" r="0.42"/><circle cx="142.6" cy="229.5" r="0.42"/><circle cx="143.2" cy="239.4" r="0.42"/><circle cx="97.6" cy="241.8" r="0.42"/><circle cx="141.4" cy="251.6" r="0.42"/><circle cx="97" cy="248.1" r="0.42"/><circle cx="100.1" cy="250.7" r="0.42"/><circle cx="139.7" cy="233.6" r="0.42"/><circle cx="96.2" cy="250.7" r="0.42"/><circle cx="100.8" cy="231.4" r="0.42"/><circle cx="141.5" cy="246.2" r="0.42"/><circle cx="105.6" cy="237.9" r="0.42"/><circle cx="100.6" cy="243.6" r="0.42"/><circle cx="116.8" cy="220.1" r="0.42"/><circle cx="98.6" cy="240.2" r="0.42"/><circle cx="123.5" cy="224.9" r="0.42"/><circle cx="95.6" cy="233.9" r="0.42"/><circle cx="137.3" cy="221.5" r="0.42"/><circle cx="143.6" cy="249.1" r="0.42"/><circle cx="142.2" cy="268.5" r="0.42"/><circle cx="107.7" cy="231.8" r="0.42"/><circle cx="107.7" cy="222.6" r="0.42"/><circle cx="142.7" cy="246.8" r="0.42"/><circle cx="111.5" cy="223.2" r="0.42"/><circle cx="94" cy="268.5" r="0.42"/><circle cx="130" cy="222.9" r="0.42"/><circle cx="104.4" cy="232.4" r="0.42"/><circle cx="100.7" cy="239.9" r="0.42"/><circle cx="117.9" cy="222.8" r="0.42"/><circle cx="144.1" cy="229.4" r="0.42"/><circle cx="111.4" cy="226.5" r="0.42"/><circle cx="145.9" cy="252.8" r="0.42"/><circle cx="139.6" cy="279" r="0.42"/><circle cx="107.9" cy="232.4" r="0.42"/><circle cx="100.1" cy="258.8" r="0.42"/><circle cx="118.5" cy="223.5" r="0.42"/><circle cx="99.1" cy="244.6" r="0.42"/><circle cx="106.6" cy="236.3" r="0.42"/><circle cx="111.5" cy="227.4" r="0.42"/><circle cx="97" cy="261.7" r="0.42"/><circle cx="138.8" cy="255.3" r="0.42"/><circle cx="131.2" cy="223.2" r="0.42"/><circle cx="139.6" cy="227.6" r="0.42"/><circle cx="99.5" cy="261.3" r="0.42"/><circle cx="104.6" cy="279.6" r="0.42"/><circle cx="141" cy="246.3" r="0.42"/><circle cx="139.3" cy="266.4" r="0.42"/><circle cx="90.5" cy="278.8" r="0.42"/><circle cx="142.3" cy="254.8" r="0.42"/><circle cx="143" cy="248.3" r="0.42"/><circle cx="126" cy="224.8" r="0.42"/><circle cx="106" cy="233" r="0.42"/><circle cx="139.9" cy="247" r="0.42"/><circle cx="99.4" cy="272.4" r="0.42"/><circle cx="103.2" cy="228.4" r="0.42"/><circle cx="101.2" cy="234.4" r="0.42"/><circle cx="135.9" cy="220.1" r="0.42"/><circle cx="99.7" cy="251.8" r="0.42"/><circle cx="142.4" cy="259.3" r="0.42"/><circle cx="122.4" cy="225.2" r="0.42"/><circle cx="139.1" cy="249.3" r="0.42"/><circle cx="90.9" cy="250.3" r="0.42"/><circle cx="139.1" cy="238.1" r="0.42"/><circle cx="115.2" cy="224.4" r="0.42"/><circle cx="145.8" cy="234.7" r="0.42"/><circle cx="95.7" cy="255.4" r="0.42"/><circle cx="116.7" cy="224.3" r="0.42"/><circle cx="126.5" cy="222" r="0.42"/><circle cx="100.9" cy="238.2" r="0.42"/><circle cx="123.9" cy="225.1" r="0.42"/><circle cx="141.5" cy="259.6" r="0.42"/><circle cx="138.4" cy="261" r="0.42"/><circle cx="142.5" cy="274.3" r="0.42"/><circle cx="91.1" cy="263.5" r="0.42"/><circle cx="102.5" cy="248.7" r="0.42"/><circle cx="108.8" cy="224.3" r="0.42"/><circle cx="139.8" cy="261.6" r="0.42"/><circle cx="97.1" cy="254.2" r="0.42"/><circle cx="140.3" cy="255.3" r="0.42"/><circle cx="139.1" cy="251.8" r="0.42"/><circle cx="97.9" cy="262.3" r="0.42"/><circle cx="101.5" cy="228.2" r="0.42"/><circle cx="143.1" cy="250.2" r="0.42"/><circle cx="100" cy="241.1" r="0.42"/><circle cx="100.8" cy="231" r="0.42"/><circle cx="100.7" cy="230.1" r="0.42"/><circle cx="126.3" cy="223.7" r="0.42"/><circle cx="139.1" cy="239.5" r="0.42"/><circle cx="94.3" cy="232.9" r="0.42"/><circle cx="96.6" cy="235.9" r="0.42"/><circle cx="138.9" cy="264.5" r="0.42"/><circle cx="144.6" cy="250.6" r="0.42"/><circle cx="141.3" cy="278.6" r="0.42"/><circle cx="119.5" cy="224.8" r="0.42"/><circle cx="98.4" cy="240.7" r="0.42"/><circle cx="134.3" cy="222.1" r="0.42"/><circle cx="139.8" cy="234" r="0.42"/><circle cx="97.8" cy="275.2" r="0.42"/><circle cx="113.1" cy="222.1" r="0.42"/><circle cx="146.9" cy="256.2" r="0.42"/><circle cx="96.6" cy="265.8" r="0.42"/><circle cx="102.9" cy="240.6" r="0.42"/><circle cx="141.6" cy="259.5" r="0.42"/><circle cx="104.5" cy="236.8" r="0.42"/><circle cx="102.2" cy="231.9" r="0.42"/><circle cx="140.4" cy="240.3" r="0.42"/><circle cx="128.5" cy="224.3" r="0.42"/><circle cx="140.9" cy="228.7" r="0.42"/><circle cx="101.9" cy="228.7" r="0.42"/><circle cx="137.1" cy="279.2" r="0.42"/><circle cx="106.5" cy="230.7" r="0.42"/><circle cx="111" cy="225.2" r="0.42"/><circle cx="100.8" cy="273.8" r="0.42"/><circle cx="112.7" cy="223.3" r="0.42"/><circle cx="93.8" cy="276.9" r="0.42"/><circle cx="98.5" cy="264.7" r="0.42"/><circle cx="101.1" cy="248.7" r="0.42"/><circle cx="105.4" cy="236.1" r="0.42"/><circle cx="134.8" cy="224.5" r="0.42"/><circle cx="114.2" cy="222.6" r="0.42"/><circle cx="141.4" cy="222.5" r="0.42"/><circle cx="100.1" cy="231.7" r="0.42"/><circle cx="144.2" cy="234.9" r="0.42"/><circle cx="96" cy="272.1" r="0.42"/><circle cx="102.7" cy="242.2" r="0.42"/><circle cx="136.4" cy="279.4" r="0.42"/><circle cx="95.5" cy="253.6" r="0.42"/><circle cx="133.3" cy="223.5" r="0.42"/><circle cx="99.8" cy="243" r="0.42"/><circle cx="138" cy="223.6" r="0.42"/><circle cx="142.8" cy="220.7" r="0.42"/><circle cx="98.4" cy="274.4" r="0.42"/><circle cx="101" cy="230.9" r="0.42"/><circle cx="117.6" cy="224.5" r="0.42"/><circle cx="131.5" cy="222.5" r="0.42"/><circle cx="140.4" cy="248.9" r="0.42"/><circle cx="143.8" cy="237.8" r="0.42"/><circle cx="124.4" cy="219.8" r="0.42"/><circle cx="100.8" cy="253.1" r="0.42"/><circle cx="137.1" cy="225.5" r="0.42"/><circle cx="96.2" cy="258.1" r="0.42"/><circle cx="144.9" cy="239.3" r="0.42"/><circle cx="100.1" cy="242.2" r="0.42"/><circle cx="91.4" cy="237.9" r="0.42"/><circle cx="142.2" cy="250.4" r="0.42"/><circle cx="104" cy="279.3" r="0.42"/><circle cx="143.7" cy="259.4" r="0.42"/><circle cx="120.6" cy="221.7" r="0.42"/><circle cx="101.4" cy="239.8" r="0.42"/><circle cx="123.7" cy="225.2" r="0.42"/><circle cx="133.7" cy="222.5" r="0.42"/><circle cx="129.3" cy="224.4" r="0.42"/><circle cx="125.5" cy="225.5" r="0.42"/><circle cx="101" cy="276.1" r="0.42"/><circle cx="94.1" cy="255.4" r="0.42"/><circle cx="96.4" cy="264.7" r="0.42"/><circle cx="145.3" cy="251.9" r="0.42"/><circle cx="96.5" cy="229.3" r="0.42"/><circle cx="102.7" cy="234.1" r="0.42"/><circle cx="103" cy="236.8" r="0.42"/><circle cx="91.4" cy="228" r="0.42"/><circle cx="95.8" cy="235.8" r="0.42"/><circle cx="96.4" cy="257.5" r="0.42"/><circle cx="108.6" cy="222" r="0.42"/><circle cx="140.4" cy="226.6" r="0.42"/><circle cx="142.4" cy="238.9" r="0.42"/><circle cx="143.3" cy="250.5" r="0.42"/><circle cx="96.1" cy="248.7" r="0.42"/><circle cx="98.7" cy="253.8" r="0.42"/><circle cx="109.2" cy="222.7" r="0.42"/><circle cx="126.7" cy="224.2" r="0.42"/><circle cx="101.6" cy="228.8" r="0.42"/><circle cx="95.5" cy="227.1" r="0.42"/><circle cx="98.7" cy="256.1" r="0.42"/><circle cx="87.6" cy="279.9" r="0.42"/><circle cx="140.5" cy="250.8" r="0.42"/><circle cx="114.6" cy="220.7" r="0.42"/><circle cx="99.3" cy="228.2" r="0.42"/><circle cx="138.9" cy="259.8" r="0.42"/><circle cx="100.2" cy="272" r="0.42"/><circle cx="141.4" cy="245.3" r="0.42"/><circle cx="97.1" cy="231.6" r="0.42"/><circle cx="140.1" cy="231.9" r="0.42"/><circle cx="93.7" cy="247.9" r="0.42"/><circle cx="138.8" cy="265.7" r="0.42"/><circle cx="146.5" cy="231" r="0.42"/><circle cx="120.2" cy="224.4" r="0.42"/><circle cx="119.6" cy="219.6" r="0.42"/><circle cx="103" cy="223.4" r="0.42"/><circle cx="143.9" cy="264.4" r="0.42"/></g>
</g>
<g font-size="2.6" fill="#777" text-anchor="end"><text x="83.8" y="221">10<tspan font-size="1.8" dy="-1">4</tspan></text><text x="83.8" y="236">10<tspan font-size="1.8" dy="-1">3</tspan></text><text x="83.8" y="251.1">10<tspan font-size="1.8" dy="-1">2</tspan></text><text x="83.8" y="266.1">10<tspan font-size="1.8" dy="-1">1</tspan></text><text x="83.8" y="281.1">10<tspan font-size="1.8" dy="-1">0</tspan></text></g>
<g font-size="2.6" fill="#777" text-anchor="middle"><text x="86.3" y="285.2">10<tspan font-size="1.8" dy="-1">0</tspan></text><text x="101.4" y="285.2">10<tspan font-size="1.8" dy="-1">1</tspan></text><text x="116.5" y="285.2">10<tspan font-size="1.8" dy="-1">2</tspan></text><text x="131.6" y="285.2">10<tspan font-size="1.8" dy="-1">3</tspan></text><text x="146.7" y="285.2">10<tspan font-size="1.8" dy="-1">4</tspan></text></g>
<path d="M86.3,281.6v-1M101.4,281.6v-1M116.5,281.6v-1M131.6,281.6v-1M146.7,281.6v-1M84.8,220h1M84.8,235h1M84.8,250.1h1M84.8,265.1h1M84.8,280.1h1" stroke="#777" stroke-width="0.5"/>
<rect x="152" y="218.5" width="63.5" height="63.1" fill="#fff" stroke="#888" stroke-width="0.8"/>
<clipPath id="cp_p1078"><rect x="152" y="218.5" width="63.5" height="63.1"/></clipPath>
<g clip-path="url(#cp_p1078)">
<path d="M193.4,238.4 192.6,238.5 191.9,238.6 191.1,238.5 190.4,238.4 189.9,238.2 189.4,238 188.9,237.8 188.4,237.5 187.9,237.1 187.6,236.9 187.2,236.4 186.9,236 186.6,235.6 186.3,235.1 186.1,234.6 185.9,233.9 185.8,233.4 185.7,232.6 185.7,231.9 185.8,231.1 185.9,230.6 186.1,230 186.4,229.4 186.6,229 186.9,228.6 187.3,228.1 187.6,227.8 188.1,227.4 188.5,227.1 188.9,226.8 189.4,226.5 189.9,226.2 190.4,225.9 190.9,225.6 191.4,225.4 191.9,225.2 192.4,224.9 192.9,224.8 193.4,224.6 194.1,224.4 194.6,224.3 195.4,224.2 196.1,224.1 196.9,224.2 197.6,224.3 198.1,224.4 198.7,224.6 199.1,224.9 199.6,225.3 199.9,225.6 200.2,226.1 200.4,226.6 200.6,227.4 200.5,228.1 200.4,228.9 200.3,229.4 200.1,229.9 199.9,230.4 199.6,230.9 199.4,231.4 199.1,231.9 198.9,232.4 198.6,232.9 198.3,233.4 198.1,233.9 197.8,234.4 197.6,234.9 197.3,235.4 197,235.9 196.6,236.3 196.4,236.6 195.9,237.1 195.5,237.4 195.1,237.7 194.6,238 194.1,238.2 193.5,238.4Z" fill="#888" fill-opacity="0.3" stroke="none"/>
<path d="M192.1,233.9 191.4,233.9 190.9,233.6 190.6,233.2 190.4,232.8 190.1,232.3 189.9,231.8 189.6,231.3 189.4,230.6 189.4,229.9 189.6,229.3 189.9,228.7 190.1,228.2 190.4,227.8 190.7,227.4 191.1,227 191.6,226.6 192,226.4 192.5,226.1 193,225.9 193.6,225.6 194.1,225.4 194.6,225.3 195.4,225.2 196.1,225.3 196.6,225.4 197.2,225.6 197.7,225.9 198.1,226.1 198.6,226.6 198.9,227.1 198.9,227.6 198.7,228.1 198.4,228.6 198.1,228.9 197.8,229.4 197.6,229.9 197.4,230.4 197.1,230.9 196.7,231.4 196.4,231.7 195.9,232 195.4,232.3 194.9,232.5 194.4,232.8 193.9,233 193.4,233.3 192.9,233.6 192.4,233.8Z" fill="#444" fill-opacity="0.4" stroke="none"/>
<path d="M189.6,257.9 189.1,257.9 188.4,257.8 187.6,257.7 186.9,257.6 186.4,257.6 185.6,257.5 184.9,257.4 184.4,257.3 183.6,257.2 182.9,257.1 182.4,257.1 181.6,257 180.9,256.9 180.1,256.9 179.6,256.8 178.9,256.8 178.1,256.7 177.6,256.6 176.9,256.5 176.4,256.3 175.9,256 175.4,255.7 175,255.4 174.6,255 174.3,254.6 173.9,254.2 173.6,253.9 173.3,253.4 173,252.9 172.8,252.4 172.6,251.6 172.7,250.9 172.8,250.1 173,249.6 173.1,249 173.3,248.4 173.5,247.9 173.7,247.4 174,246.9 174.3,246.4 174.6,246 175,245.6 175.4,245.2 175.7,244.9 176.1,244.4 176.4,244.1 176.8,243.6 177.1,243.2 177.4,242.8 177.6,242.1 177.7,241.6 177.7,240.9 177.8,240.1 177.8,239.4 177.8,238.6 177.8,237.9 177.8,237.1 177.8,236.4 177.8,235.6 177.9,234.9 177.9,234.4 177.9,233.6 177.9,232.9 178,232.1 178.1,231.4 178.1,230.7 178.2,230.1 178.4,229.4 178.6,228.9 178.8,228.4 179.1,227.9 179.4,227.5 179.7,227.1 180.1,226.6 180.4,226.2 180.7,225.9 181.1,225.4 181.4,225 181.8,224.6 182.1,224.3 182.5,223.9 182.9,223.5 183.4,223.1 183.7,222.9 184.1,222.6 184.6,222.2 185.1,221.9 185.6,221.6 186.1,221.4 186.6,221.2 187.1,221 187.6,220.8 188.2,220.6 188.9,220.4 189.4,220.3 190.1,220.2 190.6,220.1 191.4,220 192.1,220 192.9,220 193.6,220 194.4,220.1 194.9,220.1 195.6,220.2 196.4,220.4 196.9,220.4 197.6,220.6 198.1,220.7 198.9,220.9 199.4,221 199.9,221.2 200.5,221.4 201.1,221.6 201.6,221.8 202.1,222.1 202.6,222.4 202.9,222.6 203.4,223.1 203.6,223.4 204,223.9 204.3,224.4 204.5,224.9 204.7,225.4 204.9,226 205,226.6 205.1,227.4 205.1,228.1 205.1,228.9 205.1,229.6 205,230.4 205,231.1 205,231.9 205,232.6 204.9,233.4 204.8,233.9 204.7,234.6 204.6,235.1 204.5,235.9 204.3,236.4 204.1,237 203.9,237.6 203.7,238.1 203.6,238.6 203.4,239.1 203.1,239.8 202.9,240.4 202.7,240.9 202.5,241.4 202.3,241.9 202.1,242.4 201.9,243.1 201.7,243.6 201.5,244.1 201.3,244.6 201.1,245.1 200.9,245.8 200.7,246.4 200.5,246.9 200.3,247.4 200.1,247.9 199.9,248.6 199.7,249.1 199.5,249.6 199.4,250.1 199.1,250.9 199,251.4 198.8,251.9 198.6,252.6 198.5,253.1 198.3,253.6 198.1,254.2 197.9,254.8 197.6,255.3 197.4,255.7 197,256.1 196.6,256.4 196.1,256.6 195.4,256.9 194.9,257 194.4,257.1 193.6,257.3 193.1,257.4 192.4,257.6 191.9,257.7 191.1,257.8 190.4,257.9 189.8,257.9 M191.1,255.6 190.4,255.7 189.6,255.8 188.9,255.7 188.1,255.7 187.6,255.6 186.9,255.5 186.1,255.4 185.6,255.4 184.9,255.3 184.1,255.2 183.6,255.1 182.9,255 182.1,254.9 181.5,254.9 180.9,254.8 180.1,254.8 179.4,254.7 178.7,254.6 178.1,254.5 177.4,254.4 176.9,254.1 176.5,253.9 176.1,253.5 175.8,253.1 175.4,252.6 175.1,252.2 174.9,251.6 174.8,251.1 174.9,250.6 175.1,249.9 175.2,249.4 175.4,248.9 175.6,248.4 175.9,247.9 176.3,247.4 176.6,246.9 176.9,246.6 177.4,246.1 177.6,245.9 178.1,245.4 178.4,245 178.7,244.6 178.9,244.1 179.1,243.6 179.3,242.9 179.4,242.1 179.3,241.4 179.3,240.6 179.2,239.9 179.2,239.1 179.1,238.5 179.1,237.9 179.1,237.1 179,236.4 179.1,235.6 179.1,234.9 179.1,234.1 179.1,233.4 179.2,232.9 179.2,232.1 179.3,231.4 179.4,230.6 179.5,230.1 179.6,229.6 179.9,229 180.1,228.6 180.4,228.1 180.8,227.6 181.1,227.2 181.4,226.9 181.8,226.4 182.1,226 182.5,225.6 182.9,225.2 183.3,224.9 183.6,224.6 184.1,224.2 184.5,223.9 184.9,223.6 185.4,223.3 185.9,223 186.4,222.8 186.9,222.6 187.6,222.4 188.1,222.2 188.6,222.1 189.4,221.9 189.9,221.8 190.6,221.7 191.1,221.6 191.9,221.5 192.6,221.5 193.4,221.4 194.1,221.4 194.9,221.4 195.6,221.4 196.4,221.5 197.1,221.6 197.6,221.6 198.4,221.8 198.9,221.9 199.6,222.1 200.1,222.2 200.6,222.4 201.1,222.6 201.6,222.9 202.1,223.3 202.5,223.6 202.9,224.1 203.1,224.4 203.4,224.9 203.6,225.4 203.8,226.1 203.9,226.6 204,227.4 204,228.1 204,228.9 203.9,229.6 203.9,230.4 203.9,231.1 203.9,231.9 203.9,232.4 203.8,233.1 203.7,233.9 203.6,234.4 203.5,235.1 203.4,235.6 203.2,236.4 203,236.9 202.8,237.4 202.6,238 202.4,238.6 202.2,239.1 202,239.6 201.8,240.1 201.6,240.6 201.4,241.3 201.1,241.9 200.9,242.4 200.7,242.9 200.5,243.4 200.3,243.9 200.1,244.4 199.9,244.9 199.6,245.4 199.4,246 199.1,246.5 198.9,247 198.6,247.4 198.4,247.9 198.1,248.4 197.9,248.9 197.6,249.4 197.4,250 197.1,250.6 196.9,251.1 196.7,251.6 196.6,252.1 196.4,252.8 196.2,253.4 195.9,253.9 195.6,254.3 195.2,254.6 194.6,254.9 194.1,255 193.6,255.1 192.9,255.3 192.4,255.4 191.6,255.5 191.1,255.6 M192.1,248.4 191.4,248.5 190.6,248.5 189.9,248.5 189.4,248.4 188.6,248.1 188.1,247.9 187.6,247.7 187.1,247.5 186.6,247.2 186.1,246.9 185.8,246.6 185.4,246.3 184.9,245.9 184.6,245.6 184.2,245.1 183.9,244.7 183.6,244.3 183.4,243.9 183.1,243.4 182.8,242.9 182.6,242.4 182.4,241.9 182.1,241.3 181.9,240.8 181.6,240.1 181.4,239.6 181.3,239.1 181.1,238.6 180.9,237.9 180.8,237.4 180.7,236.6 180.7,235.9 180.7,235.1 180.7,234.4 180.7,233.6 180.7,232.9 180.8,232.1 180.9,231.6 181,230.9 181.1,230.2 181.3,229.6 181.5,229.1 181.7,228.6 182,228.1 182.3,227.6 182.6,227.2 182.9,226.9 183.3,226.4 183.6,226.1 184.1,225.6 184.4,225.4 184.9,225 185.4,224.7 185.9,224.4 186.4,224.1 186.9,223.9 187.4,223.7 187.9,223.5 188.4,223.4 189.1,223.2 189.6,223.1 190.4,222.9 190.9,222.8 191.6,222.7 192.2,222.6 192.9,222.5 193.6,222.4 194.4,222.4 194.9,222.4 195.6,222.3 196.4,222.4 196.9,222.4 197.6,222.5 198.4,222.6 198.9,222.7 199.5,222.9 200.1,223.1 200.6,223.4 201,223.6 201.4,223.9 201.9,224.4 202.1,224.7 202.4,225.1 202.6,225.7 202.8,226.4 202.9,226.9 202.9,227.6 202.9,228.4 202.9,228.9 202.8,229.6 202.8,230.4 202.8,231.1 202.7,231.9 202.7,232.6 202.6,233.4 202.6,233.9 202.4,234.6 202.3,235.1 202.1,235.8 202,236.4 201.8,236.9 201.6,237.4 201.4,237.9 201.1,238.5 200.9,239.1 200.7,239.6 200.4,240.1 200.2,240.6 200,241.1 199.7,241.6 199.5,242.1 199.2,242.6 198.9,243.1 198.6,243.6 198.4,244 198.1,244.4 197.7,244.9 197.4,245.2 196.9,245.6 196.6,245.9 196.1,246.3 195.7,246.6 195.3,246.9 194.9,247.1 194.4,247.4 193.9,247.7 193.4,247.9 192.9,248.2 192.2,248.4 M191.4,245.2 190.6,245.2 190,245.1 189.4,245 188.9,244.8 188.4,244.5 187.9,244.3 187.4,243.9 187,243.6 186.6,243.3 186.3,242.9 185.9,242.4 185.6,242 185.4,241.6 185.1,241.1 184.8,240.6 184.5,240.1 184.2,239.6 184,239.1 183.8,238.6 183.6,238.1 183.4,237.6 183.2,236.9 183.1,236.4 183,235.6 182.9,234.9 182.9,234.1 182.9,233.4 183,232.6 183,231.9 183.1,231.3 183.2,230.6 183.4,230.1 183.6,229.4 183.8,228.9 184.1,228.4 184.4,227.9 184.6,227.6 185,227.1 185.4,226.8 185.9,226.4 186.3,226.1 186.8,225.9 187.2,225.6 187.8,225.4 188.4,225.1 188.9,224.9 189.4,224.7 189.9,224.6 190.5,224.4 191.1,224.2 191.6,224 192.2,223.9 192.9,223.7 193.4,223.6 194.1,223.5 194.8,223.4 195.4,223.3 196.1,223.3 196.9,223.3 197.6,223.4 198.1,223.5 198.7,223.6 199.3,223.9 199.8,224.1 200.2,224.4 200.6,224.8 200.9,225.1 201.2,225.6 201.5,226.1 201.6,226.9 201.7,227.4 201.6,228.1 201.6,228.6 201.5,229.4 201.4,229.9 201.2,230.6 201.1,231.2 201,231.9 200.9,232.6 200.9,233.1 200.7,233.9 200.6,234.4 200.4,235.1 200.2,235.6 200,236.1 199.8,236.6 199.6,237.1 199.4,237.6 199.1,238.1 198.8,238.6 198.5,239.1 198.2,239.6 197.9,240.1 197.6,240.6 197.4,240.9 197.1,241.4 196.7,241.9 196.4,242.2 196,242.6 195.6,243 195.2,243.4 194.8,243.6 194.4,243.9 193.9,244.2 193.4,244.5 192.9,244.7 192.4,244.9 191.6,245.1 M193.1,237.4 192.4,237.5 191.6,237.5 190.9,237.4 190.4,237.3 189.9,237.1 189.3,236.9 188.9,236.6 188.4,236.2 188,235.9 187.6,235.5 187.4,235.1 187.1,234.6 186.8,234.1 186.6,233.5 186.5,232.9 186.4,232.1 186.4,231.4 186.5,230.6 186.7,230.1 186.9,229.6 187.2,229.1 187.5,228.6 187.9,228.2 188.2,227.9 188.6,227.5 189,227.1 189.4,226.9 189.9,226.5 190.4,226.2 190.9,225.9 191.4,225.6 191.9,225.4 192.4,225.2 192.9,225 193.4,224.8 194,224.6 194.6,224.5 195.3,224.4 195.9,224.3 196.6,224.3 197.1,224.4 197.9,224.5 198.4,224.7 198.9,225 199.4,225.3 199.7,225.6 200,226.1 200.2,226.6 200.4,227.4 200.3,228.1 200.2,228.9 200,229.4 199.8,229.9 199.6,230.4 199.3,230.9 199,231.4 198.7,231.9 198.4,232.4 198.1,232.8 197.9,233.2 197.6,233.6 197.3,234.1 196.9,234.6 196.6,235 196.3,235.4 195.9,235.9 195.6,236.1 195.1,236.5 194.6,236.9 194.1,237.1 193.6,237.3 193.1,237.4 M192.9,234.7 192.1,234.7 191.5,234.6 190.9,234.5 190.4,234.2 189.9,233.9 189.6,233.6 189.4,232.9 189.2,232.4 189,231.9 188.7,231.4 188.6,230.9 188.5,230.1 188.6,229.6 188.9,229.1 189.2,228.6 189.5,228.1 189.9,227.7 190.1,227.4 190.6,226.9 191.1,226.6 191.4,226.4 191.9,226.1 192.4,225.8 192.9,225.6 193.4,225.4 194.1,225.1 194.6,225 195.1,224.9 195.9,224.9 196.4,224.9 197.1,225.1 197.6,225.3 198.1,225.5 198.6,225.8 199,226.1 199.4,226.6 199.5,227.1 199.4,227.9 199.1,228.4 198.9,228.8 198.6,229.1 198.3,229.6 198.1,230.1 197.8,230.6 197.5,231.1 197.1,231.6 196.9,231.9 196.4,232.3 195.9,232.6 195.4,232.9 195,233.1 194.6,233.4 194.2,233.9 193.9,234.1 193.4,234.4 192.9,234.7 M192.4,232.9 191.9,232.9 191.4,232.6 190.9,232.2 190.6,231.8 190.3,231.4 190.1,230.9 190,230.1 190.1,229.4 190.2,228.9 190.4,228.4 190.7,227.9 191.1,227.4 191.4,227.1 191.9,226.8 192.4,226.5 192.9,226.2 193.4,226 193.9,225.8 194.4,225.6 195.1,225.5 195.9,225.5 196.4,225.7 196.9,225.9 197.4,226.1 197.9,226.5 198.2,226.9 198.3,227.6 198.1,228.1 197.8,228.6 197.5,229.1 197.2,229.6 197.1,230.1 196.8,230.6 196.4,231.1 196.1,231.4 195.6,231.8 195.1,232 194.6,232.2 194.1,232.4 193.4,232.6 192.9,232.8 192.4,232.9 M194.4,231.4 193.6,231.6 192.9,231.6 192.1,231.4 191.7,231.1 191.4,230.8 191.1,230.4 190.9,229.6 191,228.9 191.2,228.4 191.5,227.9 191.9,227.5 192.3,227.1 192.8,226.9 193.3,226.6 193.9,226.4 194.4,226.3 195.1,226.2 195.9,226.3 196.4,226.6 196.7,226.9 196.9,227.4 196.9,227.9 196.6,228.6 196.5,229.1 196.4,229.6 196.1,230.2 195.8,230.6 195.4,231 194.9,231.3 194.4,231.4 M193.6,230.9 193.1,230.9 192.4,230.6 192.1,230.4 191.7,229.9 191.6,229.4 191.7,228.9 191.9,228.3 192.2,227.9 192.6,227.5 193.1,227.2 193.6,227 194.3,226.9 194.9,226.8 195.4,227 195.8,227.4 195.9,227.9 195.9,228.5 195.8,229.1 195.6,229.6 195.4,230.1 194.9,230.5 194.4,230.8 193.9,230.9 M194.1,230.2 193.4,230.2 192.9,230.1 192.4,229.6 192.3,229.1 192.4,228.6 192.7,228.1 193.1,227.9 193.8,227.6 194.4,227.6 194.9,227.8 195.1,228.4 195.1,229.1 194.8,229.6 194.4,230 M193.9,229.7 193.2,229.6 192.9,229.2 192.9,228.8 193.2,228.4 193.9,228.2 194.4,228.5 194.4,229.1 194.1,229.5" fill="none" stroke="#111" stroke-width="0.45"/>
<g fill="#333"><circle cx="205.9" cy="230.3" r="0.42"/><circle cx="185.8" cy="264.8" r="0.42"/><circle cx="207.7" cy="219.7" r="0.42"/><circle cx="212.5" cy="226.1" r="0.42"/><circle cx="182.5" cy="223.3" r="0.42"/><circle cx="169.5" cy="227.5" r="0.42"/><circle cx="157.5" cy="273" r="0.42"/><circle cx="186.4" cy="219.9" r="0.42"/><circle cx="178.5" cy="229.6" r="0.42"/><circle cx="199.9" cy="248.1" r="0.42"/><circle cx="180.7" cy="259" r="0.42"/><circle cx="159.5" cy="262.2" r="0.42"/><circle cx="177.1" cy="234.5" r="0.42"/><circle cx="177.8" cy="225.4" r="0.42"/><circle cx="173.6" cy="266.1" r="0.42"/><circle cx="208.8" cy="221.3" r="0.42"/><circle cx="188.7" cy="220.3" r="0.42"/><circle cx="205.1" cy="225.9" r="0.42"/><circle cx="204.8" cy="241.3" r="0.42"/><circle cx="195.5" cy="272.5" r="0.42"/><circle cx="196.5" cy="259.8" r="0.42"/><circle cx="164.2" cy="247.1" r="0.42"/><circle cx="202.5" cy="243.4" r="0.42"/><circle cx="198" cy="258.5" r="0.42"/><circle cx="201.6" cy="254" r="0.42"/><circle cx="173.2" cy="232" r="0.42"/><circle cx="182.6" cy="220.8" r="0.42"/><circle cx="204.1" cy="224.4" r="0.42"/><circle cx="190.9" cy="262.3" r="0.42"/><circle cx="168.6" cy="255.1" r="0.42"/><circle cx="182.5" cy="263.1" r="0.42"/><circle cx="187.7" cy="220" r="0.42"/><circle cx="189.9" cy="269.2" r="0.42"/><circle cx="171.6" cy="234.6" r="0.42"/><circle cx="166.8" cy="271.2" r="0.42"/><circle cx="199.7" cy="250.4" r="0.42"/><circle cx="206.6" cy="245.5" r="0.42"/><circle cx="198" cy="264.1" r="0.42"/><circle cx="170.9" cy="254.1" r="0.42"/><circle cx="196.7" cy="257.7" r="0.42"/><circle cx="183" cy="222.6" r="0.42"/><circle cx="170" cy="251.5" r="0.42"/><circle cx="211.1" cy="232.8" r="0.42"/><circle cx="209.8" cy="220.4" r="0.42"/><circle cx="179.5" cy="221.8" r="0.42"/><circle cx="176.3" cy="240.7" r="0.42"/><circle cx="175" cy="227.6" r="0.42"/><circle cx="177" cy="261.7" r="0.42"/><circle cx="210.7" cy="221.5" r="0.42"/><circle cx="198.3" cy="219.7" r="0.42"/><circle cx="156.7" cy="279.9" r="0.42"/><circle cx="207.7" cy="230.3" r="0.42"/><circle cx="175" cy="242.7" r="0.42"/><circle cx="178.2" cy="224.8" r="0.42"/><circle cx="165.3" cy="224.9" r="0.42"/><circle cx="214" cy="235.7" r="0.42"/><circle cx="166.3" cy="262.9" r="0.42"/><circle cx="211.8" cy="219.9" r="0.42"/><circle cx="158.5" cy="265.4" r="0.42"/><circle cx="185.9" cy="278.3" r="0.42"/><circle cx="171.5" cy="246.7" r="0.42"/><circle cx="207.8" cy="233.2" r="0.42"/><circle cx="168.3" cy="226.2" r="0.42"/><circle cx="181.1" cy="223.7" r="0.42"/><circle cx="172" cy="231.2" r="0.42"/><circle cx="168.8" cy="266.1" r="0.42"/><circle cx="184.7" cy="219.5" r="0.42"/><circle cx="174.3" cy="262.5" r="0.42"/><circle cx="184.9" cy="257.3" r="0.42"/><circle cx="209.9" cy="219.6" r="0.42"/><circle cx="197.3" cy="220.5" r="0.42"/><circle cx="201.6" cy="260.2" r="0.42"/><circle cx="186.4" cy="257.7" r="0.42"/><circle cx="209.3" cy="230.3" r="0.42"/><circle cx="177.1" cy="266.5" r="0.42"/><circle cx="178.5" cy="225" r="0.42"/><circle cx="163.7" cy="237.4" r="0.42"/><circle cx="180.5" cy="221.4" r="0.42"/><circle cx="174.1" cy="256" r="0.42"/><circle cx="202.5" cy="220.7" r="0.42"/><circle cx="207.2" cy="223.5" r="0.42"/><circle cx="185.1" cy="261.6" r="0.42"/><circle cx="204.9" cy="241.8" r="0.42"/><circle cx="182.2" cy="257" r="0.42"/><circle cx="191.3" cy="260.2" r="0.42"/><circle cx="170.6" cy="251.9" r="0.42"/><circle cx="212.2" cy="224.2" r="0.42"/><circle cx="190.4" cy="258.7" r="0.42"/><circle cx="183.2" cy="221.5" r="0.42"/><circle cx="209.2" cy="227.8" r="0.42"/><circle cx="175.8" cy="238.6" r="0.42"/><circle cx="178.6" cy="221.3" r="0.42"/><circle cx="185.2" cy="221" r="0.42"/><circle cx="176" cy="256.7" r="0.42"/><circle cx="169.3" cy="260.6" r="0.42"/><circle cx="176.7" cy="233.9" r="0.42"/><circle cx="213.1" cy="234.8" r="0.42"/><circle cx="208.1" cy="224.7" r="0.42"/><circle cx="203.9" cy="243.3" r="0.42"/><circle cx="209.4" cy="248.6" r="0.42"/><circle cx="194.4" cy="271.6" r="0.42"/><circle cx="178.8" cy="220" r="0.42"/><circle cx="206.6" cy="269.7" r="0.42"/><circle cx="202" cy="278.4" r="0.42"/><circle cx="205.4" cy="232.3" r="0.42"/><circle cx="175.1" cy="260" r="0.42"/><circle cx="171.2" cy="264.6" r="0.42"/><circle cx="169.7" cy="256.7" r="0.42"/><circle cx="173.5" cy="229.1" r="0.42"/><circle cx="166.9" cy="253.8" r="0.42"/><circle cx="170.4" cy="267.6" r="0.42"/><circle cx="186.6" cy="221" r="0.42"/><circle cx="177.2" cy="240.7" r="0.42"/><circle cx="184.2" cy="219.8" r="0.42"/><circle cx="191.1" cy="265.6" r="0.42"/><circle cx="201" cy="262.1" r="0.42"/><circle cx="189.6" cy="220.1" r="0.42"/><circle cx="196.5" cy="260.7" r="0.42"/><circle cx="185" cy="258.4" r="0.42"/><circle cx="184.3" cy="221.7" r="0.42"/><circle cx="204.7" cy="243.7" r="0.42"/><circle cx="173.1" cy="258.3" r="0.42"/><circle cx="212.8" cy="231.7" r="0.42"/><circle cx="204.7" cy="242.1" r="0.42"/><circle cx="184" cy="276.1" r="0.42"/><circle cx="199.6" cy="255.1" r="0.42"/><circle cx="171.3" cy="242.1" r="0.42"/><circle cx="189.8" cy="220.3" r="0.42"/><circle cx="205.6" cy="221.3" r="0.42"/><circle cx="161.9" cy="266" r="0.42"/><circle cx="173.1" cy="260.7" r="0.42"/><circle cx="178.3" cy="265.1" r="0.42"/><circle cx="209.1" cy="248.4" r="0.42"/><circle cx="214" cy="248.2" r="0.42"/><circle cx="175.3" cy="244.2" r="0.42"/><circle cx="201.9" cy="260.2" r="0.42"/><circle cx="207.8" cy="231.4" r="0.42"/><circle cx="205.9" cy="241.7" r="0.42"/><circle cx="206.7" cy="239.8" r="0.42"/><circle cx="181" cy="257.1" r="0.42"/><circle cx="181.2" cy="225.2" r="0.42"/><circle cx="188.1" cy="220" r="0.42"/><circle cx="206" cy="220.7" r="0.42"/><circle cx="206.3" cy="223.4" r="0.42"/><circle cx="179.8" cy="266.4" r="0.42"/><circle cx="193.2" cy="259.3" r="0.42"/><circle cx="184.7" cy="260.9" r="0.42"/><circle cx="176" cy="238.5" r="0.42"/><circle cx="173.6" cy="221.1" r="0.42"/><circle cx="204.5" cy="239.7" r="0.42"/><circle cx="202.6" cy="266.6" r="0.42"/><circle cx="169.6" cy="242.7" r="0.42"/><circle cx="165.1" cy="254.9" r="0.42"/><circle cx="173.9" cy="234.2" r="0.42"/><circle cx="182.3" cy="222.3" r="0.42"/><circle cx="203.2" cy="254.2" r="0.42"/><circle cx="205.2" cy="241" r="0.42"/><circle cx="176.9" cy="232.4" r="0.42"/><circle cx="177.6" cy="227.3" r="0.42"/><circle cx="175.4" cy="258.6" r="0.42"/><circle cx="210.1" cy="230.6" r="0.42"/><circle cx="212.8" cy="248.1" r="0.42"/><circle cx="205.8" cy="227.4" r="0.42"/><circle cx="171.4" cy="261.2" r="0.42"/><circle cx="177.2" cy="234.2" r="0.42"/><circle cx="213.1" cy="240.3" r="0.42"/><circle cx="194" cy="271.2" r="0.42"/><circle cx="163.5" cy="259.5" r="0.42"/><circle cx="169.7" cy="260.5" r="0.42"/><circle cx="210.2" cy="232" r="0.42"/><circle cx="188.9" cy="265.5" r="0.42"/><circle cx="213.1" cy="234.6" r="0.42"/><circle cx="160.7" cy="278.1" r="0.42"/><circle cx="169.2" cy="268.8" r="0.42"/><circle cx="165.9" cy="257.2" r="0.42"/><circle cx="191.1" cy="265" r="0.42"/><circle cx="204.7" cy="245.2" r="0.42"/><circle cx="184.3" cy="260" r="0.42"/><circle cx="180.9" cy="221.7" r="0.42"/><circle cx="165.7" cy="278.2" r="0.42"/><circle cx="168.5" cy="263.5" r="0.42"/><circle cx="182.7" cy="222.2" r="0.42"/><circle cx="210.4" cy="226.4" r="0.42"/><circle cx="202.6" cy="248.2" r="0.42"/><circle cx="202.7" cy="261.4" r="0.42"/><circle cx="178.8" cy="222.3" r="0.42"/><circle cx="161.1" cy="274.5" r="0.42"/><circle cx="177.8" cy="232.3" r="0.42"/><circle cx="162.8" cy="279.4" r="0.42"/><circle cx="165.4" cy="261.2" r="0.42"/></g>
</g>
<g font-size="2.6" fill="#777" text-anchor="end"><text x="151" y="221">10<tspan font-size="1.8" dy="-1">4</tspan></text><text x="151" y="236">10<tspan font-size="1.8" dy="-1">3</tspan></text><text x="151" y="251.1">10<tspan font-size="1.8" dy="-1">2</tspan></text><text x="151" y="266.1">10<tspan font-size="1.8" dy="-1">1</tspan></text><text x="151" y="281.1">10<tspan font-size="1.8" dy="-1">0</tspan></text></g>
<g font-size="2.6" fill="#777" text-anchor="middle"><text x="153.5" y="285.2">10<tspan font-size="1.8" dy="-1">0</tspan></text><text x="168.6" y="285.2">10<tspan font-size="1.8" dy="-1">1</tspan></text><text x="183.8" y="285.2">10<tspan font-size="1.8" dy="-1">2</tspan></text><text x="198.9" y="285.2">10<tspan font-size="1.8" dy="-1">3</tspan></text><text x="214" y="285.2">10<tspan font-size="1.8" dy="-1">4</tspan></text></g>
<path d="M153.5,281.6v-1M168.6,281.6v-1M183.8,281.6v-1M198.9,281.6v-1M214,281.6v-1M152,220h1M152,235h1M152,250.1h1M152,265.1h1M152,280.1h1" stroke="#777" stroke-width="0.5"/>
</g>
<!-- HISTOGRAMS -->
<g id="H">
<rect x="2.3" y="298.6" width="69.4" height="69.8" fill="#fff" stroke="#999" stroke-width="0.8"/>
<rect x="81.2" y="298.6" width="69.6" height="69.8" fill="#fff" stroke="#999" stroke-width="0.8"/>
<path d="M2.3,322 L3.18,321.99 L4.06,321.95 L4.94,321.9 L5.81,321.82 L6.69,321.73 L7.57,321.61 L8.45,321.37 L9.33,321.01 L10.21,320.53 L11.08,319.93 L11.96,318.74 L12.84,316.88 L13.72,314.7 L14.6,312.26 L15.48,309.2 L16.36,306.38 L17.23,304.02 L18.11,302.01 L18.99,301.69 L19.87,303.88 L20.75,306.9 L21.63,311.15 L22.51,315.02 L23.38,317.7 L24.26,319.67 L25.14,320.7 L26.02,321.45 L26.9,321.79 L27.78,321.81 L28.65,321.82 L29.53,321.83 L30.41,321.84 L31.29,321.85 L32.17,321.86 L33.05,321.87 L33.93,321.88 L34.8,321.88 L35.68,321.89 L36.56,321.9 L37.44,321.9 L38.32,321.91 L39.2,321.92 L40.07,321.92 L40.95,321.93 L41.83,321.93 L42.71,321.94 L43.59,321.94 L44.47,321.95 L45.35,321.95 L46.22,321.96 L47.1,321.96 L47.98,321.97 L48.86,321.97 L49.74,321.97 L50.62,321.97 L51.49,321.98 L52.37,321.98 L53.25,321.98 L54.13,321.98 L55.01,321.99 L55.89,321.99 L56.77,321.99 L57.64,321.99 L58.52,321.99 L59.4,321.99 L60.28,321.99 L61.16,322 L62.04,322 L62.92,322 L63.79,322 L64.67,322 L65.55,322 L66.43,322 L67.31,322 L68.19,322 L69.06,322 L69.94,322 L70.82,322 L71.7,322Z" fill="#999" stroke="none"/>
<path d="M7,321.7 L7.34,321.68 L7.68,321.64 L8.02,321.57 L8.36,321.47 L8.69,321.34 L9.03,321.2 L9.37,321.03 L9.71,320.84 L10.05,320.64 L10.39,320.42 L10.73,320.19 L11.07,319.95 L11.41,319.6 L11.75,319.11 L12.08,318.51 L12.42,317.82 L12.76,317.06 L13.1,316.25 L13.44,315.4 L13.78,314.55 L14.12,313.69 L14.46,312.71 L14.8,311.59 L15.14,310.41 L15.47,309.2 L15.81,308.04 L16.15,306.96 L16.49,306.02 L16.83,305.13 L17.17,304.2 L17.51,303.3 L17.85,302.5 L18.19,301.89 L18.53,301.55 L18.86,301.56 L19.2,302.03 L19.54,302.86 L19.88,303.92 L20.22,305.07 L20.56,306.2 L20.9,307.54 L21.24,309.16 L21.58,310.89 L21.92,312.59 L22.25,314.1 L22.59,315.3 L22.93,316.37 L23.27,317.38 L23.61,318.3 L23.95,319.09 L24.29,319.71 L24.63,320.14 L24.97,320.52 L25.31,320.86 L25.64,321.17 L25.98,321.43 L26.32,321.63 L26.66,321.76 L27,321.8" fill="none" stroke="#444" stroke-width="0.6"/>
<path d="M2.3,322H71.7" stroke="#888" stroke-width="0.6"/>
<path d="M2.3,333.8 L3.08,333.8 L3.86,333.8 L4.64,333.8 L5.42,333.8 L6.2,333.8 L6.98,333.8 L7.76,333.8 L8.54,333.8 L9.32,333.8 L10.1,333.8 L10.88,333.8 L11.66,333.8 L12.44,333.8 L13.22,333.8 L14,333.8 L14.78,333.8 L15.56,333.8 L16.34,333.8 L17.12,333.8 L17.9,333.8 L18.68,333.8 L19.46,333.8 L20.23,333.8 L21.01,333.8 L21.79,333.8 L22.57,333.8 L23.35,333.8 L24.13,333.8 L24.91,333.8 L25.69,333.8 L26.47,333.8 L27.25,333.8 L28.03,333.8 L28.81,333.8 L29.59,333.8 L30.37,333.8 L31.15,333.8 L31.93,333.8 L32.71,333.8 L33.49,333.8 L34.27,333.8 L35.05,333.8 L35.83,333.8 L36.61,333.8 L37.39,333.8 L38.17,333.8 L38.95,333.8 L39.73,333.8 L40.51,333.8 L41.29,333.8 L42.07,333.8 L42.85,333.34 L43.63,332.31 L44.41,330.97 L45.19,328.91 L45.97,325.81 L46.75,322.66 L47.53,320.13 L48.31,317.74 L49.09,315.67 L49.87,314.08 L50.65,312.79 L51.43,313.01 L52.21,314.99 L52.99,317.25 L53.77,320.02 L54.54,322.41 L55.32,324.48 L56.1,326.05 L56.88,326.27 L57.66,326.09 L58.44,325.82 L59.22,325.37 L60,324.74 L60.78,324.33 L61.56,324.59 L62.34,325.65 L63.12,326.85 L63.9,327.67 L64.68,328.29 L65.46,328.88 L66.24,329.5 L67.02,330.18 L67.8,330.87 L68.58,331.5 L69.36,332.04 L70.14,332.51 L70.92,332.94 L71.7,333.3" fill="none" stroke="#666" stroke-width="0.6"/>
<path d="M2.3,344.8 L3.08,344.8 L3.86,344.8 L4.64,344.8 L5.42,344.8 L6.2,344.8 L6.98,344.8 L7.76,344.8 L8.54,344.8 L9.32,344.8 L10.1,344.8 L10.88,344.8 L11.66,344.8 L12.44,344.8 L13.22,344.8 L14,344.8 L14.78,344.8 L15.56,344.8 L16.34,344.8 L17.12,344.8 L17.9,344.8 L18.68,344.8 L19.46,344.8 L20.23,344.8 L21.01,344.8 L21.79,344.8 L22.57,344.8 L23.35,344.8 L24.13,344.8 L24.91,344.8 L25.69,344.8 L26.47,344.8 L27.25,344.8 L28.03,344.8 L28.81,344.8 L29.59,344.8 L30.37,344.8 L31.15,344.8 L31.93,344.8 L32.71,344.8 L33.49,344.8 L34.27,344.8 L35.05,344.8 L35.83,344.8 L36.61,344.8 L37.39,344.8 L38.17,344.79 L38.95,344.59 L39.73,344.17 L40.51,343.65 L41.29,343.08 L42.07,342.34 L42.85,341.41 L43.63,340.34 L44.41,339.14 L45.19,337.62 L45.97,335.94 L46.75,334.25 L47.53,332.29 L48.31,330.42 L49.09,329.21 L49.87,328.44 L50.65,327.81 L51.43,327.4 L52.21,327.31 L52.99,327.55 L53.77,327.93 L54.54,328.24 L55.32,328.27 L56.1,327.99 L56.88,327.61 L57.66,327.33 L58.44,327.31 L59.22,327.36 L60,327.47 L60.78,327.62 L61.56,327.82 L62.34,328.88 L63.12,330.77 L63.9,332.61 L64.68,334.03 L65.46,335.37 L66.24,336.65 L67.02,337.83 L67.8,338.95 L68.58,340.03 L69.36,341.06 L70.14,342.04 L70.92,342.95 L71.7,343.8" fill="none" stroke="#555" stroke-width="0.6" stroke-dasharray="1.4,0.8"/>
<path d="M2.3,356.4 L3.08,356.4 L3.86,356.4 L4.64,356.4 L5.42,356.4 L6.2,356.4 L6.98,356.4 L7.76,356.4 L8.54,356.4 L9.32,356.4 L10.1,356.4 L10.88,356.4 L11.66,356.4 L12.44,356.4 L13.22,356.4 L14,356.4 L14.78,356.4 L15.56,356.4 L16.34,356.4 L17.12,356.4 L17.9,356.4 L18.68,356.4 L19.46,356.4 L20.23,356.4 L21.01,356.4 L21.79,356.4 L22.57,356.4 L23.35,356.4 L24.13,356.4 L24.91,356.4 L25.69,356.4 L26.47,356.4 L27.25,356.4 L28.03,356.4 L28.81,356.4 L29.59,356.4 L30.37,356.4 L31.15,356.4 L31.93,356.4 L32.71,356.4 L33.49,356.4 L34.27,356.4 L35.05,356.4 L35.83,356.4 L36.61,356.4 L37.39,356.4 L38.17,356.4 L38.95,356.4 L39.73,356.4 L40.51,356.26 L41.29,355.64 L42.07,354.79 L42.85,354.02 L43.63,353.46 L44.41,352.94 L45.19,352.45 L45.97,351.99 L46.75,351.54 L47.53,351.11 L48.31,350.69 L49.09,350.3 L49.87,349.95 L50.65,349.69 L51.43,349.5 L52.21,349.29 L52.99,349 L53.77,348.43 L54.54,347.36 L55.32,346.04 L56.1,344.73 L56.88,343.3 L57.66,341.8 L58.44,340.48 L59.22,339.32 L60,338.14 L60.78,337.09 L61.56,336.32 L62.34,336 L63.12,336.6 L63.9,338.11 L64.68,339.79 L65.46,341.82 L66.24,344.11 L67.02,346.29 L67.8,348.53 L68.58,350.55 L69.36,352.02 L70.14,353.25 L70.92,354.24 L71.7,354.9" fill="none" stroke="#666" stroke-width="0.6"/>
<path d="M2.3,368.2 L3.08,368.2 L3.86,368.2 L4.64,368.2 L5.42,368.2 L6.2,368.2 L6.98,368.2 L7.76,368.2 L8.54,368.2 L9.32,368.2 L10.1,368.2 L10.88,368.2 L11.66,368.2 L12.44,368.2 L13.22,368.2 L14,368.2 L14.78,368.2 L15.56,368.2 L16.34,368.2 L17.12,368.2 L17.9,368.2 L18.68,368.2 L19.46,368.2 L20.23,368.2 L21.01,368.2 L21.79,368.2 L22.57,368.2 L23.35,368.2 L24.13,368.2 L24.91,368.2 L25.69,368.2 L26.47,368.2 L27.25,368.2 L28.03,368.2 L28.81,368.2 L29.59,368.2 L30.37,368.2 L31.15,368.2 L31.93,368.2 L32.71,368.2 L33.49,368.2 L34.27,368.2 L35.05,368.2 L35.83,368.2 L36.61,368.2 L37.39,368.2 L38.17,368.2 L38.95,368.2 L39.73,368.2 L40.51,368.2 L41.29,368.2 L42.07,368.2 L42.85,368.2 L43.63,368.2 L44.41,368.2 L45.19,368.2 L45.97,368.2 L46.75,368.2 L47.53,368.2 L48.31,368.2 L49.09,368.2 L49.87,368.2 L50.65,368.13 L51.43,367.91 L52.21,367.58 L52.99,367.21 L53.77,366.77 L54.54,366.2 L55.32,365.44 L56.1,364.48 L56.88,362.93 L57.66,360.34 L58.44,357.4 L59.22,354.01 L60,350.58 L60.78,348.57 L61.56,347.29 L62.34,347.75 L63.12,349.7 L63.9,352.59 L64.68,356.68 L65.46,360.34 L66.24,363.8 L67.02,365.9 L67.8,367.31 L68.58,367.92 L69.36,368.04 L70.14,368.13 L70.92,368.18 L71.7,368.2" fill="none" stroke="#000" stroke-width="1.3"/>
<path d="M81.2,325.7 L82.08,325.63 L82.96,325.47 L83.84,325.24 L84.72,324.95 L85.61,324.49 L86.49,323.91 L87.37,323.23 L88.25,322.48 L89.13,321.53 L90.01,320.34 L90.89,318.9 L91.77,316.95 L92.65,314.38 L93.53,311.59 L94.42,308.56 L95.3,305.39 L96.18,302.02 L97.06,302.06 L97.94,306.38 L98.82,312.88 L99.7,318.9 L100.58,322.91 L101.46,324.69 L102.34,325.35 L103.23,325.62 L104.11,325.7 L104.99,325.7 L105.87,325.7 L106.75,325.7 L107.63,325.7 L108.51,325.7 L109.39,325.7 L110.27,325.7 L111.15,325.7 L112.04,325.7 L112.92,325.7 L113.8,325.7 L114.68,325.7 L115.56,325.7 L116.44,325.7 L117.32,325.7 L118.2,325.7 L119.08,325.7 L119.96,325.7 L120.85,325.7 L121.73,325.7 L122.61,325.7 L123.49,325.7 L124.37,325.7 L125.25,325.7 L126.13,325.7 L127.01,325.7 L127.89,325.7 L128.77,325.7 L129.66,325.7 L130.54,325.7 L131.42,325.7 L132.3,325.7 L133.18,325.7 L134.06,325.7 L134.94,325.7 L135.82,325.7 L136.7,325.7 L137.58,325.7 L138.47,325.7 L139.35,325.7 L140.23,325.7 L141.11,325.7 L141.99,325.7 L142.87,325.7 L143.75,325.7 L144.63,325.7 L145.51,325.7 L146.39,325.7 L147.28,325.7 L148.16,325.7 L149.04,325.7 L149.92,325.7 L150.8,325.7Z" fill="#999" stroke="none"/>
<path d="M84,325.2 L84.34,325.11 L84.68,324.99 L85.02,324.84 L85.36,324.67 L85.69,324.47 L86.03,324.25 L86.37,324.01 L86.71,323.76 L87.05,323.5 L87.39,323.22 L87.73,322.93 L88.07,322.64 L88.41,322.32 L88.75,321.97 L89.08,321.58 L89.42,321.16 L89.76,320.7 L90.1,320.2 L90.44,319.67 L90.78,319.09 L91.12,318.47 L91.46,317.74 L91.8,316.89 L92.14,315.94 L92.47,314.93 L92.81,313.87 L93.15,312.8 L93.49,311.73 L93.83,310.62 L94.17,309.44 L94.51,308.22 L94.85,306.98 L95.19,305.77 L95.53,304.61 L95.86,303.26 L96.2,301.93 L96.54,301.22 L96.88,301.54 L97.22,302.69 L97.56,304.33 L97.9,306.16 L98.24,308.17 L98.58,310.84 L98.92,313.65 L99.25,316.04 L99.59,318.22 L99.93,320.27 L100.27,321.93 L100.61,322.98 L100.95,323.76 L101.29,324.41 L101.63,324.9 L101.97,325.18 L102.31,325.33 L102.64,325.46 L102.98,325.56 L103.32,325.64 L103.66,325.68 L104,325.7" fill="none" stroke="#444" stroke-width="0.6"/>
<path d="M81.2,325.7H150.8" stroke="#888" stroke-width="0.6"/>
<path d="M81.2,336.2 L81.9,336.2 L82.61,336.2 L83.31,336.2 L84.01,336.2 L84.72,336.2 L85.42,336.2 L86.12,336.2 L86.82,336.2 L87.53,336.2 L88.23,336.2 L88.93,336.2 L89.64,336.2 L90.34,336.2 L91.04,336.2 L91.75,336.2 L92.45,336.2 L93.15,336.2 L93.85,336.2 L94.56,335.9 L95.26,334.84 L95.96,333.37 L96.67,331.82 L97.37,329.71 L98.07,327.15 L98.78,324.65 L99.48,322.74 L100.18,321.39 L100.88,320.2 L101.59,319.22 L102.29,318.49 L102.99,317.98 L103.7,317.57 L104.4,317.24 L105.1,316.97 L105.81,316.73 L106.51,316.49 L107.21,316.3 L107.92,316.2 L108.62,316.48 L109.32,317.43 L110.02,318.49 L110.73,319.2 L111.43,319.83 L112.13,320.33 L112.84,320.62 L113.54,320.85 L114.24,321.05 L114.95,321.2 L115.65,321.28 L116.35,321.25 L117.05,320.63 L117.76,319.58 L118.46,318.39 L119.16,317.39 L119.87,316.49 L120.57,315.59 L121.27,314.69 L121.98,313.75 L122.68,312.54 L123.38,311.67 L124.08,312.78 L124.79,316.15 L125.49,319.32 L126.19,321.98 L126.9,323.47 L127.6,324.58 L128.3,325.6 L129.01,326.62 L129.71,327.56 L130.41,328.47 L131.12,329.38 L131.82,330.34 L132.52,331.44 L133.22,332.71 L133.93,333.93 L134.63,334.85 L135.33,335.42 L136.04,335.9 L136.74,336.18 L137.44,336.2 L138.15,336.2 L138.85,336.2 L139.55,336.2 L140.25,336.2 L140.96,336.2 L141.66,336.2 L142.36,336.2 L143.07,336.2 L143.77,336.2 L144.47,336.2 L145.18,336.2 L145.88,336.2 L146.58,336.2 L147.28,336.2 L147.99,336.2 L148.69,336.2 L149.39,336.2 L150.1,336.2 L150.8,336.2" fill="none" stroke="#666" stroke-width="0.6"/>
<path d="M81.2,346.7 L81.9,346.7 L82.61,346.7 L83.31,346.7 L84.01,346.7 L84.72,346.7 L85.42,346.7 L86.12,346.7 L86.82,346.7 L87.53,346.7 L88.23,346.7 L88.93,346.68 L89.64,346.35 L90.34,345.73 L91.04,344.92 L91.75,344.02 L92.45,343.07 L93.15,341.85 L93.85,340.4 L94.56,338.78 L95.26,337.02 L95.96,334.89 L96.67,332.53 L97.37,330.13 L98.07,327.49 L98.78,324.6 L99.48,322.8 L100.18,322.46 L100.88,322.73 L101.59,325.64 L102.29,329.62 L102.99,332.29 L103.7,333.36 L104.4,334.19 L105.1,334.86 L105.81,335.42 L106.51,335.93 L107.21,336.48 L107.92,337.11 L108.62,337.86 L109.32,338.65 L110.02,339.46 L110.73,340.29 L111.43,341.11 L112.13,341.92 L112.84,342.71 L113.54,343.48 L114.24,344.33 L114.95,345.15 L115.65,345.77 L116.35,346.08 L117.05,346.28 L117.76,346.44 L118.46,346.57 L119.16,346.66 L119.87,346.7 L120.57,346.7 L121.27,346.7 L121.98,346.7 L122.68,346.7 L123.38,346.7 L124.08,346.7 L124.79,346.7 L125.49,346.7 L126.19,346.7 L126.9,346.7 L127.6,346.7 L128.3,346.7 L129.01,346.7 L129.71,346.7 L130.41,346.7 L131.12,346.7 L131.82,346.7 L132.52,346.7 L133.22,346.7 L133.93,346.7 L134.63,346.7 L135.33,346.7 L136.04,346.7 L136.74,346.7 L137.44,346.7 L138.15,346.7 L138.85,346.7 L139.55,346.7 L140.25,346.7 L140.96,346.7 L141.66,346.7 L142.36,346.7 L143.07,346.7 L143.77,346.7 L144.47,346.7 L145.18,346.7 L145.88,346.7 L146.58,346.7 L147.28,346.7 L147.99,346.7 L148.69,346.7 L149.39,346.7 L150.1,346.7 L150.8,346.7" fill="none" stroke="#555" stroke-width="0.6" stroke-dasharray="1.4,0.8"/>
<path d="M81.2,357.2 L81.9,357.2 L82.61,357.2 L83.31,357.2 L84.01,357.2 L84.72,357.2 L85.42,357.2 L86.12,357.2 L86.82,357.2 L87.53,357.2 L88.23,357.2 L88.93,357.2 L89.64,357.2 L90.34,357.2 L91.04,357.2 L91.75,357.2 L92.45,357.2 L93.15,357.2 L93.85,357.2 L94.56,357.2 L95.26,357.2 L95.96,357.2 L96.67,357.2 L97.37,357.2 L98.07,357.2 L98.78,357.2 L99.48,357.2 L100.18,357.19 L100.88,357.08 L101.59,356.84 L102.29,356.53 L102.99,356.18 L103.7,355.83 L104.4,355.53 L105.1,355.24 L105.81,354.96 L106.51,354.67 L107.21,354.35 L107.92,354.01 L108.62,353.63 L109.32,353.2 L110.02,352.71 L110.73,352.1 L111.43,351.2 L112.13,350.09 L112.84,348.87 L113.54,347.64 L114.24,346.51 L114.95,345.55 L115.65,344.69 L116.35,343.89 L117.05,343.1 L117.76,342.3 L118.46,341.43 L119.16,340.46 L119.87,339.28 L120.57,337.97 L121.27,336.73 L121.98,335.73 L122.68,334.88 L123.38,334.08 L124.08,333.49 L124.79,333.31 L125.49,334.02 L126.19,335.45 L126.9,337 L127.6,338.38 L128.3,339.89 L129.01,341.62 L129.71,343.78 L130.41,346.24 L131.12,348.56 L131.82,350.87 L132.52,352.84 L133.22,354.12 L133.93,355.24 L134.63,356.13 L135.33,356.69 L136.04,356.92 L136.74,357.08 L137.44,357.17 L138.15,357.2 L138.85,357.2 L139.55,357.2 L140.25,357.2 L140.96,357.2 L141.66,357.2 L142.36,357.2 L143.07,357.2 L143.77,357.2 L144.47,357.2 L145.18,357.2 L145.88,357.2 L146.58,357.2 L147.28,357.2 L147.99,357.2 L148.69,357.2 L149.39,357.2 L150.1,357.2 L150.8,357.2" fill="none" stroke="#666" stroke-width="0.6"/>
<path d="M81.2,368.3 L81.84,368.3 L82.48,368.3 L83.12,368.3 L83.75,368.3 L84.39,368.3 L85.03,368.23 L85.67,368.08 L86.31,367.88 L86.95,367.65 L87.59,367.43 L88.22,367.24 L88.86,367.06 L89.5,366.89 L90.14,366.71 L90.78,366.49 L91.42,366.24 L92.06,365.88 L92.69,365.38 L93.33,364.81 L93.97,364.23 L94.61,363.72 L95.25,363.2 L95.89,362.67 L96.52,362.2 L97.16,361.85 L97.8,361.62 L98.44,361.41 L99.08,361.24 L99.72,361.13 L100.36,361.1 L100.99,361.1 L101.63,361.1 L102.27,361.1 L102.91,361.1 L103.55,361.03 L104.19,360.72 L104.83,360.28 L105.46,359.82 L106.1,359.38 L106.74,358.86 L107.38,358.22 L108.02,357.37 L108.66,356.29 L109.3,355.08 L109.93,353.86 L110.57,352.71 L111.21,351.52 L111.85,350.32 L112.49,349.18 L113.13,348.2 L113.77,347.35 L114.4,346.57 L115.04,345.95 L115.68,345.54 L116.32,345.21 L116.96,344.95 L117.6,344.81 L118.23,345.23 L118.87,346.93 L119.51,349.04 L120.15,350.9 L120.79,352.87 L121.43,354.91 L122.07,356.99 L122.7,359.29 L123.34,361.52 L123.98,363.26 L124.62,364.56 L125.26,365.74 L125.9,366.71 L126.54,367.38 L127.17,367.71 L127.81,367.94 L128.45,368.13 L129.09,368.25 L129.73,368.3 L130.37,368.3 L131.01,368.3 L131.64,368.3 L132.28,368.3 L132.92,368.3 L133.56,368.3 L134.2,368.3 L134.84,368.3 L135.48,368.3 L136.11,368.3 L136.75,368.3 L137.39,368.3 L138.03,368.3 L138.67,368.3 L139.31,368.3 L139.94,368.3 L140.58,368.3 L141.22,368.3 L141.86,368.3 L142.5,368.3 L143.14,368.3 L143.78,368.3 L144.41,368.3 L145.05,368.3 L145.69,368.3 L146.33,368.3 L146.97,368.3 L147.61,368.3 L148.25,368.3 L148.88,368.3 L149.52,368.3 L150.16,368.3 L150.8,368.3" fill="none" stroke="#000" stroke-width="1.3"/>
<g font-size="3.2" fill="#666" text-anchor="middle"><text x="3" y="374.4">10<tspan font-size="2.2" dy="-1.2">0</tspan></text><text x="19.5" y="374.4">10<tspan font-size="2.2" dy="-1.2">1</tspan></text><text x="38" y="374.4">10<tspan font-size="2.2" dy="-1.2">2</tspan></text><text x="56" y="374.4">10<tspan font-size="2.2" dy="-1.2">3</tspan></text><text x="72.5" y="374.4">10<tspan font-size="2.2" dy="-1.2">4</tspan></text></g>
<path d="M3,368.4v1.3M19.5,368.4v1.3M38,368.4v1.3M56,368.4v1.3M72.5,368.4v1.3" stroke="#888" stroke-width="0.5"/>
<g font-size="3.2" fill="#666" text-anchor="middle"><text x="79.8" y="374.4">10<tspan font-size="2.2" dy="-1.2">0</tspan></text><text x="96.8" y="374.4">10<tspan font-size="2.2" dy="-1.2">1</tspan></text><text x="115.2" y="374.4">10<tspan font-size="2.2" dy="-1.2">2</tspan></text><text x="133" y="374.4">10<tspan font-size="2.2" dy="-1.2">3</tspan></text><text x="149.8" y="374.4">10<tspan font-size="2.2" dy="-1.2">4</tspan></text></g>
<path d="M79.8,368.4v1.3M96.8,368.4v1.3M115.2,368.4v1.3M133,368.4v1.3M149.8,368.4v1.3" stroke="#888" stroke-width="0.5"/>
<g font-size="8" font-weight="bold" fill="#111"><text x="38.1" y="382.6" text-anchor="middle">CD24</text><text x="115.6" y="382.6" text-anchor="middle">CD25</text></g>
<path d="M4.3,379.7H23.8M52.3,379.7H70M81.4,379.7H101.4M130.6,379.7H147" stroke="#444" stroke-width="0.9"/>
<path d="M69.5,378.3L72.5,379.7L69.5,381.1ZM146.5,378.3L149.5,379.7L146.5,381.1Z" fill="#111"/>
<rect x="155.6" y="298.6" width="66.8" height="35.6" fill="#fff" stroke="#999" stroke-width="0.8"/>
<rect x="158.5" y="301" width="3.9" height="4.3" fill="#888" stroke="#555" stroke-width="0.4"/>
<path d="M158.3,309.8H162.6" stroke="#aaa" stroke-width="0.7"/>
<path d="M158.3,316.6H162.6" stroke="#222" stroke-width="0.8" stroke-dasharray="1.2,0.8"/>
<path d="M158.3,323.3H162.6" stroke="#777" stroke-width="0.7"/>
<path d="M158.3,330.1H162.6" stroke="#000" stroke-width="1.3"/>
<g font-size="5.6" fill="#222">
<text x="164.3" y="304.8">Control antibody</text>
<text x="164.3" y="311.6">TJ2/Rag2<tspan font-size="3.3" dy="-2.2">+/-</tspan><tspan dy="2.2" fill="#666"> no.25</tspan></text>
<text x="164.3" y="318.4">TJ2/Rag2<tspan font-size="3.3" dy="-2.2">-/-</tspan><tspan dy="2.2" fill="#666"> no.12</tspan></text>
<text x="164.3" y="325">TJ2/Ra2<tspan font-size="3.3" dy="-2.2">-/-</tspan><tspan dy="2.2" fill="#666"> no.22</tspan></text>
<text x="164.3" y="331.8">TJ2/Rag2<tspan font-size="3.3" dy="-2.2">-/-</tspan><tspan dy="2.2" fill="#666"> no.1078</tspan></text>
</g>
</g>
</svg>
</body></html>
